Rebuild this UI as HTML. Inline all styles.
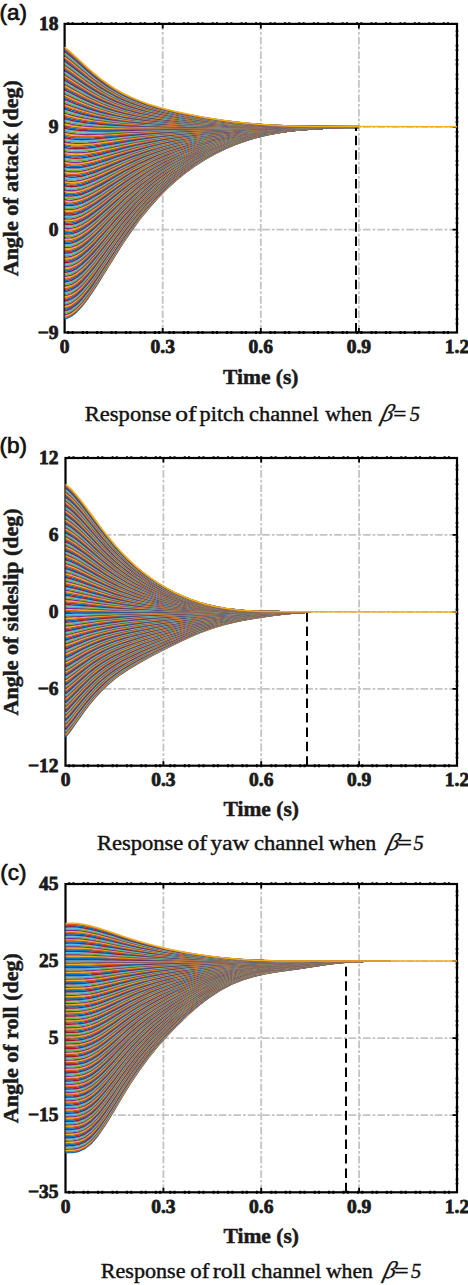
<!DOCTYPE html>
<html><head><meta charset="utf-8"><style>
html,body{margin:0;padding:0;background:#fff;}
body{width:468px;height:1285px;overflow:hidden;position:relative;}
svg{position:absolute;left:0;top:0;}
.grid line{stroke:#c4c4c4;stroke-width:1.8;stroke-dasharray:7.7 2 2.7 2;fill:none;}
.crv path{fill:none;stroke-width:1.5;stroke-linejoin:round;}
.dsh{stroke:#000;stroke-width:2;stroke-dasharray:9.5 4.9;}
.ax{fill:none;stroke:#000;stroke-width:2.2;}
.tk{stroke:#000;stroke-width:1.8;fill:none;}
.bump{stroke:#000;stroke-width:2.9;fill:none;stroke-dasharray:2 2.3 2 8.14;stroke-dashoffset:11.74;}
.bt{stroke-width:2.4;}
.bumpv{stroke:#000;stroke-width:2.6;fill:none;stroke-dasharray:2 2.2 2 8.2;stroke-dashoffset:8;}
.tl text{font-family:"Liberation Serif",serif;font-weight:bold;font-size:19.5px;fill:#1a1a1a;stroke:#1a1a1a;stroke-width:0.8;}
.xl{font-family:"Liberation Serif",serif;font-weight:bold;font-size:21.5px;fill:#1a1a1a;stroke:#1a1a1a;stroke-width:0.5;}
.yl{font-size:22px;}
.pl{font-family:"Liberation Sans",sans-serif;font-size:22.5px;fill:#111;stroke:#111;stroke-width:0.7;}
.cap{font-family:"Liberation Serif",serif;font-size:20.5px;fill:#111;stroke:#111;stroke-width:0.4;}
.beta{font-style:italic;font-size:24px;stroke-width:0.3;}
</style></head><body>
<svg width="468" height="1285" viewBox="0 0 468 1285" xmlns="http://www.w3.org/2000/svg">

<g class="grid"><line x1="162.7" y1="332.5" x2="162.7" y2="23.9"/><line x1="260.8" y1="332.5" x2="260.8" y2="23.9"/><line x1="358.9" y1="332.5" x2="358.9" y2="23.9"/><line x1="457" y1="126.8" x2="64.6" y2="126.8"/><line x1="457" y1="229.6" x2="64.6" y2="229.6"/></g>
<path class="bump" d="M64.6 332.5H457"/>
<path class="bump bt" d="M64.6 23.4H457"/>
<path class="bumpv" d="M457 23.9V332.5"/>
<rect class="ax" x="64.6" y="23.9" width="392.4" height="308.6"/>
<path class="tk" d="M162.7 332.5v-4.5M162.7 23.9v4.5M260.8 332.5v-4.5M260.8 23.9v4.5M358.9 332.5v-4.5M358.9 23.9v4.5M64.6 126.8h4.5M457 126.8h-4.5M64.6 229.6h4.5M457 229.6h-4.5"/>
<g class="crv"><path d="M64.6 318.8l2.6 -0.6 4.1 -2 4.9 -3.9 5.5 -5.8 5.9 -7.7 6.5 -9.5 6.8 -10.7 7.2 -11.7 7.5 -12.1 7.7 -12.1 8.1 -11.9 8.3 -11.4 8.6 -10.7 8.8 -10 9 -9.3 9.3 -8.4 9.4 -7.8 9.7 -7 9.8 -6.4 10 -5.7 10.2 -5.1 10.4 -4.4 10.5 -3.8 10.7 -3.3 10.9 -2.6 11 -2.2 11.1 -1.6 11.3 -1.3 11.5 -0.9 11.6 -0.6 11.7 -0.5 11.8 -0.2 12 -0.2" stroke="#0072BD" stroke-width="1.8"/>
<path d="M64.6 317.4l2.6 -0.6 4.1 -2 4.9 -3.7 5.5 -5.8 5.9 -7.7 6.5 -9.4 6.8 -10.7 7.2 -11.5 7.5 -12 7.7 -12.1 8.1 -11.8 8.3 -11.3 8.6 -10.7 8.8 -9.9 9 -9.2 9.3 -8.4 9.4 -7.7 9.7 -7 9.8 -6.3 10 -5.6 10.2 -5.1 10.4 -4.4 10.5 -3.8 10.7 -3.2 10.9 -2.7 11 -2.1 11.1 -1.6 11.3 -1.3 11.5 -0.9 11.6 -0.6 11.7 -0.5 11.8 -0.2 12 -0.2" stroke="#D95319"/>
<path d="M64.6 316.1l2.6 -0.7 4.1 -1.9 4.9 -3.7 5.5 -5.7 5.9 -7.7 6.5 -9.3 6.8 -10.6 7.2 -11.5 7.5 -11.9 7.7 -12 8.1 -11.7 8.3 -11.2 8.6 -10.6 8.8 -9.9 9 -9.1 9.3 -8.3 9.4 -7.7 9.7 -6.9 9.8 -6.3 10 -5.6 10.2 -5 10.4 -4.4 10.5 -3.8 10.7 -3.2 10.9 -2.6 11 -2.1 11.1 -1.6 11.3 -1.3 11.5 -0.9 11.6 -0.6 11.7 -0.4 11.8 -0.3 12 -0.2" stroke="#EDB120"/>
<path d="M64.6 314.7l2.6 -0.6 4.1 -1.9 4.9 -3.7 5.5 -5.7 5.9 -7.5 6.5 -9.3 6.8 -10.5 7.2 -11.4 7.5 -11.8 7.7 -11.9 8.1 -11.7 8.3 -11.1 8.6 -10.5 8.8 -9.8 9 -9.1 9.3 -8.3 9.4 -7.6 9.7 -6.9 9.8 -6.2 10 -5.6 10.2 -4.9 10.4 -4.4 10.5 -3.8 10.7 -3.1 10.9 -2.6 11 -2.1 11.1 -1.7 11.3 -1.2 11.5 -0.9 11.6 -0.6 11.7 -0.4 11.8 -0.3 12 -0.2" stroke="#7E2F8E"/>
<path d="M64.6 313.3l2.6 -0.6 4.1 -1.8 4.9 -3.7 5.5 -5.6 5.9 -7.5 6.5 -9.2 6.8 -10.4 7.2 -11.3 7.5 -11.8 7.7 -11.8 8.1 -11.6 8.3 -11 8.6 -10.5 8.8 -9.7 9 -9 9.3 -8.2 9.4 -7.6 9.7 -6.8 9.8 -6.2 10 -5.5 10.2 -5 10.4 -4.3 10.5 -3.7 10.7 -3.2 10.9 -2.6 11 -2.1 11.1 -1.6 11.3 -1.2 11.5 -0.9 11.6 -0.6 11.7 -0.4 11.8 -0.3 12 -0.2" stroke="#77AC30"/>
<path d="M64.6 311.9l2.6 -0.5 4.1 -1.9 4.9 -3.6 5.5 -5.5 5.9 -7.5 6.5 -9.1 6.8 -10.4 7.2 -11.2 7.5 -11.6 7.7 -11.8 8.1 -11.4 8.3 -11 8.6 -10.4 8.8 -9.7 9 -8.9 9.3 -8.2 9.4 -7.5 9.7 -6.7 9.8 -6.2 10 -5.5 10.2 -4.9 10.4 -4.3 10.5 -3.7 10.7 -3.1 10.9 -2.6 11 -2.1 11.1 -1.6 11.3 -1.2 11.5 -0.9 11.6 -0.6 11.7 -0.4 11.8 -0.3 12 -0.2" stroke="#4DBEEE"/>
<path d="M64.6 310.6l2.6 -0.6 4.1 -1.8 4.9 -3.6 5.5 -5.5 5.9 -7.4 6.5 -9 6.8 -10.3 7.2 -11.1 7.5 -11.6 7.7 -11.6 8.1 -11.4 8.3 -10.9 8.6 -10.3 8.8 -9.6 9 -8.9 9.3 -8.1 9.4 -7.4 9.7 -6.8 9.8 -6.1 10 -5.5 10.2 -4.8 10.4 -4.3 10.5 -3.7 10.7 -3.1 10.9 -2.6 11 -2 11.1 -1.6 11.3 -1.2 11.5 -0.9 11.6 -0.6 11.7 -0.4 11.8 -0.3 12 -0.2" stroke="#A2142F"/>
<path d="M64.6 309.2l2.6 -0.5 4.1 -1.8 4.9 -3.6 5.5 -5.4 5.9 -7.3 6.5 -9 6.8 -10.2 7.2 -11.1 7.5 -11.5 7.7 -11.5 8.1 -11.3 8.3 -10.9 8.6 -10.2 8.8 -9.5 9 -8.8 9.3 -8.1 9.4 -7.3 9.7 -6.7 9.8 -6.1 10 -5.4 10.2 -4.9 10.4 -4.2 10.5 -3.7 10.7 -3.1 10.9 -2.5 11 -2 11.1 -1.6 11.3 -1.2 11.5 -0.9 11.6 -0.6 11.7 -0.4 11.8 -0.3 12 -0.2" stroke="#0072BD"/>
<path d="M64.6 307.8l2.6 -0.5 4.1 -1.7 4.9 -3.5 5.5 -5.4 5.9 -7.3 6.5 -8.9 6.8 -10.1 7.2 -11 7.5 -11.4 7.7 -11.5 8.1 -11.2 8.3 -10.8 8.6 -10.1 8.8 -9.5 9 -8.7 9.3 -8 9.4 -7.3 9.7 -6.7 9.8 -6 10 -5.4 10.2 -4.8 10.4 -4.2 10.5 -3.7 10.7 -3 10.9 -2.5 11 -2.1 11.1 -1.5 11.3 -1.2 11.5 -0.9 11.6 -0.6 11.7 -0.4 11.8 -0.3 12 -0.2" stroke="#D95319"/>
<path d="M64.6 306.5l2.6 -0.5 4.1 -1.8 4.9 -3.4 5.5 -5.4 5.9 -7.2 6.5 -8.8 6.8 -10 7.2 -10.9 7.5 -11.4 7.7 -11.3 8.1 -11.2 8.3 -10.7 8.6 -10 8.8 -9.4 9 -8.7 9.3 -8 9.4 -7.2 9.7 -6.6 9.8 -6 10 -5.4 10.2 -4.7 10.4 -4.2 10.5 -3.6 10.7 -3.1 10.9 -2.5 11 -2 11.1 -1.5 11.3 -1.2 11.5 -0.9 11.6 -0.6 11.7 -0.4 11.8 -0.3 12 -0.2" stroke="#EDB120"/>
<path d="M64.6 305.1l2.6 -0.5 4.1 -1.7 4.9 -3.4 5.5 -5.3 5.9 -7.1 6.5 -8.8 6.8 -10 7.2 -10.8 7.5 -11.2 7.7 -11.3 8.1 -11.1 8.3 -10.6 8.6 -10 8.8 -9.3 9 -8.6 9.3 -7.9 9.4 -7.2 9.7 -6.6 9.8 -5.9 10 -5.3 10.2 -4.8 10.4 -4.1 10.5 -3.6 10.7 -3 10.9 -2.5 11 -2 11.1 -1.6 11.3 -1.1 11.5 -0.9 11.6 -0.6 11.7 -0.4 11.8 -0.3 12 -0.2" stroke="#7E2F8E"/>
<path d="M64.6 303.7l2.6 -0.4 4.1 -1.7 4.9 -3.4 5.5 -5.2 5.9 -7.1 6.5 -8.7 6.8 -9.9 7.2 -10.7 7.5 -11.2 7.7 -11.2 8.1 -11 8.3 -10.5 8.6 -9.9 8.8 -9.3 9 -8.5 9.3 -7.9 9.4 -7.1 9.7 -6.5 9.8 -5.9 10 -5.3 10.2 -4.7 10.4 -4.1 10.5 -3.6 10.7 -3 10.9 -2.5 11 -1.9 11.1 -1.6 11.3 -1.1 11.5 -0.9 11.6 -0.6 11.7 -0.4 11.8 -0.3 12 -0.2" stroke="#77AC30"/>
<path d="M64.6 302.3l2.6 -0.4 4.1 -1.6 4.9 -3.4 5.5 -5.2 5.9 -7 6.5 -8.6 6.8 -9.8 7.2 -10.6 7.5 -11.1 7.7 -11.1 8.1 -10.9 8.3 -10.5 8.6 -9.8 8.8 -9.2 9 -8.5 9.3 -7.8 9.4 -7.1 9.7 -6.5 9.8 -5.8 10 -5.3 10.2 -4.6 10.4 -4.1 10.5 -3.6 10.7 -2.9 10.9 -2.5 11 -2 11.1 -1.5 11.3 -1.1 11.5 -0.9 11.6 -0.6 11.7 -0.4 11.8 -0.3 12 -0.2" stroke="#4DBEEE"/>
<path d="M64.6 301l2.6 -0.5 4.1 -1.6 4.9 -3.3 5.5 -5.1 5.9 -7 6.5 -8.5 6.8 -9.7 7.2 -10.6 7.5 -11 7.7 -11 8.1 -10.8 8.3 -10.4 8.6 -9.8 8.8 -9.1 9 -8.4 9.3 -7.7 9.4 -7.1 9.7 -6.4 9.8 -5.8 10 -5.2 10.2 -4.7 10.4 -4 10.5 -3.5 10.7 -3 10.9 -2.4 11 -2 11.1 -1.5 11.3 -1.2 11.5 -0.8 11.6 -0.6 11.7 -0.4 11.8 -0.3 12 -0.2" stroke="#A2142F"/>
<path d="M64.6 299.6l2.6 -0.4 4.1 -1.6 4.9 -3.2 5.5 -5.1 5.9 -6.9 6.5 -8.5 6.8 -9.6 7.2 -10.5 7.5 -10.9 7.7 -11 8.1 -10.7 8.3 -10.3 8.6 -9.7 8.8 -9.1 9 -8.3 9.3 -7.7 9.4 -7 9.7 -6.4 9.8 -5.7 10 -5.2 10.2 -4.6 10.4 -4 10.5 -3.5 10.7 -3 10.9 -2.4 11 -1.9 11.1 -1.5 11.3 -1.2 11.5 -0.8 11.6 -0.6 11.7 -0.4 11.8 -0.3 12 -0.2" stroke="#0072BD"/>
<path d="M64.6 298.2l2.6 -0.4 4.1 -1.5 4.9 -3.2 5.5 -5.1 5.9 -6.8 6.5 -8.4 6.8 -9.6 7.2 -10.4 7.5 -10.8 7.7 -10.9 8.1 -10.6 8.3 -10.2 8.6 -9.7 8.8 -8.9 9 -8.3 9.3 -7.6 9.4 -7 9.7 -6.3 9.8 -5.7 10 -5.2 10.2 -4.5 10.4 -4 10.5 -3.5 10.7 -2.9 10.9 -2.4 11 -1.9 11.1 -1.5 11.3 -1.2 11.5 -0.8 11.6 -0.6 11.7 -0.4 11.8 -0.3 12 -0.2" stroke="#D95319"/>
<path d="M64.6 296.9l2.6 -0.4 4.1 -1.6 4.9 -3.1 5.5 -5 5.9 -6.8 6.5 -8.3 6.8 -9.5 7.2 -10.3 7.5 -10.7 7.7 -10.8 8.1 -10.6 8.3 -10.1 8.6 -9.6 8.8 -8.9 9 -8.2 9.3 -7.6 9.4 -6.9 9.7 -6.3 9.8 -5.6 10 -5.1 10.2 -4.6 10.4 -3.9 10.5 -3.5 10.7 -2.9 10.9 -2.4 11 -1.9 11.1 -1.5 11.3 -1.1 11.5 -0.8 11.6 -0.6 11.7 -0.4 11.8 -0.3 12 -0.2" stroke="#EDB120"/>
<path d="M64.6 295.5l2.6 -0.4 4.1 -1.5 4.9 -3.1 5.5 -4.9 5.9 -6.7 6.5 -8.3 6.8 -9.4 7.2 -10.2 7.5 -10.7 7.7 -10.7 8.1 -10.5 8.3 -10 8.6 -9.5 8.8 -8.9 9 -8.1 9.3 -7.5 9.4 -6.9 9.7 -6.2 9.8 -5.6 10 -5.1 10.2 -4.5 10.4 -3.9 10.5 -3.5 10.7 -2.8 10.9 -2.4 11 -1.9 11.1 -1.5 11.3 -1.1 11.5 -0.8 11.6 -0.6 11.7 -0.4 11.8 -0.3 12 -0.2" stroke="#7E2F8E"/>
<path d="M64.6 294.1l2.6 -0.3 4.1 -1.5 4.9 -3.1 5.5 -4.9 5.9 -6.6 6.5 -8.2 6.8 -9.3 7.2 -10.2 7.5 -10.5 7.7 -10.7 8.1 -10.4 8.3 -10 8.6 -9.4 8.8 -8.7 9 -8.1 9.3 -7.5 9.4 -6.8 9.7 -6.2 9.8 -5.6 10 -5 10.2 -4.4 10.4 -4 10.5 -3.3 10.7 -2.9 10.9 -2.3 11 -1.9 11.1 -1.5 11.3 -1.1 11.5 -0.8 11.6 -0.6 11.7 -0.4 11.8 -0.3 12 -0.2" stroke="#77AC30"/>
<path d="M64.6 292.7l2.6 -0.3 4.1 -1.4 4.9 -3.1 5.5 -4.8 5.9 -6.6 6.5 -8.1 6.8 -9.3 7.2 -10 7.5 -10.5 7.7 -10.5 8.1 -10.4 8.3 -9.9 8.6 -9.3 8.8 -8.7 9 -8.1 9.3 -7.3 9.4 -6.8 9.7 -6.1 9.8 -5.6 10 -4.9 10.2 -4.5 10.4 -3.9 10.5 -3.3 10.7 -2.8 10.9 -2.4 11 -1.8 11.1 -1.5 11.3 -1.1 11.5 -0.8 11.6 -0.6 11.7 -0.4 11.8 -0.3 12 -0.2" stroke="#4DBEEE"/>
<path d="M64.6 291.4l2.6 -0.3 4.1 -1.5 4.9 -3 5.5 -4.7 5.9 -6.6 6.5 -8 6.8 -9.2 7.2 -10 7.5 -10.4 7.7 -10.4 8.1 -10.3 8.3 -9.8 8.6 -9.2 8.8 -8.7 9 -8 9.3 -7.3 9.4 -6.7 9.7 -6.1 9.8 -5.5 10 -4.9 10.2 -4.4 10.4 -3.9 10.5 -3.3 10.7 -2.8 10.9 -2.3 11 -1.9 11.1 -1.4 11.3 -1.1 11.5 -0.8 11.6 -0.6 11.7 -0.4 11.8 -0.3 12 -0.1" stroke="#A2142F"/>
<path d="M64.6 290l2.6 -0.3 4.1 -1.4 4.9 -3 5.5 -4.7 5.9 -6.4 6.5 -8 6.8 -9.1 7.2 -9.9 7.5 -10.3 7.7 -10.4 8.1 -10.1 8.3 -9.8 8.6 -9.2 8.8 -8.5 9 -8 9.3 -7.2 9.4 -6.7 9.7 -6 9.8 -5.5 10 -4.9 10.2 -4.3 10.4 -3.9 10.5 -3.3 10.7 -2.8 10.9 -2.3 11 -1.8 11.1 -1.4 11.3 -1.1 11.5 -0.8 11.6 -0.6 11.7 -0.4 11.8 -0.3 12 -0.1" stroke="#0072BD"/>
<path d="M64.6 288.6l2.6 -0.3 4.1 -1.3 4.9 -2.9 5.5 -4.7 5.9 -6.4 6.5 -7.9 6.8 -9 7.2 -9.8 7.5 -10.3 7.7 -10.3 8.1 -10 8.3 -9.7 8.6 -9.1 8.8 -8.5 9 -7.9 9.3 -7.2 9.4 -6.6 9.7 -6 9.8 -5.4 10 -4.8 10.2 -4.4 10.4 -3.8 10.5 -3.2 10.7 -2.8 10.9 -2.3 11 -1.8 11.1 -1.4 11.3 -1.1 11.5 -0.8 11.6 -0.6 11.7 -0.4 11.8 -0.3 12 -0.1" stroke="#D95319"/>
<path d="M64.6 287.3l2.6 -0.3 4.1 -1.3 4.9 -2.9 5.5 -4.7 5.9 -6.3 6.5 -7.8 6.8 -9 7.2 -9.7 7.5 -10.1 7.7 -10.2 8.1 -10 8.3 -9.6 8.6 -9.1 8.8 -8.4 9 -7.8 9.3 -7.1 9.4 -6.6 9.7 -5.9 9.8 -5.4 10 -4.8 10.2 -4.3 10.4 -3.8 10.5 -3.2 10.7 -2.8 10.9 -2.2 11 -1.8 11.1 -1.5 11.3 -1 11.5 -0.8 11.6 -0.6 11.7 -0.4 11.8 -0.3 12 -0.1" stroke="#EDB120"/>
<path d="M64.6 285.9l2.6 -0.3 4.1 -1.3 4.9 -2.8 5.5 -4.6 5.9 -6.3 6.5 -7.7 6.8 -8.9 7.2 -9.6 7.5 -10.1 7.7 -10.1 8.1 -9.9 8.3 -9.5 8.6 -9 8.8 -8.4 9 -7.7 9.3 -7.1 9.4 -6.5 9.7 -5.9 9.8 -5.3 10 -4.8 10.2 -4.2 10.4 -3.8 10.5 -3.2 10.7 -2.7 10.9 -2.3 11 -1.8 11.1 -1.4 11.3 -1 11.5 -0.8 11.6 -0.6 11.7 -0.4 11.8 -0.3 12 -0.1" stroke="#7E2F8E"/>
<path d="M64.6 284.5l2.6 -0.2 4.1 -1.3 4.9 -2.8 5.5 -4.5 5.9 -6.2 6.5 -7.7 6.8 -8.8 7.2 -9.6 7.5 -9.9 7.7 -10.1 8.1 -9.8 8.3 -9.4 8.6 -8.9 8.8 -8.3 9 -7.7 9.3 -7 9.4 -6.5 9.7 -5.8 9.8 -5.3 10 -4.7 10.2 -4.3 10.4 -3.7 10.5 -3.2 10.7 -2.7 10.9 -2.2 11 -1.8 11.1 -1.4 11.3 -1.1 11.5 -0.7 11.6 -0.6 11.7 -0.4 11.8 -0.3 12 -0.1" stroke="#77AC30"/>
<path d="M64.6 283.1l2.6 -0.2 4.1 -1.2 4.9 -2.8 5.5 -4.5 5.9 -6.1 6.5 -7.6 6.8 -8.7 7.2 -9.5 7.5 -9.9 7.7 -9.9 8.1 -9.8 8.3 -9.3 8.6 -8.9 8.8 -8.2 9 -7.6 9.3 -7 9.4 -6.4 9.7 -5.8 9.8 -5.2 10 -4.7 10.2 -4.2 10.4 -3.7 10.5 -3.2 10.7 -2.6 10.9 -2.3 11 -1.7 11.1 -1.4 11.3 -1.1 11.5 -0.7 11.6 -0.6 11.7 -0.4 11.8 -0.2 12 -0.2" stroke="#4DBEEE"/>
<path d="M64.6 281.8l2.6 -0.2 4.1 -1.2 4.9 -2.8 5.5 -4.4 5.9 -6.1 6.5 -7.5 6.8 -8.7 7.2 -9.4 7.5 -9.8 7.7 -9.8 8.1 -9.7 8.3 -9.3 8.6 -8.7 8.8 -8.2 9 -7.5 9.3 -6.9 9.4 -6.4 9.7 -5.7 9.8 -5.2 10 -4.7 10.2 -4.1 10.4 -3.7 10.5 -3.1 10.7 -2.7 10.9 -2.2 11 -1.8 11.1 -1.3 11.3 -1.1 11.5 -0.7 11.6 -0.6 11.7 -0.4 11.8 -0.2 12 -0.2" stroke="#A2142F"/>
<path d="M64.6 280.4l2.6 -0.2 4.1 -1.2 4.9 -2.7 5.5 -4.3 5.9 -6.1 6.5 -7.4 6.8 -8.6 7.2 -9.3 7.5 -9.7 7.7 -9.8 8.1 -9.6 8.3 -9.2 8.6 -8.6 8.8 -8.1 9 -7.5 9.3 -6.9 9.4 -6.2 9.7 -5.8 9.8 -5.1 10 -4.7 10.2 -4.1 10.4 -3.6 10.5 -3.1 10.7 -2.7 10.9 -2.1 11 -1.8 11.1 -1.3 11.3 -1.1 11.5 -0.7 11.6 -0.6 11.7 -0.4 11.8 -0.2 12 -0.2" stroke="#0072BD"/>
<path d="M64.6 279l2.6 -0.1 4.1 -1.2 4.9 -2.7 5.5 -4.3 5.9 -5.9 6.5 -7.4 6.8 -8.5 7.2 -9.2 7.5 -9.7 7.7 -9.7 8.1 -9.5 8.3 -9.1 8.6 -8.6 8.8 -8 9 -7.4 9.3 -6.8 9.4 -6.2 9.7 -5.7 9.8 -5.1 10 -4.6 10.2 -4.1 10.4 -3.6 10.5 -3.1 10.7 -2.6 10.9 -2.2 11 -1.7 11.1 -1.4 11.3 -1 11.5 -0.7 11.6 -0.6 11.7 -0.4 11.8 -0.2 12 -0.2" stroke="#D95319"/>
<path d="M64.6 277.6l2.6 -0.1 4.1 -1.1 4.9 -2.6 5.5 -4.3 5.9 -5.9 6.5 -7.3 6.8 -8.4 7.2 -9.2 7.5 -9.5 7.7 -9.6 8.1 -9.5 8.3 -9 8.6 -8.5 8.8 -8 9 -7.3 9.3 -6.8 9.4 -6.1 9.7 -5.7 9.8 -5 10 -4.6 10.2 -4 10.4 -3.6 10.5 -3.1 10.7 -2.6 10.9 -2.1 11 -1.7 11.1 -1.4 11.3 -1 11.5 -0.8 11.6 -0.5 11.7 -0.4 11.8 -0.2 12 -0.2" stroke="#EDB120"/>
<path d="M64.6 276.3l2.6 -0.2 4.1 -1.1 4.9 -2.5 5.5 -4.3 5.9 -5.8 6.5 -7.2 6.8 -8.4 7.2 -9 7.5 -9.5 7.7 -9.5 8.1 -9.3 8.3 -9 8.6 -8.5 8.8 -7.8 9 -7.3 9.3 -6.7 9.4 -6.1 9.7 -5.6 9.8 -5 10 -4.6 10.2 -4 10.4 -3.5 10.5 -3.1 10.7 -2.5 10.9 -2.2 11 -1.7 11.1 -1.3 11.3 -1 11.5 -0.8 11.6 -0.5 11.7 -0.4 11.8 -0.2 12 -0.2" stroke="#7E2F8E"/>
<path d="M64.6 274.9l2.6 -0.1 4.1 -1.1 4.9 -2.5 5.5 -4.2 5.9 -5.8 6.5 -7.1 6.8 -8.3 7.2 -9 7.5 -9.3 7.7 -9.5 8.1 -9.2 8.3 -8.9 8.6 -8.4 8.8 -7.8 9 -7.2 9.3 -6.7 9.4 -6 9.7 -5.6 9.8 -4.9 10 -4.5 10.2 -4 10.4 -3.5 10.5 -3 10.7 -2.6 10.9 -2.1 11 -1.7 11.1 -1.3 11.3 -1 11.5 -0.8 11.6 -0.5 11.7 -0.4 11.8 -0.2 12 -0.2" stroke="#77AC30"/>
<path d="M64.6 273.5l2.6 -0.1 4.1 -1 4.9 -2.5 5.5 -4.1 5.9 -5.7 6.5 -7.1 6.8 -8.2 7.2 -8.9 7.5 -9.3 7.7 -9.4 8.1 -9.1 8.3 -8.8 8.6 -8.3 8.8 -7.8 9 -7.2 9.3 -6.5 9.4 -6 9.7 -5.5 9.8 -5 10 -4.4 10.2 -3.9 10.4 -3.5 10.5 -3 10.7 -2.5 10.9 -2.1 11 -1.7 11.1 -1.3 11.3 -1 11.5 -0.8 11.6 -0.5 11.7 -0.4 11.8 -0.2 12 -0.2" stroke="#4DBEEE"/>
<path d="M64.6 272.2l2.6 -0.1 4.1 -1 4.9 -2.5 5.5 -4.1 5.9 -5.6 6.5 -7 6.8 -8.1 7.2 -8.9 7.5 -9.2 7.7 -9.2 8.1 -9.1 8.3 -8.8 8.6 -8.2 8.8 -7.7 9 -7.1 9.3 -6.5 9.4 -5.9 9.7 -5.5 9.8 -4.9 10 -4.4 10.2 -3.9 10.4 -3.4 10.5 -3 10.7 -2.5 10.9 -2.1 11 -1.6 11.1 -1.3 11.3 -1 11.5 -0.8 11.6 -0.5 11.7 -0.4 11.8 -0.2 12 -0.2" stroke="#A2142F"/>
<path d="M64.6 270.8l2.6 -0.1 4.1 -1 4.9 -2.4 5.5 -4 5.9 -5.6 6.5 -7 6.8 -8 7.2 -8.7 7.5 -9.1 7.7 -9.2 8.1 -9 8.3 -8.7 8.6 -8.1 8.8 -7.6 9 -7.1 9.3 -6.4 9.4 -5.9 9.7 -5.4 9.8 -4.9 10 -4.3 10.2 -3.9 10.4 -3.4 10.5 -3 10.7 -2.5 10.9 -2 11 -1.7 11.1 -1.3 11.3 -0.9 11.5 -0.8 11.6 -0.5 11.7 -0.4 11.8 -0.2 12 -0.2" stroke="#0072BD"/>
<path d="M64.6 269.4l2.6 0 4.1 -1 4.9 -2.4 5.5 -4 5.9 -5.5 6.5 -6.9 6.8 -7.9 7.2 -8.7 7.5 -9 7.7 -9.1 8.1 -8.9 8.3 -8.6 8.6 -8.1 8.8 -7.5 9 -7 9.3 -6.4 9.4 -5.8 9.7 -5.4 9.8 -4.8 10 -4.3 10.2 -3.9 10.4 -3.3 10.5 -3 10.7 -2.4 10.9 -2.1 11 -1.6 11.1 -1.3 11.3 -1 11.5 -0.7 11.6 -0.5 11.7 -0.4 11.8 -0.2 12 -0.2" stroke="#D95319"/>
<path d="M64.6 268l2.6 0 4.1 -0.9 4.9 -2.4 5.5 -3.9 5.9 -5.5 6.5 -6.8 6.8 -7.8 7.2 -8.6 7.5 -9 7.7 -9 8.1 -8.8 8.3 -8.5 8.6 -8 8.8 -7.5 9 -6.9 9.3 -6.3 9.4 -5.8 9.7 -5.3 9.8 -4.8 10 -4.3 10.2 -3.8 10.4 -3.3 10.5 -2.9 10.7 -2.5 10.9 -2 11 -1.6 11.1 -1.3 11.3 -1 11.5 -0.7 11.6 -0.5 11.7 -0.4 11.8 -0.2 12 -0.2" stroke="#EDB120"/>
<path d="M64.6 266.7l2.6 -0.1 4.1 -0.9 4.9 -2.3 5.5 -3.8 5.9 -5.4 6.5 -6.8 6.8 -7.8 7.2 -8.5 7.5 -8.8 7.7 -9 8.1 -8.7 8.3 -8.4 8.6 -8 8.8 -7.4 9 -6.8 9.3 -6.3 9.4 -5.7 9.7 -5.3 9.8 -4.7 10 -4.2 10.2 -3.8 10.4 -3.4 10.5 -2.8 10.7 -2.4 10.9 -2 11 -1.7 11.1 -1.2 11.3 -1 11.5 -0.7 11.6 -0.5 11.7 -0.4 11.8 -0.2 12 -0.2" stroke="#7E2F8E"/>
<path d="M64.6 265.3l2.6 0 4.1 -0.9 4.9 -2.3 5.5 -3.8 5.9 -5.3 6.5 -6.7 6.8 -7.7 7.2 -8.4 7.5 -8.8 7.7 -8.8 8.1 -8.7 8.3 -8.3 8.6 -7.9 8.8 -7.3 9 -6.8 9.3 -6.2 9.4 -5.7 9.7 -5.2 9.8 -4.7 10 -4.2 10.2 -3.8 10.4 -3.3 10.5 -2.8 10.7 -2.4 10.9 -2 11 -1.6 11.1 -1.2 11.3 -1 11.5 -0.7 11.6 -0.5 11.7 -0.4 11.8 -0.2 12 -0.2" stroke="#77AC30"/>
<path d="M64.6 263.9l2.6 0 4.1 -0.8 4.9 -2.2 5.5 -3.8 5.9 -5.3 6.5 -6.6 6.8 -7.6 7.2 -8.4 7.5 -8.6 7.7 -8.8 8.1 -8.6 8.3 -8.3 8.6 -7.7 8.8 -7.3 9 -6.7 9.3 -6.2 9.4 -5.6 9.7 -5.2 9.8 -4.6 10 -4.2 10.2 -3.7 10.4 -3.3 10.5 -2.8 10.7 -2.4 10.9 -1.9 11 -1.6 11.1 -1.3 11.3 -0.9 11.5 -0.7 11.6 -0.5 11.7 -0.4 11.8 -0.2 12 -0.2" stroke="#4DBEEE"/>
<path d="M64.6 262.6l2.6 0 4.1 -0.9 4.9 -2.1 5.5 -3.8 5.9 -5.2 6.5 -6.5 6.8 -7.6 7.2 -8.2 7.5 -8.6 7.7 -8.7 8.1 -8.5 8.3 -8.2 8.6 -7.7 8.8 -7.2 9 -6.6 9.3 -6.2 9.4 -5.5 9.7 -5.1 9.8 -4.6 10 -4.2 10.2 -3.6 10.4 -3.3 10.5 -2.8 10.7 -2.3 10.9 -2 11 -1.5 11.1 -1.3 11.3 -0.9 11.5 -0.7 11.6 -0.5 11.7 -0.4 11.8 -0.2 12 -0.2" stroke="#A2142F"/>
<path d="M64.6 261.2l2.6 0 4.1 -0.8 4.9 -2.1 5.5 -3.7 5.9 -5.2 6.5 -6.4 6.8 -7.5 7.2 -8.2 7.5 -8.5 7.7 -8.6 8.1 -8.4 8.3 -8.1 8.6 -7.6 8.8 -7.2 9 -6.6 9.3 -6 9.4 -5.5 9.7 -5.1 9.8 -4.5 10 -4.1 10.2 -3.7 10.4 -3.2 10.5 -2.7 10.7 -2.4 10.9 -1.9 11 -1.6 11.1 -1.2 11.3 -0.9 11.5 -0.7 11.6 -0.5 11.7 -0.4 11.8 -0.2 12 -0.2" stroke="#0072BD"/>
<path d="M64.6 259.8l2.6 0.1 4.1 -0.8 4.9 -2.1 5.5 -3.7 5.9 -5.1 6.5 -6.3 6.8 -7.4 7.2 -8.1 7.5 -8.4 7.7 -8.6 8.1 -8.3 8.3 -8 8.6 -7.6 8.8 -7 9 -6.6 9.3 -6 9.4 -5.4 9.7 -5 9.8 -4.6 10 -4 10.2 -3.6 10.4 -3.2 10.5 -2.7 10.7 -2.3 10.9 -2 11 -1.5 11.1 -1.2 11.3 -0.9 11.5 -0.7 11.6 -0.5 11.7 -0.4 11.8 -0.2 12 -0.2" stroke="#D95319"/>
<path d="M64.6 258.4l2.6 0.1 4.1 -0.7 4.9 -2.1 5.5 -3.6 5.9 -5 6.5 -6.4 6.8 -7.3 7.2 -8 7.5 -8.3 7.7 -8.4 8.1 -8.3 8.3 -7.9 8.6 -7.5 8.8 -7 9 -6.5 9.3 -5.9 9.4 -5.5 9.7 -4.9 9.8 -4.5 10 -4 10.2 -3.6 10.4 -3.1 10.5 -2.7 10.7 -2.3 10.9 -1.9 11 -1.5 11.1 -1.2 11.3 -0.9 11.5 -0.7 11.6 -0.5 11.7 -0.4 11.8 -0.2 12 -0.2" stroke="#EDB120"/>
<path d="M64.6 257.1l2.6 0 4.1 -0.7 4.9 -2 5.5 -3.5 5.9 -5 6.5 -6.3 6.8 -7.2 7.2 -7.9 7.5 -8.3 7.7 -8.3 8.1 -8.2 8.3 -7.9 8.6 -7.4 8.8 -6.9 9 -6.4 9.3 -5.9 9.4 -5.4 9.7 -4.8 9.8 -4.5 10 -4 10.2 -3.5 10.4 -3.1 10.5 -2.7 10.7 -2.3 10.9 -1.8 11 -1.6 11.1 -1.1 11.3 -1 11.5 -0.6 11.6 -0.5 11.7 -0.4 11.8 -0.2 12 -0.2" stroke="#7E2F8E"/>
<path d="M64.6 255.7l2.6 0.1 4.1 -0.7 4.9 -2 5.5 -3.5 5.9 -4.9 6.5 -6.2 6.8 -7.1 7.2 -7.9 7.5 -8.1 7.7 -8.3 8.1 -8.1 8.3 -7.8 8.6 -7.3 8.8 -6.9 9 -6.3 9.3 -5.8 9.4 -5.4 9.7 -4.8 9.8 -4.4 10 -3.9 10.2 -3.5 10.4 -3.1 10.5 -2.7 10.7 -2.2 10.9 -1.9 11 -1.5 11.1 -1.2 11.3 -0.9 11.5 -0.6 11.6 -0.5 11.7 -0.4 11.8 -0.2 12 -0.2" stroke="#77AC30"/>
<path d="M64.6 254.3l2.6 0.1 4.1 -0.6 4.9 -2 5.5 -3.4 5.9 -4.9 6.5 -6.1 6.8 -7.1 7.2 -7.7 7.5 -8.1 7.7 -8.2 8.1 -8 8.3 -7.7 8.6 -7.3 8.8 -6.8 9 -6.2 9.3 -5.8 9.4 -5.3 9.7 -4.8 9.8 -4.3 10 -3.9 10.2 -3.5 10.4 -3 10.5 -2.7 10.7 -2.2 10.9 -1.8 11 -1.5 11.1 -1.2 11.3 -0.9 11.5 -0.6 11.6 -0.5 11.7 -0.4 11.8 -0.2 12 -0.2" stroke="#4DBEEE"/>
<path d="M64.6 253l2.6 0.1 4.1 -0.7 4.9 -1.9 5.5 -3.4 5.9 -4.8 6.5 -6 6.8 -7 7.2 -7.7 7.5 -8 7.7 -8.1 8.1 -7.9 8.3 -7.6 8.6 -7.2 8.8 -6.7 9 -6.2 9.3 -5.7 9.4 -5.3 9.7 -4.7 9.8 -4.3 10 -3.9 10.2 -3.4 10.4 -3 10.5 -2.6 10.7 -2.3 10.9 -1.8 11 -1.4 11.1 -1.2 11.3 -0.9 11.5 -0.6 11.6 -0.5 11.7 -0.4 11.8 -0.2 12 -0.2" stroke="#A2142F"/>
<path d="M64.6 251.6l2.6 0.1 4.1 -0.6 4.9 -1.9 5.5 -3.3 5.9 -4.8 6.5 -5.9 6.8 -7 7.2 -7.5 7.5 -8 7.7 -8 8.1 -7.8 8.3 -7.5 8.6 -7.2 8.8 -6.6 9 -6.2 9.3 -5.6 9.4 -5.2 9.7 -4.7 9.8 -4.2 10 -3.8 10.2 -3.4 10.4 -3 10.5 -2.6 10.7 -2.2 10.9 -1.8 11 -1.5 11.1 -1.1 11.3 -0.9 11.5 -0.6 11.6 -0.5 11.7 -0.4 11.8 -0.2 12 -0.2" stroke="#0072BD"/>
<path d="M64.6 250.2l2.6 0.2 4.1 -0.6 4.9 -1.9 5.5 -3.3 5.9 -4.6 6.5 -5.9 6.8 -6.9 7.2 -7.5 7.5 -7.8 7.7 -7.9 8.1 -7.8 8.3 -7.5 8.6 -7 8.8 -6.6 9 -6.1 9.3 -5.6 9.4 -5.1 9.7 -4.6 9.8 -4.2 10 -3.8 10.2 -3.4 10.4 -3 10.5 -2.5 10.7 -2.2 10.9 -1.8 11 -1.4 11.1 -1.1 11.3 -0.9 11.5 -0.7 11.6 -0.4 11.7 -0.4 11.8 -0.2 12 -0.2" stroke="#D95319"/>
<path d="M64.6 248.8l2.6 0.2 4.1 -0.6 4.9 -1.8 5.5 -3.2 5.9 -4.6 6.5 -5.9 6.8 -6.7 7.2 -7.4 7.5 -7.8 7.7 -7.8 8.1 -7.7 8.3 -7.4 8.6 -7 8.8 -6.5 9 -6 9.3 -5.5 9.4 -5.1 9.7 -4.6 9.8 -4.2 10 -3.7 10.2 -3.3 10.4 -3 10.5 -2.5 10.7 -2.1 10.9 -1.8 11 -1.4 11.1 -1.2 11.3 -0.8 11.5 -0.7 11.6 -0.4 11.7 -0.4 11.8 -0.2 12 -0.2" stroke="#EDB120"/>
<path d="M64.6 247.5l2.6 0.1 4.1 -0.5 4.9 -1.8 5.5 -3.2 5.9 -4.5 6.5 -5.8 6.8 -6.7 7.2 -7.3 7.5 -7.7 7.7 -7.7 8.1 -7.6 8.3 -7.3 8.6 -6.9 8.8 -6.5 9 -5.9 9.3 -5.5 9.4 -5 9.7 -4.5 9.8 -4.2 10 -3.7 10.2 -3.3 10.4 -2.9 10.5 -2.5 10.7 -2.1 10.9 -1.8 11 -1.4 11.1 -1.1 11.3 -0.8 11.5 -0.7 11.6 -0.4 11.7 -0.4 11.8 -0.2 12 -0.1" stroke="#7E2F8E"/>
<path d="M64.6 246.1l2.6 0.2 4.1 -0.5 4.9 -1.8 5.5 -3.1 5.9 -4.5 6.5 -5.7 6.8 -6.6 7.2 -7.3 7.5 -7.5 7.7 -7.7 8.1 -7.5 8.3 -7.2 8.6 -6.9 8.8 -6.3 9 -5.9 9.3 -5.4 9.4 -5 9.7 -4.5 9.8 -4.1 10 -3.6 10.2 -3.3 10.4 -2.9 10.5 -2.5 10.7 -2.1 10.9 -1.7 11 -1.4 11.1 -1.1 11.3 -0.8 11.5 -0.7 11.6 -0.4 11.7 -0.4 11.8 -0.2 12 -0.1" stroke="#77AC30"/>
<path d="M64.6 244.7l2.6 0.2 4.1 -0.5 4.9 -1.7 5.5 -3.1 5.9 -4.4 6.5 -5.6 6.8 -6.6 7.2 -7.1 7.5 -7.5 7.7 -7.6 8.1 -7.4 8.3 -7.2 8.6 -6.7 8.8 -6.3 9 -5.8 9.3 -5.4 9.4 -4.9 9.7 -4.5 9.8 -4 10 -3.6 10.2 -3.3 10.4 -2.8 10.5 -2.4 10.7 -2.1 10.9 -1.7 11 -1.4 11.1 -1.1 11.3 -0.9 11.5 -0.6 11.6 -0.4 11.7 -0.4 11.8 -0.2 12 -0.1" stroke="#4DBEEE"/>
<path d="M64.6 243.4l2.6 0.2 4.1 -0.5 4.9 -1.7 5.5 -3 5.9 -4.4 6.5 -5.5 6.8 -6.5 7.2 -7.1 7.5 -7.4 7.7 -7.5 8.1 -7.3 8.3 -7.1 8.6 -6.7 8.8 -6.2 9 -5.8 9.3 -5.3 9.4 -4.8 9.7 -4.4 9.8 -4 10 -3.6 10.2 -3.2 10.4 -2.8 10.5 -2.4 10.7 -2.1 10.9 -1.7 11 -1.4 11.1 -1 11.3 -0.9 11.5 -0.6 11.6 -0.4 11.7 -0.4 11.8 -0.2 12 -0.1" stroke="#A2142F"/>
<path d="M64.6 242l2.6 0.2 4.1 -0.4 4.9 -1.7 5.5 -3 5.9 -4.3 6.5 -5.5 6.8 -6.3 7.2 -7 7.5 -7.4 7.7 -7.4 8.1 -7.2 8.3 -7 8.6 -6.6 8.8 -6.2 9 -5.7 9.3 -5.2 9.4 -4.8 9.7 -4.4 9.8 -3.9 10 -3.6 10.2 -3.1 10.4 -2.8 10.5 -2.4 10.7 -2.1 10.9 -1.6 11 -1.4 11.1 -1.1 11.3 -0.8 11.5 -0.6 11.6 -0.4 11.7 -0.4 11.8 -0.2 12 -0.1" stroke="#0072BD"/>
<path d="M64.6 240.6l2.6 0.2 4.1 -0.4 4.9 -1.6 5.5 -2.9 5.9 -4.3 6.5 -5.4 6.8 -6.3 7.2 -6.9 7.5 -7.2 7.7 -7.4 8.1 -7.1 8.3 -6.9 8.6 -6.6 8.8 -6.1 9 -5.6 9.3 -5.2 9.4 -4.7 9.7 -4.3 9.8 -3.9 10 -3.6 10.2 -3.1 10.4 -2.7 10.5 -2.4 10.7 -2 10.9 -1.7 11 -1.3 11.1 -1.1 11.3 -0.8 11.5 -0.6 11.6 -0.4 11.7 -0.4 11.8 -0.2 12 -0.1" stroke="#D95319"/>
<path d="M64.6 239.2l2.6 0.3 4.1 -0.4 4.9 -1.6 5.5 -2.9 5.9 -4.2 6.5 -5.3 6.8 -6.2 7.2 -6.9 7.5 -7.1 7.7 -7.2 8.1 -7.1 8.3 -6.9 8.6 -6.4 8.8 -6.1 9 -5.5 9.3 -5.1 9.4 -4.7 9.7 -4.3 9.8 -3.9 10 -3.4 10.2 -3.1 10.4 -2.7 10.5 -2.4 10.7 -2 10.9 -1.6 11 -1.4 11.1 -1 11.3 -0.8 11.5 -0.6 11.6 -0.4 11.7 -0.4 11.8 -0.2 12 -0.1" stroke="#EDB120"/>
<path d="M64.6 237.9l2.6 0.2 4.1 -0.4 4.9 -1.5 5.5 -2.8 5.9 -4.2 6.5 -5.2 6.8 -6.2 7.2 -6.7 7.5 -7.1 7.7 -7.1 8.1 -7.1 8.3 -6.7 8.6 -6.4 8.8 -5.9 9 -5.5 9.3 -5.1 9.4 -4.6 9.7 -4.3 9.8 -3.8 10 -3.4 10.2 -3.1 10.4 -2.7 10.5 -2.3 10.7 -1.9 10.9 -1.7 11 -1.3 11.1 -1 11.3 -0.8 11.5 -0.6 11.6 -0.4 11.7 -0.4 11.8 -0.2 12 -0.1" stroke="#7E2F8E"/>
<path d="M64.6 236.5l2.6 0.3 4.1 -0.4 4.9 -1.5 5.5 -2.8 5.9 -4.1 6.5 -5.2 6.8 -6 7.2 -6.7 7.5 -7 7.7 -7 8.1 -7 8.3 -6.6 8.6 -6.3 8.8 -5.9 9 -5.5 9.3 -5 9.4 -4.6 9.7 -4.1 9.8 -3.8 10 -3.4 10.2 -3 10.4 -2.7 10.5 -2.3 10.7 -1.9 10.9 -1.6 11 -1.3 11.1 -1 11.3 -0.8 11.5 -0.6 11.6 -0.5 11.7 -0.3 11.8 -0.2 12 -0.1" stroke="#77AC30"/>
<path d="M64.6 235.1l2.6 0.3 4.1 -0.3 4.9 -1.5 5.5 -2.7 5.9 -4.1 6.5 -5.1 6.8 -6 7.2 -6.6 7.5 -6.9 7.7 -6.9 8.1 -6.9 8.3 -6.6 8.6 -6.2 8.8 -5.8 9 -5.4 9.3 -4.9 9.4 -4.6 9.7 -4.1 9.8 -3.7 10 -3.4 10.2 -3 10.4 -2.6 10.5 -2.2 10.7 -2 10.9 -1.6 11 -1.3 11.1 -1 11.3 -0.7 11.5 -0.6 11.6 -0.5 11.7 -0.3 11.8 -0.2 12 -0.1" stroke="#4DBEEE"/>
<path d="M64.6 233.8l2.6 0.2 4.1 -0.3 4.9 -1.4 5.5 -2.7 5.9 -4 6.5 -5 6.8 -5.9 7.2 -6.5 7.5 -6.8 7.7 -6.9 8.1 -6.8 8.3 -6.5 8.6 -6.2 8.8 -5.7 9 -5.3 9.3 -4.9 9.4 -4.5 9.7 -4 9.8 -3.7 10 -3.3 10.2 -3 10.4 -2.6 10.5 -2.2 10.7 -1.9 10.9 -1.6 11 -1.3 11.1 -1 11.3 -0.8 11.5 -0.5 11.6 -0.5 11.7 -0.3 11.8 -0.2 12 -0.1" stroke="#A2142F"/>
<path d="M64.6 232.4l2.6 0.3 4.1 -0.3 4.9 -1.4 5.5 -2.6 5.9 -3.9 6.5 -5 6.8 -5.9 7.2 -6.4 7.5 -6.7 7.7 -6.8 8.1 -6.7 8.3 -6.4 8.6 -6.1 8.8 -5.7 9 -5.2 9.3 -4.9 9.4 -4.4 9.7 -4 9.8 -3.6 10 -3.3 10.2 -2.9 10.4 -2.6 10.5 -2.2 10.7 -1.9 10.9 -1.6 11 -1.2 11.1 -1 11.3 -0.8 11.5 -0.5 11.6 -0.5 11.7 -0.3 11.8 -0.2 12 -0.1" stroke="#0072BD"/>
<path d="M64.6 231l2.6 0.3 4.1 -0.2 4.9 -1.4 5.5 -2.6 5.9 -3.8 6.5 -5 6.8 -5.7 7.2 -6.4 7.5 -6.6 7.7 -6.7 8.1 -6.6 8.3 -6.4 8.6 -6 8.8 -5.6 9 -5.2 9.3 -4.7 9.4 -4.4 9.7 -4 9.8 -3.6 10 -3.2 10.2 -2.9 10.4 -2.5 10.5 -2.2 10.7 -1.9 10.9 -1.5 11 -1.3 11.1 -0.9 11.3 -0.8 11.5 -0.6 11.6 -0.4 11.7 -0.3 11.8 -0.2 12 -0.1" stroke="#D95319"/>
<path d="M64.6 229.6l2.6 0.4 4.1 -0.3 4.9 -1.3 5.5 -2.6 5.9 -3.7 6.5 -4.9 6.8 -5.7 7.2 -6.2 7.5 -6.6 7.7 -6.6 8.1 -6.5 8.3 -6.3 8.6 -5.9 8.8 -5.6 9 -5.1 9.3 -4.7 9.4 -4.3 9.7 -3.9 9.8 -3.6 10 -3.2 10.2 -2.8 10.4 -2.5 10.5 -2.2 10.7 -1.8 10.9 -1.6 11 -1.2 11.1 -1 11.3 -0.7 11.5 -0.6 11.6 -0.4 11.7 -0.3 11.8 -0.2 12 -0.1" stroke="#EDB120"/>
<path d="M64.6 228.3l2.6 0.3 4.1 -0.2 4.9 -1.3 5.5 -2.5 5.9 -3.7 6.5 -4.8 6.8 -5.6 7.2 -6.2 7.5 -6.5 7.7 -6.5 8.1 -6.4 8.3 -6.2 8.6 -5.9 8.8 -5.5 9 -5 9.3 -4.7 9.4 -4.2 9.7 -3.9 9.8 -3.5 10 -3.2 10.2 -2.8 10.4 -2.4 10.5 -2.2 10.7 -1.8 10.9 -1.5 11 -1.2 11.1 -1 11.3 -0.7 11.5 -0.6 11.6 -0.4 11.7 -0.3 11.8 -0.2 12 -0.1" stroke="#7E2F8E"/>
<path d="M64.6 226.9l2.6 0.3 4.1 -0.2 4.9 -1.2 5.5 -2.5 5.9 -3.6 6.5 -4.8 6.8 -5.5 7.2 -6.1 7.5 -6.3 7.7 -6.5 8.1 -6.4 8.3 -6.1 8.6 -5.7 8.8 -5.4 9 -5 9.3 -4.6 9.4 -4.2 9.7 -3.9 9.8 -3.4 10 -3.1 10.2 -2.8 10.4 -2.5 10.5 -2.1 10.7 -1.8 10.9 -1.5 11 -1.2 11.1 -0.9 11.3 -0.7 11.5 -0.6 11.6 -0.4 11.7 -0.3 11.8 -0.2 12 -0.1" stroke="#77AC30"/>
<path d="M64.6 225.5l2.6 0.4 4.1 -0.2 4.9 -1.2 5.5 -2.4 5.9 -3.6 6.5 -4.7 6.8 -5.4 7.2 -6 7.5 -6.3 7.7 -6.4 8.1 -6.3 8.3 -6 8.6 -5.7 8.8 -5.3 9 -5 9.3 -4.5 9.4 -4.1 9.7 -3.8 9.8 -3.4 10 -3.1 10.2 -2.8 10.4 -2.4 10.5 -2.1 10.7 -1.7 10.9 -1.5 11 -1.2 11.1 -0.9 11.3 -0.7 11.5 -0.6 11.6 -0.4 11.7 -0.3 11.8 -0.2 12 -0.1" stroke="#4DBEEE"/>
<path d="M64.6 224.2l2.6 0.3 4.1 -0.1 4.9 -1.2 5.5 -2.4 5.9 -3.5 6.5 -4.6 6.8 -5.4 7.2 -5.9 7.5 -6.2 7.7 -6.3 8.1 -6.2 8.3 -5.9 8.6 -5.7 8.8 -5.2 9 -4.9 9.3 -4.5 9.4 -4.1 9.7 -3.7 9.8 -3.4 10 -3 10.2 -2.7 10.4 -2.4 10.5 -2.1 10.7 -1.7 10.9 -1.5 11 -1.1 11.1 -1 11.3 -0.7 11.5 -0.5 11.6 -0.4 11.7 -0.3 11.8 -0.2 12 -0.1" stroke="#A2142F"/>
<path d="M64.6 222.8l2.6 0.4 4.1 -0.2 4.9 -1.1 5.5 -2.4 5.9 -3.4 6.5 -4.5 6.8 -5.3 7.2 -5.9 7.5 -6.1 7.7 -6.2 8.1 -6.1 8.3 -5.9 8.6 -5.5 8.8 -5.2 9 -4.8 9.3 -4.4 9.4 -4.1 9.7 -3.7 9.8 -3.3 10 -3 10.2 -2.7 10.4 -2.3 10.5 -2 10.7 -1.8 10.9 -1.4 11 -1.2 11.1 -0.9 11.3 -0.7 11.5 -0.5 11.6 -0.4 11.7 -0.3 11.8 -0.2 12 -0.1" stroke="#0072BD"/>
<path d="M64.6 221.4l2.6 0.4 4.1 -0.1 4.9 -1.1 5.5 -2.3 5.9 -3.5 6.5 -4.4 6.8 -5.2 7.2 -5.7 7.5 -6.1 7.7 -6.1 8.1 -6 8.3 -5.8 8.6 -5.5 8.8 -5.1 9 -4.7 9.3 -4.4 9.4 -4 9.7 -3.6 9.8 -3.3 10 -3 10.2 -2.6 10.4 -2.3 10.5 -2 10.7 -1.7 10.9 -1.5 11 -1.1 11.1 -0.9 11.3 -0.7 11.5 -0.5 11.6 -0.4 11.7 -0.3 11.8 -0.2 12 -0.1" stroke="#D95319"/>
<path d="M64.6 220l2.6 0.4 4.1 -0.1 4.9 -1 5.5 -2.3 5.9 -3.4 6.5 -4.3 6.8 -5.2 7.2 -5.6 7.5 -6 7.7 -6 8.1 -5.9 8.3 -5.8 8.6 -5.4 8.8 -5 9 -4.7 9.3 -4.3 9.4 -3.9 9.7 -3.6 9.8 -3.2 10 -3 10.2 -2.6 10.4 -2.2 10.5 -2 10.7 -1.7 10.9 -1.4 11 -1.1 11.1 -0.9 11.3 -0.7 11.5 -0.5 11.6 -0.4 11.7 -0.3 11.8 -0.2 12 -0.1" stroke="#EDB120"/>
<path d="M64.6 218.7l2.6 0.4 4.1 -0.1 4.9 -1.1 5.5 -2.1 5.9 -3.4 6.5 -4.3 6.8 -5 7.2 -5.6 7.5 -5.9 7.7 -5.9 8.1 -5.9 8.3 -5.6 8.6 -5.3 8.8 -5 9 -4.6 9.3 -4.2 9.4 -3.9 9.7 -3.6 9.8 -3.2 10 -2.8 10.2 -2.6 10.4 -2.3 10.5 -1.9 10.7 -1.7 10.9 -1.4 11 -1.1 11.1 -0.8 11.3 -0.7 11.5 -0.5 11.6 -0.4 11.7 -0.3 11.8 -0.2 12 -0.1" stroke="#7E2F8E"/>
<path d="M64.6 217.3l2.6 0.4 4.1 0 4.9 -1.1 5.5 -2.1 5.9 -3.3 6.5 -4.2 6.8 -5 7.2 -5.5 7.5 -5.8 7.7 -5.8 8.1 -5.8 8.3 -5.5 8.6 -5.3 8.8 -4.9 9 -4.5 9.3 -4.2 9.4 -3.8 9.7 -3.5 9.8 -3.2 10 -2.8 10.2 -2.5 10.4 -2.3 10.5 -1.9 10.7 -1.6 10.9 -1.4 11 -1.1 11.1 -0.9 11.3 -0.6 11.5 -0.5 11.6 -0.4 11.7 -0.3 11.8 -0.2 12 -0.1" stroke="#77AC30"/>
<path d="M64.6 215.9l2.6 0.4 4.1 0 4.9 -1 5.5 -2.1 5.9 -3.2 6.5 -4.1 6.8 -4.9 7.2 -5.4 7.5 -5.7 7.7 -5.8 8.1 -5.7 8.3 -5.5 8.6 -5.2 8.8 -4.8 9 -4.5 9.3 -4.1 9.4 -3.8 9.7 -3.4 9.8 -3.1 10 -2.8 10.2 -2.5 10.4 -2.2 10.5 -1.9 10.7 -1.6 10.9 -1.4 11 -1 11.1 -0.9 11.3 -0.7 11.5 -0.5 11.6 -0.3 11.7 -0.3 11.8 -0.2 12 -0.1" stroke="#4DBEEE"/>
<path d="M64.6 214.5l2.6 0.5 4.1 0 4.9 -1 5.5 -2 5.9 -3.2 6.5 -4.1 6.8 -4.8 7.2 -5.3 7.5 -5.6 7.7 -5.7 8.1 -5.6 8.3 -5.4 8.6 -5.1 8.8 -4.8 9 -4.4 9.3 -4.1 9.4 -3.7 9.7 -3.4 9.8 -3 10 -2.8 10.2 -2.4 10.4 -2.2 10.5 -1.9 10.7 -1.6 10.9 -1.3 11 -1.1 11.1 -0.8 11.3 -0.7 11.5 -0.5 11.6 -0.3 11.7 -0.3 11.8 -0.2 12 -0.1" stroke="#A2142F"/>
<path d="M64.6 213.2l2.6 0.4 4.1 0 4.9 -0.9 5.5 -2 5.9 -3.1 6.5 -4 6.8 -4.8 7.2 -5.2 7.5 -5.5 7.7 -5.6 8.1 -5.5 8.3 -5.4 8.6 -5 8.8 -4.7 9 -4.3 9.3 -4 9.4 -3.7 9.7 -3.3 9.8 -3.1 10 -2.7 10.2 -2.4 10.4 -2.1 10.5 -1.9 10.7 -1.6 10.9 -1.3 11 -1 11.1 -0.8 11.3 -0.7 11.5 -0.5 11.6 -0.3 11.7 -0.3 11.8 -0.2 12 -0.1" stroke="#0072BD"/>
<path d="M64.6 211.8l2.6 0.5 4.1 0 4.9 -0.9 5.5 -2 5.9 -3 6.5 -3.9 6.8 -4.7 7.2 -5.2 7.5 -5.4 7.7 -5.5 8.1 -5.5 8.3 -5.2 8.6 -5 8.8 -4.6 9 -4.3 9.3 -3.9 9.4 -3.6 9.7 -3.3 9.8 -3 10 -2.7 10.2 -2.3 10.4 -2.2 10.5 -1.8 10.7 -1.5 10.9 -1.3 11 -1 11.1 -0.9 11.3 -0.6 11.5 -0.5 11.6 -0.3 11.7 -0.3 11.8 -0.2 12 -0.1" stroke="#D95319"/>
<path d="M64.6 210.4l2.6 0.5 4.1 0 4.9 -0.8 5.5 -1.9 5.9 -3 6.5 -3.9 6.8 -4.6 7.2 -5.1 7.5 -5.3 7.7 -5.5 8.1 -5.3 8.3 -5.1 8.6 -4.9 8.8 -4.6 9 -4.2 9.3 -3.9 9.4 -3.5 9.7 -3.3 9.8 -2.9 10 -2.6 10.2 -2.4 10.4 -2.1 10.5 -1.8 10.7 -1.5 10.9 -1.3 11 -1 11.1 -0.8 11.3 -0.6 11.5 -0.5 11.6 -0.4 11.7 -0.2 11.8 -0.2 12 -0.1" stroke="#EDB120"/>
<path d="M64.6 209.1l2.6 0.4 4.1 0.1 4.9 -0.8 5.5 -1.9 5.9 -2.9 6.5 -3.8 6.8 -4.5 7.2 -5 7.5 -5.3 7.7 -5.4 8.1 -5.2 8.3 -5.1 8.6 -4.8 8.8 -4.5 9 -4.1 9.3 -3.9 9.4 -3.5 9.7 -3.1 9.8 -2.9 10 -2.6 10.2 -2.3 10.4 -2.1 10.5 -1.8 10.7 -1.5 10.9 -1.2 11 -1 11.1 -0.8 11.3 -0.6 11.5 -0.5 11.6 -0.4 11.7 -0.2 11.8 -0.2 12 -0.1" stroke="#7E2F8E"/>
<path d="M64.6 207.7l2.6 0.5 4.1 0.1 4.9 -0.8 5.5 -1.9 5.9 -2.8 6.5 -3.8 6.8 -4.4 7.2 -4.9 7.5 -5.2 7.7 -5.3 8.1 -5.1 8.3 -5 8.6 -4.8 8.8 -4.4 9 -4.1 9.3 -3.7 9.4 -3.5 9.7 -3.1 9.8 -2.9 10 -2.5 10.2 -2.3 10.4 -2 10.5 -1.8 10.7 -1.4 10.9 -1.3 11 -1 11.1 -0.8 11.3 -0.6 11.5 -0.4 11.6 -0.4 11.7 -0.2 11.8 -0.2 12 -0.1" stroke="#77AC30"/>
<path d="M64.6 206.3l2.6 0.5 4.1 0.1 4.9 -0.8 5.5 -1.7 5.9 -2.8 6.5 -3.7 6.8 -4.4 7.2 -4.8 7.5 -5.1 7.7 -5.2 8.1 -5.1 8.3 -4.9 8.6 -4.6 8.8 -4.4 9 -4 9.3 -3.7 9.4 -3.4 9.7 -3.1 9.8 -2.8 10 -2.5 10.2 -2.3 10.4 -1.9 10.5 -1.7 10.7 -1.5 10.9 -1.2 11 -1 11.1 -0.8 11.3 -0.6 11.5 -0.4 11.6 -0.4 11.7 -0.2 11.8 -0.2 12 -0.1" stroke="#4DBEEE"/>
<path d="M64.6 204.9l2.6 0.5 4.1 0.2 4.9 -0.8 5.5 -1.7 5.9 -2.8 6.5 -3.6 6.8 -4.2 7.2 -4.8 7.5 -5 7.7 -5.1 8.1 -5 8.3 -4.8 8.6 -4.6 8.8 -4.3 9 -3.9 9.3 -3.7 9.4 -3.3 9.7 -3.1 9.8 -2.7 10 -2.5 10.2 -2.2 10.4 -2 10.5 -1.6 10.7 -1.5 10.9 -1.2 11 -0.9 11.1 -0.8 11.3 -0.6 11.5 -0.4 11.6 -0.4 11.7 -0.2 11.8 -0.2 12 -0.1" stroke="#A2142F"/>
<path d="M64.6 203.6l2.6 0.5 4.1 0.1 4.9 -0.7 5.5 -1.7 5.9 -2.7 6.5 -3.5 6.8 -4.2 7.2 -4.7 7.5 -4.9 7.7 -5 8.1 -4.9 8.3 -4.8 8.6 -4.5 8.8 -4.2 9 -3.9 9.3 -3.6 9.4 -3.2 9.7 -3 9.8 -2.7 10 -2.5 10.2 -2.2 10.4 -1.9 10.5 -1.6 10.7 -1.4 10.9 -1.2 11 -1 11.1 -0.7 11.3 -0.6 11.5 -0.5 11.6 -0.3 11.7 -0.2 11.8 -0.2 12 -0.2" stroke="#0072BD"/>
<path d="M64.6 202.2l2.6 0.5 4.1 0.2 4.9 -0.7 5.5 -1.7 5.9 -2.6 6.5 -3.5 6.8 -4.1 7.2 -4.6 7.5 -4.8 7.7 -4.9 8.1 -4.9 8.3 -4.6 8.6 -4.5 8.8 -4.1 9 -3.8 9.3 -3.5 9.4 -3.3 9.7 -2.9 9.8 -2.7 10 -2.4 10.2 -2.1 10.4 -1.9 10.5 -1.6 10.7 -1.4 10.9 -1.2 11 -0.9 11.1 -0.8 11.3 -0.5 11.5 -0.5 11.6 -0.3 11.7 -0.2 11.8 -0.2 12 -0.2" stroke="#D95319"/>
<path d="M64.6 200.8l2.6 0.5 4.1 0.2 4.9 -0.6 5.5 -1.6 5.9 -2.6 6.5 -3.4 6.8 -4.1 7.2 -4.5 7.5 -4.7 7.7 -4.8 8.1 -4.8 8.3 -4.6 8.6 -4.3 8.8 -4.1 9 -3.8 9.3 -3.4 9.4 -3.2 9.7 -2.9 9.8 -2.6 10 -2.4 10.2 -2.1 10.4 -1.8 10.5 -1.6 10.7 -1.4 10.9 -1.1 11 -1 11.1 -0.7 11.3 -0.6 11.5 -0.4 11.6 -0.3 11.7 -0.2 11.8 -0.2 12 -0.2" stroke="#EDB120"/>
<path d="M64.6 199.5l2.6 0.5 4.1 0.2 4.9 -0.6 5.5 -1.6 5.9 -2.5 6.5 -3.4 6.8 -3.9 7.2 -4.4 7.5 -4.7 7.7 -4.8 8.1 -4.6 8.3 -4.5 8.6 -4.3 8.8 -4 9 -3.7 9.3 -3.4 9.4 -3.1 9.7 -2.9 9.8 -2.5 10 -2.3 10.2 -2.1 10.4 -1.8 10.5 -1.6 10.7 -1.4 10.9 -1.1 11 -0.9 11.1 -0.7 11.3 -0.6 11.5 -0.4 11.6 -0.3 11.7 -0.3 11.8 -0.1 12 -0.2" stroke="#7E2F8E"/>
<path d="M64.6 198.1l2.6 0.5 4.1 0.2 4.9 -0.6 5.5 -1.5 5.9 -2.4 6.5 -3.3 6.8 -3.9 7.2 -4.3 7.5 -4.6 7.7 -4.7 8.1 -4.6 8.3 -4.4 8.6 -4.2 8.8 -3.9 9 -3.6 9.3 -3.4 9.4 -3 9.7 -2.8 9.8 -2.6 10 -2.2 10.2 -2.1 10.4 -1.8 10.5 -1.5 10.7 -1.3 10.9 -1.1 11 -0.9 11.1 -0.7 11.3 -0.6 11.5 -0.4 11.6 -0.3 11.7 -0.3 11.8 -0.1 12 -0.2" stroke="#77AC30"/>
<path d="M64.6 196.7l2.6 0.6 4.1 0.2 4.9 -0.6 5.5 -1.5 5.9 -2.4 6.5 -3.2 6.8 -3.8 7.2 -4.2 7.5 -4.5 7.7 -4.6 8.1 -4.5 8.3 -4.3 8.6 -4.2 8.8 -3.8 9 -3.6 9.3 -3.3 9.4 -3 9.7 -2.7 9.8 -2.5 10 -2.2 10.2 -2 10.4 -1.8 10.5 -1.5 10.7 -1.3 10.9 -1.1 11 -0.9 11.1 -0.7 11.3 -0.5 11.5 -0.4 11.6 -0.3 11.7 -0.3 11.8 -0.1 12 -0.2" stroke="#4DBEEE"/>
<path d="M64.6 195.3l2.6 0.6 4.1 0.2 4.9 -0.5 5.5 -1.4 5.9 -2.4 6.5 -3.1 6.8 -3.7 7.2 -4.2 7.5 -4.4 7.7 -4.5 8.1 -4.4 8.3 -4.3 8.6 -4 8.8 -3.8 9 -3.5 9.3 -3.2 9.4 -3 9.7 -2.7 9.8 -2.4 10 -2.2 10.2 -2 10.4 -1.7 10.5 -1.5 10.7 -1.3 10.9 -1 11 -0.9 11.1 -0.7 11.3 -0.5 11.5 -0.4 11.6 -0.3 11.7 -0.3 11.8 -0.1 12 -0.2" stroke="#A2142F"/>
<path d="M64.6 194l2.6 0.5 4.1 0.3 4.9 -0.5 5.5 -1.4 5.9 -2.3 6.5 -3.1 6.8 -3.6 7.2 -4.1 7.5 -4.3 7.7 -4.4 8.1 -4.4 8.3 -4.1 8.6 -4 8.8 -3.7 9 -3.5 9.3 -3.1 9.4 -2.9 9.7 -2.7 9.8 -2.4 10 -2.1 10.2 -1.9 10.4 -1.7 10.5 -1.5 10.7 -1.3 10.9 -1 11 -0.9 11.1 -0.6 11.3 -0.6 11.5 -0.4 11.6 -0.3 11.7 -0.2 11.8 -0.1 12 -0.2" stroke="#0072BD"/>
<path d="M64.6 192.6l2.6 0.6 4.1 0.2 4.9 -0.4 5.5 -1.4 5.9 -2.2 6.5 -3 6.8 -3.6 7.2 -4 7.5 -4.2 7.7 -4.3 8.1 -4.3 8.3 -4.1 8.6 -3.9 8.8 -3.6 9 -3.4 9.3 -3.1 9.4 -2.8 9.7 -2.6 9.8 -2.4 10 -2.1 10.2 -1.9 10.4 -1.7 10.5 -1.4 10.7 -1.2 10.9 -1.1 11 -0.8 11.1 -0.7 11.3 -0.5 11.5 -0.4 11.6 -0.3 11.7 -0.2 11.8 -0.2 12 -0.1" stroke="#D95319"/>
<path d="M64.6 191.2l2.6 0.6 4.1 0.3 4.9 -0.5 5.5 -1.3 5.9 -2.1 6.5 -3 6.8 -3.5 7.2 -3.9 7.5 -4.1 7.7 -4.3 8.1 -4.1 8.3 -4.1 8.6 -3.8 8.8 -3.5 9 -3.3 9.3 -3.1 9.4 -2.8 9.7 -2.5 9.8 -2.3 10 -2.1 10.2 -1.8 10.4 -1.7 10.5 -1.4 10.7 -1.2 10.9 -1 11 -0.8 11.1 -0.7 11.3 -0.5 11.5 -0.4 11.6 -0.3 11.7 -0.2 11.8 -0.2 12 -0.1" stroke="#EDB120"/>
<path d="M64.6 189.9l2.6 0.5 4.1 0.3 4.9 -0.4 5.5 -1.3 5.9 -2.1 6.5 -2.8 6.8 -3.5 7.2 -3.8 7.5 -4.1 7.7 -4.1 8.1 -4.1 8.3 -3.9 8.6 -3.7 8.8 -3.5 9 -3.3 9.3 -3 9.4 -2.7 9.7 -2.5 9.8 -2.3 10 -2 10.2 -1.8 10.4 -1.6 10.5 -1.4 10.7 -1.2 10.9 -1 11 -0.8 11.1 -0.6 11.3 -0.5 11.5 -0.4 11.6 -0.3 11.7 -0.2 11.8 -0.2 12 -0.1" stroke="#7E2F8E"/>
<path d="M64.6 188.5l2.6 0.6 4.1 0.3 4.9 -0.4 5.5 -1.2 5.9 -2.1 6.5 -2.8 6.8 -3.3 7.2 -3.8 7.5 -4 7.7 -4 8.1 -4 8.3 -3.9 8.6 -3.6 8.8 -3.5 9 -3.1 9.3 -3 9.4 -2.6 9.7 -2.5 9.8 -2.2 10 -2 10.2 -1.8 10.4 -1.5 10.5 -1.4 10.7 -1.2 10.9 -0.9 11 -0.8 11.1 -0.6 11.3 -0.5 11.5 -0.4 11.6 -0.3 11.7 -0.2 11.8 -0.2 12 -0.1" stroke="#77AC30"/>
<path d="M64.6 187.1l2.6 0.6 4.1 0.3 4.9 -0.3 5.5 -1.2 5.9 -2 6.5 -2.7 6.8 -3.3 7.2 -3.7 7.5 -3.9 7.7 -3.9 8.1 -4 8.3 -3.7 8.6 -3.6 8.8 -3.4 9 -3.1 9.3 -2.8 9.4 -2.7 9.7 -2.3 9.8 -2.2 10 -2 10.2 -1.7 10.4 -1.6 10.5 -1.3 10.7 -1.1 10.9 -1 11 -0.8 11.1 -0.6 11.3 -0.5 11.5 -0.3 11.6 -0.3 11.7 -0.2 11.8 -0.2 12 -0.1" stroke="#4DBEEE"/>
<path d="M64.6 185.7l2.6 0.6 4.1 0.4 4.9 -0.4 5.5 -1.1 5.9 -1.9 6.5 -2.7 6.8 -3.2 7.2 -3.6 7.5 -3.8 7.7 -3.9 8.1 -3.8 8.3 -3.7 8.6 -3.5 8.8 -3.3 9 -3 9.3 -2.8 9.4 -2.6 9.7 -2.3 9.8 -2.2 10 -1.9 10.2 -1.7 10.4 -1.5 10.5 -1.3 10.7 -1.1 10.9 -0.9 11 -0.8 11.1 -0.6 11.3 -0.5 11.5 -0.3 11.6 -0.3 11.7 -0.2 11.8 -0.2 12 -0.1" stroke="#A2142F"/>
<path d="M64.6 184.4l2.6 0.6 4.1 0.3 4.9 -0.3 5.5 -1.1 5.9 -1.9 6.5 -2.6 6.8 -3.1 7.2 -3.5 7.5 -3.7 7.7 -3.8 8.1 -3.7 8.3 -3.7 8.6 -3.4 8.8 -3.2 9 -3 9.3 -2.7 9.4 -2.5 9.7 -2.3 9.8 -2.1 10 -1.9 10.2 -1.6 10.4 -1.5 10.5 -1.3 10.7 -1.1 10.9 -0.9 11 -0.7 11.1 -0.6 11.3 -0.5 11.5 -0.4 11.6 -0.2 11.7 -0.2 11.8 -0.2 12 -0.1" stroke="#0072BD"/>
<path d="M64.6 183l2.6 0.6 4.1 0.4 4.9 -0.3 5.5 -1.1 5.9 -1.8 6.5 -2.5 6.8 -3.1 7.2 -3.4 7.5 -3.6 7.7 -3.7 8.1 -3.7 8.3 -3.5 8.6 -3.4 8.8 -3.1 9 -2.9 9.3 -2.7 9.4 -2.5 9.7 -2.2 9.8 -2 10 -1.9 10.2 -1.6 10.4 -1.4 10.5 -1.3 10.7 -1.1 10.9 -0.9 11 -0.7 11.1 -0.6 11.3 -0.4 11.5 -0.4 11.6 -0.2 11.7 -0.2 11.8 -0.2 12 -0.1" stroke="#D95319"/>
<path d="M64.6 181.6l2.6 0.6 4.1 0.4 4.9 -0.2 5.5 -1 5.9 -1.8 6.5 -2.5 6.8 -2.9 7.2 -3.4 7.5 -3.5 7.7 -3.6 8.1 -3.6 8.3 -3.5 8.6 -3.2 8.8 -3.1 9 -2.9 9.3 -2.6 9.4 -2.4 9.7 -2.2 9.8 -2 10 -1.8 10.2 -1.6 10.4 -1.4 10.5 -1.2 10.7 -1 10.9 -0.9 11 -0.7 11.1 -0.6 11.3 -0.4 11.5 -0.4 11.6 -0.2 11.7 -0.2 11.8 -0.2 12 -0.1" stroke="#EDB120"/>
<path d="M64.6 180.3l2.6 0.6 4.1 0.4 4.9 -0.3 5.5 -0.9 5.9 -1.8 6.5 -2.3 6.8 -2.9 7.2 -3.3 7.5 -3.4 7.7 -3.6 8.1 -3.5 8.3 -3.3 8.6 -3.2 8.8 -3 9 -2.8 9.3 -2.6 9.4 -2.3 9.7 -2.2 9.8 -1.9 10 -1.8 10.2 -1.5 10.4 -1.4 10.5 -1.2 10.7 -1 10.9 -0.9 11 -0.7 11.1 -0.5 11.3 -0.5 11.5 -0.3 11.6 -0.3 11.7 -0.2 11.8 -0.1 12 -0.1" stroke="#7E2F8E"/>
<path d="M64.6 178.9l2.6 0.6 4.1 0.4 4.9 -0.2 5.5 -0.9 5.9 -1.7 6.5 -2.3 6.8 -2.8 7.2 -3.2 7.5 -3.4 7.7 -3.4 8.1 -3.4 8.3 -3.3 8.6 -3.1 8.8 -2.9 9 -2.8 9.3 -2.5 9.4 -2.2 9.7 -2.1 9.8 -1.9 10 -1.7 10.2 -1.6 10.4 -1.3 10.5 -1.2 10.7 -1 10.9 -0.8 11 -0.7 11.1 -0.6 11.3 -0.4 11.5 -0.3 11.6 -0.3 11.7 -0.2 11.8 -0.1 12 -0.1" stroke="#77AC30"/>
<path d="M64.6 177.5l2.6 0.6 4.1 0.5 4.9 -0.2 5.5 -0.9 5.9 -1.6 6.5 -2.3 6.8 -2.7 7.2 -3.1 7.5 -3.3 7.7 -3.3 8.1 -3.4 8.3 -3.2 8.6 -3 8.8 -2.9 9 -2.6 9.3 -2.4 9.4 -2.3 9.7 -2 9.8 -1.9 10 -1.6 10.2 -1.5 10.4 -1.4 10.5 -1.1 10.7 -1 10.9 -0.8 11 -0.7 11.1 -0.5 11.3 -0.4 11.5 -0.3 11.6 -0.3 11.7 -0.2 11.8 -0.1 12 -0.1" stroke="#4DBEEE"/>
<path d="M64.6 176.1l2.6 0.7 4.1 0.4 4.9 -0.1 5.5 -0.9 5.9 -1.6 6.5 -2.1 6.8 -2.7 7.2 -3 7.5 -3.2 7.7 -3.3 8.1 -3.2 8.3 -3.1 8.6 -3 8.8 -2.8 9 -2.6 9.3 -2.3 9.4 -2.2 9.7 -2 9.8 -1.8 10 -1.6 10.2 -1.5 10.4 -1.3 10.5 -1.1 10.7 -1 10.9 -0.7 11 -0.7 11.1 -0.5 11.3 -0.4 11.5 -0.4 11.6 -0.2 11.7 -0.2 11.8 -0.1 12 -0.1" stroke="#A2142F"/>
<path d="M64.6 174.8l2.6 0.6 4.1 0.4 4.9 -0.1 5.5 -0.8 5.9 -1.5 6.5 -2.1 6.8 -2.6 7.2 -2.9 7.5 -3.1 7.7 -3.2 8.1 -3.2 8.3 -3 8.6 -2.9 8.8 -2.7 9 -2.5 9.3 -2.3 9.4 -2.2 9.7 -1.9 9.8 -1.8 10 -1.5 10.2 -1.5 10.4 -1.2 10.5 -1.1 10.7 -0.9 10.9 -0.8 11 -0.6 11.1 -0.6 11.3 -0.4 11.5 -0.3 11.6 -0.2 11.7 -0.2 11.8 -0.1 12 -0.1" stroke="#0072BD"/>
<path d="M64.6 173.4l2.6 0.6 4.1 0.5 4.9 -0.1 5.5 -0.8 5.9 -1.4 6.5 -2.1 6.8 -2.5 7.2 -2.8 7.5 -3 7.7 -3.1 8.1 -3.1 8.3 -3 8.6 -2.8 8.8 -2.6 9 -2.5 9.3 -2.2 9.4 -2.1 9.7 -1.9 9.8 -1.7 10 -1.5 10.2 -1.4 10.4 -1.2 10.5 -1.1 10.7 -0.9 10.9 -0.8 11 -0.6 11.1 -0.5 11.3 -0.4 11.5 -0.3 11.6 -0.2 11.7 -0.2 11.8 -0.1 12 -0.1" stroke="#D95319"/>
<path d="M64.6 172l2.6 0.7 4.1 0.4 4.9 0 5.5 -0.8 5.9 -1.4 6.5 -1.9 6.8 -2.5 7.2 -2.7 7.5 -3 7.7 -3 8.1 -3 8.3 -2.8 8.6 -2.8 8.8 -2.5 9 -2.4 9.3 -2.2 9.4 -2 9.7 -1.9 9.8 -1.6 10 -1.5 10.2 -1.4 10.4 -1.2 10.5 -1 10.7 -0.9 10.9 -0.7 11 -0.6 11.1 -0.5 11.3 -0.4 11.5 -0.3 11.6 -0.2 11.7 -0.2 11.8 -0.1 12 -0.1" stroke="#EDB120"/>
<path d="M64.6 170.7l2.6 0.6 4.1 0.5 4.9 -0.1 5.5 -0.6 5.9 -1.4 6.5 -1.9 6.8 -2.4 7.2 -2.6 7.5 -2.9 7.7 -2.9 8.1 -2.9 8.3 -2.8 8.6 -2.7 8.8 -2.5 9 -2.3 9.3 -2.1 9.4 -2 9.7 -1.7 9.8 -1.7 10 -1.4 10.2 -1.3 10.4 -1.2 10.5 -1 10.7 -0.9 10.9 -0.7 11 -0.6 11.1 -0.5 11.3 -0.3 11.5 -0.3 11.6 -0.2 11.7 -0.2 11.8 -0.1 12 -0.1" stroke="#7E2F8E"/>
<path d="M64.6 169.3l2.6 0.6 4.1 0.5 4.9 0 5.5 -0.6 5.9 -1.3 6.5 -1.9 6.8 -2.3 7.2 -2.5 7.5 -2.8 7.7 -2.8 8.1 -2.9 8.3 -2.7 8.6 -2.6 8.8 -2.4 9 -2.2 9.3 -2.1 9.4 -1.9 9.7 -1.7 9.8 -1.6 10 -1.4 10.2 -1.3 10.4 -1.1 10.5 -1 10.7 -0.8 10.9 -0.8 11 -0.5 11.1 -0.5 11.3 -0.4 11.5 -0.2 11.6 -0.3 11.7 -0.1 11.8 -0.1 12 -0.1" stroke="#77AC30"/>
<path d="M64.6 167.9l2.6 0.6 4.1 0.6 4.9 0 5.5 -0.6 5.9 -1.3 6.5 -1.7 6.8 -2.3 7.2 -2.5 7.5 -2.6 7.7 -2.8 8.1 -2.7 8.3 -2.6 8.6 -2.5 8.8 -2.4 9 -2.2 9.3 -2 9.4 -1.8 9.7 -1.7 9.8 -1.6 10 -1.3 10.2 -1.3 10.4 -1.1 10.5 -0.9 10.7 -0.8 10.9 -0.7 11 -0.6 11.1 -0.4 11.3 -0.4 11.5 -0.3 11.6 -0.2 11.7 -0.1 11.8 -0.2 12 -0.1" stroke="#4DBEEE"/>
<path d="M64.6 166.5l2.6 0.7 4.1 0.5 4.9 0 5.5 -0.5 5.9 -1.2 6.5 -1.7 6.8 -2.2 7.2 -2.4 7.5 -2.6 7.7 -2.6 8.1 -2.7 8.3 -2.5 8.6 -2.4 8.8 -2.3 9 -2.1 9.3 -2 9.4 -1.8 9.7 -1.6 9.8 -1.5 10 -1.3 10.2 -1.2 10.4 -1.1 10.5 -0.9 10.7 -0.8 10.9 -0.7 11 -0.5 11.1 -0.5 11.3 -0.3 11.5 -0.3 11.6 -0.2 11.7 -0.1 11.8 -0.2 12 -0.1" stroke="#A2142F"/>
<path d="M64.6 165.2l2.6 0.6 4.1 0.5 4.9 0.1 5.5 -0.5 5.9 -1.2 6.5 -1.6 6.8 -2.1 7.2 -2.3 7.5 -2.5 7.7 -2.6 8.1 -2.5 8.3 -2.5 8.6 -2.3 8.8 -2.3 9 -2 9.3 -1.9 9.4 -1.7 9.7 -1.6 9.8 -1.4 10 -1.3 10.2 -1.2 10.4 -1 10.5 -0.9 10.7 -0.8 10.9 -0.6 11 -0.6 11.1 -0.4 11.3 -0.3 11.5 -0.3 11.6 -0.2 11.7 -0.2 11.8 -0.1 12 -0.1" stroke="#0072BD"/>
<path d="M64.6 163.8l2.6 0.6 4.1 0.6 4.9 0.1 5.5 -0.5 5.9 -1.1 6.5 -1.6 6.8 -2 7.2 -2.2 7.5 -2.5 7.7 -2.4 8.1 -2.5 8.3 -2.4 8.6 -2.3 8.8 -2.1 9 -2 9.3 -1.8 9.4 -1.7 9.7 -1.5 9.8 -1.4 10 -1.2 10.2 -1.2 10.4 -1 10.5 -0.8 10.7 -0.8 10.9 -0.6 11 -0.5 11.1 -0.4 11.3 -0.4 11.5 -0.2 11.6 -0.2 11.7 -0.2 11.8 -0.1 12 -0.1" stroke="#D95319"/>
<path d="M64.6 162.4l2.6 0.7 4.1 0.5 4.9 0.1 5.5 -0.5 5.9 -1 6.5 -1.5 6.8 -1.9 7.2 -2.2 7.5 -2.3 7.7 -2.4 8.1 -2.4 8.3 -2.3 8.6 -2.2 8.8 -2 9 -1.9 9.3 -1.8 9.4 -1.6 9.7 -1.5 9.8 -1.3 10 -1.3 10.2 -1 10.4 -1 10.5 -0.8 10.7 -0.8 10.9 -0.6 11 -0.5 11.1 -0.4 11.3 -0.3 11.5 -0.2 11.6 -0.2 11.7 -0.2 11.8 -0.1 12 -0.1" stroke="#EDB120"/>
<path d="M64.6 161.1l2.6 0.6 4.1 0.5 4.9 0.2 5.5 -0.5 5.9 -1 6.5 -1.4 6.8 -1.9 7.2 -2.1 7.5 -2.2 7.7 -2.3 8.1 -2.3 8.3 -2.2 8.6 -2.1 8.8 -2 9 -1.8 9.3 -1.7 9.4 -1.6 9.7 -1.4 9.8 -1.3 10 -1.2 10.2 -1 10.4 -0.9 10.5 -0.9 10.7 -0.6 10.9 -0.6 11 -0.5 11.1 -0.4 11.3 -0.3 11.5 -0.2 11.6 -0.2 11.7 -0.2 11.8 -0.1 12 -0.1" stroke="#7E2F8E"/>
<path d="M64.6 159.7l2.6 0.6 4.1 0.6 4.9 0.1 5.5 -0.4 5.9 -0.9 6.5 -1.4 6.8 -1.8 7.2 -2 7.5 -2.2 7.7 -2.2 8.1 -2.2 8.3 -2.1 8.6 -2 8.8 -1.9 9 -1.8 9.3 -1.6 9.4 -1.5 9.7 -1.4 9.8 -1.3 10 -1.1 10.2 -1 10.4 -0.9 10.5 -0.8 10.7 -0.6 10.9 -0.6 11 -0.5 11.1 -0.3 11.3 -0.3 11.5 -0.3 11.6 -0.2 11.7 -0.1 11.8 -0.1 12 -0.1" stroke="#77AC30"/>
<path d="M64.6 158.3l2.6 0.6 4.1 0.6 4.9 0.1 5.5 -0.3 5.9 -0.9 6.5 -1.4 6.8 -1.7 7.2 -1.9 7.5 -2.1 7.7 -2.1 8.1 -2.1 8.3 -2 8.6 -2 8.8 -1.8 9 -1.7 9.3 -1.6 9.4 -1.4 9.7 -1.3 9.8 -1.2 10 -1.1 10.2 -1 10.4 -0.8 10.5 -0.8 10.7 -0.6 10.9 -0.6 11 -0.4 11.1 -0.4 11.3 -0.3 11.5 -0.2 11.6 -0.2 11.7 -0.1 11.8 -0.1 12 -0.1" stroke="#4DBEEE"/>
<path d="M64.6 156.9l2.6 0.7 4.1 0.5 4.9 0.2 5.5 -0.4 5.9 -0.8 6.5 -1.3 6.8 -1.6 7.2 -1.9 7.5 -1.9 7.7 -2.1 8.1 -2 8.3 -2 8.6 -1.8 8.8 -1.8 9 -1.6 9.3 -1.5 9.4 -1.4 9.7 -1.2 9.8 -1.2 10 -1 10.2 -0.9 10.4 -0.9 10.5 -0.7 10.7 -0.6 10.9 -0.5 11 -0.5 11.1 -0.3 11.3 -0.3 11.5 -0.2 11.6 -0.2 11.7 -0.1 11.8 -0.1 12 -0.1" stroke="#A2142F"/>
<path d="M64.6 155.6l2.6 0.6 4.1 0.5 4.9 0.2 5.5 -0.3 5.9 -0.8 6.5 -1.2 6.8 -1.6 7.2 -1.7 7.5 -1.9 7.7 -2 8.1 -1.9 8.3 -1.9 8.6 -1.8 8.8 -1.6 9 -1.6 9.3 -1.4 9.4 -1.3 9.7 -1.2 9.8 -1.1 10 -1 10.2 -0.9 10.4 -0.8 10.5 -0.7 10.7 -0.6 10.9 -0.5 11 -0.4 11.1 -0.4 11.3 -0.2 11.5 -0.2 11.6 -0.2 11.7 -0.1 11.8 -0.1 12 -0.1" stroke="#0072BD"/>
<path d="M64.6 154.2l2.6 0.6 4.1 0.6 4.9 0.1 5.5 -0.2 5.9 -0.8 6.5 -1.2 6.8 -1.4 7.2 -1.7 7.5 -1.8 7.7 -1.9 8.1 -1.8 8.3 -1.8 8.6 -1.7 8.8 -1.6 9 -1.5 9.3 -1.3 9.4 -1.3 9.7 -1.2 9.8 -1 10 -1 10.2 -0.8 10.4 -0.8 10.5 -0.6 10.7 -0.6 10.9 -0.5 11 -0.4 11.1 -0.3 11.3 -0.2 11.5 -0.3 11.6 -0.1 11.7 -0.1 11.8 -0.1 12 -0.1" stroke="#D95319"/>
<path d="M64.6 152.8l2.6 0.6 4.1 0.6 4.9 0.2 5.5 -0.3 5.9 -0.7 6.5 -1.1 6.8 -1.4 7.2 -1.6 7.5 -1.7 7.7 -1.8 8.1 -1.7 8.3 -1.7 8.6 -1.6 8.8 -1.6 9 -1.4 9.3 -1.3 9.4 -1.2 9.7 -1.1 9.8 -1 10 -0.9 10.2 -0.8 10.4 -0.7 10.5 -0.6 10.7 -0.6 10.9 -0.4 11 -0.4 11.1 -0.3 11.3 -0.3 11.5 -0.2 11.6 -0.1 11.7 -0.2 11.8 -0.1 12 0" stroke="#EDB120"/>
<path d="M64.6 151.5l2.6 0.5 4.1 0.6 4.9 0.2 5.5 -0.2 5.9 -0.7 6.5 -1 6.8 -1.3 7.2 -1.6 7.5 -1.6 7.7 -1.7 8.1 -1.6 8.3 -1.6 8.6 -1.6 8.8 -1.4 9 -1.4 9.3 -1.2 9.4 -1.1 9.7 -1.1 9.8 -0.9 10 -0.9 10.2 -0.8 10.4 -0.7 10.5 -0.6 10.7 -0.5 10.9 -0.4 11 -0.4 11.1 -0.3 11.3 -0.2 11.5 -0.2 11.6 -0.1 11.7 -0.2 11.8 -0.1 12 0" stroke="#7E2F8E"/>
<path d="M64.6 150.1l2.6 0.6 4.1 0.5 4.9 0.2 5.5 -0.2 5.9 -0.6 6.5 -0.9 6.8 -1.3 7.2 -1.4 7.5 -1.6 7.7 -1.6 8.1 -1.5 8.3 -1.6 8.6 -1.4 8.8 -1.4 9 -1.2 9.3 -1.2 9.4 -1.1 9.7 -1 9.8 -0.9 10 -0.8 10.2 -0.7 10.4 -0.7 10.5 -0.6 10.7 -0.5 10.9 -0.4 11 -0.3 11.1 -0.3 11.3 -0.2 11.5 -0.2 11.6 -0.2 11.7 -0.1 11.8 -0.1 12 0" stroke="#77AC30"/>
<path d="M64.6 148.7l2.6 0.6 4.1 0.5 4.9 0.3 5.5 -0.2 5.9 -0.6 6.5 -0.9 6.8 -1.1 7.2 -1.4 7.5 -1.5 7.7 -1.5 8.1 -1.4 8.3 -1.5 8.6 -1.4 8.8 -1.2 9 -1.2 9.3 -1.1 9.4 -1.1 9.7 -0.9 9.8 -0.8 10 -0.8 10.2 -0.7 10.4 -0.6 10.5 -0.6 10.7 -0.5 10.9 -0.4 11 -0.3 11.1 -0.2 11.3 -0.3 11.5 -0.1 11.6 -0.2 11.7 -0.1 11.8 -0.1 12 -0.1" stroke="#4DBEEE"/>
<path d="M64.6 147.3l2.6 0.6 4.1 0.6 4.9 0.2 5.5 -0.1 5.9 -0.5 6.5 -0.9 6.8 -1.1 7.2 -1.3 7.5 -1.3 7.7 -1.4 8.1 -1.4 8.3 -1.4 8.6 -1.3 8.8 -1.2 9 -1.1 9.3 -1.1 9.4 -0.9 9.7 -0.9 9.8 -0.8 10 -0.7 10.2 -0.7 10.4 -0.6 10.5 -0.5 10.7 -0.4 10.9 -0.4 11 -0.3 11.1 -0.3 11.3 -0.2 11.5 -0.2 11.6 -0.1 11.7 -0.1 11.8 -0.1 12 -0.1" stroke="#A2142F"/>
<path d="M64.6 146l2.6 0.5 4.1 0.6 4.9 0.3 5.5 -0.1 5.9 -0.5 6.5 -0.8 6.8 -1 7.2 -1.2 7.5 -1.3 7.7 -1.3 8.1 -1.3 8.3 -1.3 8.6 -1.2 8.8 -1.1 9 -1.1 9.3 -1 9.4 -0.9 9.7 -0.8 9.8 -0.8 10 -0.7 10.2 -0.6 10.4 -0.5 10.5 -0.5 10.7 -0.4 10.9 -0.4 11 -0.3 11.1 -0.2 11.3 -0.2 11.5 -0.2 11.6 -0.1 11.7 -0.1 11.8 -0.1 12 -0.1" stroke="#0072BD"/>
<path d="M64.6 144.6l2.6 0.6 4.1 0.5 4.9 0.3 5.5 -0.1 5.9 -0.4 6.5 -0.7 6.8 -1 7.2 -1.1 7.5 -1.2 7.7 -1.2 8.1 -1.2 8.3 -1.2 8.6 -1.1 8.8 -1.1 9 -1 9.3 -0.9 9.4 -0.8 9.7 -0.8 9.8 -0.7 10 -0.7 10.2 -0.5 10.4 -0.6 10.5 -0.4 10.7 -0.4 10.9 -0.4 11 -0.2 11.1 -0.3 11.3 -0.2 11.5 -0.1 11.6 -0.1 11.7 -0.1 11.8 -0.1 12 -0.1" stroke="#D95319"/>
<path d="M64.6 143.2l2.6 0.6 4.1 0.6 4.9 0.3 5.5 -0.1 5.9 -0.4 6.5 -0.6 6.8 -0.9 7.2 -1 7.5 -1.1 7.7 -1.2 8.1 -1.1 8.3 -1.1 8.6 -1.1 8.8 -0.9 9 -1 9.3 -0.8 9.4 -0.8 9.7 -0.7 9.8 -0.7 10 -0.6 10.2 -0.5 10.4 -0.5 10.5 -0.4 10.7 -0.4 10.9 -0.3 11 -0.3 11.1 -0.2 11.3 -0.2 11.5 -0.1 11.6 -0.1 11.7 -0.1 11.8 -0.1 12 -0.1" stroke="#EDB120"/>
<path d="M64.6 141.8l2.6 0.6 4.1 0.6 4.9 0.3 5.5 0 5.9 -0.3 6.5 -0.6 6.8 -0.8 7.2 -1 7.5 -1 7.7 -1 8.1 -1.1 8.3 -1 8.6 -1 8.8 -0.9 9 -0.8 9.3 -0.8 9.4 -0.7 9.7 -0.7 9.8 -0.6 10 -0.6 10.2 -0.5 10.4 -0.4 10.5 -0.4 10.7 -0.4 10.9 -0.3 11 -0.2 11.1 -0.2 11.3 -0.2 11.5 -0.1 11.6 -0.2 11.7 -0.1 11.8 0 12 -0.1" stroke="#7E2F8E"/>
<path d="M64.6 140.5l2.6 0.5 4.1 0.6 4.9 0.4 5.5 0 5.9 -0.3 6.5 -0.5 6.8 -0.7 7.2 -0.9 7.5 -0.9 7.7 -1 8.1 -0.9 8.3 -1 8.6 -0.9 8.8 -0.8 9 -0.8 9.3 -0.7 9.4 -0.7 9.7 -0.6 9.8 -0.6 10 -0.5 10.2 -0.5 10.4 -0.4 10.5 -0.4 10.7 -0.3 10.9 -0.3 11 -0.2 11.1 -0.2 11.3 -0.1 11.5 -0.2 11.6 -0.1 11.7 -0.1 11.8 0 12 -0.1" stroke="#77AC30"/>
<path d="M64.6 139.1l2.6 0.6 4.1 0.6 4.9 0.3 5.5 0.1 5.9 -0.2 6.5 -0.5 6.8 -0.6 7.2 -0.8 7.5 -0.8 7.7 -0.9 8.1 -0.9 8.3 -0.9 8.6 -0.8 8.8 -0.7 9 -0.8 9.3 -0.6 9.4 -0.6 9.7 -0.6 9.8 -0.5 10 -0.5 10.2 -0.4 10.4 -0.4 10.5 -0.4 10.7 -0.3 10.9 -0.2 11 -0.2 11.1 -0.2 11.3 -0.2 11.5 -0.1 11.6 -0.1 11.7 -0.1 11.8 0 12 -0.1" stroke="#4DBEEE"/>
<path d="M64.6 137.7l2.6 0.6 4.1 0.6 4.9 0.4 5.5 0.1 5.9 -0.1 6.5 -0.4 6.8 -0.6 7.2 -0.7 7.5 -0.8 7.7 -0.8 8.1 -0.8 8.3 -0.7 8.6 -0.8 8.8 -0.7 9 -0.6 9.3 -0.6 9.4 -0.6 9.7 -0.5 9.8 -0.5 10 -0.4 10.2 -0.4 10.4 -0.4 10.5 -0.3 10.7 -0.3 10.9 -0.2 11 -0.2 11.1 -0.2 11.3 -0.1 11.5 -0.1 11.6 -0.1 11.7 -0.1 11.8 -0.1 12 0" stroke="#A2142F"/>
<path d="M64.6 136.4l2.6 0.5 4.1 0.7 4.9 0.4 5.5 0.1 5.9 -0.1 6.5 -0.3 6.8 -0.5 7.2 -0.6 7.5 -0.7 7.7 -0.7 8.1 -0.7 8.3 -0.7 8.6 -0.6 8.8 -0.7 9 -0.6 9.3 -0.5 9.4 -0.5 9.7 -0.5 9.8 -0.4 10 -0.4 10.2 -0.4 10.4 -0.3 10.5 -0.3 10.7 -0.2 10.9 -0.3 11 -0.1 11.1 -0.2 11.3 -0.1 11.5 -0.1 11.6 -0.1 11.7 -0.1 11.8 -0.1 12 0" stroke="#0072BD"/>
<path d="M64.6 135l2.6 0.6 4.1 0.6 4.9 0.4 5.5 0.2 5.9 0 6.5 -0.2 6.8 -0.5 7.2 -0.5 7.5 -0.6 7.7 -0.6 8.1 -0.6 8.3 -0.6 8.6 -0.6 8.8 -0.6 9 -0.5 9.3 -0.5 9.4 -0.4 9.7 -0.5 9.8 -0.4 10 -0.3 10.2 -0.3 10.4 -0.3 10.5 -0.3 10.7 -0.2 10.9 -0.2 11 -0.2 11.1 -0.1 11.3 -0.2 11.5 -0.1 11.6 0 11.7 -0.1 11.8 -0.1 12 0" stroke="#D95319"/>
<path d="M64.6 133.6l2.6 0.6 4.1 0.6 4.9 0.5 5.5 0.3 5.9 0 6.5 -0.2 6.8 -0.3 7.2 -0.5 7.5 -0.5 7.7 -0.5 8.1 -0.5 8.3 -0.6 8.6 -0.5 8.8 -0.5 9 -0.4 9.3 -0.5 9.4 -0.4 9.7 -0.3 9.8 -0.4 10 -0.3 10.2 -0.3 10.4 -0.3 10.5 -0.2 10.7 -0.2 10.9 -0.2 11 -0.1 11.1 -0.2 11.3 -0.1 11.5 -0.1 11.6 -0.1 11.7 0 11.8 -0.1 12 0" stroke="#EDB120"/>
<path d="M64.6 132.2l2.6 0.6 4.1 0.7 4.9 0.5 5.5 0.3 5.9 0.1 6.5 -0.1 6.8 -0.3 7.2 -0.3 7.5 -0.4 7.7 -0.5 8.1 -0.5 8.3 -0.4 8.6 -0.5 8.8 -0.4 9 -0.4 9.3 -0.3 9.4 -0.4 9.7 -0.3 9.8 -0.3 10 -0.3 10.2 -0.3 10.4 -0.2 10.5 -0.2 10.7 -0.2 10.9 -0.1 11 -0.2 11.1 -0.1 11.3 -0.1 11.5 -0.1 11.6 -0.1 11.7 0 11.8 -0.1 12 -0.1" stroke="#7E2F8E"/>
<path d="M64.6 130.9l2.6 0.6 4.1 0.7 4.9 0.5 5.5 0.4 5.9 0.1 6.5 0 6.8 -0.2 7.2 -0.3 7.5 -0.3 7.7 -0.4 8.1 -0.4 8.3 -0.3 8.6 -0.4 8.8 -0.4 9 -0.3 9.3 -0.3 9.4 -0.3 9.7 -0.3 9.8 -0.3 10 -0.2 10.2 -0.2 10.4 -0.2 10.5 -0.2 10.7 -0.2 10.9 -0.1 11 -0.1 11.1 -0.1 11.3 -0.1 11.5 -0.1 11.6 -0.1 11.7 -0.1 11.8 0 12 -0.1" stroke="#77AC30"/>
<path d="M64.6 129.5l2.6 0.6 4.1 0.7 4.9 0.6 5.5 0.4 5.9 0.2 6.5 0.1 6.8 -0.1 7.2 -0.2 7.5 -0.3 7.7 -0.2 8.1 -0.3 8.3 -0.3 8.6 -0.3 8.8 -0.3 9 -0.3 9.3 -0.3 9.4 -0.2 9.7 -0.3 9.8 -0.2 10 -0.2 10.2 -0.2 10.4 -0.1 10.5 -0.2 10.7 -0.1 10.9 -0.2 11 -0.1 11.1 -0.1 11.3 -0.1 11.5 0 11.6 -0.1 11.7 -0.1 11.8 0 12 -0.1" stroke="#4DBEEE"/>
<path d="M64.6 128.1l2.6 0.6 4.1 0.8 4.9 0.6 5.5 0.5 5.9 0.2 6.5 0.2 6.8 0 7.2 -0.1 7.5 -0.2 7.7 -0.2 8.1 -0.2 8.3 -0.2 8.6 -0.3 8.8 -0.2 9 -0.2 9.3 -0.2 9.4 -0.2 9.7 -0.2 9.8 -0.2 10 -0.2 10.2 -0.1 10.4 -0.2 10.5 -0.1 10.7 -0.1 10.9 -0.1 11 -0.1 11.1 -0.1 11.3 -0.1 11.5 -0.1 11.6 0 11.7 -0.1 11.8 0 12 -0.1" stroke="#A2142F"/>
<path d="M64.6 126.8l2.6 0.6 4.1 0.8 4.9 0.6 5.5 0.5 5.9 0.4 6.5 0.2 6.8 0.1 7.2 0 7.5 -0.1 7.7 -0.1 8.1 -0.2 8.3 -0.1 8.6 -0.2 8.8 -0.2 9 -0.1 9.3 -0.2 9.4 -0.1 9.7 -0.2 9.8 -0.1 10 -0.1 10.2 -0.2 10.4 -0.1 10.5 -0.1 10.7 -0.1 10.9 -0.1 11 -0.1 11.1 0 11.3 -0.1 11.5 -0.1 11.6 0 11.7 -0.1 11.8 0 12 -0.1" stroke="#0072BD"/>
<path d="M64.6 125.4l2.6 0.6 4.1 0.8 4.9 0.7 5.5 0.6 5.9 0.4 6.5 0.3 6.8 0.2 7.2 0.1 7.5 0 7.7 -0.1 8.1 0 8.3 -0.1 8.6 -0.1 8.8 -0.1 9 -0.1 9.3 -0.1 9.4 -0.1 9.7 -0.1 9.8 -0.1 10 -0.1 10.2 -0.1 10.4 -0.1 10.5 -0.1 10.7 -0.1 10.9 0 11 -0.1 11.1 -0.1 11.3 0 11.5 -0.1 11.6 -0.1 11.7 0 11.8 -0.1 12 0" stroke="#D95319"/>
<path d="M64.6 124l2.6 0.7 4.1 0.8 4.9 0.8 5.5 0.6 5.9 0.5 6.5 0.3 6.8 0.3 7.2 0.2 7.5 0.1 7.7 0 8.1 0 8.3 0 8.6 0 8.8 -0.1 9 0 9.3 -0.1 9.4 0 9.7 -0.1 9.8 -0.1 10 0 10.2 -0.1 10.4 0 10.5 -0.1 10.7 0 10.9 -0.1 11 0 11.1 -0.1 11.3 -0.1 11.5 0 11.6 -0.1 11.7 0 11.8 -0.1 12 0" stroke="#EDB120"/>
<path d="M64.6 122.6l2.6 0.7 4.1 0.9 4.9 0.8 5.5 0.7 5.9 0.6 6.5 0.4 6.8 0.3 7.2 0.3 7.5 0.2 7.7 0.1 8.1 0.1 8.3 0.1 8.6 0 8.8 0 9 0 9.3 0 9.4 0 9.7 0 9.8 -0.1 10 0 10.2 0 10.4 0 10.5 -0.1 10.7 0 10.9 0 11 -0.1 11.1 0 11.3 -0.1 11.5 0 11.6 -0.1 11.7 0 11.8 -0.1 12 0" stroke="#7E2F8E"/>
<path d="M64.6 121.3l2.6 0.7 4.1 0.9 4.9 0.8 5.5 0.8 5.9 0.6 6.5 0.6 6.8 0.4 7.2 0.3 7.5 0.3 7.7 0.2 8.1 0.2 8.3 0.1 8.6 0.1 8.8 0.1 9 0 9.3 0.1 9.4 0 9.7 0 9.8 0 10 0 10.2 0 10.4 0 10.5 0 10.7 0 10.9 0 11 0 11.1 -0.1 11.3 0 11.5 0 11.6 -0.1 11.7 0 11.8 -0.1 12 0" stroke="#77AC30"/>
<path d="M64.6 119.9l2.6 0.7 4.1 0.9 4.9 1 5.5 0.8 5.9 0.7 6.5 0.6 6.8 0.6 7.2 0.4 7.5 0.3 7.7 0.3 8.1 0.3 8.3 0.2 8.6 0.1 8.8 0.1 9 0.2 9.3 0 9.4 0.1 9.7 0.1 9.8 0 10 0.1 10.2 0 10.4 0 10.5 0.1 10.7 0 10.9 0 11 -0.1 11.1 0 11.3 0 11.5 -0.1 11.6 0 11.7 -0.1 11.8 0 12 0" stroke="#4DBEEE"/>
<path d="M64.6 118.5l2.6 0.8 4.1 0.9 4.9 1 5.5 0.9 5.9 0.8 6.5 0.7 6.8 0.6 7.2 0.5 7.5 0.5 7.7 0.4 8.1 0.3 8.3 0.2 8.6 0.2 8.8 0.2 9 0.2 9.3 0.1 9.4 0.1 9.7 0.1 9.8 0.1 10 0.1 10.2 0.1 10.4 0 10.5 0.1 10.7 0 10.9 0 11 0 11.1 0 11.3 -0.1 11.5 0 11.6 0 11.7 -0.1 11.8 0 12 0" stroke="#A2142F"/>
<path d="M64.6 117.2l2.6 0.7 4.1 1 4.9 1.1 5.5 0.9 5.9 0.9 6.5 0.8 6.8 0.7 7.2 0.6 7.5 0.5 7.7 0.5 8.1 0.4 8.3 0.3 8.6 0.3 8.8 0.2 9 0.2 9.3 0.2 9.4 0.2 9.7 0.1 9.8 0.1 10 0.1 10.2 0.1 10.4 0.1 10.5 0.1 10.7 0 10.9 0 11 0.1 11.1 -0.1 11.3 0 11.5 0 11.6 0 11.7 -0.1 11.8 0 12 -0.1" stroke="#0072BD"/>
<path d="M64.6 115.8l2.6 0.8 4.1 1 4.9 1.1 5.5 1.1 5.9 0.9 6.5 0.9 6.8 0.8 7.2 0.7 7.5 0.6 7.7 0.5 8.1 0.5 8.3 0.4 8.6 0.3 8.8 0.3 9 0.3 9.3 0.2 9.4 0.2 9.7 0.2 9.8 0.1 10 0.2 10.2 0.1 10.4 0.1 10.5 0.1 10.7 0.1 10.9 0 11 0 11.1 0 11.3 0 11.5 0 11.6 -0.1 11.7 0 11.8 0 12 -0.1" stroke="#D95319"/>
<path d="M64.6 114.4l2.6 0.8 4.1 1.1 4.9 1.2 5.5 1.1 5.9 1.1 6.5 0.9 6.8 0.9 7.2 0.8 7.5 0.7 7.7 0.6 8.1 0.5 8.3 0.5 8.6 0.4 8.8 0.3 9 0.3 9.3 0.3 9.4 0.2 9.7 0.2 9.8 0.2 10 0.2 10.2 0.2 10.4 0.1 10.5 0.1 10.7 0.1 10.9 0 11 0.1 11.1 0 11.3 0 11.5 0 11.6 -0.1 11.7 0 11.8 0 12 -0.1" stroke="#EDB120"/>
<path d="M64.6 113l2.6 0.9 4.1 1.1 4.9 1.2 5.5 1.2 5.9 1.2 6.5 1.1 6.8 0.9 7.2 0.9 7.5 0.8 7.7 0.7 8.1 0.6 8.3 0.5 8.6 0.5 8.8 0.3 9 0.4 9.3 0.3 9.4 0.3 9.7 0.2 9.8 0.3 10 0.2 10.2 0.1 10.4 0.2 10.5 0.1 10.7 0.1 10.9 0.1 11 0 11.1 0.1 11.3 0 11.5 -0.1 11.6 0 11.7 0 11.8 0 12 -0.1" stroke="#7E2F8E"/>
<path d="M64.6 111.7l2.6 0.8 4.1 1.2 4.9 1.3 5.5 1.3 5.9 1.2 6.5 1.2 6.8 1.1 7.2 0.9 7.5 0.9 7.7 0.8 8.1 0.6 8.3 0.6 8.6 0.5 8.8 0.5 9 0.4 9.3 0.3 9.4 0.3 9.7 0.3 9.8 0.3 10 0.2 10.2 0.2 10.4 0.2 10.5 0.1 10.7 0.2 10.9 0.1 11 0 11.1 0 11.3 0 11.5 0 11.6 0 11.7 0 11.8 -0.1 12 0" stroke="#77AC30"/>
<path d="M64.6 110.3l2.6 0.9 4.1 1.2 4.9 1.4 5.5 1.3 5.9 1.4 6.5 1.2 6.8 1.2 7.2 1 7.5 1 7.7 0.8 8.1 0.8 8.3 0.6 8.6 0.6 8.8 0.5 9 0.4 9.3 0.4 9.4 0.4 9.7 0.3 9.8 0.3 10 0.2 10.2 0.3 10.4 0.2 10.5 0.2 10.7 0.1 10.9 0.1 11 0.1 11.1 0 11.3 0 11.5 0 11.6 0 11.7 0 11.8 -0.1 12 0" stroke="#4DBEEE"/>
<path d="M64.6 108.9l2.6 0.9 4.1 1.3 4.9 1.5 5.5 1.4 5.9 1.4 6.5 1.4 6.8 1.2 7.2 1.2 7.5 1 7.7 0.9 8.1 0.8 8.3 0.8 8.6 0.6 8.8 0.5 9 0.5 9.3 0.4 9.4 0.4 9.7 0.4 9.8 0.3 10 0.3 10.2 0.3 10.4 0.2 10.5 0.2 10.7 0.1 10.9 0.2 11 0 11.1 0.1 11.3 0 11.5 0 11.6 0 11.7 0 11.8 -0.1 12 0" stroke="#A2142F"/>
<path d="M64.6 107.6l2.6 0.9 4.1 1.3 4.9 1.5 5.5 1.6 5.9 1.5 6.5 1.4 6.8 1.4 7.2 1.2 7.5 1.1 7.7 1 8.1 0.9 8.3 0.8 8.6 0.7 8.8 0.6 9 0.5 9.3 0.4 9.4 0.5 9.7 0.4 9.8 0.3 10 0.3 10.2 0.3 10.4 0.3 10.5 0.2 10.7 0.2 10.9 0.1 11 0.1 11.1 0.1 11.3 0 11.5 0 11.6 0 11.7 -0.1 11.8 0 12 0" stroke="#0072BD"/>
<path d="M64.6 106.2l2.6 0.9 4.1 1.5 4.9 1.5 5.5 1.6 5.9 1.6 6.5 1.6 6.8 1.4 7.2 1.4 7.5 1.2 7.7 1.1 8.1 0.9 8.3 0.8 8.6 0.8 8.8 0.6 9 0.6 9.3 0.5 9.4 0.4 9.7 0.5 9.8 0.3 10 0.4 10.2 0.3 10.4 0.3 10.5 0.2 10.7 0.2 10.9 0.2 11 0.1 11.1 0 11.3 0.1 11.5 0 11.6 0 11.7 -0.1 11.8 0 12 0" stroke="#D95319"/>
<path d="M64.6 104.8l2.6 1 4.1 1.5 4.9 1.6 5.5 1.7 5.9 1.7 6.5 1.6 6.8 1.6 7.2 1.4 7.5 1.3 7.7 1.2 8.1 1 8.3 0.9 8.6 0.8 8.8 0.6 9 0.6 9.3 0.6 9.4 0.5 9.7 0.4 9.8 0.5 10 0.3 10.2 0.4 10.4 0.3 10.5 0.3 10.7 0.2 10.9 0.1 11 0.1 11.1 0.1 11.3 0 11.5 0 11.6 0 11.7 0 11.8 0 12 0" stroke="#EDB120"/>
<path d="M64.6 103.4l2.6 1.1 4.1 1.5 4.9 1.7 5.5 1.8 5.9 1.8 6.5 1.7 6.8 1.7 7.2 1.5 7.5 1.4 7.7 1.2 8.1 1.1 8.3 0.9 8.6 0.9 8.8 0.7 9 0.6 9.3 0.6 9.4 0.5 9.7 0.5 9.8 0.5 10 0.4 10.2 0.4 10.4 0.3 10.5 0.3 10.7 0.2 10.9 0.2 11 0.1 11.1 0.1 11.3 0 11.5 0 11.6 0 11.7 0 11.8 0 12 0" stroke="#7E2F8E"/>
<path d="M64.6 102.1l2.6 1 4.1 1.6 4.9 1.8 5.5 1.9 5.9 1.9 6.5 1.8 6.8 1.7 7.2 1.6 7.5 1.5 7.7 1.3 8.1 1.2 8.3 1 8.6 0.9 8.8 0.7 9 0.7 9.3 0.6 9.4 0.6 9.7 0.5 9.8 0.5 10 0.5 10.2 0.4 10.4 0.3 10.5 0.3 10.7 0.3 10.9 0.1 11 0.2 11.1 0.1 11.3 0 11.5 0 11.6 0 11.7 0 11.8 0 12 -0.1" stroke="#77AC30"/>
<path d="M64.6 100.7l2.6 1.1 4.1 1.6 4.9 1.9 5.5 1.9 5.9 2 6.5 2 6.8 1.8 7.2 1.7 7.5 1.6 7.7 1.3 8.1 1.3 8.3 1 8.6 1 8.8 0.8 9 0.7 9.3 0.7 9.4 0.6 9.7 0.5 9.8 0.5 10 0.5 10.2 0.4 10.4 0.4 10.5 0.3 10.7 0.3 10.9 0.2 11 0.1 11.1 0.1 11.3 0.1 11.5 0 11.6 0 11.7 0 11.8 0 12 -0.1" stroke="#4DBEEE"/>
<path d="M64.6 99.3l2.6 1.1 4.1 1.7 4.9 2 5.5 2 5.9 2.1 6.5 2 6.8 2 7.2 1.8 7.5 1.6 7.7 1.5 8.1 1.3 8.3 1.1 8.6 1 8.8 0.8 9 0.8 9.3 0.7 9.4 0.6 9.7 0.6 9.8 0.6 10 0.5 10.2 0.4 10.4 0.4 10.5 0.4 10.7 0.2 10.9 0.2 11 0.2 11.1 0.1 11.3 0.1 11.5 0 11.6 0 11.7 0 11.8 0 12 -0.1" stroke="#A2142F"/>
<path d="M64.6 98l2.6 1.1 4.1 1.8 4.9 2 5.5 2.1 5.9 2.2 6.5 2.1 6.8 2.1 7.2 1.8 7.5 1.8 7.7 1.5 8.1 1.3 8.3 1.2 8.6 1.1 8.8 0.9 9 0.8 9.3 0.7 9.4 0.7 9.7 0.6 9.8 0.6 10 0.5 10.2 0.5 10.4 0.4 10.5 0.4 10.7 0.3 10.9 0.2 11 0.2 11.1 0.1 11.3 0 11.5 0.1 11.6 0 11.7 0 11.8 -0.1 12 0" stroke="#0072BD"/>
<path d="M64.6 96.6l2.6 1.2 4.1 1.8 4.9 2.1 5.5 2.2 5.9 2.3 6.5 2.2 6.8 2.1 7.2 2 7.5 1.8 7.7 1.6 8.1 1.4 8.3 1.3 8.6 1.1 8.8 0.9 9 0.9 9.3 0.8 9.4 0.7 9.7 0.6 9.8 0.6 10 0.6 10.2 0.5 10.4 0.4 10.5 0.4 10.7 0.3 10.9 0.3 11 0.1 11.1 0.1 11.3 0.1 11.5 0.1 11.6 0 11.7 0 11.8 -0.1 12 0" stroke="#D95319"/>
<path d="M64.6 95.2l2.6 1.2 4.1 1.9 4.9 2.2 5.5 2.3 5.9 2.3 6.5 2.4 6.8 2.2 7.2 2.1 7.5 1.9 7.7 1.7 8.1 1.4 8.3 1.3 8.6 1.2 8.8 1 9 0.9 9.3 0.8 9.4 0.7 9.7 0.7 9.8 0.6 10 0.6 10.2 0.6 10.4 0.4 10.5 0.4 10.7 0.4 10.9 0.2 11 0.2 11.1 0.1 11.3 0.1 11.5 0 11.6 0 11.7 0 11.8 0 12 0" stroke="#EDB120"/>
<path d="M64.6 93.8l2.6 1.3 4.1 1.9 4.9 2.2 5.5 2.4 5.9 2.5 6.5 2.5 6.8 2.3 7.2 2.1 7.5 2 7.7 1.8 8.1 1.5 8.3 1.4 8.6 1.2 8.8 1 9 1 9.3 0.8 9.4 0.8 9.7 0.7 9.8 0.7 10 0.6 10.2 0.5 10.4 0.5 10.5 0.5 10.7 0.3 10.9 0.3 11 0.2 11.1 0.1 11.3 0.1 11.5 0 11.6 0 11.7 0 11.8 0 12 0" stroke="#7E2F8E"/>
<path d="M64.6 92.5l2.6 1.3 4.1 1.9 4.9 2.3 5.5 2.5 5.9 2.6 6.5 2.5 6.8 2.4 7.2 2.3 7.5 2.1 7.7 1.8 8.1 1.6 8.3 1.4 8.6 1.3 8.8 1.1 9 1 9.3 0.8 9.4 0.9 9.7 0.7 9.8 0.7 10 0.6 10.2 0.6 10.4 0.5 10.5 0.5 10.7 0.3 10.9 0.3 11 0.2 11.1 0.2 11.3 0.1 11.5 0 11.6 0 11.7 0 11.8 0 12 0" stroke="#77AC30"/>
<path d="M64.6 91.1l2.6 1.3 4.1 2 4.9 2.4 5.5 2.6 5.9 2.7 6.5 2.6 6.8 2.5 7.2 2.4 7.5 2.1 7.7 1.9 8.1 1.7 8.3 1.5 8.6 1.3 8.8 1.1 9 1 9.3 1 9.4 0.8 9.7 0.8 9.8 0.7 10 0.7 10.2 0.6 10.4 0.5 10.5 0.5 10.7 0.4 10.9 0.3 11 0.2 11.1 0.1 11.3 0.1 11.5 0.1 11.6 0 11.7 0 11.8 0 12 0" stroke="#4DBEEE"/>
<path d="M64.6 89.7l2.6 1.4 4.1 2 4.9 2.5 5.5 2.7 5.9 2.7 6.5 2.7 6.8 2.7 7.2 2.4 7.5 2.2 7.7 2 8.1 1.8 8.3 1.5 8.6 1.4 8.8 1.2 9 1 9.3 1 9.4 0.9 9.7 0.8 9.8 0.7 10 0.7 10.2 0.7 10.4 0.5 10.5 0.5 10.7 0.4 10.9 0.3 11 0.3 11.1 0.1 11.3 0.1 11.5 0.1 11.6 0 11.7 0 11.8 0 12 0" stroke="#A2142F"/>
<path d="M64.6 88.4l2.6 1.3 4.1 2.2 4.9 2.5 5.5 2.7 5.9 2.9 6.5 2.8 6.8 2.7 7.2 2.5 7.5 2.3 7.7 2.1 8.1 1.8 8.3 1.6 8.6 1.5 8.8 1.2 9 1.1 9.3 1 9.4 0.9 9.7 0.9 9.8 0.7 10 0.8 10.2 0.6 10.4 0.6 10.5 0.5 10.7 0.5 10.9 0.3 11 0.2 11.1 0.2 11.3 0.1 11.5 0 11.6 0.1 11.7 0 11.8 0 12 -0.1" stroke="#0072BD"/>
<path d="M64.6 87l2.6 1.4 4.1 2.2 4.9 2.5 5.5 2.9 5.9 2.9 6.5 2.9 6.8 2.8 7.2 2.7 7.5 2.4 7.7 2.1 8.1 1.9 8.3 1.7 8.6 1.4 8.8 1.3 9 1.2 9.3 1 9.4 1 9.7 0.8 9.8 0.9 10 0.7 10.2 0.7 10.4 0.6 10.5 0.6 10.7 0.4 10.9 0.3 11 0.3 11.1 0.2 11.3 0.1 11.5 0 11.6 0.1 11.7 0 11.8 0 12 -0.1" stroke="#D95319"/>
<path d="M64.6 85.6l2.6 1.4 4.1 2.3 4.9 2.6 5.5 2.9 5.9 3 6.5 3.1 6.8 2.9 7.2 2.7 7.5 2.5 7.7 2.2 8.1 1.9 8.3 1.8 8.6 1.5 8.8 1.3 9 1.2 9.3 1.1 9.4 1 9.7 0.9 9.8 0.9 10 0.8 10.2 0.7 10.4 0.6 10.5 0.6 10.7 0.4 10.9 0.4 11 0.2 11.1 0.2 11.3 0.1 11.5 0.1 11.6 0 11.7 0.1 11.8 -0.1 12 0" stroke="#EDB120"/>
<path d="M64.6 84.2l2.6 1.5 4.1 2.3 4.9 2.7 5.5 3 5.9 3.1 6.5 3.1 6.8 3 7.2 2.8 7.5 2.5 7.7 2.3 8.1 2.1 8.3 1.8 8.6 1.6 8.8 1.3 9 1.3 9.3 1.1 9.4 1 9.7 1 9.8 0.9 10 0.8 10.2 0.7 10.4 0.7 10.5 0.6 10.7 0.5 10.9 0.3 11 0.3 11.1 0.2 11.3 0.1 11.5 0.1 11.6 0 11.7 0 11.8 0 12 0" stroke="#7E2F8E"/>
<path d="M64.6 82.9l2.6 1.4 4.1 2.4 4.9 2.7 5.5 3.1 5.9 3.2 6.5 3.2 6.8 3.1 7.2 2.9 7.5 2.6 7.7 2.4 8.1 2.1 8.3 1.9 8.6 1.6 8.8 1.5 9 1.2 9.3 1.2 9.4 1.1 9.7 1 9.8 0.9 10 0.8 10.2 0.8 10.4 0.7 10.5 0.6 10.7 0.5 10.9 0.4 11 0.3 11.1 0.2 11.3 0.1 11.5 0.1 11.6 0 11.7 0 11.8 0 12 0" stroke="#77AC30"/>
<path d="M64.6 81.5l2.6 1.5 4.1 2.4 4.9 2.8 5.5 3.1 5.9 3.3 6.5 3.3 6.8 3.2 7.2 3 7.5 2.7 7.7 2.5 8.1 2.2 8.3 1.9 8.6 1.7 8.8 1.5 9 1.3 9.3 1.2 9.4 1.1 9.7 1 9.8 1 10 0.9 10.2 0.8 10.4 0.7 10.5 0.6 10.7 0.5 10.9 0.4 11 0.3 11.1 0.2 11.3 0.2 11.5 0.1 11.6 0 11.7 0 11.8 0 12 0" stroke="#4DBEEE"/>
<path d="M64.6 80.1l2.6 1.5 4.1 2.5 4.9 2.9 5.5 3.2 5.9 3.4 6.5 3.4 6.8 3.2 7.2 3.1 7.5 2.8 7.7 2.6 8.1 2.2 8.3 2 8.6 1.7 8.8 1.6 9 1.4 9.3 1.2 9.4 1.2 9.7 1 9.8 1 10 0.9 10.2 0.9 10.4 0.7 10.5 0.6 10.7 0.6 10.9 0.4 11 0.3 11.1 0.2 11.3 0.1 11.5 0.1 11.6 0.1 11.7 0 11.8 0 12 0" stroke="#A2142F"/>
<path d="M64.6 78.7l2.6 1.6 4.1 2.5 4.9 2.9 5.5 3.3 5.9 3.5 6.5 3.5 6.8 3.3 7.2 3.2 7.5 2.9 7.7 2.6 8.1 2.4 8.3 2 8.6 1.8 8.8 1.6 9 1.4 9.3 1.3 9.4 1.2 9.7 1.1 9.8 1 10 1 10.2 0.8 10.4 0.8 10.5 0.7 10.7 0.5 10.9 0.4 11 0.4 11.1 0.2 11.3 0.1 11.5 0.1 11.6 0.1 11.7 0 11.8 0 12 0" stroke="#0072BD"/>
<path d="M64.6 77.4l2.6 1.6 4.1 2.5 4.9 3 5.5 3.4 5.9 3.5 6.5 3.6 6.8 3.5 7.2 3.2 7.5 3 7.7 2.7 8.1 2.4 8.3 2.1 8.6 1.9 8.8 1.6 9 1.5 9.3 1.3 9.4 1.2 9.7 1.2 9.8 1 10 1 10.2 0.9 10.4 0.8 10.5 0.7 10.7 0.5 10.9 0.5 11 0.3 11.1 0.2 11.3 0.2 11.5 0.1 11.6 0 11.7 0.1 11.8 0 12 0" stroke="#D95319"/>
<path d="M64.6 76l2.6 1.6 4.1 2.6 4.9 3.1 5.5 3.4 5.9 3.7 6.5 3.6 6.8 3.6 7.2 3.3 7.5 3.1 7.7 2.8 8.1 2.4 8.3 2.2 8.6 1.9 8.8 1.7 9 1.5 9.3 1.4 9.4 1.3 9.7 1.1 9.8 1.1 10 1 10.2 1 10.4 0.8 10.5 0.7 10.7 0.6 10.9 0.4 11 0.4 11.1 0.2 11.3 0.2 11.5 0.1 11.6 0 11.7 0.1 11.8 0 12 -0.1" stroke="#EDB120"/>
<path d="M64.6 74.6l2.6 1.7 4.1 2.6 4.9 3.1 5.5 3.5 5.9 3.8 6.5 3.7 6.8 3.7 7.2 3.4 7.5 3.2 7.7 2.8 8.1 2.6 8.3 2.2 8.6 2 8.8 1.7 9 1.6 9.3 1.4 9.4 1.3 9.7 1.2 9.8 1.1 10 1.1 10.2 0.9 10.4 0.9 10.5 0.7 10.7 0.6 10.9 0.5 11 0.3 11.1 0.3 11.3 0.2 11.5 0.1 11.6 0 11.7 0 11.8 0 12 0" stroke="#7E2F8E"/>
<path d="M64.6 73.3l2.6 1.6 4.1 2.6 4.9 3.3 5.5 3.6 5.9 3.8 6.5 3.9 6.8 3.7 7.2 3.5 7.5 3.3 7.7 2.9 8.1 2.6 8.3 2.3 8.6 2 8.8 1.8 9 1.7 9.3 1.4 9.4 1.3 9.7 1.3 9.8 1.1 10 1.1 10.2 1 10.4 0.9 10.5 0.7 10.7 0.6 10.9 0.5 11 0.4 11.1 0.3 11.3 0.1 11.5 0.1 11.6 0.1 11.7 0 11.8 0 12 0" stroke="#77AC30"/>
<path d="M64.6 71.9l2.6 1.7 4.1 2.6 4.9 3.3 5.5 3.7 5.9 3.9 6.5 4 6.8 3.8 7.2 3.6 7.5 3.4 7.7 3 8.1 2.7 8.3 2.3 8.6 2.1 8.8 1.9 9 1.6 9.3 1.5 9.4 1.4 9.7 1.3 9.8 1.1 10 1.1 10.2 1.1 10.4 0.9 10.5 0.7 10.7 0.7 10.9 0.5 11 0.4 11.1 0.2 11.3 0.2 11.5 0.1 11.6 0.1 11.7 0 11.8 0 12 0" stroke="#4DBEEE"/>
<path d="M64.6 70.5l2.6 1.7 4.1 2.7 4.9 3.4 5.5 3.8 5.9 4 6.5 4 6.8 3.9 7.2 3.7 7.5 3.5 7.7 3 8.1 2.8 8.3 2.4 8.6 2.2 8.8 1.9 9 1.7 9.3 1.5 9.4 1.4 9.7 1.3 9.8 1.3 10 1.1 10.2 1 10.4 0.9 10.5 0.8 10.7 0.7 10.9 0.5 11 0.4 11.1 0.3 11.3 0.2 11.5 0.1 11.6 0.1 11.7 0 11.8 0 12 0" stroke="#A2142F"/>
<path d="M64.6 69.1l2.6 1.8 4.1 2.7 4.9 3.5 5.5 3.8 5.9 4.1 6.5 4.1 6.8 4.1 7.2 3.8 7.5 3.5 7.7 3.1 8.1 2.8 8.3 2.5 8.6 2.2 8.8 2 9 1.7 9.3 1.6 9.4 1.5 9.7 1.3 9.8 1.3 10 1.1 10.2 1.1 10.4 0.9 10.5 0.9 10.7 0.6 10.9 0.6 11 0.4 11.1 0.3 11.3 0.2 11.5 0.1 11.6 0 11.7 0.1 11.8 0 12 0" stroke="#0072BD"/>
<path d="M64.6 67.8l2.6 1.7 4.1 2.8 4.9 3.5 5.5 3.9 5.9 4.2 6.5 4.2 6.8 4.2 7.2 3.9 7.5 3.5 7.7 3.3 8.1 2.9 8.3 2.5 8.6 2.3 8.8 2 9 1.8 9.3 1.6 9.4 1.5 9.7 1.4 9.8 1.3 10 1.2 10.2 1.1 10.4 0.9 10.5 0.9 10.7 0.7 10.9 0.5 11 0.4 11.1 0.3 11.3 0.2 11.5 0.2 11.6 0 11.7 0.1 11.8 0 12 0" stroke="#D95319"/>
<path d="M64.6 66.4l2.6 1.8 4.1 2.8 4.9 3.6 5.5 4 5.9 4.2 6.5 4.4 6.8 4.2 7.2 4 7.5 3.6 7.7 3.4 8.1 2.9 8.3 2.6 8.6 2.3 8.8 2.1 9 1.8 9.3 1.7 9.4 1.5 9.7 1.5 9.8 1.3 10 1.2 10.2 1.1 10.4 1 10.5 0.9 10.7 0.7 10.9 0.6 11 0.4 11.1 0.3 11.3 0.2 11.5 0.1 11.6 0.1 11.7 0.1 11.8 0 12 0" stroke="#EDB120"/>
<path d="M64.6 65l2.6 1.8 4.1 2.9 4.9 3.6 5.5 4.1 5.9 4.4 6.5 4.4 6.8 4.3 7.2 4.1 7.5 3.7 7.7 3.4 8.1 3 8.3 2.7 8.6 2.4 8.8 2.1 9 1.9 9.3 1.7 9.4 1.6 9.7 1.4 9.8 1.4 10 1.2 10.2 1.2 10.4 1 10.5 0.9 10.7 0.7 10.9 0.6 11 0.5 11.1 0.3 11.3 0.2 11.5 0.1 11.6 0.1 11.7 0 11.8 0.1 12 0" stroke="#7E2F8E"/>
<path d="M64.6 63.7l2.6 1.8 4.1 2.9 4.9 3.7 5.5 4.2 5.9 4.4 6.5 4.5 6.8 4.4 7.2 4.2 7.5 3.8 7.7 3.5 8.1 3.1 8.3 2.7 8.6 2.5 8.8 2.1 9 1.9 9.3 1.8 9.4 1.6 9.7 1.5 9.8 1.4 10 1.3 10.2 1.2 10.4 1 10.5 0.9 10.7 0.8 10.9 0.6 11 0.4 11.1 0.3 11.3 0.3 11.5 0.1 11.6 0.1 11.7 0 11.8 0 12 0" stroke="#77AC30"/>
<path d="M64.6 62.3l2.6 1.8 4.1 3 4.9 3.8 5.5 4.2 5.9 4.5 6.5 4.6 6.8 4.5 7.2 4.3 7.5 3.9 7.7 3.6 8.1 3.1 8.3 2.8 8.6 2.5 8.8 2.2 9 2 9.3 1.8 9.4 1.6 9.7 1.6 9.8 1.4 10 1.3 10.2 1.2 10.4 1.1 10.5 0.9 10.7 0.8 10.9 0.6 11 0.5 11.1 0.3 11.3 0.2 11.5 0.2 11.6 0.1 11.7 0 11.8 0 12 0" stroke="#4DBEEE"/>
<path d="M64.6 60.9l2.6 1.9 4.1 3 4.9 3.8 5.5 4.3 5.9 4.6 6.5 4.7 6.8 4.6 7.2 4.4 7.5 4 7.7 3.6 8.1 3.3 8.3 2.8 8.6 2.6 8.8 2.2 9 2.1 9.3 1.8 9.4 1.7 9.7 1.5 9.8 1.5 10 1.3 10.2 1.3 10.4 1.1 10.5 0.9 10.7 0.8 10.9 0.7 11 0.4 11.1 0.4 11.3 0.2 11.5 0.2 11.6 0 11.7 0.1 11.8 0 12 0" stroke="#A2142F"/>
<path d="M64.6 59.5l2.6 1.9 4.1 3.1 4.9 3.9 5.5 4.4 5.9 4.7 6.5 4.8 6.8 4.6 7.2 4.5 7.5 4.1 7.7 3.7 8.1 3.3 8.3 2.9 8.6 2.6 8.8 2.3 9 2.1 9.3 1.9 9.4 1.7 9.7 1.6 9.8 1.5 10 1.4 10.2 1.2 10.4 1.2 10.5 1 10.7 0.8 10.9 0.6 11 0.5 11.1 0.3 11.3 0.3 11.5 0.1 11.6 0.1 11.7 0.1 11.8 0 12 0" stroke="#0072BD"/>
<path d="M64.6 58.2l2.6 1.9 4.1 3.1 4.9 3.9 5.5 4.5 5.9 4.8 6.5 4.9 6.8 4.8 7.2 4.5 7.5 4.2 7.7 3.8 8.1 3.3 8.3 3 8.6 2.7 8.8 2.4 9 2.1 9.3 1.9 9.4 1.8 9.7 1.6 9.8 1.5 10 1.4 10.2 1.3 10.4 1.2 10.5 1 10.7 0.8 10.9 0.7 11 0.5 11.1 0.3 11.3 0.3 11.5 0.1 11.6 0.1 11.7 0.1 11.8 0 12 0" stroke="#D95319"/>
<path d="M64.6 56.8l2.6 1.9 4.1 3.2 4.9 4 5.5 4.6 5.9 4.8 6.5 5 6.8 4.9 7.2 4.6 7.5 4.3 7.7 3.8 8.1 3.5 8.3 3 8.6 2.8 8.8 2.4 9 2.1 9.3 2 9.4 1.8 9.7 1.7 9.8 1.5 10 1.5 10.2 1.3 10.4 1.2 10.5 1 10.7 0.8 10.9 0.7 11 0.5 11.1 0.4 11.3 0.2 11.5 0.2 11.6 0.1 11.7 0.1 11.8 0 12 0" stroke="#EDB120"/>
<path d="M64.6 55.4l2.6 2 4.1 3.2 4.9 4.1 5.5 4.6 5.9 5 6.5 5 6.8 5 7.2 4.7 7.5 4.3 7.7 4 8.1 3.5 8.3 3.1 8.6 2.8 8.8 2.5 9 2.2 9.3 2 9.4 1.8 9.7 1.7 9.8 1.6 10 1.5 10.2 1.3 10.4 1.3 10.5 1 10.7 0.9 10.9 0.7 11 0.5 11.1 0.4 11.3 0.2 11.5 0.2 11.6 0.1 11.7 0 11.8 0.1 12 0" stroke="#7E2F8E"/>
<path d="M64.6 54.1l2.6 1.9 4.1 3.3 4.9 4.1 5.5 4.7 5.9 5.1 6.5 5.1 6.8 5.1 7.2 4.8 7.5 4.4 7.7 4.1 8.1 3.6 8.3 3.1 8.6 2.9 8.8 2.5 9 2.2 9.3 2.1 9.4 1.9 9.7 1.7 9.8 1.6 10 1.5 10.2 1.4 10.4 1.2 10.5 1.1 10.7 0.9 10.9 0.7 11 0.5 11.1 0.4 11.3 0.3 11.5 0.2 11.6 0.1 11.7 0 11.8 0.1 12 0" stroke="#77AC30"/>
<path d="M64.6 52.7l2.6 2 4.1 3.3 4.9 4.2 5.5 4.8 5.9 5.1 6.5 5.3 6.8 5.1 7.2 4.9 7.5 4.5 7.7 4.1 8.1 3.7 8.3 3.2 8.6 2.9 8.8 2.6 9 2.3 9.3 2.1 9.4 1.9 9.7 1.8 9.8 1.6 10 1.6 10.2 1.4 10.4 1.2 10.5 1.1 10.7 0.9 10.9 0.7 11 0.6 11.1 0.4 11.3 0.3 11.5 0.1 11.6 0.1 11.7 0.1 11.8 0 12 0.1" stroke="#4DBEEE"/>
<path d="M64.6 51.3l2.6 2 4.1 3.4 4.9 4.2 5.5 4.9 5.9 5.2 6.5 5.4 6.8 5.2 7.2 5 7.5 4.6 7.7 4.2 8.1 3.7 8.3 3.3 8.6 3 8.8 2.6 9 2.3 9.3 2.2 9.4 1.9 9.7 1.8 9.8 1.7 10 1.6 10.2 1.4 10.4 1.3 10.5 1.1 10.7 1 10.9 0.7 11 0.6 11.1 0.4 11.3 0.2 11.5 0.2 11.6 0.1 11.7 0.1 11.8 0 12 0" stroke="#A2142F"/>
<path d="M64.6 49.9l2.6 2.1 4.1 3.4 4.9 4.3 5.5 4.9 5.9 5.4 6.5 5.4 6.8 5.3 7.2 5.1 7.5 4.7 7.7 4.3 8.1 3.8 8.3 3.3 8.6 3 8.8 2.7 9 2.4 9.3 2.2 9.4 2 9.7 1.8 9.8 1.7 10 1.6 10.2 1.5 10.4 1.3 10.5 1.1 10.7 1 10.9 0.7 11 0.6 11.1 0.4 11.3 0.3 11.5 0.2 11.6 0.1 11.7 0.1 11.8 0 12 0" stroke="#0072BD"/>
<path d="M64.6 48.6l2.6 2.1 4.1 3.4 4.9 4.4 5.5 5 5.9 5.4 6.5 5.5 6.8 5.4 7.2 5.2 7.5 4.8 7.7 4.3 8.1 3.9 8.3 3.4 8.6 3.1 8.8 2.7 9 2.5 9.3 2.2 9.4 2 9.7 1.9 9.8 1.7 10 1.7 10.2 1.5 10.4 1.3 10.5 1.2 10.7 0.9 10.9 0.8 11 0.6 11.1 0.4 11.3 0.3 11.5 0.2 11.6 0.1 11.7 0.1 11.8 0 12 0" stroke="#D95319"/>
<path d="M64.6 47.2l2.6 2.1 4.1 3.5 4.9 4.4 5.5 5.1 5.9 5.5 6.5 5.6 6.8 5.6 7.2 5.2 7.5 4.9 7.7 4.4 8.1 3.9 8.3 3.5 8.6 3.2 8.8 2.7 9 2.5 9.3 2.3 9.4 2 9.7 2 9.8 1.8 10 1.6 10.2 1.5 10.4 1.4 10.5 1.2 10.7 1 10.9 0.7 11 0.6 11.1 0.5 11.3 0.3 11.5 0.2 11.6 0.1 11.7 0.1 11.8 0 12 0 98 0.2" stroke="#EDB120" stroke-width="2.5"/></g>
<line class="dsh" x1="356" y1="332.5" x2="356" y2="127.8"/>
<g class="tl"><text x="58.5" y="29.9" text-anchor="end">18</text><text x="58.5" y="132.8" text-anchor="end">9</text><text x="58.5" y="235.6" text-anchor="end">0</text><text x="58.5" y="338.5" text-anchor="end">−9</text><text x="64.6" y="353" text-anchor="middle">0</text><text x="162.7" y="353" text-anchor="middle">0.3</text><text x="260.8" y="353" text-anchor="middle">0.6</text><text x="358.9" y="353" text-anchor="middle">0.9</text><text x="457" y="353" text-anchor="middle">1.2</text></g>
<text class="xl" x="260.8" y="383.5" text-anchor="middle">Time (s)</text>
<text class="xl yl" transform="translate(18.0 178.2) rotate(-90)" text-anchor="middle">Angle of attack (deg)</text>
<text class="pl" x="-0.6" y="20.2">(a)</text>
<text class="cap" x="84.8" y="420.6" textLength="86.4" lengthAdjust="spacingAndGlyphs">Response</text>
<text class="cap" x="175.3" y="420.6" textLength="21.3" lengthAdjust="spacingAndGlyphs">of</text>
<text class="cap" x="199.6" y="420.6" textLength="44.5" lengthAdjust="spacingAndGlyphs">pitch</text>
<text class="cap" x="249" y="420.6" textLength="69.7" lengthAdjust="spacingAndGlyphs">channel</text>
<text class="cap" x="325.3" y="420.6" textLength="46.7" lengthAdjust="spacingAndGlyphs">when</text>
<text class="cap beta" transform="translate(379.9 420.6) skewX(-14)" x="0" y="0">β</text>
<text class="cap" x="393.2" y="420.6" textLength="13.1" lengthAdjust="spacingAndGlyphs">=</text>
<text class="cap" x="409.7" y="420.6" font-style="italic">5</text>
<g class="grid"><line x1="163.4" y1="765.7" x2="163.4" y2="458"/><line x1="261.2" y1="765.7" x2="261.2" y2="458"/><line x1="359.1" y1="765.7" x2="359.1" y2="458"/><line x1="457" y1="534.9" x2="65.5" y2="534.9"/><line x1="457" y1="611.9" x2="65.5" y2="611.9"/><line x1="457" y1="688.8" x2="65.5" y2="688.8"/></g>
<path class="bump" d="M65.5 765.7H457"/>
<path class="bump bt" d="M65.5 457.5H457"/>
<path class="bumpv" d="M457 458V765.7"/>
<rect class="ax" x="65.5" y="458" width="391.5" height="307.7"/>
<path class="tk" d="M163.4 765.7v-4.5M163.4 458v4.5M261.2 765.7v-4.5M261.2 458v4.5M359.1 765.7v-4.5M359.1 458v4.5M65.5 534.9h4.5M457 534.9h-4.5M65.5 611.9h4.5M457 611.9h-4.5M65.5 688.8h4.5M457 688.8h-4.5"/>
<g class="crv"><path d="M65.5 737.1l2.2 -2.7 3.4 -4.6 4 -5.7 4.6 -6.6 5 -6.9 5.4 -7 5.7 -6.8 5.9 -6.4 6.3 -6 6.5 -5.4 6.7 -5 7 -4.6 7.1 -4.4 7.3 -4.2 7.6 -4.1 7.7 -4.1 7.9 -4.1 8 -4 8.2 -4 8.4 -3.8 8.5 -3.6 8.6 -3.3 8.8 -2.9 8.9 -2.6 9.1 -2.2 9.1 -2 9.3 -1.7 9.5 -1.5 9.5 -1.4 9.7 -1.2 9.7 -1 9.9 -0.7 10 -0.5" stroke="#0072BD" stroke-width="1.8"/>
<path d="M65.5 735.8l2.2 -2.7 3.4 -4.5 4 -5.7 4.6 -6.5 5 -6.8 5.4 -7 5.7 -6.7 5.9 -6.3 6.3 -5.9 6.5 -5.4 6.7 -4.9 7 -4.6 7.1 -4.3 7.3 -4.2 7.6 -4.1 7.7 -4 7.9 -4 8 -4.1 8.2 -3.9 8.4 -3.8 8.5 -3.5 8.6 -3.2 8.8 -3 8.9 -2.5 9.1 -2.2 9.1 -2 9.3 -1.6 9.5 -1.5 9.5 -1.4 9.7 -1.2 9.7 -1 9.9 -0.7 10 -0.5" stroke="#D95319"/>
<path d="M65.5 734.5l2.2 -2.6 3.4 -4.5 4 -5.6 4.6 -6.4 5 -6.8 5.4 -6.9 5.7 -6.6 5.9 -6.3 6.3 -5.8 6.5 -5.4 6.7 -4.9 7 -4.5 7.1 -4.3 7.3 -4.1 7.6 -4 7.7 -4 7.9 -4 8 -4 8.2 -3.9 8.4 -3.7 8.5 -3.5 8.6 -3.2 8.8 -2.9 8.9 -2.5 9.1 -2.2 9.1 -1.9 9.3 -1.7 9.5 -1.5 9.5 -1.3 9.7 -1.2 9.7 -1 9.9 -0.7 10 -0.5" stroke="#EDB120"/>
<path d="M65.5 733.3l2.2 -2.7 3.4 -4.4 4 -5.6 4.6 -6.3 5 -6.7 5.4 -6.8 5.7 -6.6 5.9 -6.2 6.3 -5.8 6.5 -5.3 6.7 -4.8 7 -4.5 7.1 -4.2 7.3 -4.1 7.6 -4 7.7 -3.9 7.9 -4 8 -3.9 8.2 -3.9 8.4 -3.7 8.5 -3.4 8.6 -3.2 8.8 -2.9 8.9 -2.5 9.1 -2.1 9.1 -1.9 9.3 -1.7 9.5 -1.4 9.5 -1.4 9.7 -1.1 9.7 -1 9.9 -0.8 10 -0.4" stroke="#7E2F8E"/>
<path d="M65.5 732l2.2 -2.6 3.4 -4.4 4 -5.5 4.6 -6.3 5 -6.6 5.4 -6.8 5.7 -6.5 5.9 -6.1 6.3 -5.7 6.5 -5.2 6.7 -4.8 7 -4.5 7.1 -4.2 7.3 -4 7.6 -3.9 7.7 -4 7.9 -3.9 8 -3.9 8.2 -3.8 8.4 -3.6 8.5 -3.5 8.6 -3.1 8.8 -2.8 8.9 -2.5 9.1 -2.1 9.1 -1.9 9.3 -1.6 9.5 -1.5 9.5 -1.3 9.7 -1.2 9.7 -0.9 9.9 -0.8 10 -0.4" stroke="#77AC30"/>
<path d="M65.5 730.7l2.2 -2.6 3.4 -4.3 4 -5.5 4.6 -6.2 5 -6.5 5.4 -6.7 5.7 -6.4 5.9 -6.1 6.3 -5.7 6.5 -5.1 6.7 -4.8 7 -4.4 7.1 -4.1 7.3 -4 7.6 -3.9 7.7 -3.9 7.9 -3.8 8 -3.9 8.2 -3.8 8.4 -3.6 8.5 -3.4 8.6 -3.1 8.8 -2.8 8.9 -2.4 9.1 -2.2 9.1 -1.8 9.3 -1.6 9.5 -1.4 9.5 -1.3 9.7 -1.2 9.7 -1 9.9 -0.7 10 -0.4" stroke="#4DBEEE"/>
<path d="M65.5 729.4l2.2 -2.5 3.4 -4.3 4 -5.4 4.6 -6.1 5 -6.6 5.4 -6.5 5.7 -6.4 5.9 -6 6.3 -5.6 6.5 -5.1 6.7 -4.7 7 -4.4 7.1 -4.1 7.3 -3.9 7.6 -3.9 7.7 -3.8 7.9 -3.8 8 -3.8 8.2 -3.7 8.4 -3.6 8.5 -3.4 8.6 -3.1 8.8 -2.7 8.9 -2.4 9.1 -2.2 9.1 -1.8 9.3 -1.6 9.5 -1.4 9.5 -1.3 9.7 -1.1 9.7 -1 9.9 -0.7 10 -0.4" stroke="#A2142F"/>
<path d="M65.5 728.2l2.2 -2.6 3.4 -4.2 4 -5.4 4.6 -6 5 -6.5 5.4 -6.5 5.7 -6.3 5.9 -5.9 6.3 -5.5 6.5 -5.1 6.7 -4.6 7 -4.3 7.1 -4.1 7.3 -3.9 7.6 -3.8 7.7 -3.8 7.9 -3.8 8 -3.8 8.2 -3.6 8.4 -3.6 8.5 -3.3 8.6 -3 8.8 -2.8 8.9 -2.4 9.1 -2.1 9.1 -1.8 9.3 -1.5 9.5 -1.5 9.5 -1.2 9.7 -1.1 9.7 -1 9.9 -0.7 10 -0.4" stroke="#0072BD"/>
<path d="M65.5 726.9l2.2 -2.5 3.4 -4.2 4 -5.3 4.6 -6 5 -6.4 5.4 -6.4 5.7 -6.2 5.9 -5.9 6.3 -5.5 6.5 -5 6.7 -4.6 7 -4.2 7.1 -4 7.3 -3.9 7.6 -3.8 7.7 -3.7 7.9 -3.8 8 -3.7 8.2 -3.6 8.4 -3.5 8.5 -3.3 8.6 -3 8.8 -2.7 8.9 -2.4 9.1 -2.1 9.1 -1.8 9.3 -1.5 9.5 -1.4 9.5 -1.3 9.7 -1.1 9.7 -0.9 9.9 -0.7 10 -0.4" stroke="#D95319"/>
<path d="M65.5 725.6l2.2 -2.5 3.4 -4.1 4 -5.2 4.6 -6 5 -6.3 5.4 -6.3 5.7 -6.2 5.9 -5.8 6.3 -5.4 6.5 -5 6.7 -4.5 7 -4.2 7.1 -4 7.3 -3.8 7.6 -3.7 7.7 -3.7 7.9 -3.7 8 -3.7 8.2 -3.6 8.4 -3.5 8.5 -3.2 8.6 -3 8.8 -2.7 8.9 -2.3 9.1 -2.1 9.1 -1.7 9.3 -1.6 9.5 -1.4 9.5 -1.2 9.7 -1.1 9.7 -0.9 9.9 -0.7 10 -0.4" stroke="#EDB120"/>
<path d="M65.5 724.3l2.2 -2.4 3.4 -4.1 4 -5.2 4.6 -5.8 5 -6.3 5.4 -6.3 5.7 -6.1 5.9 -5.7 6.3 -5.4 6.5 -4.9 6.7 -4.4 7 -4.2 7.1 -3.9 7.3 -3.8 7.6 -3.7 7.7 -3.7 7.9 -3.6 8 -3.6 8.2 -3.6 8.4 -3.4 8.5 -3.3 8.6 -2.9 8.8 -2.6 8.9 -2.4 9.1 -2 9.1 -1.7 9.3 -1.5 9.5 -1.4 9.5 -1.2 9.7 -1.1 9.7 -0.9 9.9 -0.7 10 -0.4" stroke="#7E2F8E"/>
<path d="M65.5 723.1l2.2 -2.5 3.4 -4 4 -5.1 4.6 -5.8 5 -6.2 5.4 -6.2 5.7 -6 5.9 -5.7 6.3 -5.3 6.5 -4.8 6.7 -4.5 7 -4.1 7.1 -3.9 7.3 -3.7 7.6 -3.6 7.7 -3.7 7.9 -3.6 8 -3.6 8.2 -3.5 8.4 -3.4 8.5 -3.2 8.6 -2.9 8.8 -2.6 8.9 -2.3 9.1 -2 9.1 -1.7 9.3 -1.5 9.5 -1.4 9.5 -1.2 9.7 -1 9.7 -0.9 9.9 -0.7 10 -0.4" stroke="#77AC30"/>
<path d="M65.5 721.8l2.2 -2.4 3.4 -4 4 -5.1 4.6 -5.7 5 -6.1 5.4 -6.1 5.7 -6 5.9 -5.6 6.3 -5.2 6.5 -4.8 6.7 -4.4 7 -4.1 7.1 -3.8 7.3 -3.7 7.6 -3.6 7.7 -3.6 7.9 -3.6 8 -3.5 8.2 -3.5 8.4 -3.3 8.5 -3.2 8.6 -2.9 8.8 -2.5 8.9 -2.3 9.1 -2 9.1 -1.7 9.3 -1.5 9.5 -1.3 9.5 -1.2 9.7 -1.1 9.7 -0.9 9.9 -0.6 10 -0.4" stroke="#4DBEEE"/>
<path d="M65.5 720.5l2.2 -2.4 3.4 -3.9 4 -5 4.6 -5.7 5 -6 5.4 -6.1 5.7 -5.9 5.9 -5.5 6.3 -5.2 6.5 -4.7 6.7 -4.3 7 -4.1 7.1 -3.7 7.3 -3.7 7.6 -3.6 7.7 -3.5 7.9 -3.5 8 -3.5 8.2 -3.5 8.4 -3.3 8.5 -3.1 8.6 -2.8 8.8 -2.6 8.9 -2.2 9.1 -2 9.1 -1.7 9.3 -1.5 9.5 -1.3 9.5 -1.1 9.7 -1.1 9.7 -0.9 9.9 -0.6 10 -0.4" stroke="#A2142F"/>
<path d="M65.5 719.2l2.2 -2.3 3.4 -3.9 4 -5 4.6 -5.6 5 -5.9 5.4 -6 5.7 -5.8 5.9 -5.5 6.3 -5.1 6.5 -4.7 6.7 -4.3 7 -3.9 7.1 -3.8 7.3 -3.6 7.6 -3.5 7.7 -3.5 7.9 -3.5 8 -3.5 8.2 -3.4 8.4 -3.2 8.5 -3.1 8.6 -2.8 8.8 -2.6 8.9 -2.2 9.1 -1.9 9.1 -1.7 9.3 -1.4 9.5 -1.3 9.5 -1.2 9.7 -1 9.7 -0.9 9.9 -0.6 10 -0.4" stroke="#0072BD"/>
<path d="M65.5 717.9l2.2 -2.3 3.4 -3.8 4 -4.9 4.6 -5.5 5 -5.9 5.4 -5.9 5.7 -5.8 5.9 -5.4 6.3 -5.1 6.5 -4.6 6.7 -4.2 7 -3.9 7.1 -3.7 7.3 -3.6 7.6 -3.5 7.7 -3.4 7.9 -3.5 8 -3.4 8.2 -3.4 8.4 -3.2 8.5 -3 8.6 -2.8 8.8 -2.5 8.9 -2.2 9.1 -1.9 9.1 -1.6 9.3 -1.5 9.5 -1.3 9.5 -1.1 9.7 -1 9.7 -0.9 9.9 -0.6 10 -0.4" stroke="#D95319"/>
<path d="M65.5 716.7l2.2 -2.3 3.4 -3.8 4 -4.8 4.6 -5.5 5 -5.8 5.4 -5.9 5.7 -5.7 5.9 -5.3 6.3 -5 6.5 -4.6 6.7 -4.1 7 -3.9 7.1 -3.7 7.3 -3.5 7.6 -3.4 7.7 -3.4 7.9 -3.5 8 -3.3 8.2 -3.4 8.4 -3.2 8.5 -3 8.6 -2.7 8.8 -2.5 8.9 -2.1 9.1 -1.9 9.1 -1.6 9.3 -1.5 9.5 -1.2 9.5 -1.2 9.7 -1 9.7 -0.8 9.9 -0.7 10 -0.3" stroke="#EDB120"/>
<path d="M65.5 715.4l2.2 -2.3 3.4 -3.7 4 -4.8 4.6 -5.4 5 -5.7 5.4 -5.8 5.7 -5.6 5.9 -5.3 6.3 -4.9 6.5 -4.5 6.7 -4.2 7 -3.8 7.1 -3.6 7.3 -3.5 7.6 -3.4 7.7 -3.4 7.9 -3.3 8 -3.4 8.2 -3.3 8.4 -3.1 8.5 -3 8.6 -2.7 8.8 -2.4 8.9 -2.1 9.1 -1.9 9.1 -1.6 9.3 -1.4 9.5 -1.3 9.5 -1.1 9.7 -1 9.7 -0.8 9.9 -0.7 10 -0.3" stroke="#7E2F8E"/>
<path d="M65.5 714.1l2.2 -2.2 3.4 -3.7 4 -4.7 4.6 -5.4 5 -5.6 5.4 -5.8 5.7 -5.5 5.9 -5.2 6.3 -4.9 6.5 -4.4 6.7 -4.1 7 -3.8 7.1 -3.6 7.3 -3.4 7.6 -3.3 7.7 -3.4 7.9 -3.3 8 -3.3 8.2 -3.2 8.4 -3.2 8.5 -2.9 8.6 -2.7 8.8 -2.4 8.9 -2.1 9.1 -1.8 9.1 -1.6 9.3 -1.4 9.5 -1.2 9.5 -1.1 9.7 -1 9.7 -0.8 9.9 -0.7 10 -0.3" stroke="#77AC30"/>
<path d="M65.5 712.8l2.2 -2.2 3.4 -3.6 4 -4.7 4.6 -5.2 5 -5.6 5.4 -5.7 5.7 -5.5 5.9 -5.1 6.3 -4.8 6.5 -4.4 6.7 -4 7 -3.8 7.1 -3.5 7.3 -3.4 7.6 -3.3 7.7 -3.3 7.9 -3.3 8 -3.2 8.2 -3.2 8.4 -3.1 8.5 -2.9 8.6 -2.6 8.8 -2.4 8.9 -2.1 9.1 -1.8 9.1 -1.6 9.3 -1.4 9.5 -1.2 9.5 -1.1 9.7 -0.9 9.7 -0.9 9.9 -0.6 10 -0.3" stroke="#4DBEEE"/>
<path d="M65.5 711.6l2.2 -2.2 3.4 -3.6 4 -4.6 4.6 -5.2 5 -5.5 5.4 -5.6 5.7 -5.4 5.9 -5.1 6.3 -4.8 6.5 -4.3 6.7 -4 7 -3.7 7.1 -3.4 7.3 -3.4 7.6 -3.3 7.7 -3.2 7.9 -3.3 8 -3.2 8.2 -3.1 8.4 -3.1 8.5 -2.8 8.6 -2.6 8.8 -2.4 8.9 -2 9.1 -1.8 9.1 -1.6 9.3 -1.3 9.5 -1.2 9.5 -1.1 9.7 -1 9.7 -0.8 9.9 -0.6 10 -0.3" stroke="#A2142F"/>
<path d="M65.5 710.3l2.2 -2.2 3.4 -3.6 4 -4.5 4.6 -5.1 5 -5.5 5.4 -5.5 5.7 -5.3 5.9 -5 6.3 -4.7 6.5 -4.3 6.7 -3.9 7 -3.6 7.1 -3.5 7.3 -3.3 7.6 -3.2 7.7 -3.2 7.9 -3.2 8 -3.2 8.2 -3.1 8.4 -3 8.5 -2.8 8.6 -2.6 8.8 -2.3 8.9 -2.1 9.1 -1.7 9.1 -1.5 9.3 -1.4 9.5 -1.2 9.5 -1 9.7 -1 9.7 -0.8 9.9 -0.6 10 -0.3" stroke="#0072BD"/>
<path d="M65.5 709l2.2 -2.1 3.4 -3.6 4 -4.4 4.6 -5.1 5 -5.4 5.4 -5.4 5.7 -5.3 5.9 -4.9 6.3 -4.6 6.5 -4.3 6.7 -3.8 7 -3.6 7.1 -3.4 7.3 -3.3 7.6 -3.2 7.7 -3.1 7.9 -3.2 8 -3.1 8.2 -3.1 8.4 -3 8.5 -2.8 8.6 -2.5 8.8 -2.3 8.9 -2 9.1 -1.7 9.1 -1.5 9.3 -1.4 9.5 -1.1 9.5 -1.1 9.7 -0.9 9.7 -0.8 9.9 -0.6 10 -0.3" stroke="#D95319"/>
<path d="M65.5 707.7l2.2 -2.1 3.4 -3.5 4 -4.4 4.6 -5 5 -5.3 5.4 -5.3 5.7 -5.2 5.9 -4.9 6.3 -4.6 6.5 -4.1 6.7 -3.9 7 -3.5 7.1 -3.4 7.3 -3.2 7.6 -3.1 7.7 -3.2 7.9 -3.1 8 -3.1 8.2 -3 8.4 -2.9 8.5 -2.8 8.6 -2.5 8.8 -2.2 8.9 -2 9.1 -1.7 9.1 -1.5 9.3 -1.3 9.5 -1.2 9.5 -1 9.7 -0.9 9.7 -0.8 9.9 -0.6 10 -0.4" stroke="#EDB120"/>
<path d="M65.5 706.5l2.2 -2.1 3.4 -3.5 4 -4.3 4.6 -4.9 5 -5.3 5.4 -5.3 5.7 -5.1 5.9 -4.8 6.3 -4.5 6.5 -4.1 6.7 -3.8 7 -3.5 7.1 -3.3 7.3 -3.2 7.6 -3.1 7.7 -3.1 7.9 -3 8 -3.1 8.2 -3 8.4 -2.9 8.5 -2.7 8.6 -2.5 8.8 -2.2 8.9 -1.9 9.1 -1.7 9.1 -1.5 9.3 -1.3 9.5 -1.1 9.5 -1.1 9.7 -0.9 9.7 -0.7 9.9 -0.6 10 -0.4" stroke="#7E2F8E"/>
<path d="M65.5 705.2l2.2 -2.1 3.4 -3.4 4 -4.2 4.6 -4.9 5 -5.2 5.4 -5.2 5.7 -5.1 5.9 -4.7 6.3 -4.5 6.5 -4 6.7 -3.7 7 -3.5 7.1 -3.2 7.3 -3.2 7.6 -3 7.7 -3.1 7.9 -3 8 -3 8.2 -3 8.4 -2.8 8.5 -2.7 8.6 -2.4 8.8 -2.2 8.9 -2 9.1 -1.6 9.1 -1.5 9.3 -1.3 9.5 -1.1 9.5 -1 9.7 -0.9 9.7 -0.8 9.9 -0.5 10 -0.4" stroke="#77AC30"/>
<path d="M65.5 703.9l2.2 -2 3.4 -3.4 4 -4.2 4.6 -4.8 5 -5.1 5.4 -5.1 5.7 -5 5.9 -4.7 6.3 -4.4 6.5 -4 6.7 -3.7 7 -3.4 7.1 -3.2 7.3 -3.1 7.6 -3 7.7 -3 7.9 -3 8 -3 8.2 -2.9 8.4 -2.8 8.5 -2.6 8.6 -2.4 8.8 -2.2 8.9 -1.9 9.1 -1.6 9.1 -1.5 9.3 -1.2 9.5 -1.1 9.5 -1 9.7 -0.9 9.7 -0.8 9.9 -0.5 10 -0.4" stroke="#4DBEEE"/>
<path d="M65.5 702.6l2.2 -2 3.4 -3.3 4 -4.1 4.6 -4.8 5 -5 5.4 -5.1 5.7 -4.9 5.9 -4.6 6.3 -4.3 6.5 -4 6.7 -3.6 7 -3.4 7.1 -3.1 7.3 -3.1 7.6 -3 7.7 -2.9 7.9 -3 8 -2.9 8.2 -2.9 8.4 -2.7 8.5 -2.6 8.6 -2.4 8.8 -2.1 8.9 -1.9 9.1 -1.6 9.1 -1.5 9.3 -1.2 9.5 -1.1 9.5 -1 9.7 -0.8 9.7 -0.8 9.9 -0.5 10 -0.4" stroke="#A2142F"/>
<path d="M65.5 701.4l2.2 -2 3.4 -3.3 4 -4.1 4.6 -4.6 5 -5 5.4 -5 5.7 -4.9 5.9 -4.5 6.3 -4.3 6.5 -3.9 6.7 -3.5 7 -3.4 7.1 -3.1 7.3 -3 7.6 -2.9 7.7 -2.9 7.9 -2.9 8 -2.9 8.2 -2.9 8.4 -2.7 8.5 -2.6 8.6 -2.3 8.8 -2.1 8.9 -1.8 9.1 -1.6 9.1 -1.4 9.3 -1.3 9.5 -1 9.5 -1 9.7 -0.9 9.7 -0.7 9.9 -0.5 10 -0.4" stroke="#0072BD"/>
<path d="M65.5 700.1l2.2 -2 3.4 -3.2 4 -4 4.6 -4.6 5 -4.9 5.4 -4.9 5.7 -4.8 5.9 -4.5 6.3 -4.2 6.5 -3.9 6.7 -3.5 7 -3.2 7.1 -3.1 7.3 -3 7.6 -2.9 7.7 -2.8 7.9 -2.9 8 -2.9 8.2 -2.8 8.4 -2.6 8.5 -2.6 8.6 -2.3 8.8 -2.1 8.9 -1.8 9.1 -1.6 9.1 -1.3 9.3 -1.2 9.5 -1.1 9.5 -0.9 9.7 -0.9 9.7 -0.7 9.9 -0.5 10 -0.4" stroke="#D95319"/>
<path d="M65.5 698.8l2.2 -1.9 3.4 -3.2 4 -4 4.6 -4.5 5 -4.8 5.4 -4.9 5.7 -4.7 5.9 -4.4 6.3 -4.2 6.5 -3.7 6.7 -3.5 7 -3.2 7.1 -3.1 7.3 -2.9 7.6 -2.8 7.7 -2.9 7.9 -2.8 8 -2.8 8.2 -2.8 8.4 -2.6 8.5 -2.5 8.6 -2.3 8.8 -2 8.9 -1.8 9.1 -1.6 9.1 -1.3 9.3 -1.2 9.5 -1 9.5 -1 9.7 -0.8 9.7 -0.7 9.9 -0.6 10 -0.3" stroke="#EDB120"/>
<path d="M65.5 697.5l2.2 -1.9 3.4 -3.1 4 -3.9 4.6 -4.5 5 -4.7 5.4 -4.8 5.7 -4.7 5.9 -4.3 6.3 -4.1 6.5 -3.7 6.7 -3.4 7 -3.2 7.1 -3 7.3 -2.9 7.6 -2.8 7.7 -2.8 7.9 -2.8 8 -2.7 8.2 -2.7 8.4 -2.7 8.5 -2.4 8.6 -2.2 8.8 -2.1 8.9 -1.7 9.1 -1.6 9.1 -1.3 9.3 -1.2 9.5 -1 9.5 -0.9 9.7 -0.8 9.7 -0.7 9.9 -0.6 10 -0.3" stroke="#7E2F8E"/>
<path d="M65.5 696.2l2.2 -1.8 3.4 -3.1 4 -3.8 4.6 -4.4 5 -4.7 5.4 -4.7 5.7 -4.6 5.9 -4.3 6.3 -4 6.5 -3.7 6.7 -3.4 7 -3.1 7.1 -2.9 7.3 -2.9 7.6 -2.7 7.7 -2.8 7.9 -2.7 8 -2.8 8.2 -2.6 8.4 -2.6 8.5 -2.4 8.6 -2.2 8.8 -2 8.9 -1.8 9.1 -1.5 9.1 -1.3 9.3 -1.1 9.5 -1 9.5 -1 9.7 -0.8 9.7 -0.7 9.9 -0.5 10 -0.3" stroke="#77AC30"/>
<path d="M65.5 695l2.2 -1.9 3.4 -3 4 -3.8 4.6 -4.3 5 -4.6 5.4 -4.7 5.7 -4.5 5.9 -4.2 6.3 -4 6.5 -3.6 6.7 -3.3 7 -3.1 7.1 -2.9 7.3 -2.8 7.6 -2.7 7.7 -2.7 7.9 -2.7 8 -2.7 8.2 -2.6 8.4 -2.6 8.5 -2.3 8.6 -2.2 8.8 -2 8.9 -1.7 9.1 -1.5 9.1 -1.3 9.3 -1.1 9.5 -1 9.5 -0.9 9.7 -0.8 9.7 -0.7 9.9 -0.5 10 -0.3" stroke="#4DBEEE"/>
<path d="M65.5 693.7l2.2 -1.8 3.4 -3 4 -3.7 4.6 -4.3 5 -4.5 5.4 -4.6 5.7 -4.5 5.9 -4.1 6.3 -3.9 6.5 -3.6 6.7 -3.2 7 -3.1 7.1 -2.8 7.3 -2.8 7.6 -2.7 7.7 -2.6 7.9 -2.7 8 -2.6 8.2 -2.6 8.4 -2.5 8.5 -2.4 8.6 -2.1 8.8 -1.9 8.9 -1.7 9.1 -1.5 9.1 -1.2 9.3 -1.2 9.5 -0.9 9.5 -0.9 9.7 -0.8 9.7 -0.7 9.9 -0.5 10 -0.3" stroke="#A2142F"/>
<path d="M65.5 692.4l2.2 -1.8 3.4 -2.9 4 -3.7 4.6 -4.2 5 -4.4 5.4 -4.5 5.7 -4.4 5.9 -4.1 6.3 -3.9 6.5 -3.5 6.7 -3.2 7 -3 7.1 -2.8 7.3 -2.7 7.6 -2.6 7.7 -2.6 7.9 -2.7 8 -2.6 8.2 -2.5 8.4 -2.5 8.5 -2.3 8.6 -2.1 8.8 -1.9 8.9 -1.6 9.1 -1.5 9.1 -1.2 9.3 -1.1 9.5 -1 9.5 -0.9 9.7 -0.7 9.7 -0.7 9.9 -0.5 10 -0.3" stroke="#0072BD"/>
<path d="M65.5 691.1l2.2 -1.7 3.4 -2.9 4 -3.6 4.6 -4.2 5 -4.3 5.4 -4.5 5.7 -4.3 5.9 -4 6.3 -3.8 6.5 -3.4 6.7 -3.2 7 -2.9 7.1 -2.8 7.3 -2.7 7.6 -2.6 7.7 -2.6 7.9 -2.5 8 -2.6 8.2 -2.5 8.4 -2.4 8.5 -2.3 8.6 -2.1 8.8 -1.8 8.9 -1.7 9.1 -1.4 9.1 -1.2 9.3 -1.1 9.5 -0.9 9.5 -0.9 9.7 -0.8 9.7 -0.6 9.9 -0.5 10 -0.3" stroke="#D95319"/>
<path d="M65.5 689.9l2.2 -1.7 3.4 -2.9 4 -3.6 4.6 -4 5 -4.4 5.4 -4.3 5.7 -4.3 5.9 -3.9 6.3 -3.7 6.5 -3.4 6.7 -3.1 7 -2.9 7.1 -2.7 7.3 -2.7 7.6 -2.5 7.7 -2.6 7.9 -2.5 8 -2.5 8.2 -2.5 8.4 -2.4 8.5 -2.2 8.6 -2 8.8 -1.9 8.9 -1.6 9.1 -1.4 9.1 -1.2 9.3 -1.1 9.5 -0.9 9.5 -0.8 9.7 -0.8 9.7 -0.6 9.9 -0.5 10 -0.3" stroke="#EDB120"/>
<path d="M65.5 688.6l2.2 -1.7 3.4 -2.8 4 -3.5 4.6 -4 5 -4.3 5.4 -4.3 5.7 -4.1 5.9 -3.9 6.3 -3.7 6.5 -3.3 6.7 -3.1 7 -2.8 7.1 -2.7 7.3 -2.6 7.6 -2.5 7.7 -2.5 7.9 -2.5 8 -2.5 8.2 -2.4 8.4 -2.3 8.5 -2.2 8.6 -2 8.8 -1.8 8.9 -1.6 9.1 -1.4 9.1 -1.2 9.3 -1 9.5 -1 9.5 -0.8 9.7 -0.7 9.7 -0.6 9.9 -0.5 10 -0.3" stroke="#7E2F8E"/>
<path d="M65.5 687.3l2.2 -1.6 3.4 -2.8 4 -3.5 4.6 -3.9 5 -4.2 5.4 -4.2 5.7 -4.1 5.9 -3.8 6.3 -3.6 6.5 -3.3 6.7 -3 7 -2.8 7.1 -2.6 7.3 -2.6 7.6 -2.4 7.7 -2.5 7.9 -2.5 8 -2.4 8.2 -2.4 8.4 -2.3 8.5 -2.1 8.6 -2 8.8 -1.8 8.9 -1.5 9.1 -1.4 9.1 -1.2 9.3 -1 9.5 -0.9 9.5 -0.8 9.7 -0.7 9.7 -0.7 9.9 -0.4 10 -0.3" stroke="#77AC30"/>
<path d="M65.5 686l2.2 -1.6 3.4 -2.7 4 -3.4 4.6 -3.9 5 -4.1 5.4 -4.1 5.7 -4 5.9 -3.8 6.3 -3.6 6.5 -3.2 6.7 -2.9 7 -2.8 7.1 -2.6 7.3 -2.5 7.6 -2.4 7.7 -2.4 7.9 -2.4 8 -2.4 8.2 -2.4 8.4 -2.2 8.5 -2.2 8.6 -1.9 8.8 -1.7 8.9 -1.6 9.1 -1.3 9.1 -1.2 9.3 -1 9.5 -0.9 9.5 -0.8 9.7 -0.7 9.7 -0.6 9.9 -0.4 10 -0.3" stroke="#4DBEEE"/>
<path d="M65.5 684.8l2.2 -1.6 3.4 -2.7 4 -3.3 4.6 -3.8 5 -4.1 5.4 -4.1 5.7 -3.9 5.9 -3.7 6.3 -3.5 6.5 -3.2 6.7 -2.9 7 -2.7 7.1 -2.5 7.3 -2.5 7.6 -2.4 7.7 -2.3 7.9 -2.4 8 -2.4 8.2 -2.3 8.4 -2.2 8.5 -2.1 8.6 -1.9 8.8 -1.7 8.9 -1.5 9.1 -1.3 9.1 -1.1 9.3 -1 9.5 -0.9 9.5 -0.8 9.7 -0.7 9.7 -0.6 9.9 -0.4 10 -0.3" stroke="#A2142F"/>
<path d="M65.5 683.5l2.2 -1.6 3.4 -2.6 4 -3.3 4.6 -3.7 5 -4 5.4 -4 5.7 -3.9 5.9 -3.6 6.3 -3.4 6.5 -3.2 6.7 -2.8 7 -2.7 7.1 -2.5 7.3 -2.4 7.6 -2.3 7.7 -2.3 7.9 -2.4 8 -2.3 8.2 -2.3 8.4 -2.1 8.5 -2.1 8.6 -1.9 8.8 -1.6 8.9 -1.5 9.1 -1.3 9.1 -1.1 9.3 -1 9.5 -0.9 9.5 -0.7 9.7 -0.7 9.7 -0.6 9.9 -0.4 10 -0.3" stroke="#0072BD"/>
<path d="M65.5 682.2l2.2 -1.5 3.4 -2.6 4 -3.2 4.6 -3.7 5 -3.9 5.4 -3.9 5.7 -3.8 5.9 -3.6 6.3 -3.4 6.5 -3 6.7 -2.8 7 -2.6 7.1 -2.5 7.3 -2.4 7.6 -2.3 7.7 -2.3 7.9 -2.2 8 -2.3 8.2 -2.3 8.4 -2.1 8.5 -2 8.6 -1.8 8.8 -1.7 8.9 -1.5 9.1 -1.2 9.1 -1.1 9.3 -1 9.5 -0.8 9.5 -0.8 9.7 -0.7 9.7 -0.5 9.9 -0.4 10 -0.3" stroke="#D95319"/>
<path d="M65.5 680.9l2.2 -1.5 3.4 -2.5 4 -3.2 4.6 -3.6 5 -3.8 5.4 -3.9 5.7 -3.7 5.9 -3.5 6.3 -3.3 6.5 -3 6.7 -2.8 7 -2.5 7.1 -2.4 7.3 -2.4 7.6 -2.2 7.7 -2.3 7.9 -2.2 8 -2.3 8.2 -2.1 8.4 -2.1 8.5 -2 8.6 -1.8 8.8 -1.7 8.9 -1.4 9.1 -1.2 9.1 -1.1 9.3 -0.9 9.5 -0.9 9.5 -0.7 9.7 -0.7 9.7 -0.5 9.9 -0.5 10 -0.2" stroke="#EDB120"/>
<path d="M65.5 679.6l2.2 -1.4 3.4 -2.5 4 -3.1 4.6 -3.6 5 -3.7 5.4 -3.8 5.7 -3.7 5.9 -3.4 6.3 -3.3 6.5 -2.9 6.7 -2.7 7 -2.5 7.1 -2.4 7.3 -2.3 7.6 -2.2 7.7 -2.2 7.9 -2.2 8 -2.2 8.2 -2.1 8.4 -2.1 8.5 -1.9 8.6 -1.8 8.8 -1.6 8.9 -1.4 9.1 -1.2 9.1 -1.1 9.3 -0.9 9.5 -0.8 9.5 -0.7 9.7 -0.7 9.7 -0.6 9.9 -0.4 10 -0.2" stroke="#7E2F8E"/>
<path d="M65.5 678.4l2.2 -1.5 3.4 -2.4 4 -3.1 4.6 -3.4 5 -3.7 5.4 -3.7 5.7 -3.6 5.9 -3.4 6.3 -3.2 6.5 -2.9 6.7 -2.6 7 -2.5 7.1 -2.3 7.3 -2.3 7.6 -2.1 7.7 -2.2 7.9 -2.2 8 -2.1 8.2 -2.1 8.4 -2.1 8.5 -1.9 8.6 -1.7 8.8 -1.6 8.9 -1.3 9.1 -1.2 9.1 -1.1 9.3 -0.9 9.5 -0.8 9.5 -0.7 9.7 -0.6 9.7 -0.6 9.9 -0.4 10 -0.2" stroke="#77AC30"/>
<path d="M65.5 677.1l2.2 -1.4 3.4 -2.4 4 -3 4.6 -3.4 5 -3.6 5.4 -3.7 5.7 -3.5 5.9 -3.3 6.3 -3.1 6.5 -2.9 6.7 -2.6 7 -2.4 7.1 -2.3 7.3 -2.2 7.6 -2.1 7.7 -2.1 7.9 -2.1 8 -2.2 8.2 -2 8.4 -2 8.5 -1.9 8.6 -1.7 8.8 -1.5 8.9 -1.4 9.1 -1.1 9.1 -1 9.3 -0.9 9.5 -0.8 9.5 -0.7 9.7 -0.7 9.7 -0.5 9.9 -0.4 10 -0.2" stroke="#4DBEEE"/>
<path d="M65.5 675.8l2.2 -1.4 3.4 -2.3 4 -2.9 4.6 -3.4 5 -3.5 5.4 -3.6 5.7 -3.5 5.9 -3.2 6.3 -3.1 6.5 -2.8 6.7 -2.5 7 -2.4 7.1 -2.2 7.3 -2.1 7.6 -2.2 7.7 -2 7.9 -2.1 8 -2.1 8.2 -2 8.4 -2 8.5 -1.8 8.6 -1.7 8.8 -1.5 8.9 -1.3 9.1 -1.1 9.1 -1 9.3 -0.9 9.5 -0.8 9.5 -0.7 9.7 -0.6 9.7 -0.5 9.9 -0.4 10 -0.2" stroke="#A2142F"/>
<path d="M65.5 674.5l2.2 -1.3 3.4 -2.3 4 -2.9 4.6 -3.3 5 -3.4 5.4 -3.5 5.7 -3.4 5.9 -3.2 6.3 -3 6.5 -2.7 6.7 -2.5 7 -2.4 7.1 -2.1 7.3 -2.1 7.6 -2.1 7.7 -2.1 7.9 -2 8 -2 8.2 -2 8.4 -1.9 8.5 -1.8 8.6 -1.6 8.8 -1.5 8.9 -1.3 9.1 -1.1 9.1 -1 9.3 -0.9 9.5 -0.7 9.5 -0.7 9.7 -0.6 9.7 -0.5 9.9 -0.4 10 -0.2" stroke="#0072BD"/>
<path d="M65.5 673.3l2.2 -1.4 3.4 -2.2 4 -2.8 4.6 -3.2 5 -3.4 5.4 -3.5 5.7 -3.3 5.9 -3.2 6.3 -2.9 6.5 -2.6 6.7 -2.5 7 -2.2 7.1 -2.2 7.3 -2 7.6 -2.1 7.7 -2 7.9 -2 8 -2 8.2 -1.9 8.4 -1.9 8.5 -1.7 8.6 -1.6 8.8 -1.5 8.9 -1.2 9.1 -1.1 9.1 -1 9.3 -0.8 9.5 -0.8 9.5 -0.6 9.7 -0.6 9.7 -0.5 9.9 -0.4 10 -0.2" stroke="#D95319"/>
<path d="M65.5 672l2.2 -1.3 3.4 -2.2 4 -2.8 4.6 -3.1 5 -3.3 5.4 -3.4 5.7 -3.3 5.9 -3.1 6.3 -2.8 6.5 -2.6 6.7 -2.4 7 -2.2 7.1 -2.1 7.3 -2 7.6 -2 7.7 -2 7.9 -1.9 8 -2 8.2 -1.9 8.4 -1.8 8.5 -1.7 8.6 -1.6 8.8 -1.4 8.9 -1.3 9.1 -1 9.1 -1 9.3 -0.8 9.5 -0.7 9.5 -0.7 9.7 -0.6 9.7 -0.4 9.9 -0.4 10 -0.2" stroke="#EDB120"/>
<path d="M65.5 670.7l2.2 -1.3 3.4 -2.1 4 -2.7 4.6 -3.1 5 -3.3 5.4 -3.2 5.7 -3.2 5.9 -3.1 6.3 -2.7 6.5 -2.6 6.7 -2.3 7 -2.2 7.1 -2.1 7.3 -1.9 7.6 -2 7.7 -1.9 7.9 -1.9 8 -1.9 8.2 -1.9 8.4 -1.8 8.5 -1.7 8.6 -1.5 8.8 -1.4 8.9 -1.2 9.1 -1 9.1 -1 9.3 -0.8 9.5 -0.7 9.5 -0.6 9.7 -0.6 9.7 -0.5 9.9 -0.3 10 -0.2" stroke="#7E2F8E"/>
<path d="M65.5 669.4l2.2 -1.2 3.4 -2.1 4 -2.7 4.6 -3 5 -3.2 5.4 -3.2 5.7 -3.1 5.9 -3 6.3 -2.7 6.5 -2.5 6.7 -2.3 7 -2.1 7.1 -2 7.3 -1.9 7.6 -1.9 7.7 -1.9 7.9 -1.9 8 -1.8 8.2 -1.9 8.4 -1.7 8.5 -1.7 8.6 -1.5 8.8 -1.3 8.9 -1.2 9.1 -1.1 9.1 -0.8 9.3 -0.8 9.5 -0.7 9.5 -0.6 9.7 -0.6 9.7 -0.5 9.9 -0.3 10 -0.2" stroke="#77AC30"/>
<path d="M65.5 668.2l2.2 -1.3 3.4 -2 4 -2.6 4.6 -2.9 5 -3.2 5.4 -3.1 5.7 -3.1 5.9 -2.9 6.3 -2.6 6.5 -2.5 6.7 -2.2 7 -2.1 7.1 -2 7.3 -1.8 7.6 -1.9 7.7 -1.8 7.9 -1.9 8 -1.8 8.2 -1.8 8.4 -1.7 8.5 -1.6 8.6 -1.5 8.8 -1.3 8.9 -1.1 9.1 -1.1 9.1 -0.8 9.3 -0.8 9.5 -0.7 9.5 -0.6 9.7 -0.5 9.7 -0.5 9.9 -0.3 10 -0.2" stroke="#4DBEEE"/>
<path d="M65.5 666.9l2.2 -1.2 3.4 -2 4 -2.6 4.6 -2.8 5 -3.1 5.4 -3 5.7 -3 5.9 -2.9 6.3 -2.6 6.5 -2.4 6.7 -2.1 7 -2.1 7.1 -1.9 7.3 -1.8 7.6 -1.9 7.7 -1.7 7.9 -1.8 8 -1.8 8.2 -1.8 8.4 -1.6 8.5 -1.6 8.6 -1.4 8.8 -1.3 8.9 -1.2 9.1 -1 9.1 -0.8 9.3 -0.8 9.5 -0.6 9.5 -0.6 9.7 -0.6 9.7 -0.4 9.9 -0.3 10 -0.2" stroke="#A2142F"/>
<path d="M65.5 665.6l2.2 -1.2 3.4 -1.9 4 -2.5 4.6 -2.8 5 -3 5.4 -3 5.7 -2.9 5.9 -2.8 6.3 -2.5 6.5 -2.3 6.7 -2.2 7 -2 7.1 -1.8 7.3 -1.8 7.6 -1.8 7.7 -1.8 7.9 -1.7 8 -1.7 8.2 -1.8 8.4 -1.6 8.5 -1.5 8.6 -1.4 8.8 -1.3 8.9 -1.1 9.1 -1 9.1 -0.8 9.3 -0.7 9.5 -0.7 9.5 -0.6 9.7 -0.5 9.7 -0.4 9.9 -0.3 10 -0.2" stroke="#0072BD"/>
<path d="M65.5 664.3l2.2 -1.1 3.4 -1.9 4 -2.4 4.6 -2.8 5 -2.9 5.4 -2.9 5.7 -2.9 5.9 -2.7 6.3 -2.4 6.5 -2.3 6.7 -2.1 7 -2 7.1 -1.8 7.3 -1.7 7.6 -1.8 7.7 -1.7 7.9 -1.7 8 -1.7 8.2 -1.6 8.4 -1.6 8.5 -1.5 8.6 -1.4 8.8 -1.2 8.9 -1.1 9.1 -1 9.1 -0.8 9.3 -0.7 9.5 -0.6 9.5 -0.6 9.7 -0.5 9.7 -0.4 9.9 -0.4 10 -0.1" stroke="#D95319"/>
<path d="M65.5 663l2.2 -1.1 3.4 -1.8 4 -2.4 4.6 -2.7 5 -2.8 5.4 -2.9 5.7 -2.7 5.9 -2.7 6.3 -2.4 6.5 -2.2 6.7 -2 7 -1.9 7.1 -1.8 7.3 -1.7 7.6 -1.7 7.7 -1.7 7.9 -1.7 8 -1.6 8.2 -1.6 8.4 -1.6 8.5 -1.5 8.6 -1.3 8.8 -1.2 8.9 -1.1 9.1 -0.9 9.1 -0.8 9.3 -0.7 9.5 -0.6 9.5 -0.5 9.7 -0.5 9.7 -0.4 9.9 -0.4 10 -0.1" stroke="#EDB120"/>
<path d="M65.5 661.8l2.2 -1.1 3.4 -1.8 4 -2.3 4.6 -2.6 5 -2.8 5.4 -2.8 5.7 -2.7 5.9 -2.6 6.3 -2.3 6.5 -2.2 6.7 -2 7 -1.8 7.1 -1.8 7.3 -1.6 7.6 -1.7 7.7 -1.6 7.9 -1.6 8 -1.6 8.2 -1.6 8.4 -1.5 8.5 -1.5 8.6 -1.3 8.8 -1.2 8.9 -1 9.1 -0.9 9.1 -0.8 9.3 -0.6 9.5 -0.6 9.5 -0.6 9.7 -0.5 9.7 -0.4 9.9 -0.3 10 -0.1" stroke="#7E2F8E"/>
<path d="M65.5 660.5l2.2 -1.1 3.4 -1.7 4 -2.3 4.6 -2.5 5 -2.7 5.4 -2.7 5.7 -2.7 5.9 -2.5 6.3 -2.3 6.5 -2.1 6.7 -1.9 7 -1.8 7.1 -1.7 7.3 -1.6 7.6 -1.6 7.7 -1.6 7.9 -1.6 8 -1.6 8.2 -1.5 8.4 -1.5 8.5 -1.4 8.6 -1.3 8.8 -1.1 8.9 -1 9.1 -0.9 9.1 -0.7 9.3 -0.7 9.5 -0.6 9.5 -0.5 9.7 -0.5 9.7 -0.4 9.9 -0.3 10 -0.1" stroke="#77AC30"/>
<path d="M65.5 659.2l2.2 -1 3.4 -1.7 4 -2.2 4.6 -2.5 5 -2.6 5.4 -2.7 5.7 -2.5 5.9 -2.5 6.3 -2.2 6.5 -2.1 6.7 -1.8 7 -1.8 7.1 -1.6 7.3 -1.6 7.6 -1.6 7.7 -1.5 7.9 -1.6 8 -1.5 8.2 -1.5 8.4 -1.5 8.5 -1.3 8.6 -1.2 8.8 -1.2 8.9 -0.9 9.1 -0.9 9.1 -0.7 9.3 -0.7 9.5 -0.5 9.5 -0.6 9.7 -0.4 9.7 -0.4 9.9 -0.3 10 -0.2" stroke="#4DBEEE"/>
<path d="M65.5 657.9l2.2 -1 3.4 -1.6 4 -2.2 4.6 -2.4 5 -2.5 5.4 -2.6 5.7 -2.5 5.9 -2.4 6.3 -2.1 6.5 -2 6.7 -1.9 7 -1.7 7.1 -1.6 7.3 -1.5 7.6 -1.5 7.7 -1.6 7.9 -1.5 8 -1.4 8.2 -1.5 8.4 -1.4 8.5 -1.3 8.6 -1.2 8.8 -1.1 8.9 -1 9.1 -0.8 9.1 -0.7 9.3 -0.6 9.5 -0.6 9.5 -0.5 9.7 -0.4 9.7 -0.4 9.9 -0.3 10 -0.2" stroke="#A2142F"/>
<path d="M65.5 656.7l2.2 -1 3.4 -1.6 4 -2.1 4.6 -2.3 5 -2.5 5.4 -2.5 5.7 -2.5 5.9 -2.3 6.3 -2.1 6.5 -1.9 6.7 -1.8 7 -1.7 7.1 -1.5 7.3 -1.5 7.6 -1.5 7.7 -1.5 7.9 -1.4 8 -1.5 8.2 -1.4 8.4 -1.4 8.5 -1.2 8.6 -1.2 8.8 -1.1 8.9 -0.9 9.1 -0.8 9.1 -0.7 9.3 -0.6 9.5 -0.5 9.5 -0.5 9.7 -0.5 9.7 -0.3 9.9 -0.3 10 -0.2" stroke="#0072BD"/>
<path d="M65.5 655.4l2.2 -1 3.4 -1.6 4 -1.9 4.6 -2.3 5 -2.4 5.4 -2.5 5.7 -2.3 5.9 -2.3 6.3 -2 6.5 -1.9 6.7 -1.7 7 -1.7 7.1 -1.5 7.3 -1.4 7.6 -1.5 7.7 -1.4 7.9 -1.4 8 -1.4 8.2 -1.4 8.4 -1.3 8.5 -1.3 8.6 -1.1 8.8 -1 8.9 -0.9 9.1 -0.8 9.1 -0.7 9.3 -0.6 9.5 -0.5 9.5 -0.5 9.7 -0.4 9.7 -0.3 9.9 -0.3 10 -0.2" stroke="#D95319"/>
<path d="M65.5 654.1l2.2 -0.9 3.4 -1.6 4 -1.9 4.6 -2.2 5 -2.3 5.4 -2.4 5.7 -2.3 5.9 -2.2 6.3 -2 6.5 -1.8 6.7 -1.7 7 -1.5 7.1 -1.5 7.3 -1.4 7.6 -1.4 7.7 -1.4 7.9 -1.4 8 -1.3 8.2 -1.4 8.4 -1.3 8.5 -1.2 8.6 -1.1 8.8 -1 8.9 -0.8 9.1 -0.8 9.1 -0.7 9.3 -0.5 9.5 -0.5 9.5 -0.5 9.7 -0.4 9.7 -0.4 9.9 -0.2 10 -0.2" stroke="#EDB120"/>
<path d="M65.5 652.8l2.2 -0.9 3.4 -1.5 4 -1.8 4.6 -2.2 5 -2.2 5.4 -2.3 5.7 -2.3 5.9 -2.1 6.3 -1.9 6.5 -1.8 6.7 -1.6 7 -1.5 7.1 -1.5 7.3 -1.3 7.6 -1.4 7.7 -1.3 7.9 -1.3 8 -1.4 8.2 -1.3 8.4 -1.2 8.5 -1.2 8.6 -1.1 8.8 -0.9 8.9 -0.9 9.1 -0.7 9.1 -0.6 9.3 -0.6 9.5 -0.5 9.5 -0.4 9.7 -0.4 9.7 -0.4 9.9 -0.2 10 -0.2" stroke="#7E2F8E"/>
<path d="M65.5 651.6l2.2 -0.9 3.4 -1.5 4 -1.8 4.6 -2 5 -2.2 5.4 -2.3 5.7 -2.1 5.9 -2.1 6.3 -1.8 6.5 -1.8 6.7 -1.5 7 -1.5 7.1 -1.4 7.3 -1.3 7.6 -1.3 7.7 -1.3 7.9 -1.3 8 -1.3 8.2 -1.3 8.4 -1.2 8.5 -1.1 8.6 -1 8.8 -1 8.9 -0.8 9.1 -0.7 9.1 -0.6 9.3 -0.6 9.5 -0.4 9.5 -0.5 9.7 -0.4 9.7 -0.3 9.9 -0.2 10 -0.2" stroke="#77AC30"/>
<path d="M65.5 650.3l2.2 -0.9 3.4 -1.4 4 -1.7 4.6 -2 5 -2.2 5.4 -2.1 5.7 -2.1 5.9 -2 6.3 -1.8 6.5 -1.6 6.7 -1.6 7 -1.4 7.1 -1.3 7.3 -1.3 7.6 -1.3 7.7 -1.2 7.9 -1.3 8 -1.2 8.2 -1.3 8.4 -1.1 8.5 -1.1 8.6 -1 8.8 -0.9 8.9 -0.8 9.1 -0.7 9.1 -0.6 9.3 -0.5 9.5 -0.5 9.5 -0.4 9.7 -0.4 9.7 -0.3 9.9 -0.2 10 -0.2" stroke="#4DBEEE"/>
<path d="M65.5 649l2.2 -0.8 3.4 -1.4 4 -1.7 4.6 -1.9 5 -2.1 5.4 -2 5.7 -2.1 5.9 -1.9 6.3 -1.7 6.5 -1.6 6.7 -1.5 7 -1.4 7.1 -1.3 7.3 -1.2 7.6 -1.3 7.7 -1.2 7.9 -1.2 8 -1.2 8.2 -1.1 8.4 -1.2 8.5 -1 8.6 -1 8.8 -0.9 8.9 -0.8 9.1 -0.6 9.1 -0.6 9.3 -0.5 9.5 -0.4 9.5 -0.5 9.7 -0.3 9.7 -0.3 9.9 -0.2 10 -0.2" stroke="#A2142F"/>
<path d="M65.5 647.7l2.2 -0.8 3.4 -1.3 4 -1.6 4.6 -1.9 5 -2 5.4 -2 5.7 -1.9 5.9 -1.9 6.3 -1.7 6.5 -1.5 6.7 -1.5 7 -1.3 7.1 -1.2 7.3 -1.2 7.6 -1.2 7.7 -1.2 7.9 -1.2 8 -1.1 8.2 -1.1 8.4 -1.1 8.5 -1.1 8.6 -0.9 8.8 -0.8 8.9 -0.8 9.1 -0.6 9.1 -0.6 9.3 -0.5 9.5 -0.4 9.5 -0.4 9.7 -0.3 9.7 -0.3 9.9 -0.2 10 -0.2" stroke="#0072BD"/>
<path d="M65.5 646.4l2.2 -0.7 3.4 -1.3 4 -1.5 4.6 -1.9 5 -1.9 5.4 -1.9 5.7 -1.9 5.9 -1.8 6.3 -1.6 6.5 -1.5 6.7 -1.4 7 -1.3 7.1 -1.2 7.3 -1.1 7.6 -1.2 7.7 -1.1 7.9 -1.1 8 -1.2 8.2 -1.1 8.4 -1 8.5 -1 8.6 -0.9 8.8 -0.8 8.9 -0.7 9.1 -0.6 9.1 -0.6 9.3 -0.4 9.5 -0.5 9.5 -0.3 9.7 -0.4 9.7 -0.2 9.9 -0.3 10 -0.1" stroke="#D95319"/>
<path d="M65.5 645.2l2.2 -0.8 3.4 -1.2 4 -1.5 4.6 -1.7 5 -1.9 5.4 -1.8 5.7 -1.8 5.9 -1.8 6.3 -1.5 6.5 -1.5 6.7 -1.3 7 -1.3 7.1 -1.1 7.3 -1.2 7.6 -1.1 7.7 -1 7.9 -1.1 8 -1.1 8.2 -1.1 8.4 -1 8.5 -0.9 8.6 -0.9 8.8 -0.8 8.9 -0.7 9.1 -0.6 9.1 -0.5 9.3 -0.4 9.5 -0.4 9.5 -0.4 9.7 -0.3 9.7 -0.3 9.9 -0.2 10 -0.1" stroke="#EDB120"/>
<path d="M65.5 643.9l2.2 -0.7 3.4 -1.2 4 -1.4 4.6 -1.7 5 -1.8 5.4 -1.8 5.7 -1.7 5.9 -1.6 6.3 -1.6 6.5 -1.4 6.7 -1.3 7 -1.2 7.1 -1.1 7.3 -1.1 7.6 -1 7.7 -1.1 7.9 -1 8 -1.1 8.2 -1 8.4 -0.9 8.5 -1 8.6 -0.8 8.8 -0.7 8.9 -0.7 9.1 -0.6 9.1 -0.5 9.3 -0.4 9.5 -0.4 9.5 -0.3 9.7 -0.3 9.7 -0.3 9.9 -0.2 10 -0.1" stroke="#7E2F8E"/>
<path d="M65.5 642.6l2.2 -0.6 3.4 -1.2 4 -1.4 4.6 -1.6 5 -1.7 5.4 -1.7 5.7 -1.7 5.9 -1.5 6.3 -1.5 6.5 -1.4 6.7 -1.2 7 -1.2 7.1 -1 7.3 -1.1 7.6 -1 7.7 -1 7.9 -1 8 -1 8.2 -1 8.4 -0.9 8.5 -0.9 8.6 -0.8 8.8 -0.7 8.9 -0.6 9.1 -0.6 9.1 -0.5 9.3 -0.4 9.5 -0.3 9.5 -0.4 9.7 -0.3 9.7 -0.2 9.9 -0.2 10 -0.1" stroke="#77AC30"/>
<path d="M65.5 641.3l2.2 -0.6 3.4 -1.1 4 -1.3 4.6 -1.5 5 -1.7 5.4 -1.6 5.7 -1.6 5.9 -1.5 6.3 -1.4 6.5 -1.3 6.7 -1.2 7 -1.2 7.1 -1 7.3 -1 7.6 -1 7.7 -1 7.9 -0.9 8 -1 8.2 -0.9 8.4 -0.9 8.5 -0.8 8.6 -0.8 8.8 -0.7 8.9 -0.6 9.1 -0.5 9.1 -0.5 9.3 -0.3 9.5 -0.4 9.5 -0.3 9.7 -0.3 9.7 -0.2 9.9 -0.2 10 -0.1" stroke="#4DBEEE"/>
<path d="M65.5 640.1l2.2 -0.6 3.4 -1.1 4 -1.2 4.6 -1.5 5 -1.6 5.4 -1.5 5.7 -1.6 5.9 -1.4 6.3 -1.4 6.5 -1.2 6.7 -1.2 7 -1.1 7.1 -1 7.3 -0.9 7.6 -1 7.7 -0.9 7.9 -0.9 8 -0.9 8.2 -0.9 8.4 -0.9 8.5 -0.8 8.6 -0.7 8.8 -0.7 8.9 -0.5 9.1 -0.5 9.1 -0.5 9.3 -0.3 9.5 -0.4 9.5 -0.3 9.7 -0.2 9.7 -0.2 9.9 -0.2 10 -0.1" stroke="#A2142F"/>
<path d="M65.5 638.8l2.2 -0.6 3.4 -1 4 -1.2 4.6 -1.4 5 -1.4 5.4 -1.6 5.7 -1.4 5.9 -1.4 6.3 -1.3 6.5 -1.2 6.7 -1.1 7 -1 7.1 -1 7.3 -0.9 7.6 -0.9 7.7 -0.9 7.9 -0.9 8 -0.9 8.2 -0.8 8.4 -0.9 8.5 -0.7 8.6 -0.7 8.8 -0.6 8.9 -0.6 9.1 -0.4 9.1 -0.5 9.3 -0.3 9.5 -0.3 9.5 -0.3 9.7 -0.2 9.7 -0.3 9.9 -0.1 10 -0.1" stroke="#0072BD"/>
<path d="M65.5 637.5l2.2 -0.5 3.4 -0.9 4 -1.2 4.6 -1.3 5 -1.4 5.4 -1.5 5.7 -1.4 5.9 -1.3 6.3 -1.3 6.5 -1.1 6.7 -1.1 7 -0.9 7.1 -1 7.3 -0.9 7.6 -0.8 7.7 -0.9 7.9 -0.8 8 -0.9 8.2 -0.8 8.4 -0.7 8.5 -0.8 8.6 -0.6 8.8 -0.6 8.9 -0.5 9.1 -0.5 9.1 -0.4 9.3 -0.3 9.5 -0.3 9.5 -0.2 9.7 -0.3 9.7 -0.2 9.9 -0.1 10 -0.1" stroke="#D95319"/>
<path d="M65.5 636.2l2.2 -0.5 3.4 -0.8 4 -1.1 4.6 -1.3 5 -1.3 5.4 -1.4 5.7 -1.3 5.9 -1.3 6.3 -1.2 6.5 -1.1 6.7 -1 7 -0.9 7.1 -0.9 7.3 -0.9 7.6 -0.8 7.7 -0.8 7.9 -0.8 8 -0.8 8.2 -0.8 8.4 -0.7 8.5 -0.7 8.6 -0.6 8.8 -0.6 8.9 -0.5 9.1 -0.4 9.1 -0.4 9.3 -0.3 9.5 -0.2 9.5 -0.3 9.7 -0.2 9.7 -0.2 9.9 -0.1 10 -0.1" stroke="#EDB120"/>
<path d="M65.5 635l2.2 -0.5 3.4 -0.8 4 -1.1 4.6 -1.2 5 -1.2 5.4 -1.3 5.7 -1.3 5.9 -1.2 6.3 -1.1 6.5 -1.1 6.7 -0.9 7 -0.9 7.1 -0.9 7.3 -0.8 7.6 -0.8 7.7 -0.8 7.9 -0.7 8 -0.8 8.2 -0.7 8.4 -0.7 8.5 -0.6 8.6 -0.6 8.8 -0.6 8.9 -0.4 9.1 -0.4 9.1 -0.3 9.3 -0.3 9.5 -0.3 9.5 -0.2 9.7 -0.2 9.7 -0.2 9.9 -0.1 10 -0.1" stroke="#7E2F8E"/>
<path d="M65.5 633.7l2.2 -0.5 3.4 -0.7 4 -1 4.6 -1.1 5 -1.2 5.4 -1.2 5.7 -1.3 5.9 -1.1 6.3 -1.1 6.5 -1 6.7 -0.9 7 -0.8 7.1 -0.8 7.3 -0.8 7.6 -0.8 7.7 -0.7 7.9 -0.7 8 -0.7 8.2 -0.7 8.4 -0.7 8.5 -0.6 8.6 -0.5 8.8 -0.5 8.9 -0.5 9.1 -0.3 9.1 -0.3 9.3 -0.3 9.5 -0.3 9.5 -0.2 9.7 -0.2 9.7 -0.1 9.9 -0.1 10 -0.1" stroke="#77AC30"/>
<path d="M65.5 632.4l2.2 -0.4 3.4 -0.7 4 -0.9 4.6 -1.1 5 -1.1 5.4 -1.2 5.7 -1.1 5.9 -1.1 6.3 -1 6.5 -1 6.7 -0.8 7 -0.8 7.1 -0.8 7.3 -0.7 7.6 -0.7 7.7 -0.7 7.9 -0.7 8 -0.7 8.2 -0.6 8.4 -0.6 8.5 -0.6 8.6 -0.5 8.8 -0.5 8.9 -0.4 9.1 -0.3 9.1 -0.3 9.3 -0.3 9.5 -0.2 9.5 -0.2 9.7 -0.2 9.7 -0.1 9.9 -0.1 10 -0.1" stroke="#4DBEEE"/>
<path d="M65.5 631.1l2.2 -0.4 3.4 -0.6 4 -0.9 4.6 -1 5 -1 5.4 -1.1 5.7 -1.1 5.9 -1 6.3 -0.9 6.5 -0.9 6.7 -0.9 7 -0.7 7.1 -0.8 7.3 -0.6 7.6 -0.7 7.7 -0.7 7.9 -0.6 8 -0.6 8.2 -0.6 8.4 -0.6 8.5 -0.6 8.6 -0.4 8.8 -0.5 8.9 -0.3 9.1 -0.4 9.1 -0.2 9.3 -0.3 9.5 -0.2 9.5 -0.2 9.7 -0.1 9.7 -0.2 9.9 -0.1 10 0" stroke="#A2142F"/>
<path d="M65.5 629.9l2.2 -0.4 3.4 -0.6 4 -0.8 4.6 -0.9 5 -1 5.4 -1 5.7 -1 5.9 -1 6.3 -0.9 6.5 -0.8 6.7 -0.8 7 -0.7 7.1 -0.7 7.3 -0.7 7.6 -0.6 7.7 -0.6 7.9 -0.6 8 -0.6 8.2 -0.5 8.4 -0.6 8.5 -0.5 8.6 -0.4 8.8 -0.4 8.9 -0.4 9.1 -0.3 9.1 -0.2 9.3 -0.2 9.5 -0.2 9.5 -0.2 9.7 -0.1 9.7 -0.2 9.9 -0.1 10 0" stroke="#0072BD"/>
<path d="M65.5 628.6l2.2 -0.4 3.4 -0.5 4 -0.8 4.6 -0.8 5 -0.9 5.4 -1 5.7 -0.9 5.9 -0.9 6.3 -0.8 6.5 -0.8 6.7 -0.7 7 -0.7 7.1 -0.7 7.3 -0.6 7.6 -0.5 7.7 -0.6 7.9 -0.6 8 -0.5 8.2 -0.6 8.4 -0.4 8.5 -0.5 8.6 -0.4 8.8 -0.4 8.9 -0.3 9.1 -0.3 9.1 -0.2 9.3 -0.2 9.5 -0.2 9.5 -0.1 9.7 -0.2 9.7 -0.1 9.9 -0.1 10 0" stroke="#D95319"/>
<path d="M65.5 627.3l2.2 -0.3 3.4 -0.5 4 -0.7 4.6 -0.8 5 -0.8 5.4 -0.9 5.7 -0.9 5.9 -0.8 6.3 -0.8 6.5 -0.7 6.7 -0.7 7 -0.6 7.1 -0.6 7.3 -0.6 7.6 -0.5 7.7 -0.5 7.9 -0.6 8 -0.5 8.2 -0.5 8.4 -0.4 8.5 -0.4 8.6 -0.4 8.8 -0.4 8.9 -0.2 9.1 -0.3 9.1 -0.2 9.3 -0.2 9.5 -0.1 9.5 -0.2 9.7 -0.1 9.7 -0.1 9.9 -0.1 10 0" stroke="#EDB120"/>
<path d="M65.5 626l2.2 -0.3 3.4 -0.4 4 -0.6 4.6 -0.8 5 -0.7 5.4 -0.8 5.7 -0.8 5.9 -0.8 6.3 -0.7 6.5 -0.7 6.7 -0.6 7 -0.6 7.1 -0.5 7.3 -0.6 7.6 -0.5 7.7 -0.5 7.9 -0.4 8 -0.5 8.2 -0.4 8.4 -0.5 8.5 -0.4 8.6 -0.3 8.8 -0.3 8.9 -0.3 9.1 -0.2 9.1 -0.2 9.3 -0.2 9.5 -0.1 9.5 -0.1 9.7 -0.1 9.7 -0.1 9.9 -0.1 10 0" stroke="#7E2F8E"/>
<path d="M65.5 624.7l2.2 -0.2 3.4 -0.4 4 -0.6 4.6 -0.6 5 -0.7 5.4 -0.8 5.7 -0.7 5.9 -0.7 6.3 -0.6 6.5 -0.7 6.7 -0.5 7 -0.6 7.1 -0.5 7.3 -0.5 7.6 -0.4 7.7 -0.5 7.9 -0.4 8 -0.4 8.2 -0.4 8.4 -0.4 8.5 -0.4 8.6 -0.3 8.8 -0.3 8.9 -0.2 9.1 -0.2 9.1 -0.2 9.3 -0.1 9.5 -0.1 9.5 -0.2 9.7 -0.1 9.7 0 9.9 -0.1 10 0" stroke="#77AC30"/>
<path d="M65.5 623.5l2.2 -0.3 3.4 -0.3 4 -0.5 4.6 -0.6 5 -0.6 5.4 -0.7 5.7 -0.7 5.9 -0.6 6.3 -0.6 6.5 -0.5 6.7 -0.6 7 -0.5 7.1 -0.4 7.3 -0.5 7.6 -0.4 7.7 -0.4 7.9 -0.4 8 -0.4 8.2 -0.3 8.4 -0.4 8.5 -0.3 8.6 -0.3 8.8 -0.2 8.9 -0.2 9.1 -0.2 9.1 -0.2 9.3 -0.1 9.5 -0.1 9.5 -0.1 9.7 -0.1 9.7 0 9.9 -0.1 10 0" stroke="#4DBEEE"/>
<path d="M65.5 622.2l2.2 -0.2 3.4 -0.3 4 -0.5 4.6 -0.5 5 -0.6 5.4 -0.5 5.7 -0.6 5.9 -0.6 6.3 -0.5 6.5 -0.5 6.7 -0.5 7 -0.4 7.1 -0.5 7.3 -0.4 7.6 -0.3 7.7 -0.4 7.9 -0.3 8 -0.4 8.2 -0.3 8.4 -0.3 8.5 -0.3 8.6 -0.2 8.8 -0.3 8.9 -0.1 9.1 -0.2 9.1 -0.1 9.3 -0.1 9.5 -0.1 9.5 -0.1 9.7 -0.1 9.7 -0.1 9.9 0 10 0" stroke="#A2142F"/>
<path d="M65.5 620.9l2.2 -0.2 3.4 -0.3 4 -0.3 4.6 -0.5 5 -0.5 5.4 -0.5 5.7 -0.5 5.9 -0.5 6.3 -0.5 6.5 -0.4 6.7 -0.4 7 -0.4 7.1 -0.4 7.3 -0.3 7.6 -0.4 7.7 -0.3 7.9 -0.3 8 -0.3 8.2 -0.3 8.4 -0.2 8.5 -0.3 8.6 -0.2 8.8 -0.2 8.9 -0.2 9.1 -0.1 9.1 -0.1 9.3 -0.1 9.5 -0.1 9.5 -0.1 9.7 0 9.7 -0.1 9.9 0 10 0" stroke="#0072BD"/>
<path d="M65.5 619.6l2.2 -0.1 3.4 -0.3 4 -0.3 4.6 -0.4 5 -0.4 5.4 -0.4 5.7 -0.5 5.9 -0.4 6.3 -0.4 6.5 -0.4 6.7 -0.4 7 -0.3 7.1 -0.3 7.3 -0.3 7.6 -0.3 7.7 -0.3 7.9 -0.2 8 -0.3 8.2 -0.2 8.4 -0.3 8.5 -0.2 8.6 -0.2 8.8 -0.1 8.9 -0.2 9.1 -0.1 9.1 -0.1 9.3 -0.1 9.5 0 9.5 -0.1 9.7 0 9.7 -0.1 9.9 0 10 0" stroke="#D95319"/>
<path d="M65.5 618.4l2.2 -0.2 3.4 -0.2 4 -0.2 4.6 -0.4 5 -0.3 5.4 -0.4 5.7 -0.3 5.9 -0.4 6.3 -0.4 6.5 -0.3 6.7 -0.3 7 -0.3 7.1 -0.2 7.3 -0.3 7.6 -0.2 7.7 -0.3 7.9 -0.2 8 -0.2 8.2 -0.2 8.4 -0.2 8.5 -0.2 8.6 -0.1 8.8 -0.2 8.9 -0.1 9.1 -0.1 9.1 -0.1 9.3 0 9.5 -0.1 9.5 0 9.7 -0.1 9.7 0 9.9 0 10 0" stroke="#EDB120"/>
<path d="M65.5 617.1l2.2 -0.1 3.4 -0.2 4 -0.2 4.6 -0.2 5 -0.3 5.4 -0.3 5.7 -0.3 5.9 -0.3 6.3 -0.3 6.5 -0.3 6.7 -0.2 7 -0.2 7.1 -0.3 7.3 -0.2 7.6 -0.2 7.7 -0.2 7.9 -0.1 8 -0.2 8.2 -0.2 8.4 -0.1 8.5 -0.2 8.6 -0.1 8.8 -0.1 8.9 -0.1 9.1 -0.1 9.1 0 9.3 -0.1 9.5 0 9.5 -0.1 9.7 0 9.7 0 9.9 0 10 0" stroke="#7E2F8E"/>
<path d="M65.5 615.8l2.2 -0.1 3.4 -0.1 4 -0.2 4.6 -0.1 5 -0.3 5.4 -0.2 5.7 -0.2 5.9 -0.2 6.3 -0.2 6.5 -0.2 6.7 -0.2 7 -0.2 7.1 -0.2 7.3 -0.1 7.6 -0.2 7.7 -0.1 7.9 -0.2 8 -0.1 8.2 -0.1 8.4 -0.1 8.5 -0.1 8.6 -0.1 8.8 -0.1 8.9 -0.1 9.1 0 9.1 -0.1 9.3 0 9.5 -0.1 9.5 0 9.7 0 9.7 0 9.9 0 10 0" stroke="#77AC30"/>
<path d="M65.5 614.5l2.2 0 3.4 -0.1 4 -0.1 4.6 -0.1 5 -0.2 5.4 -0.1 5.7 -0.2 5.9 -0.1 6.3 -0.2 6.5 -0.1 6.7 -0.2 7 -0.1 7.1 -0.1 7.3 -0.1 7.6 -0.1 7.7 -0.1 7.9 -0.1 8 -0.1 8.2 -0.1 8.4 0 8.5 -0.1 8.6 -0.1 8.8 0 8.9 -0.1 9.1 0 9.1 0 9.3 -0.1 9.5 0 9.5 0 9.7 0 9.7 0 9.9 0 10 0" stroke="#4DBEEE"/>
<path d="M65.5 613.3l2.2 -0.1 3.4 0 4 -0.1 4.6 0 5 -0.1 5.4 -0.1 5.7 -0.1 5.9 -0.1 6.3 0 6.5 -0.1 6.7 -0.1 7 0 7.1 -0.1 7.3 -0.1 7.6 0 7.7 -0.1 7.9 0 8 -0.1 8.2 0 8.4 0 8.5 -0.1 8.6 0 8.8 0 8.9 -0.1 9.1 0 9.1 0 9.3 0 9.5 0 9.5 0 9.7 0 9.7 0 9.9 0 10 0" stroke="#A2142F"/>
<path d="M65.5 612l2.2 0 3.4 0 4 0 4.6 0 5 0 5.4 -0.1 5.7 0 5.9 0 6.3 0 6.5 0 6.7 0 7 0 7.1 0 7.3 0 7.6 0 7.7 0 7.9 0 8 0 8.2 0 8.4 0 8.5 0 8.6 0 8.8 0 8.9 0 9.1 0 9.1 0 9.3 0 9.5 0 9.5 0 9.7 0 9.7 0 9.9 0 10 0" stroke="#0072BD"/>
<path d="M65.5 610.7l2.2 0 3.4 0.1 4 0 4.6 0.1 5 0 5.4 0.1 5.7 0 5.9 0.1 6.3 0.1 6.5 0 6.7 0.1 7 0 7.1 0.1 7.3 0 7.6 0.1 7.7 0 7.9 0.1 8 0 8.2 0 8.4 0.1 8.5 0 8.6 0 8.8 0.1 8.9 0 9.1 0 9.1 0 9.3 0 9.5 0 9.5 0 9.7 0 9.7 0 9.9 0 10 0" stroke="#D95319"/>
<path d="M65.5 609.4l2.2 0.1 3.4 0 4 0.1 4.6 0.1 5 0.2 5.4 0.1 5.7 0.2 5.9 0.1 6.3 0.1 6.5 0.2 6.7 0.1 7 0.1 7.1 0.1 7.3 0.1 7.6 0.1 7.7 0.1 7.9 0.1 8 0.1 8.2 0 8.4 0.1 8.5 0.1 8.6 0 8.8 0.1 8.9 0 9.1 0 9.1 0.1 9.3 0 9.5 0 9.5 0 9.7 0 9.7 0 9.9 0 10 0" stroke="#EDB120"/>
<path d="M65.5 608.1l2.2 0.1 3.4 0.1 4 0.2 4.6 0.1 5 0.2 5.4 0.2 5.7 0.3 5.9 0.2 6.3 0.2 6.5 0.2 6.7 0.2 7 0.1 7.1 0.2 7.3 0.2 7.6 0.1 7.7 0.2 7.9 0.1 8 0.1 8.2 0.1 8.4 0.1 8.5 0.1 8.6 0.1 8.8 0.1 8.9 0 9.1 0.1 9.1 0 9.3 0.1 9.5 0 9.5 0 9.7 0 9.7 0 9.9 0 10 0" stroke="#7E2F8E"/>
<path d="M65.5 606.9l2.2 0.1 3.4 0.1 4 0.2 4.6 0.2 5 0.3 5.4 0.3 5.7 0.3 5.9 0.2 6.3 0.3 6.5 0.3 6.7 0.3 7 0.2 7.1 0.2 7.3 0.2 7.6 0.2 7.7 0.2 7.9 0.2 8 0.2 8.2 0.1 8.4 0.2 8.5 0.1 8.6 0.1 8.8 0.1 8.9 0.1 9.1 0 9.1 0.1 9.3 0 9.5 0.1 9.5 0 9.7 0 9.7 0 9.9 0 10 0" stroke="#77AC30"/>
<path d="M65.5 605.6l2.2 0.1 3.4 0.2 4 0.2 4.6 0.3 5 0.3 5.4 0.4 5.7 0.4 5.9 0.3 6.3 0.4 6.5 0.3 6.7 0.3 7 0.4 7.1 0.2 7.3 0.3 7.6 0.3 7.7 0.2 7.9 0.2 8 0.2 8.2 0.2 8.4 0.2 8.5 0.2 8.6 0.1 8.8 0.1 8.9 0.1 9.1 0.1 9.1 0 9.3 0.1 9.5 0 9.5 0.1 9.7 0 9.7 0 9.9 0 10 0" stroke="#4DBEEE"/>
<path d="M65.5 604.3l2.2 0.1 3.4 0.3 4 0.2 4.6 0.4 5 0.4 5.4 0.4 5.7 0.5 5.9 0.4 6.3 0.4 6.5 0.4 6.7 0.4 7 0.4 7.1 0.4 7.3 0.3 7.6 0.3 7.7 0.3 7.9 0.2 8 0.3 8.2 0.2 8.4 0.2 8.5 0.2 8.6 0.2 8.8 0.1 8.9 0.2 9.1 0 9.1 0.1 9.3 0.1 9.5 0 9.5 0.1 9.7 0 9.7 0 9.9 0 10 0" stroke="#A2142F"/>
<path d="M65.5 603l2.2 0.2 3.4 0.2 4 0.4 4.6 0.4 5 0.4 5.4 0.5 5.7 0.6 5.9 0.5 6.3 0.5 6.5 0.5 6.7 0.4 7 0.5 7.1 0.4 7.3 0.4 7.6 0.3 7.7 0.4 7.9 0.3 8 0.3 8.2 0.2 8.4 0.3 8.5 0.2 8.6 0.2 8.8 0.2 8.9 0.1 9.1 0.1 9.1 0.1 9.3 0.1 9.5 0 9.5 0.1 9.7 0 9.7 0 9.9 0 10 0" stroke="#0072BD"/>
<path d="M65.5 601.8l2.2 0.1 3.4 0.3 4 0.4 4.6 0.4 5 0.6 5.4 0.5 5.7 0.6 5.9 0.6 6.3 0.6 6.5 0.6 6.7 0.5 7 0.5 7.1 0.5 7.3 0.5 7.6 0.4 7.7 0.4 7.9 0.3 8 0.4 8.2 0.3 8.4 0.2 8.5 0.3 8.6 0.2 8.8 0.2 8.9 0.2 9.1 0.1 9.1 0.1 9.3 0 9.5 0.1 9.5 0 9.7 0.1 9.7 0 9.9 0 10 0" stroke="#D95319"/>
<path d="M65.5 600.5l2.2 0.2 3.4 0.3 4 0.4 4.6 0.5 5 0.6 5.4 0.7 5.7 0.6 5.9 0.7 6.3 0.7 6.5 0.6 6.7 0.6 7 0.6 7.1 0.5 7.3 0.5 7.6 0.5 7.7 0.5 7.9 0.4 8 0.3 8.2 0.4 8.4 0.3 8.5 0.3 8.6 0.2 8.8 0.2 8.9 0.2 9.1 0.1 9.1 0.1 9.3 0.1 9.5 0.1 9.5 0 9.7 0.1 9.7 0 9.9 0 10 0" stroke="#EDB120"/>
<path d="M65.5 599.2l2.2 0.2 3.4 0.4 4 0.4 4.6 0.6 5 0.7 5.4 0.7 5.7 0.7 5.9 0.8 6.3 0.7 6.5 0.7 6.7 0.7 7 0.7 7.1 0.6 7.3 0.5 7.6 0.6 7.7 0.5 7.9 0.4 8 0.4 8.2 0.4 8.4 0.4 8.5 0.3 8.6 0.3 8.8 0.2 8.9 0.2 9.1 0.1 9.1 0.1 9.3 0.1 9.5 0.1 9.5 0 9.7 0.1 9.7 0 9.9 0 10 0" stroke="#7E2F8E"/>
<path d="M65.5 597.9l2.2 0.2 3.4 0.4 4 0.5 4.6 0.7 5 0.7 5.4 0.8 5.7 0.8 5.9 0.8 6.3 0.9 6.5 0.8 6.7 0.7 7 0.7 7.1 0.7 7.3 0.6 7.6 0.6 7.7 0.6 7.9 0.5 8 0.4 8.2 0.5 8.4 0.3 8.5 0.4 8.6 0.3 8.8 0.2 8.9 0.2 9.1 0.2 9.1 0.1 9.3 0.1 9.5 0.1 9.5 0 9.7 0.1 9.7 0 9.9 0 10 0" stroke="#77AC30"/>
<path d="M65.5 596.7l2.2 0.2 3.4 0.4 4 0.6 4.6 0.6 5 0.8 5.4 0.9 5.7 0.9 5.9 0.9 6.3 0.9 6.5 0.9 6.7 0.8 7 0.8 7.1 0.8 7.3 0.6 7.6 0.7 7.7 0.6 7.9 0.5 8 0.5 8.2 0.5 8.4 0.4 8.5 0.4 8.6 0.3 8.8 0.3 8.9 0.2 9.1 0.2 9.1 0.1 9.3 0.1 9.5 0.1 9.5 0 9.7 0.1 9.7 0 9.9 0 10 0" stroke="#4DBEEE"/>
<path d="M65.5 595.4l2.2 0.2 3.4 0.5 4 0.6 4.6 0.7 5 0.9 5.4 0.9 5.7 1 5.9 1 6.3 1 6.5 0.9 6.7 0.9 7 0.9 7.1 0.8 7.3 0.7 7.6 0.7 7.7 0.7 7.9 0.6 8 0.5 8.2 0.6 8.4 0.4 8.5 0.4 8.6 0.3 8.8 0.3 8.9 0.3 9.1 0.1 9.1 0.2 9.3 0.1 9.5 0.1 9.5 0 9.7 0.1 9.7 0 9.9 0 10 0" stroke="#A2142F"/>
<path d="M65.5 594.1l2.2 0.3 3.4 0.4 4 0.7 4.6 0.8 5 0.9 5.4 1 5.7 1.1 5.9 1 6.3 1.1 6.5 1 6.7 1 7 1 7.1 0.8 7.3 0.9 7.6 0.7 7.7 0.7 7.9 0.7 8 0.6 8.2 0.5 8.4 0.5 8.5 0.4 8.6 0.4 8.8 0.3 8.9 0.2 9.1 0.2 9.1 0.2 9.3 0.1 9.5 0.1 9.5 0 9.7 0.1 9.7 0 9.9 0 10 0" stroke="#0072BD"/>
<path d="M65.5 592.8l2.2 0.3 3.4 0.5 4 0.7 4.6 0.8 5 1 5.4 1.1 5.7 1.1 5.9 1.2 6.3 1.2 6.5 1.1 6.7 1 7 1 7.1 1 7.3 0.9 7.6 0.8 7.7 0.7 7.9 0.7 8 0.7 8.2 0.6 8.4 0.5 8.5 0.4 8.6 0.4 8.8 0.4 8.9 0.2 9.1 0.2 9.1 0.2 9.3 0.1 9.5 0.1 9.5 0 9.7 0.1 9.7 0 9.9 0 10 0" stroke="#D95319"/>
<path d="M65.5 591.5l2.2 0.3 3.4 0.6 4 0.7 4.6 0.9 5 1 5.4 1.2 5.7 1.2 5.9 1.3 6.3 1.2 6.5 1.2 6.7 1.1 7 1.1 7.1 1 7.3 1 7.6 0.9 7.7 0.8 7.9 0.7 8 0.7 8.2 0.6 8.4 0.6 8.5 0.5 8.6 0.4 8.8 0.3 8.9 0.3 9.1 0.2 9.1 0.2 9.3 0.1 9.5 0.1 9.5 0 9.7 0.1 9.7 0 9.9 0 10 0" stroke="#EDB120"/>
<path d="M65.5 590.3l2.2 0.3 3.4 0.5 4 0.8 4.6 1 5 1.1 5.4 1.2 5.7 1.3 5.9 1.3 6.3 1.3 6.5 1.3 6.7 1.3 7 1.1 7.1 1.1 7.3 1 7.6 0.9 7.7 0.9 7.9 0.8 8 0.7 8.2 0.7 8.4 0.6 8.5 0.5 8.6 0.4 8.8 0.4 8.9 0.3 9.1 0.2 9.1 0.2 9.3 0.1 9.5 0.1 9.5 0 9.7 0.1 9.7 0 9.9 0 10 0" stroke="#7E2F8E"/>
<path d="M65.5 589l2.2 0.3 3.4 0.6 4 0.8 4.6 1 5 1.2 5.4 1.3 5.7 1.4 5.9 1.4 6.3 1.4 6.5 1.4 6.7 1.3 7 1.2 7.1 1.1 7.3 1.1 7.6 1 7.7 0.9 7.9 0.9 8 0.7 8.2 0.7 8.4 0.7 8.5 0.5 8.6 0.5 8.8 0.3 8.9 0.4 9.1 0.2 9.1 0.2 9.3 0.1 9.5 0.1 9.5 0 9.7 0.1 9.7 0 9.9 0 10 0" stroke="#77AC30"/>
<path d="M65.5 587.7l2.2 0.4 3.4 0.6 4 0.8 4.6 1.1 5 1.2 5.4 1.4 5.7 1.5 5.9 1.4 6.3 1.5 6.5 1.5 6.7 1.4 7 1.3 7.1 1.2 7.3 1.1 7.6 1.1 7.7 1 7.9 0.9 8 0.8 8.2 0.7 8.4 0.7 8.5 0.5 8.6 0.5 8.8 0.4 8.9 0.3 9.1 0.3 9.1 0.2 9.3 0.1 9.5 0.1 9.5 0 9.7 0.1 9.7 0 9.9 0 10 0" stroke="#4DBEEE"/>
<path d="M65.5 586.4l2.2 0.4 3.4 0.6 4 0.9 4.6 1.1 5 1.3 5.4 1.5 5.7 1.5 5.9 1.6 6.3 1.6 6.5 1.5 6.7 1.5 7 1.4 7.1 1.3 7.3 1.2 7.6 1.1 7.7 1 7.9 0.9 8 0.9 8.2 0.8 8.4 0.7 8.5 0.6 8.6 0.5 8.8 0.4 8.9 0.3 9.1 0.3 9.1 0.2 9.3 0.1 9.5 0.1 9.5 0 9.7 0.1 9.7 0 9.9 0 10 0" stroke="#A2142F"/>
<path d="M65.5 585.2l2.2 0.3 3.4 0.7 4 0.9 4.6 1.2 5 1.4 5.4 1.5 5.7 1.6 5.9 1.7 6.3 1.6 6.5 1.6 6.7 1.6 7 1.4 7.1 1.4 7.3 1.3 7.6 1.2 7.7 1 7.9 1 8 0.9 8.2 0.8 8.4 0.8 8.5 0.6 8.6 0.5 8.8 0.5 8.9 0.3 9.1 0.3 9.1 0.2 9.3 0.1 9.5 0.1 9.5 0 9.7 0.1 9.7 0 9.9 0 10 0" stroke="#0072BD"/>
<path d="M65.5 583.9l2.2 0.4 3.4 0.7 4 0.9 4.6 1.3 5 1.4 5.4 1.6 5.7 1.7 5.9 1.7 6.3 1.8 6.5 1.7 6.7 1.6 7 1.5 7.1 1.5 7.3 1.3 7.6 1.2 7.7 1.2 7.9 1 8 1 8.2 0.8 8.4 0.8 8.5 0.6 8.6 0.6 8.8 0.4 8.9 0.4 9.1 0.3 9.1 0.2 9.3 0.1 9.5 0.1 9.5 0.1 9.7 0 9.7 0 9.9 0 10 0" stroke="#D95319"/>
<path d="M65.5 582.6l2.2 0.4 3.4 0.7 4 1 4.6 1.3 5 1.5 5.4 1.7 5.7 1.8 5.9 1.8 6.3 1.8 6.5 1.8 6.7 1.7 7 1.6 7.1 1.5 7.3 1.4 7.6 1.3 7.7 1.2 7.9 1.1 8 1 8.2 0.9 8.4 0.8 8.5 0.6 8.6 0.6 8.8 0.5 8.9 0.4 9.1 0.3 9.1 0.2 9.3 0.1 9.5 0.1 9.5 0.1 9.7 0 9.7 0 9.9 0 10 0" stroke="#EDB120"/>
<path d="M65.5 581.3l2.2 0.4 3.4 0.8 4 1.1 4.6 1.3 5 1.5 5.4 1.8 5.7 1.8 5.9 1.9 6.3 2 6.5 1.8 6.7 1.8 7 1.7 7.1 1.6 7.3 1.4 7.6 1.4 7.7 1.2 7.9 1.2 8 1 8.2 0.9 8.4 0.9 8.5 0.7 8.6 0.6 8.8 0.5 8.9 0.3 9.1 0.3 9.1 0.3 9.3 0.1 9.5 0.1 9.5 0.1 9.7 0 9.7 0 9.9 0 10 0" stroke="#7E2F8E"/>
<path d="M65.5 580.1l2.2 0.4 3.4 0.8 4 1.1 4.6 1.3 5 1.7 5.4 1.8 5.7 1.9 5.9 2 6.3 2 6.5 1.9 6.7 1.9 7 1.8 7.1 1.6 7.3 1.6 7.6 1.4 7.7 1.3 7.9 1.2 8 1 8.2 1 8.4 0.9 8.5 0.7 8.6 0.6 8.8 0.5 8.9 0.4 9.1 0.3 9.1 0.3 9.3 0.1 9.5 0.1 9.5 0.1 9.7 0 9.7 0 9.9 0 10 0" stroke="#77AC30"/>
<path d="M65.5 578.8l2.2 0.4 3.4 0.8 4 1.2 4.6 1.4 5 1.7 5.4 1.9 5.7 2 5.9 2.1 6.3 2 6.5 2.1 6.7 1.9 7 1.9 7.1 1.7 7.3 1.6 7.6 1.4 7.7 1.4 7.9 1.2 8 1.2 8.2 1 8.4 0.8 8.5 0.8 8.6 0.7 8.8 0.5 8.9 0.4 9.1 0.3 9.1 0.3 9.3 0.1 9.5 0.1 9.5 0.1 9.7 0 9.7 0 9.9 0 10 0" stroke="#4DBEEE"/>
<path d="M65.5 577.5l2.2 0.5 3.4 0.8 4 1.2 4.6 1.5 5 1.7 5.4 2 5.7 2.1 5.9 2.1 6.3 2.2 6.5 2.1 6.7 2 7 1.9 7.1 1.8 7.3 1.7 7.6 1.5 7.7 1.4 7.9 1.3 8 1.2 8.2 1 8.4 0.9 8.5 0.8 8.6 0.7 8.8 0.6 8.9 0.4 9.1 0.3 9.1 0.2 9.3 0.2 9.5 0.1 9.5 0.1 9.7 0 9.7 0 9.9 0 10 0" stroke="#A2142F"/>
<path d="M65.5 576.2l2.2 0.5 3.4 0.9 4 1.2 4.6 1.5 5 1.8 5.4 2.1 5.7 2.1 5.9 2.3 6.3 2.2 6.5 2.2 6.7 2.1 7 2 7.1 1.9 7.3 1.7 7.6 1.6 7.7 1.4 7.9 1.4 8 1.2 8.2 1.1 8.4 0.9 8.5 0.8 8.6 0.7 8.8 0.6 8.9 0.5 9.1 0.3 9.1 0.2 9.3 0.2 9.5 0.1 9.5 0.1 9.7 0 9.7 0 9.9 0 10 0" stroke="#0072BD"/>
<path d="M65.5 575l2.2 0.4 3.4 0.9 4 1.3 4.6 1.6 5 1.9 5.4 2.1 5.7 2.2 5.9 2.4 6.3 2.3 6.5 2.2 6.7 2.2 7 2.1 7.1 1.9 7.3 1.8 7.6 1.7 7.7 1.5 7.9 1.3 8 1.3 8.2 1.1 8.4 1 8.5 0.9 8.6 0.7 8.8 0.6 8.9 0.4 9.1 0.4 9.1 0.2 9.3 0.2 9.5 0.1 9.5 0.1 9.7 0 9.7 0 9.9 0 10 0" stroke="#D95319"/>
<path d="M65.5 573.7l2.2 0.5 3.4 0.9 4 1.3 4.6 1.7 5 1.9 5.4 2.2 5.7 2.3 5.9 2.4 6.3 2.4 6.5 2.4 6.7 2.2 7 2.2 7.1 2 7.3 1.8 7.6 1.7 7.7 1.6 7.9 1.4 8 1.3 8.2 1.2 8.4 1 8.5 0.9 8.6 0.7 8.8 0.6 8.9 0.5 9.1 0.4 9.1 0.2 9.3 0.2 9.5 0.1 9.5 0.1 9.7 0 9.7 0 9.9 0 10 0" stroke="#EDB120"/>
<path d="M65.5 572.4l2.2 0.5 3.4 1 4 1.3 4.6 1.7 5 2 5.4 2.3 5.7 2.4 5.9 2.5 6.3 2.5 6.5 2.4 6.7 2.3 7 2.2 7.1 2.1 7.3 1.9 7.6 1.8 7.7 1.6 7.9 1.5 8 1.3 8.2 1.2 8.4 1.1 8.5 0.9 8.6 0.7 8.8 0.7 8.9 0.5 9.1 0.3 9.1 0.3 9.3 0.2 9.5 0.1 9.5 0.1 9.7 0 9.7 0 9.9 0 10 0" stroke="#7E2F8E"/>
<path d="M65.5 571.1l2.2 0.6 3.4 1 4 1.3 4.6 1.8 5 2.1 5.4 2.3 5.7 2.5 5.9 2.6 6.3 2.5 6.5 2.5 6.7 2.4 7 2.3 7.1 2.1 7.3 2 7.6 1.8 7.7 1.7 7.9 1.5 8 1.4 8.2 1.2 8.4 1.1 8.5 1 8.6 0.8 8.8 0.6 8.9 0.5 9.1 0.4 9.1 0.3 9.3 0.2 9.5 0.1 9.5 0.1 9.7 0 9.7 0 9.9 0 10 0" stroke="#77AC30"/>
<path d="M65.5 569.8l2.2 0.6 3.4 1 4 1.5 4.6 1.8 5 2.1 5.4 2.4 5.7 2.6 5.9 2.6 6.3 2.7 6.5 2.5 6.7 2.5 7 2.4 7.1 2.2 7.3 2 7.6 1.9 7.7 1.7 7.9 1.6 8 1.4 8.2 1.3 8.4 1.1 8.5 1 8.6 0.8 8.8 0.7 8.9 0.5 9.1 0.4 9.1 0.3 9.3 0.2 9.5 0.1 9.5 0.1 9.7 0 9.7 0 9.9 0 10 0" stroke="#4DBEEE"/>
<path d="M65.5 568.6l2.2 0.5 3.4 1.1 4 1.5 4.6 1.8 5 2.3 5.4 2.4 5.7 2.7 5.9 2.7 6.3 2.7 6.5 2.7 6.7 2.5 7 2.4 7.1 2.3 7.3 2.1 7.6 1.9 7.7 1.8 7.9 1.6 8 1.5 8.2 1.3 8.4 1.2 8.5 1 8.6 0.8 8.8 0.7 8.9 0.6 9.1 0.4 9.1 0.3 9.3 0.2 9.5 0.1 9.5 0.1 9.7 0 9.7 0 9.9 0 10 0" stroke="#A2142F"/>
<path d="M65.5 567.3l2.2 0.6 3.4 1.1 4 1.5 4.6 1.9 5 2.3 5.4 2.5 5.7 2.7 5.9 2.8 6.3 2.9 6.5 2.7 6.7 2.6 7 2.5 7.1 2.3 7.3 2.2 7.6 2 7.7 1.8 7.9 1.7 8 1.5 8.2 1.4 8.4 1.1 8.5 1.1 8.6 0.9 8.8 0.7 8.9 0.5 9.1 0.4 9.1 0.3 9.3 0.2 9.5 0.2 9.5 0.1 9.7 0 9.7 0 9.9 0 10 0" stroke="#0072BD"/>
<path d="M65.5 566l2.2 0.6 3.4 1.1 4 1.6 4.6 2 5 2.3 5.4 2.6 5.7 2.8 5.9 2.9 6.3 2.9 6.5 2.8 6.7 2.7 7 2.6 7.1 2.4 7.3 2.2 7.6 2.1 7.7 1.8 7.9 1.7 8 1.6 8.2 1.4 8.4 1.2 8.5 1.1 8.6 0.9 8.8 0.7 8.9 0.6 9.1 0.4 9.1 0.3 9.3 0.2 9.5 0.2 9.5 0.1 9.7 0 9.7 0 9.9 0 10 0" stroke="#D95319"/>
<path d="M65.5 564.7l2.2 0.7 3.4 1.1 4 1.6 4.6 2.1 5 2.4 5.4 2.6 5.7 2.9 5.9 3 6.3 2.9 6.5 2.9 6.7 2.8 7 2.7 7.1 2.4 7.3 2.3 7.6 2.1 7.7 1.9 7.9 1.8 8 1.6 8.2 1.4 8.4 1.3 8.5 1.1 8.6 0.9 8.8 0.8 8.9 0.6 9.1 0.4 9.1 0.3 9.3 0.2 9.5 0.2 9.5 0 9.7 0.1 9.7 0 9.9 0 10 0" stroke="#EDB120"/>
<path d="M65.5 563.5l2.2 0.6 3.4 1.2 4 1.6 4.6 2.1 5 2.5 5.4 2.8 5.7 2.9 5.9 3 6.3 3.1 6.5 3 6.7 2.8 7 2.7 7.1 2.6 7.3 2.3 7.6 2.2 7.7 2 7.9 1.8 8 1.6 8.2 1.5 8.4 1.3 8.5 1.1 8.6 0.9 8.8 0.8 8.9 0.6 9.1 0.5 9.1 0.3 9.3 0.2 9.5 0.2 9.5 0 9.7 0.1 9.7 0 9.9 0 10 0" stroke="#7E2F8E"/>
<path d="M65.5 562.2l2.2 0.6 3.4 1.3 4 1.6 4.6 2.2 5 2.5 5.4 2.9 5.7 3 5.9 3.1 6.3 3.1 6.5 3.1 6.7 2.9 7 2.8 7.1 2.6 7.3 2.4 7.6 2.2 7.7 2.1 7.9 1.8 8 1.7 8.2 1.5 8.4 1.3 8.5 1.2 8.6 1 8.8 0.8 8.9 0.6 9.1 0.4 9.1 0.4 9.3 0.2 9.5 0.2 9.5 0 9.7 0.1 9.7 0 9.9 0 10 0" stroke="#77AC30"/>
<path d="M65.5 560.9l2.2 0.7 3.4 1.2 4 1.8 4.6 2.2 5 2.6 5.4 2.9 5.7 3.1 5.9 3.2 6.3 3.2 6.5 3.1 6.7 3 7 2.9 7.1 2.6 7.3 2.5 7.6 2.3 7.7 2.1 7.9 1.9 8 1.7 8.2 1.6 8.4 1.3 8.5 1.2 8.6 1 8.8 0.8 8.9 0.6 9.1 0.5 9.1 0.4 9.3 0.2 9.5 0.2 9.5 0 9.7 0.1 9.7 0 9.9 0 10 0" stroke="#4DBEEE"/>
<path d="M65.5 559.6l2.2 0.7 3.4 1.3 4 1.8 4.6 2.2 5 2.7 5.4 3 5.7 3.2 5.9 3.2 6.3 3.3 6.5 3.3 6.7 3 7 3 7.1 2.7 7.3 2.5 7.6 2.3 7.7 2.2 7.9 1.9 8 1.8 8.2 1.6 8.4 1.4 8.5 1.2 8.6 1 8.8 0.9 8.9 0.6 9.1 0.5 9.1 0.4 9.3 0.2 9.5 0.1 9.5 0.1 9.7 0.1 9.7 0 9.9 0 10 0" stroke="#A2142F"/>
<path d="M65.5 558.4l2.2 0.7 3.4 1.3 4 1.8 4.6 2.3 5 2.7 5.4 3.1 5.7 3.2 5.9 3.4 6.3 3.4 6.5 3.3 6.7 3.1 7 3 7.1 2.8 7.3 2.6 7.6 2.4 7.7 2.2 7.9 2 8 1.8 8.2 1.6 8.4 1.5 8.5 1.2 8.6 1.1 8.8 0.8 8.9 0.7 9.1 0.5 9.1 0.3 9.3 0.3 9.5 0.1 9.5 0.1 9.7 0.1 9.7 0 9.9 0 10 0" stroke="#0072BD"/>
<path d="M65.5 557.1l2.2 0.7 3.4 1.3 4 1.9 4.6 2.4 5 2.8 5.4 3.1 5.7 3.3 5.9 3.5 6.3 3.4 6.5 3.4 6.7 3.2 7 3.1 7.1 2.9 7.3 2.6 7.6 2.5 7.7 2.2 7.9 2.1 8 1.8 8.2 1.7 8.4 1.4 8.5 1.3 8.6 1.1 8.8 0.9 8.9 0.6 9.1 0.6 9.1 0.3 9.3 0.3 9.5 0.1 9.5 0.1 9.7 0.1 9.7 0 9.9 0 10 0" stroke="#D95319"/>
<path d="M65.5 555.8l2.2 0.7 3.4 1.4 4 1.9 4.6 2.4 5 2.9 5.4 3.2 5.7 3.4 5.9 3.5 6.3 3.6 6.5 3.4 6.7 3.3 7 3.2 7.1 2.9 7.3 2.7 7.6 2.5 7.7 2.3 7.9 2.1 8 1.9 8.2 1.7 8.4 1.5 8.5 1.3 8.6 1.1 8.8 0.9 8.9 0.7 9.1 0.5 9.1 0.4 9.3 0.3 9.5 0.1 9.5 0.1 9.7 0.1 9.7 0 9.9 0 10 0" stroke="#EDB120"/>
<path d="M65.5 554.5l2.2 0.8 3.4 1.4 4 1.9 4.6 2.5 5 2.9 5.4 3.3 5.7 3.5 5.9 3.6 6.3 3.6 6.5 3.6 6.7 3.3 7 3.2 7.1 3 7.3 2.8 7.6 2.6 7.7 2.3 7.9 2.2 8 1.9 8.2 1.8 8.4 1.5 8.5 1.3 8.6 1.1 8.8 1 8.9 0.7 9.1 0.5 9.1 0.4 9.3 0.3 9.5 0.1 9.5 0.1 9.7 0.1 9.7 0 9.9 0 10 0" stroke="#7E2F8E"/>
<path d="M65.5 553.2l2.2 0.8 3.4 1.4 4 2.1 4.6 2.5 5 3 5.4 3.3 5.7 3.6 5.9 3.7 6.3 3.7 6.5 3.6 6.7 3.4 7 3.3 7.1 3.1 7.3 2.8 7.6 2.6 7.7 2.4 7.9 2.2 8 2 8.2 1.8 8.4 1.6 8.5 1.3 8.6 1.2 8.8 0.9 8.9 0.7 9.1 0.6 9.1 0.4 9.3 0.2 9.5 0.2 9.5 0.1 9.7 0.1 9.7 0 9.9 0 10 0" stroke="#77AC30"/>
<path d="M65.5 552l2.2 0.8 3.4 1.4 4 2.1 4.6 2.6 5 3 5.4 3.4 5.7 3.7 5.9 3.7 6.3 3.8 6.5 3.7 6.7 3.5 7 3.4 7.1 3.1 7.3 2.9 7.6 2.7 7.7 2.4 7.9 2.3 8 2 8.2 1.8 8.4 1.6 8.5 1.4 8.6 1.2 8.8 0.9 8.9 0.8 9.1 0.6 9.1 0.4 9.3 0.2 9.5 0.2 9.5 0.1 9.7 0.1 9.7 0 9.9 0 10 0" stroke="#4DBEEE"/>
<path d="M65.5 550.7l2.2 0.8 3.4 1.5 4 2.1 4.6 2.6 5 3.1 5.4 3.5 5.7 3.8 5.9 3.8 6.3 3.9 6.5 3.7 6.7 3.6 7 3.5 7.1 3.2 7.3 2.9 7.6 2.7 7.7 2.6 7.9 2.2 8 2.1 8.2 1.9 8.4 1.6 8.5 1.4 8.6 1.2 8.8 1 8.9 0.8 9.1 0.5 9.1 0.5 9.3 0.2 9.5 0.2 9.5 0.1 9.7 0.1 9.7 0 9.9 0 10 0" stroke="#A2142F"/>
<path d="M65.5 549.4l2.2 0.8 3.4 1.6 4 2.1 4.6 2.7 5 3.2 5.4 3.5 5.7 3.8 5.9 4 6.3 3.9 6.5 3.9 6.7 3.6 7 3.5 7.1 3.3 7.3 3 7.6 2.8 7.7 2.6 7.9 2.3 8 2.1 8.2 1.9 8.4 1.7 8.5 1.4 8.6 1.2 8.8 1 8.9 0.8 9.1 0.6 9.1 0.4 9.3 0.3 9.5 0.2 9.5 0.1 9.7 0.1 9.7 0 9.9 0 10 0" stroke="#0072BD"/>
<path d="M65.5 548.1l2.2 0.9 3.4 1.5 4 2.2 4.6 2.8 5 3.2 5.4 3.6 5.7 3.9 5.9 4 6.3 4.1 6.5 3.9 6.7 3.7 7 3.6 7.1 3.3 7.3 3.1 7.6 2.9 7.7 2.6 7.9 2.4 8 2.1 8.2 1.9 8.4 1.8 8.5 1.4 8.6 1.3 8.8 1 8.9 0.8 9.1 0.6 9.1 0.4 9.3 0.3 9.5 0.2 9.5 0.1 9.7 0.1 9.7 0 9.9 0 10 0" stroke="#D95319"/>
<path d="M65.5 546.9l2.2 0.8 3.4 1.6 4 2.2 4.6 2.8 5 3.4 5.4 3.7 5.7 3.9 5.9 4.1 6.3 4.1 6.5 4 6.7 3.8 7 3.7 7.1 3.4 7.3 3.1 7.6 2.9 7.7 2.7 7.9 2.4 8 2.2 8.2 2 8.4 1.7 8.5 1.5 8.6 1.3 8.8 1 8.9 0.9 9.1 0.6 9.1 0.4 9.3 0.3 9.5 0.2 9.5 0.1 9.7 0.1 9.7 0 9.9 0 10 0" stroke="#EDB120"/>
<path d="M65.5 545.6l2.2 0.9 3.4 1.6 4 2.2 4.6 2.9 5 3.4 5.4 3.8 5.7 4 5.9 4.2 6.3 4.1 6.5 4.1 6.7 3.9 7 3.7 7.1 3.5 7.3 3.2 7.6 3 7.7 2.7 7.9 2.5 8 2.2 8.2 2 8.4 1.8 8.5 1.5 8.6 1.3 8.8 1.1 8.9 0.8 9.1 0.6 9.1 0.5 9.3 0.3 9.5 0.2 9.5 0.1 9.7 0.1 9.7 0 9.9 0 10 0" stroke="#7E2F8E"/>
<path d="M65.5 544.3l2.2 0.9 3.4 1.6 4 2.4 4.6 2.9 5 3.4 5.4 3.9 5.7 4.1 5.9 4.2 6.3 4.3 6.5 4.2 6.7 3.9 7 3.8 7.1 3.5 7.3 3.3 7.6 3 7.7 2.8 7.9 2.5 8 2.3 8.2 2.1 8.4 1.8 8.5 1.5 8.6 1.4 8.8 1 8.9 0.9 9.1 0.6 9.1 0.5 9.3 0.3 9.5 0.2 9.5 0.1 9.7 0.1 9.7 0 9.9 0 10 0" stroke="#77AC30"/>
<path d="M65.5 543l2.2 0.9 3.4 1.7 4 2.4 4.6 2.9 5 3.6 5.4 3.9 5.7 4.2 5.9 4.3 6.3 4.3 6.5 4.3 6.7 4 7 3.9 7.1 3.6 7.3 3.3 7.6 3.1 7.7 2.8 7.9 2.6 8 2.3 8.2 2.1 8.4 1.9 8.5 1.5 8.6 1.4 8.8 1.1 8.9 0.9 9.1 0.6 9.1 0.5 9.3 0.3 9.5 0.2 9.5 0.1 9.7 0.1 9.7 0 9.9 0 10 0" stroke="#4DBEEE"/>
<path d="M65.5 541.8l2.2 0.9 3.4 1.7 4 2.4 4.6 3 5 3.6 5.4 4 5.7 4.3 5.9 4.4 6.3 4.4 6.5 4.3 6.7 4.1 7 4 7.1 3.6 7.3 3.4 7.6 3.2 7.7 2.8 7.9 2.6 8 2.4 8.2 2.1 8.4 1.9 8.5 1.7 8.6 1.3 8.8 1.1 8.9 0.9 9.1 0.7 9.1 0.4 9.3 0.4 9.5 0.2 9.5 0.1 9.7 0.1 9.7 0 9.9 0 10 0" stroke="#A2142F"/>
<path d="M65.5 540.5l2.2 0.9 3.4 1.8 4 2.4 4.6 3.1 5 3.6 5.4 4.1 5.7 4.4 5.9 4.4 6.3 4.5 6.5 4.4 6.7 4.2 7 4 7.1 3.8 7.3 3.4 7.6 3.2 7.7 2.9 7.9 2.7 8 2.4 8.2 2.2 8.4 1.9 8.5 1.7 8.6 1.3 8.8 1.2 8.9 0.9 9.1 0.7 9.1 0.4 9.3 0.4 9.5 0.2 9.5 0.1 9.7 0.1 9.7 0 9.9 0 10 0" stroke="#0072BD"/>
<path d="M65.5 539.2l2.2 1 3.4 1.7 4 2.5 4.6 3.2 5 3.7 5.4 4.1 5.7 4.4 5.9 4.6 6.3 4.6 6.5 4.5 6.7 4.2 7 4.1 7.1 3.8 7.3 3.5 7.6 3.3 7.7 2.9 7.9 2.8 8 2.4 8.2 2.2 8.4 2 8.5 1.7 8.6 1.4 8.8 1.1 8.9 0.9 9.1 0.7 9.1 0.5 9.3 0.4 9.5 0.2 9.5 0.1 9.7 0.1 9.7 0 9.9 0 10 0" stroke="#D95319"/>
<path d="M65.5 537.9l2.2 1 3.4 1.8 4 2.5 4.6 3.2 5 3.8 5.4 4.2 5.7 4.5 5.9 4.7 6.3 4.6 6.5 4.6 6.7 4.3 7 4.2 7.1 3.8 7.3 3.6 7.6 3.3 7.7 3.1 7.9 2.7 8 2.5 8.2 2.3 8.4 1.9 8.5 1.8 8.6 1.4 8.8 1.2 8.9 0.9 9.1 0.7 9.1 0.5 9.3 0.3 9.5 0.3 9.5 0.1 9.7 0.1 9.7 0 9.9 0 10 0" stroke="#EDB120"/>
<path d="M65.5 536.6l2.2 1 3.4 1.9 4 2.5 4.6 3.3 5 3.8 5.4 4.3 5.7 4.6 5.9 4.7 6.3 4.8 6.5 4.6 6.7 4.4 7 4.2 7.1 4 7.3 3.6 7.6 3.4 7.7 3.1 7.9 2.8 8 2.5 8.2 2.3 8.4 2 8.5 1.8 8.6 1.4 8.8 1.2 8.9 1 9.1 0.7 9.1 0.5 9.3 0.3 9.5 0.3 9.5 0.1 9.7 0.1 9.7 0 9.9 0 10 0" stroke="#7E2F8E"/>
<path d="M65.5 535.4l2.2 1 3.4 1.8 4 2.7 4.6 3.3 5 3.9 5.4 4.3 5.7 4.7 5.9 4.8 6.3 4.8 6.5 4.7 6.7 4.5 7 4.3 7.1 4 7.3 3.7 7.6 3.4 7.7 3.2 7.9 2.8 8 2.6 8.2 2.3 8.4 2.1 8.5 1.8 8.6 1.5 8.8 1.2 8.9 0.9 9.1 0.8 9.1 0.5 9.3 0.3 9.5 0.3 9.5 0.1 9.7 0.1 9.7 0 9.9 0 10 0" stroke="#77AC30"/>
<path d="M65.5 534.1l2.2 1 3.4 1.9 4 2.7 4.6 3.3 5 4 5.4 4.4 5.7 4.8 5.9 4.9 6.3 4.9 6.5 4.8 6.7 4.5 7 4.4 7.1 4.1 7.3 3.7 7.6 3.5 7.7 3.2 7.9 2.9 8 2.6 8.2 2.4 8.4 2.1 8.5 1.8 8.6 1.5 8.8 1.2 8.9 1 9.1 0.7 9.1 0.6 9.3 0.3 9.5 0.2 9.5 0.2 9.7 0.1 9.7 0 9.9 0 10 0" stroke="#4DBEEE"/>
<path d="M65.5 532.8l2.2 1.1 3.4 1.9 4 2.7 4.6 3.4 5 4 5.4 4.5 5.7 4.9 5.9 4.9 6.3 5 6.5 4.9 6.7 4.6 7 4.5 7.1 4.1 7.3 3.8 7.6 3.6 7.7 3.2 7.9 2.9 8 2.7 8.2 2.4 8.4 2.1 8.5 1.9 8.6 1.5 8.8 1.3 8.9 1 9.1 0.7 9.1 0.5 9.3 0.4 9.5 0.2 9.5 0.2 9.7 0.1 9.7 0 9.9 0 10 0" stroke="#A2142F"/>
<path d="M65.5 531.5l2.2 1.1 3.4 2 4 2.7 4.6 3.5 5 4.1 5.4 4.6 5.7 4.9 5.9 5 6.3 5.1 6.5 4.9 6.7 4.7 7 4.5 7.1 4.2 7.3 3.9 7.6 3.6 7.7 3.3 7.9 3 8 2.7 8.2 2.5 8.4 2.1 8.5 1.9 8.6 1.5 8.8 1.3 8.9 1 9.1 0.8 9.1 0.5 9.3 0.4 9.5 0.2 9.5 0.2 9.7 0.1 9.7 0 9.9 0 10 0" stroke="#0072BD"/>
<path d="M65.5 530.3l2.2 1 3.4 2 4 2.8 4.6 3.5 5 4.2 5.4 4.7 5.7 4.9 5.9 5.2 6.3 5.1 6.5 5 6.7 4.9 7 4.5 7.1 4.3 7.3 3.9 7.6 3.7 7.7 3.3 7.9 3.1 8 2.7 8.2 2.5 8.4 2.2 8.5 1.9 8.6 1.6 8.8 1.3 8.9 1 9.1 0.8 9.1 0.5 9.3 0.4 9.5 0.2 9.5 0.2 9.7 0.1 9.7 0 9.9 0 10 0" stroke="#D95319"/>
<path d="M65.5 529l2.2 1.1 3.4 2 4 2.8 4.6 3.6 5 4.2 5.4 4.8 5.7 5 5.9 5.2 6.3 5.3 6.5 5.1 6.7 4.9 7 4.6 7.1 4.3 7.3 4 7.6 3.7 7.7 3.4 7.9 3.1 8 2.8 8.2 2.5 8.4 2.3 8.5 1.9 8.6 1.6 8.8 1.3 8.9 1.1 9.1 0.7 9.1 0.6 9.3 0.4 9.5 0.2 9.5 0.2 9.7 0.1 9.7 0 9.9 0 10 0" stroke="#EDB120"/>
<path d="M65.5 527.7l2.2 1.1 3.4 2.1 4 2.8 4.6 3.7 5 4.3 5.4 4.8 5.7 5.1 5.9 5.3 6.3 5.3 6.5 5.2 6.7 5 7 4.7 7.1 4.3 7.3 4.1 7.6 3.8 7.7 3.4 7.9 3.2 8 2.8 8.2 2.6 8.4 2.2 8.5 2 8.6 1.6 8.8 1.4 8.9 1 9.1 0.8 9.1 0.6 9.3 0.4 9.5 0.2 9.5 0.2 9.7 0.1 9.7 0 9.9 0 10 0" stroke="#7E2F8E"/>
<path d="M65.5 526.4l2.2 1.2 3.4 2 4 3 4.6 3.7 5 4.3 5.4 4.9 5.7 5.2 5.9 5.4 6.3 5.3 6.5 5.3 6.7 5.1 7 4.7 7.1 4.5 7.3 4.1 7.6 3.8 7.7 3.5 7.9 3.2 8 2.9 8.2 2.6 8.4 2.3 8.5 2 8.6 1.7 8.8 1.3 8.9 1.1 9.1 0.8 9.1 0.6 9.3 0.4 9.5 0.2 9.5 0.2 9.7 0.1 9.7 0 9.9 0 10 0" stroke="#77AC30"/>
<path d="M65.5 525.2l2.2 1.1 3.4 2.1 4 3 4.6 3.7 5 4.4 5.4 5 5.7 5.3 5.9 5.4 6.3 5.5 6.5 5.3 6.7 5.2 7 4.8 7.1 4.5 7.3 4.2 7.6 3.9 7.7 3.6 7.9 3.2 8 2.9 8.2 2.7 8.4 2.3 8.5 2 8.6 1.7 8.8 1.4 8.9 1.1 9.1 0.8 9.1 0.6 9.3 0.4 9.5 0.2 9.5 0.2 9.7 0.1 9.7 0 9.9 0 10 0" stroke="#4DBEEE"/>
<path d="M65.5 523.9l2.2 1.1 3.4 2.2 4 3 4.6 3.8 5 4.5 5.4 5 5.7 5.4 5.9 5.5 6.3 5.5 6.5 5.5 6.7 5.2 7 4.9 7.1 4.6 7.3 4.2 7.6 4 7.7 3.6 7.9 3.3 8 2.9 8.2 2.7 8.4 2.4 8.5 2 8.6 1.7 8.8 1.4 8.9 1.1 9.1 0.9 9.1 0.5 9.3 0.4 9.5 0.3 9.5 0.2 9.7 0.1 9.7 0 9.9 0 10 0" stroke="#A2142F"/>
<path d="M65.5 522.6l2.2 1.2 3.4 2.2 4 3 4.6 3.9 5 4.5 5.4 5.1 5.7 5.5 5.9 5.6 6.3 5.6 6.5 5.5 6.7 5.3 7 4.9 7.1 4.7 7.3 4.3 7.6 4 7.7 3.7 7.9 3.3 8 3 8.2 2.7 8.4 2.4 8.5 2.1 8.6 1.7 8.8 1.5 8.9 1.1 9.1 0.8 9.1 0.6 9.3 0.4 9.5 0.3 9.5 0.2 9.7 0.1 9.7 0 9.9 0 10 0" stroke="#0072BD"/>
<path d="M65.5 521.3l2.2 1.2 3.4 2.2 4 3.1 4.6 3.9 5 4.7 5.4 5.1 5.7 5.5 5.9 5.7 6.3 5.7 6.5 5.6 6.7 5.4 7 5 7.1 4.7 7.3 4.4 7.6 4.1 7.7 3.7 7.9 3.4 8 3 8.2 2.8 8.4 2.4 8.5 2.1 8.6 1.8 8.8 1.4 8.9 1.2 9.1 0.8 9.1 0.6 9.3 0.4 9.5 0.3 9.5 0.2 9.7 0 9.7 0.1 9.9 0 10 0" stroke="#D95319"/>
<path d="M65.5 520l2.2 1.3 3.4 2.2 4 3.1 4.6 4 5 4.7 5.4 5.2 5.7 5.6 5.9 5.8 6.3 5.8 6.5 5.6 6.7 5.5 7 5.1 7.1 4.8 7.3 4.4 7.6 4.1 7.7 3.8 7.9 3.4 8 3.1 8.2 2.8 8.4 2.5 8.5 2.1 8.6 1.8 8.8 1.5 8.9 1.1 9.1 0.9 9.1 0.6 9.3 0.4 9.5 0.3 9.5 0.2 9.7 0 9.7 0.1 9.9 0 10 0" stroke="#EDB120"/>
<path d="M65.5 518.8l2.2 1.2 3.4 2.3 4 3.2 4.6 4 5 4.7 5.4 5.3 5.7 5.7 5.9 5.9 6.3 5.8 6.5 5.8 6.7 5.5 7 5.2 7.1 4.8 7.3 4.5 7.6 4.2 7.7 3.8 7.9 3.5 8 3.1 8.2 2.9 8.4 2.5 8.5 2.1 8.6 1.8 8.8 1.5 8.9 1.2 9.1 0.9 9.1 0.6 9.3 0.4 9.5 0.3 9.5 0.2 9.7 0 9.7 0.1 9.9 0 10 0" stroke="#7E2F8E"/>
<path d="M65.5 517.5l2.2 1.2 3.4 2.3 4 3.3 4.6 4 5 4.9 5.4 5.3 5.7 5.8 5.9 5.9 6.3 6 6.5 5.8 6.7 5.6 7 5.2 7.1 5 7.3 4.5 7.6 4.2 7.7 3.9 7.9 3.5 8 3.2 8.2 2.9 8.4 2.5 8.5 2.2 8.6 1.9 8.8 1.5 8.9 1.1 9.1 0.9 9.1 0.7 9.3 0.4 9.5 0.3 9.5 0.1 9.7 0.1 9.7 0.1 9.9 0 10 0" stroke="#77AC30"/>
<path d="M65.5 516.2l2.2 1.3 3.4 2.3 4 3.3 4.6 4.1 5 4.9 5.4 5.5 5.7 5.8 5.9 6 6.3 6 6.5 5.9 6.7 5.7 7 5.3 7.1 5 7.3 4.6 7.6 4.3 7.7 3.9 7.9 3.6 8 3.2 8.2 2.9 8.4 2.6 8.5 2.2 8.6 1.9 8.8 1.5 8.9 1.2 9.1 0.9 9.1 0.7 9.3 0.4 9.5 0.3 9.5 0.1 9.7 0.1 9.7 0.1 9.9 0 10 0" stroke="#4DBEEE"/>
<path d="M65.5 514.9l2.2 1.3 3.4 2.4 4 3.3 4.6 4.2 5 4.9 5.4 5.6 5.7 5.9 5.9 6.1 6.3 6.1 6.5 5.9 6.7 5.8 7 5.4 7.1 5 7.3 4.7 7.6 4.4 7.7 3.9 7.9 3.7 8 3.2 8.2 3 8.4 2.6 8.5 2.2 8.6 1.9 8.8 1.6 8.9 1.2 9.1 0.9 9.1 0.6 9.3 0.5 9.5 0.3 9.5 0.1 9.7 0.1 9.7 0.1 9.9 0 10 0" stroke="#A2142F"/>
<path d="M65.5 513.7l2.2 1.3 3.4 2.4 4 3.3 4.6 4.3 5 5 5.4 5.6 5.7 6 5.9 6.1 6.3 6.2 6.5 6.1 6.7 5.8 7 5.4 7.1 5.2 7.3 4.7 7.6 4.4 7.7 4 7.9 3.7 8 3.3 8.2 3 8.4 2.7 8.5 2.2 8.6 1.9 8.8 1.6 8.9 1.2 9.1 1 9.1 0.6 9.3 0.5 9.5 0.3 9.5 0.1 9.7 0.1 9.7 0.1 9.9 0 10 0" stroke="#0072BD"/>
<path d="M65.5 512.4l2.2 1.3 3.4 2.4 4 3.4 4.6 4.3 5 5.1 5.4 5.7 5.7 6 5.9 6.3 6.3 6.3 6.5 6.1 6.7 5.9 7 5.5 7.1 5.2 7.3 4.8 7.6 4.5 7.7 4.1 7.9 3.7 8 3.3 8.2 3.1 8.4 2.6 8.5 2.3 8.6 2 8.8 1.6 8.9 1.2 9.1 0.9 9.1 0.7 9.3 0.5 9.5 0.3 9.5 0.1 9.7 0.1 9.7 0.1 9.9 0 10 0" stroke="#D95319"/>
<path d="M65.5 511.1l2.2 1.3 3.4 2.5 4 3.4 4.6 4.4 5 5.1 5.4 5.8 5.7 6.1 5.9 6.4 6.3 6.3 6.5 6.2 6.7 6 7 5.6 7.1 5.2 7.3 4.9 7.6 4.5 7.7 4.2 7.9 3.7 8 3.4 8.2 3.1 8.4 2.7 8.5 2.3 8.6 2 8.8 1.6 8.9 1.3 9.1 0.9 9.1 0.7 9.3 0.5 9.5 0.3 9.5 0.1 9.7 0.1 9.7 0.1 9.9 0 10 0" stroke="#EDB120"/>
<path d="M65.5 509.8l2.2 1.4 3.4 2.5 4 3.5 4.6 4.4 5 5.2 5.4 5.8 5.7 6.2 5.9 6.4 6.3 6.5 6.5 6.2 6.7 6.1 7 5.7 7.1 5.3 7.3 4.9 7.6 4.6 7.7 4.2 7.9 3.8 8 3.4 8.2 3.1 8.4 2.8 8.5 2.3 8.6 2 8.8 1.7 8.9 1.2 9.1 1 9.1 0.7 9.3 0.5 9.5 0.3 9.5 0.1 9.7 0.1 9.7 0.1 9.9 0 10 0" stroke="#7E2F8E"/>
<path d="M65.5 508.6l2.2 1.3 3.4 2.5 4 3.6 4.6 4.4 5 5.3 5.4 5.9 5.7 6.3 5.9 6.5 6.3 6.5 6.5 6.4 6.7 6.1 7 5.7 7.1 5.4 7.3 5 7.6 4.6 7.7 4.3 7.9 3.8 8 3.5 8.2 3.2 8.4 2.7 8.5 2.4 8.6 2.1 8.8 1.6 8.9 1.3 9.1 1 9.1 0.7 9.3 0.4 9.5 0.3 9.5 0.2 9.7 0.1 9.7 0.1 9.9 0 10 0" stroke="#77AC30"/>
<path d="M65.5 507.3l2.2 1.4 3.4 2.5 4 3.6 4.6 4.5 5 5.3 5.4 6 5.7 6.4 5.9 6.6 6.3 6.5 6.5 6.5 6.7 6.2 7 5.8 7.1 5.5 7.3 5 7.6 4.7 7.7 4.3 7.9 3.9 8 3.5 8.2 3.2 8.4 2.8 8.5 2.4 8.6 2.1 8.8 1.7 8.9 1.3 9.1 0.9 9.1 0.8 9.3 0.4 9.5 0.3 9.5 0.2 9.7 0.1 9.7 0.1 9.9 0 10 0" stroke="#4DBEEE"/>
<path d="M65.5 506l2.2 1.4 3.4 2.6 4 3.6 4.6 4.6 5 5.4 5.4 6 5.7 6.5 5.9 6.6 6.3 6.7 6.5 6.5 6.7 6.3 7 5.9 7.1 5.5 7.3 5.1 7.6 4.8 7.7 4.3 7.9 4 8 3.5 8.2 3.3 8.4 2.8 8.5 2.4 8.6 2.1 8.8 1.7 8.9 1.3 9.1 1 9.1 0.7 9.3 0.5 9.5 0.3 9.5 0.2 9.7 0.1 9.7 0.1 9.9 0 10 0" stroke="#A2142F"/>
<path d="M65.5 504.7l2.2 1.5 3.4 2.6 4 3.6 4.6 4.6 5 5.5 5.4 6.1 5.7 6.6 5.9 6.7 6.3 6.7 6.5 6.6 6.7 6.4 7 5.9 7.1 5.6 7.3 5.2 7.6 4.8 7.7 4.4 7.9 4 8 3.6 8.2 3.3 8.4 2.9 8.5 2.5 8.6 2 8.8 1.8 8.9 1.3 9.1 1 9.1 0.7 9.3 0.5 9.5 0.3 9.5 0.2 9.7 0.1 9.7 0.1 9.9 0 10 0" stroke="#0072BD"/>
<path d="M65.5 503.5l2.2 1.4 3.4 2.6 4 3.7 4.6 4.7 5 5.5 5.4 6.2 5.7 6.6 5.9 6.9 6.3 6.8 6.5 6.7 6.7 6.4 7 6 7.1 5.7 7.3 5.2 7.6 4.9 7.7 4.4 7.9 4.1 8 3.6 8.2 3.3 8.4 2.9 8.5 2.6 8.6 2.1 8.8 1.7 8.9 1.4 9.1 1 9.1 0.7 9.3 0.5 9.5 0.3 9.5 0.2 9.7 0.1 9.7 0.1 9.9 0 10 0" stroke="#D95319"/>
<path d="M65.5 502.2l2.2 1.4 3.4 2.7 4 3.7 4.6 4.8 5 5.6 5.4 6.2 5.7 6.7 5.9 6.9 6.3 6.9 6.5 6.8 6.7 6.5 7 6.1 7.1 5.7 7.3 5.3 7.6 4.9 7.7 4.5 7.9 4.1 8 3.7 8.2 3.4 8.4 2.9 8.5 2.6 8.6 2.1 8.8 1.8 8.9 1.3 9.1 1.1 9.1 0.7 9.3 0.5 9.5 0.3 9.5 0.2 9.7 0.1 9.7 0.1 9.9 0 10 0" stroke="#EDB120"/>
<path d="M65.5 500.9l2.2 1.5 3.4 2.7 4 3.8 4.6 4.8 5 5.6 5.4 6.3 5.7 6.8 5.9 7 6.3 7 6.5 6.8 6.7 6.6 7 6.2 7.1 5.8 7.3 5.3 7.6 5 7.7 4.5 7.9 4.2 8 3.7 8.2 3.4 8.4 3 8.5 2.6 8.6 2.1 8.8 1.8 8.9 1.4 9.1 1 9.1 0.8 9.3 0.5 9.5 0.3 9.5 0.2 9.7 0.1 9.7 0.1 9.9 0 10 0" stroke="#7E2F8E"/>
<path d="M65.5 499.6l2.2 1.5 3.4 2.7 4 3.9 4.6 4.8 5 5.8 5.4 6.4 5.7 6.8 5.9 7.1 6.3 7 6.5 6.9 6.7 6.7 7 6.2 7.1 5.9 7.3 5.4 7.6 5 7.7 4.7 7.9 4.1 8 3.8 8.2 3.5 8.4 3 8.5 2.6 8.6 2.2 8.8 1.7 8.9 1.5 9.1 1 9.1 0.8 9.3 0.5 9.5 0.3 9.5 0.2 9.7 0.1 9.7 0.1 9.9 0 10 0" stroke="#77AC30"/>
<path d="M65.5 498.3l2.2 1.6 3.4 2.7 4 3.9 4.6 4.9 5 5.8 5.4 6.5 5.7 6.9 5.9 7.1 6.3 7.2 6.5 7 6.7 6.7 7 6.3 7.1 5.9 7.3 5.5 7.6 5.1 7.7 4.7 7.9 4.2 8 3.9 8.2 3.4 8.4 3 8.5 2.7 8.6 2.2 8.8 1.8 8.9 1.4 9.1 1.1 9.1 0.8 9.3 0.5 9.5 0.3 9.5 0.2 9.7 0.1 9.7 0.1 9.9 0 10 0" stroke="#4DBEEE"/>
<path d="M65.5 497.1l2.2 1.5 3.4 2.8 4 3.9 4.6 5 5 5.8 5.4 6.6 5.7 7 5.9 7.2 6.3 7.2 6.5 7.1 6.7 6.8 7 6.4 7.1 6 7.3 5.5 7.6 5.2 7.7 4.7 7.9 4.3 8 3.9 8.2 3.4 8.4 3.1 8.5 2.7 8.6 2.2 8.8 1.8 8.9 1.5 9.1 1.1 9.1 0.7 9.3 0.6 9.5 0.3 9.5 0.2 9.7 0.1 9.7 0.1 9.9 0 10 0" stroke="#A2142F"/>
<path d="M65.5 495.8l2.2 1.5 3.4 2.9 4 3.9 4.6 5 5 6 5.4 6.6 5.7 7.1 5.9 7.3 6.3 7.3 6.5 7.1 6.7 6.9 7 6.4 7.1 6.1 7.3 5.6 7.6 5.2 7.7 4.8 7.9 4.3 8 4 8.2 3.5 8.4 3.1 8.5 2.7 8.6 2.2 8.8 1.9 8.9 1.4 9.1 1.1 9.1 0.8 9.3 0.6 9.5 0.3 9.5 0.2 9.7 0.1 9.7 0.1 9.9 0 10 0" stroke="#0072BD"/>
<path d="M65.5 494.5l2.2 1.6 3.4 2.8 4 4 4.6 5.1 5 6 5.4 6.7 5.7 7.1 5.9 7.4 6.3 7.4 6.5 7.2 6.7 7 7 6.5 7.1 6.2 7.3 5.6 7.6 5.3 7.7 4.8 7.9 4.4 8 4 8.2 3.5 8.4 3.2 8.5 2.7 8.6 2.3 8.8 1.8 8.9 1.5 9.1 1.1 9.1 0.8 9.3 0.5 9.5 0.4 9.5 0.2 9.7 0.1 9.7 0.1 9.9 0 10 0" stroke="#D95319"/>
<path d="M65.5 493.2l2.2 1.6 3.4 2.9 4 4 4.6 5.2 5 6 5.4 6.8 5.7 7.2 5.9 7.5 6.3 7.5 6.5 7.3 6.7 7 7 6.6 7.1 6.2 7.3 5.7 7.6 5.3 7.7 4.9 7.9 4.4 8 4.1 8.2 3.6 8.4 3.1 8.5 2.8 8.6 2.3 8.8 1.9 8.9 1.5 9.1 1.1 9.1 0.8 9.3 0.5 9.5 0.4 9.5 0.2 9.7 0.1 9.7 0.1 9.9 0 10 0" stroke="#EDB120"/>
<path d="M65.5 492l2.2 1.6 3.4 2.9 4 4.1 4.6 5.1 5 6.2 5.4 6.8 5.7 7.3 5.9 7.6 6.3 7.5 6.5 7.4 6.7 7.1 7 6.7 7.1 6.2 7.3 5.8 7.6 5.4 7.7 4.9 7.9 4.5 8 4.1 8.2 3.6 8.4 3.2 8.5 2.8 8.6 2.3 8.8 1.9 8.9 1.5 9.1 1.2 9.1 0.8 9.3 0.5 9.5 0.4 9.5 0.2 9.7 0.1 9.7 0.1 9.9 0 10 0" stroke="#7E2F8E"/>
<path d="M65.5 490.7l2.2 1.6 3.4 2.9 4 4.2 4.6 5.2 5 6.2 5.4 6.9 5.7 7.4 5.9 7.6 6.3 7.7 6.5 7.4 6.7 7.2 7 6.7 7.1 6.4 7.3 5.8 7.6 5.5 7.7 4.9 7.9 4.6 8 4.1 8.2 3.6 8.4 3.3 8.5 2.8 8.6 2.4 8.8 1.9 8.9 1.5 9.1 1.1 9.1 0.9 9.3 0.5 9.5 0.4 9.5 0.2 9.7 0.1 9.7 0.1 9.9 0 10 0" stroke="#77AC30"/>
<path d="M65.5 489.4l2.2 1.6 3.4 3 4 4.2 4.6 5.3 5 6.2 5.4 7 5.7 7.5 5.9 7.7 6.3 7.7 6.5 7.5 6.7 7.3 7 6.8 7.1 6.4 7.3 5.9 7.6 5.5 7.7 5 7.9 4.6 8 4.2 8.2 3.7 8.4 3.3 8.5 2.8 8.6 2.4 8.8 1.9 8.9 1.6 9.1 1.1 9.1 0.9 9.3 0.5 9.5 0.4 9.5 0.2 9.7 0.1 9.7 0.1 9.9 0 10 0" stroke="#4DBEEE"/>
<path d="M65.5 488.1l2.2 1.7 3.4 3 4 4.2 4.6 5.4 5 6.3 5.4 7 5.7 7.6 5.9 7.8 6.3 7.7 6.5 7.7 6.7 7.3 7 6.9 7.1 6.4 7.3 6 7.6 5.6 7.7 5 7.9 4.7 8 4.2 8.2 3.7 8.4 3.3 8.5 2.9 8.6 2.4 8.8 2 8.9 1.5 9.1 1.2 9.1 0.8 9.3 0.6 9.5 0.4 9.5 0.2 9.7 0.1 9.7 0.1 9.9 0 10 0" stroke="#A2142F"/>
<path d="M65.5 486.9l2.2 1.6 3.4 3.1 4 4.2 4.6 5.4 5 6.4 5.4 7.1 5.7 7.7 5.9 7.8 6.3 7.9 6.5 7.7 6.7 7.4 7 7 7.1 6.5 7.3 6 7.6 5.6 7.7 5.1 7.9 4.7 8 4.3 8.2 3.8 8.4 3.3 8.5 2.9 8.6 2.4 8.8 2 8.9 1.6 9.1 1.2 9.1 0.8 9.3 0.6 9.5 0.4 9.5 0.2 9.7 0.1 9.7 0.1 9.9 0 10 0" stroke="#0072BD"/>
<path d="M65.5 485.6l2.2 1.7 3.4 3 4 4.3 4.6 5.5 5 6.4 5.4 7.2 5.7 7.7 5.9 8 6.3 7.9 6.5 7.8 6.7 7.5 7 7 7.1 6.6 7.3 6.1 7.6 5.7 7.7 5.2 7.9 4.7 8 4.3 8.2 3.8 8.4 3.4 8.5 2.9 8.6 2.5 8.8 2 8.9 1.6 9.1 1.2 9.1 0.8 9.3 0.6 9.5 0.4 9.5 0.2 9.7 0.1 9.7 0.1 9.9 0 10 0" stroke="#D95319"/>
<path d="M65.5 484.3l2.2 1.7 3.4 3.1 4 4.4 4.6 5.5 5 6.5 5.4 7.3 5.7 7.7 5.9 8.1 6.3 8 6.5 7.8 6.7 7.6 7 7.1 7.1 6.7 7.3 6.1 7.6 5.7 7.7 5.3 7.9 4.7 8 4.4 8.2 3.8 8.4 3.4 8.5 3 8.6 2.5 8.8 2 8.9 1.6 9.1 1.2 9.1 0.9 9.3 0.6 9.5 0.4 9.5 0.2 9.7 0.1 9.7 0.1 9.9 0 10 0 146 0.1" stroke="#EDB120" stroke-width="2.5"/></g>
<line class="dsh" x1="307" y1="765.7" x2="307" y2="612.9"/>
<g class="tl"><text x="58.5" y="464" text-anchor="end">12</text><text x="58.5" y="540.9" text-anchor="end">6</text><text x="58.5" y="617.9" text-anchor="end">0</text><text x="58.5" y="694.8" text-anchor="end">−6</text><text x="58.5" y="771.7" text-anchor="end">−12</text><text x="65.5" y="786.2" text-anchor="middle">0</text><text x="163.4" y="786.2" text-anchor="middle">0.3</text><text x="261.2" y="786.2" text-anchor="middle">0.6</text><text x="359.1" y="786.2" text-anchor="middle">0.9</text><text x="457" y="786.2" text-anchor="middle">1.2</text></g>
<text class="xl" x="261.2" y="815.7" text-anchor="middle">Time (s)</text>
<text class="xl yl" transform="translate(18.0 611.9) rotate(-90)" text-anchor="middle">Angle of sideslip (deg)</text>
<text class="pl" x="-0.6" y="453.3">(b)</text>
<text class="cap" x="96.9" y="849.7" textLength="86.5" lengthAdjust="spacingAndGlyphs">Response</text>
<text class="cap" x="187.5" y="849.7" textLength="19.7" lengthAdjust="spacingAndGlyphs">of</text>
<text class="cap" x="210.6" y="849.7" textLength="38.6" lengthAdjust="spacingAndGlyphs">yaw</text>
<text class="cap" x="253.9" y="849.7" textLength="70.4" lengthAdjust="spacingAndGlyphs">channel</text>
<text class="cap" x="328.8" y="849.7" textLength="47.5" lengthAdjust="spacingAndGlyphs">when</text>
<text class="cap beta" transform="translate(386 849.7) skewX(-14)" x="0" y="0">β</text>
<text class="cap" x="397.6" y="849.7" textLength="14.5" lengthAdjust="spacingAndGlyphs">=</text>
<text class="cap" x="413.5" y="849.7" font-style="italic">5</text>
<g class="grid"><line x1="163.4" y1="1192.3" x2="163.4" y2="884"/><line x1="261.2" y1="1192.3" x2="261.2" y2="884"/><line x1="359.1" y1="1192.3" x2="359.1" y2="884"/><line x1="457" y1="961.1" x2="65.5" y2="961.1"/><line x1="457" y1="1038.2" x2="65.5" y2="1038.2"/><line x1="457" y1="1115.2" x2="65.5" y2="1115.2"/></g>
<path class="bump" d="M65.5 1192.3H457"/>
<path class="bump bt" d="M65.5 883.5H457"/>
<path class="bumpv" d="M457 884V1192.3"/>
<rect class="ax" x="65.5" y="884" width="391.5" height="308.3"/>
<path class="tk" d="M163.4 1192.3v-4.5M163.4 884v4.5M261.2 1192.3v-4.5M261.2 884v4.5M359.1 1192.3v-4.5M359.1 884v4.5M65.5 961.1h4.5M457 961.1h-4.5M65.5 1038.2h4.5M457 1038.2h-4.5M65.5 1115.2h4.5M457 1115.2h-4.5"/>
<g class="crv"><path d="M65.5 1152.8l2.9 -0.2 4.5 -0.2 5.4 -0.9 6.1 -2.6 6.6 -5.2 7.1 -8.3 7.5 -11.1 8 -13 8.2 -13.9 8.6 -14 9 -13.3 9.2 -12.6 9.5 -11.7 9.7 -10.9 10 -10.3 10.2 -9.8 10.4 -9.1 10.7 -8.2 10.9 -7.2 11.1 -5.9 11.2 -4.6 11.5 -3.5 11.6 -2.7 11.9 -2 12 -1.7 12.1 -1.7 12.4 -1.9 12.4 -1.9 12.7 -1.7 12.8 -1 13 -0.4 13.1 -0.2 13.2 0" stroke="#0072BD" stroke-width="1.8"/>
<path d="M65.5 1151.6l2.9 -0.2 4.5 -0.2 5.4 -0.8 6.1 -2.6 6.6 -5.2 7.1 -8.3 7.5 -10.9 8 -13 8.2 -13.8 8.6 -13.9 9 -13.3 9.2 -12.5 9.5 -11.6 9.7 -10.8 10 -10.3 10.2 -9.7 10.4 -9.1 10.7 -8.1 10.9 -7.1 11.1 -5.9 11.2 -4.6 11.5 -3.5 11.6 -2.6 11.9 -2 12 -1.7 12.1 -1.7 12.4 -1.9 12.4 -2 12.7 -1.6 12.8 -1 13 -0.4 13.1 -0.2 13.2 0" stroke="#D95319"/>
<path d="M65.5 1150.5l2.9 -0.2 4.5 -0.2 5.4 -0.9 6.1 -2.5 6.6 -5.2 7.1 -8.2 7.5 -10.9 8 -12.9 8.2 -13.7 8.6 -13.8 9 -13.3 9.2 -12.3 9.5 -11.6 9.7 -10.8 10 -10.2 10.2 -9.6 10.4 -9 10.7 -8.2 10.9 -7 11.1 -5.8 11.2 -4.6 11.5 -3.5 11.6 -2.6 11.9 -2 12 -1.7 12.1 -1.7 12.4 -1.8 12.4 -2 12.7 -1.6 12.8 -1 13 -0.4 13.1 -0.2 13.2 0" stroke="#EDB120"/>
<path d="M65.5 1149.3l2.9 -0.2 4.5 -0.2 5.4 -0.8 6.1 -2.6 6.6 -5.1 7.1 -8.2 7.5 -10.8 8 -12.8 8.2 -13.7 8.6 -13.7 9 -13.1 9.2 -12.3 9.5 -11.5 9.7 -10.7 10 -10.2 10.2 -9.6 10.4 -8.9 10.7 -8.1 10.9 -7 11.1 -5.8 11.2 -4.5 11.5 -3.5 11.6 -2.6 11.9 -2 12 -1.6 12.1 -1.7 12.4 -1.9 12.4 -1.9 12.7 -1.6 12.8 -1 13 -0.4 13.1 -0.2 13.2 0" stroke="#7E2F8E"/>
<path d="M65.5 1148.2l2.9 -0.2 4.5 -0.2 5.4 -0.9 6.1 -2.5 6.6 -5.1 7.1 -8.1 7.5 -10.8 8 -12.7 8.2 -13.6 8.6 -13.6 9 -13.1 9.2 -12.2 9.5 -11.4 9.7 -10.7 10 -10.1 10.2 -9.5 10.4 -8.9 10.7 -8 10.9 -7 11.1 -5.7 11.2 -4.6 11.5 -3.4 11.6 -2.6 11.9 -1.9 12 -1.7 12.1 -1.7 12.4 -1.8 12.4 -1.9 12.7 -1.6 12.8 -1 13 -0.4 13.1 -0.2 13.2 0" stroke="#77AC30"/>
<path d="M65.5 1147l2.9 -0.2 4.5 -0.2 5.4 -0.8 6.1 -2.5 6.6 -5.1 7.1 -8.1 7.5 -10.7 8 -12.6 8.2 -13.5 8.6 -13.6 9 -12.9 9.2 -12.2 9.5 -11.3 9.7 -10.6 10 -10 10.2 -9.5 10.4 -8.8 10.7 -8 10.9 -6.9 11.1 -5.8 11.2 -4.5 11.5 -3.4 11.6 -2.6 11.9 -1.9 12 -1.7 12.1 -1.6 12.4 -1.8 12.4 -1.9 12.7 -1.6 12.8 -1 13 -0.4 13.1 -0.2 13.2 0" stroke="#4DBEEE"/>
<path d="M65.5 1145.9l2.9 -0.3 4.5 -0.2 5.4 -0.8 6.1 -2.5 6.6 -5 7.1 -8 7.5 -10.7 8 -12.5 8.2 -13.4 8.6 -13.5 9 -12.9 9.2 -12.1 9.5 -11.2 9.7 -10.6 10 -9.9 10.2 -9.4 10.4 -8.8 10.7 -7.9 10.9 -6.9 11.1 -5.7 11.2 -4.5 11.5 -3.4 11.6 -2.5 11.9 -2 12 -1.6 12.1 -1.6 12.4 -1.9 12.4 -1.9 12.7 -1.5 12.8 -1 13 -0.4 13.1 -0.2 13.2 0" stroke="#A2142F"/>
<path d="M65.5 1144.7l2.9 -0.2 4.5 -0.2 5.4 -0.8 6.1 -2.5 6.6 -5 7.1 -8 7.5 -10.6 8 -12.4 8.2 -13.4 8.6 -13.3 9 -12.9 9.2 -12 9.5 -11.1 9.7 -10.5 10 -9.9 10.2 -9.4 10.4 -8.7 10.7 -7.9 10.9 -6.8 11.1 -5.6 11.2 -4.5 11.5 -3.4 11.6 -2.5 11.9 -1.9 12 -1.7 12.1 -1.6 12.4 -1.8 12.4 -1.9 12.7 -1.6 12.8 -0.9 13 -0.4 13.1 -0.2 13.2 0" stroke="#0072BD"/>
<path d="M65.5 1143.5l2.9 -0.2 4.5 -0.2 5.4 -0.8 6.1 -2.5 6.6 -4.9 7.1 -7.9 7.5 -10.5 8 -12.4 8.2 -13.3 8.6 -13.3 9 -12.7 9.2 -11.9 9.5 -11.2 9.7 -10.4 10 -9.8 10.2 -9.3 10.4 -8.7 10.7 -7.8 10.9 -6.8 11.1 -5.6 11.2 -4.4 11.5 -3.4 11.6 -2.5 11.9 -1.9 12 -1.6 12.1 -1.6 12.4 -1.8 12.4 -1.9 12.7 -1.6 12.8 -0.9 13 -0.4 13.1 -0.2 13.2 0" stroke="#D95319"/>
<path d="M65.5 1142.4l2.9 -0.2 4.5 -0.2 5.4 -0.8 6.1 -2.5 6.6 -4.9 7.1 -7.9 7.5 -10.4 8 -12.3 8.2 -13.2 8.6 -13.2 9 -12.7 9.2 -11.8 9.5 -11.1 9.7 -10.3 10 -9.8 10.2 -9.2 10.4 -8.6 10.7 -7.8 10.9 -6.7 11.1 -5.6 11.2 -4.4 11.5 -3.4 11.6 -2.5 11.9 -1.9 12 -1.6 12.1 -1.6 12.4 -1.8 12.4 -1.8 12.7 -1.6 12.8 -0.9 13 -0.4 13.1 -0.2 13.2 0" stroke="#EDB120"/>
<path d="M65.5 1141.2l2.9 -0.2 4.5 -0.2 5.4 -0.8 6.1 -2.4 6.6 -5 7.1 -7.7 7.5 -10.4 8 -12.2 8.2 -13.1 8.6 -13.2 9 -12.5 9.2 -11.8 9.5 -11 9.7 -10.3 10 -9.7 10.2 -9.1 10.4 -8.6 10.7 -7.7 10.9 -6.7 11.1 -5.6 11.2 -4.3 11.5 -3.4 11.6 -2.4 11.9 -1.9 12 -1.6 12.1 -1.6 12.4 -1.8 12.4 -1.8 12.7 -1.6 12.8 -0.9 13 -0.4 13.1 -0.2 13.2 0" stroke="#7E2F8E"/>
<path d="M65.5 1140.1l2.9 -0.2 4.5 -0.2 5.4 -0.8 6.1 -2.5 6.6 -4.9 7.1 -7.7 7.5 -10.3 8 -12.1 8.2 -13 8.6 -13.1 9 -12.5 9.2 -11.7 9.5 -10.9 9.7 -10.2 10 -9.6 10.2 -9.2 10.4 -8.5 10.7 -7.6 10.9 -6.7 11.1 -5.5 11.2 -4.3 11.5 -3.3 11.6 -2.5 11.9 -1.9 12 -1.6 12.1 -1.6 12.4 -1.7 12.4 -1.9 12.7 -1.5 12.8 -0.9 13 -0.4 13.1 -0.2 13.2 0" stroke="#77AC30"/>
<path d="M65.5 1138.9l2.9 -0.2 4.5 -0.2 5.4 -0.8 6.1 -2.4 6.6 -4.9 7.1 -7.6 7.5 -10.3 8 -12 8.2 -13 8.6 -12.9 9 -12.4 9.2 -11.7 9.5 -10.8 9.7 -10.1 10 -9.6 10.2 -9.1 10.4 -8.4 10.7 -7.7 10.9 -6.6 11.1 -5.4 11.2 -4.4 11.5 -3.2 11.6 -2.5 11.9 -1.8 12 -1.6 12.1 -1.6 12.4 -1.8 12.4 -1.8 12.7 -1.5 12.8 -0.9 13 -0.4 13.1 -0.2 13.2 0" stroke="#4DBEEE"/>
<path d="M65.5 1137.7l2.9 -0.2 4.5 -0.1 5.4 -0.8 6.1 -2.4 6.6 -4.9 7.1 -7.6 7.5 -10.2 8 -12 8.2 -12.8 8.6 -12.9 9 -12.3 9.2 -11.6 9.5 -10.7 9.7 -10.1 10 -9.5 10.2 -9 10.4 -8.4 10.7 -7.6 10.9 -6.6 11.1 -5.4 11.2 -4.3 11.5 -3.2 11.6 -2.5 11.9 -1.8 12 -1.6 12.1 -1.5 12.4 -1.8 12.4 -1.8 12.7 -1.5 12.8 -0.9 13 -0.4 13.1 -0.2 13.2 0" stroke="#A2142F"/>
<path d="M65.5 1136.6l2.9 -0.2 4.5 -0.2 5.4 -0.8 6.1 -2.4 6.6 -4.8 7.1 -7.6 7.5 -10.1 8 -11.9 8.2 -12.7 8.6 -12.8 9 -12.3 9.2 -11.4 9.5 -10.7 9.7 -10 10 -9.5 10.2 -8.9 10.4 -8.4 10.7 -7.5 10.9 -6.5 11.1 -5.4 11.2 -4.3 11.5 -3.2 11.6 -2.4 11.9 -1.9 12 -1.5 12.1 -1.6 12.4 -1.7 12.4 -1.8 12.7 -1.5 12.8 -0.9 13 -0.4 13.1 -0.2 13.2 0" stroke="#0072BD"/>
<path d="M65.5 1135.4l2.9 -0.2 4.5 -0.2 5.4 -0.7 6.1 -2.4 6.6 -4.8 7.1 -7.5 7.5 -10 8 -11.9 8.2 -12.6 8.6 -12.7 9 -12.2 9.2 -11.4 9.5 -10.6 9.7 -10 10 -9.4 10.2 -8.9 10.4 -8.2 10.7 -7.5 10.9 -6.5 11.1 -5.4 11.2 -4.2 11.5 -3.2 11.6 -2.4 11.9 -1.8 12 -1.6 12.1 -1.5 12.4 -1.7 12.4 -1.8 12.7 -1.5 12.8 -1 13 -0.3 13.1 -0.2 13.2 0" stroke="#D95319"/>
<path d="M65.5 1134.3l2.9 -0.2 4.5 -0.2 5.4 -0.8 6.1 -2.3 6.6 -4.8 7.1 -7.5 7.5 -9.9 8 -11.8 8.2 -12.6 8.6 -12.6 9 -12.1 9.2 -11.3 9.5 -10.5 9.7 -9.9 10 -9.4 10.2 -8.8 10.4 -8.2 10.7 -7.4 10.9 -6.5 11.1 -5.3 11.2 -4.2 11.5 -3.2 11.6 -2.4 11.9 -1.8 12 -1.5 12.1 -1.6 12.4 -1.7 12.4 -1.8 12.7 -1.4 12.8 -1 13 -0.3 13.1 -0.2 13.2 0" stroke="#EDB120"/>
<path d="M65.5 1133.1l2.9 -0.2 4.5 -0.2 5.4 -0.7 6.1 -2.4 6.6 -4.7 7.1 -7.4 7.5 -9.9 8 -11.7 8.2 -12.5 8.6 -12.5 9 -12 9.2 -11.3 9.5 -10.5 9.7 -9.8 10 -9.2 10.2 -8.8 10.4 -8.2 10.7 -7.4 10.9 -6.4 11.1 -5.3 11.2 -4.1 11.5 -3.2 11.6 -2.4 11.9 -1.8 12 -1.5 12.1 -1.5 12.4 -1.7 12.4 -1.8 12.7 -1.5 12.8 -0.9 13 -0.3 13.1 -0.2 13.2 0" stroke="#7E2F8E"/>
<path d="M65.5 1132l2.9 -0.2 4.5 -0.2 5.4 -0.8 6.1 -2.3 6.6 -4.7 7.1 -7.4 7.5 -9.8 8 -11.6 8.2 -12.4 8.6 -12.5 9 -11.9 9.2 -11.2 9.5 -10.4 9.7 -9.7 10 -9.2 10.2 -8.7 10.4 -8.1 10.7 -7.4 10.9 -6.3 11.1 -5.3 11.2 -4.1 11.5 -3.2 11.6 -2.3 11.9 -1.8 12 -1.5 12.1 -1.6 12.4 -1.6 12.4 -1.8 12.7 -1.5 12.8 -0.9 13 -0.3 13.1 -0.2 13.2 0" stroke="#77AC30"/>
<path d="M65.5 1130.8l2.9 -0.2 4.5 -0.2 5.4 -0.7 6.1 -2.3 6.6 -4.7 7.1 -7.3 7.5 -9.8 8 -11.5 8.2 -12.3 8.6 -12.4 9 -11.9 9.2 -11.1 9.5 -10.3 9.7 -9.7 10 -9.1 10.2 -8.7 10.4 -8 10.7 -7.3 10.9 -6.3 11.1 -5.2 11.2 -4.2 11.5 -3.1 11.6 -2.3 11.9 -1.8 12 -1.5 12.1 -1.5 12.4 -1.7 12.4 -1.7 12.7 -1.5 12.8 -0.9 13 -0.4 13.1 -0.1 13.2 0" stroke="#4DBEEE"/>
<path d="M65.5 1129.6l2.9 -0.2 4.5 -0.1 5.4 -0.8 6.1 -2.3 6.6 -4.6 7.1 -7.3 7.5 -9.7 8 -11.4 8.2 -12.3 8.6 -12.2 9 -11.8 9.2 -11 9.5 -10.3 9.7 -9.6 10 -9.1 10.2 -8.6 10.4 -8 10.7 -7.2 10.9 -6.3 11.1 -5.2 11.2 -4.1 11.5 -3.1 11.6 -2.3 11.9 -1.8 12 -1.5 12.1 -1.5 12.4 -1.6 12.4 -1.7 12.7 -1.5 12.8 -0.9 13 -0.4 13.1 -0.1 13.2 0" stroke="#A2142F"/>
<path d="M65.5 1128.5l2.9 -0.2 4.5 -0.2 5.4 -0.7 6.1 -2.3 6.6 -4.6 7.1 -7.2 7.5 -9.7 8 -11.3 8.2 -12.2 8.6 -12.2 9 -11.7 9.2 -10.9 9.5 -10.2 9.7 -9.6 10 -9 10.2 -8.5 10.4 -8 10.7 -7.1 10.9 -6.3 11.1 -5.1 11.2 -4.1 11.5 -3.1 11.6 -2.3 11.9 -1.7 12 -1.5 12.1 -1.5 12.4 -1.6 12.4 -1.8 12.7 -1.4 12.8 -0.9 13 -0.4 13.1 -0.1 13.2 0" stroke="#0072BD"/>
<path d="M65.5 1127.3l2.9 -0.2 4.5 -0.1 5.4 -0.8 6.1 -2.2 6.6 -4.6 7.1 -7.2 7.5 -9.6 8 -11.2 8.2 -12.1 8.6 -12.1 9 -11.6 9.2 -10.9 9.5 -10.1 9.7 -9.5 10 -9 10.2 -8.4 10.4 -7.9 10.7 -7.2 10.9 -6.1 11.1 -5.2 11.2 -4 11.5 -3.1 11.6 -2.2 11.9 -1.8 12 -1.5 12.1 -1.4 12.4 -1.7 12.4 -1.7 12.7 -1.4 12.8 -0.9 13 -0.4 13.1 -0.1 13.2 0" stroke="#D95319"/>
<path d="M65.5 1126.2l2.9 -0.2 4.5 -0.2 5.4 -0.7 6.1 -2.3 6.6 -4.5 7.1 -7.1 7.5 -9.5 8 -11.2 8.2 -12 8.6 -12.1 9 -11.5 9.2 -10.8 9.5 -10 9.7 -9.4 10 -8.9 10.2 -8.5 10.4 -7.8 10.7 -7.1 10.9 -6.1 11.1 -5.1 11.2 -4 11.5 -3 11.6 -2.3 11.9 -1.7 12 -1.5 12.1 -1.5 12.4 -1.6 12.4 -1.7 12.7 -1.4 12.8 -0.9 13 -0.4 13.1 -0.1 13.2 0" stroke="#EDB120"/>
<path d="M65.5 1125l2.9 -0.2 4.5 -0.2 5.4 -0.7 6.1 -2.2 6.6 -4.5 7.1 -7.1 7.5 -9.4 8 -11.1 8.2 -12 8.6 -11.9 9 -11.4 9.2 -10.8 9.5 -9.9 9.7 -9.4 10 -8.8 10.2 -8.4 10.4 -7.8 10.7 -7 10.9 -6.1 11.1 -5 11.2 -4 11.5 -3 11.6 -2.3 11.9 -1.7 12 -1.5 12.1 -1.4 12.4 -1.6 12.4 -1.7 12.7 -1.4 12.8 -0.9 13 -0.4 13.1 -0.1 13.2 0" stroke="#7E2F8E"/>
<path d="M65.5 1123.8l2.9 -0.1 4.5 -0.2 5.4 -0.7 6.1 -2.2 6.6 -4.5 7.1 -7 7.5 -9.4 8 -11 8.2 -11.9 8.6 -11.8 9 -11.4 9.2 -10.6 9.5 -10 9.7 -9.2 10 -8.8 10.2 -8.3 10.4 -7.7 10.7 -7 10.9 -6.1 11.1 -5 11.2 -3.9 11.5 -3 11.6 -2.3 11.9 -1.7 12 -1.4 12.1 -1.5 12.4 -1.6 12.4 -1.6 12.7 -1.4 12.8 -0.9 13 -0.4 13.1 -0.1 13.2 0" stroke="#77AC30"/>
<path d="M65.5 1122.7l2.9 -0.2 4.5 -0.2 5.4 -0.7 6.1 -2.2 6.6 -4.4 7.1 -7 7.5 -9.3 8 -11 8.2 -11.7 8.6 -11.8 9 -11.3 9.2 -10.5 9.5 -9.9 9.7 -9.2 10 -8.7 10.2 -8.2 10.4 -7.7 10.7 -6.9 10.9 -6.1 11.1 -4.9 11.2 -3.9 11.5 -3 11.6 -2.2 11.9 -1.7 12 -1.5 12.1 -1.4 12.4 -1.6 12.4 -1.7 12.7 -1.3 12.8 -0.9 13 -0.4 13.1 -0.1 13.2 0" stroke="#4DBEEE"/>
<path d="M65.5 1121.5l2.9 -0.2 4.5 -0.1 5.4 -0.7 6.1 -2.2 6.6 -4.4 7.1 -6.9 7.5 -9.3 8 -10.9 8.2 -11.6 8.6 -11.7 9 -11.2 9.2 -10.5 9.5 -9.8 9.7 -9.1 10 -8.7 10.2 -8.2 10.4 -7.6 10.7 -6.9 10.9 -5.9 11.1 -5 11.2 -3.9 11.5 -2.9 11.6 -2.2 11.9 -1.7 12 -1.4 12.1 -1.5 12.4 -1.5 12.4 -1.7 12.7 -1.4 12.8 -0.8 13 -0.4 13.1 -0.1 13.2 0" stroke="#A2142F"/>
<path d="M65.5 1120.4l2.9 -0.2 4.5 -0.2 5.4 -0.7 6.1 -2.1 6.6 -4.4 7.1 -6.9 7.5 -9.2 8 -10.8 8.2 -11.5 8.6 -11.7 9 -11.1 9.2 -10.4 9.5 -9.7 9.7 -9.1 10 -8.6 10.2 -8.1 10.4 -7.5 10.7 -6.9 10.9 -5.9 11.1 -4.9 11.2 -3.9 11.5 -2.9 11.6 -2.2 11.9 -1.7 12 -1.4 12.1 -1.4 12.4 -1.6 12.4 -1.6 12.7 -1.4 12.8 -0.8 13 -0.4 13.1 -0.1 13.2 0" stroke="#0072BD"/>
<path d="M65.5 1119.2l2.9 -0.2 4.5 -0.1 5.4 -0.7 6.1 -2.2 6.6 -4.3 7.1 -6.8 7.5 -9.2 8 -10.7 8.2 -11.5 8.6 -11.5 9 -11 9.2 -10.4 9.5 -9.6 9.7 -9 10 -8.5 10.2 -8.1 10.4 -7.5 10.7 -6.8 10.9 -5.9 11.1 -4.8 11.2 -3.9 11.5 -2.9 11.6 -2.2 11.9 -1.6 12 -1.4 12.1 -1.4 12.4 -1.6 12.4 -1.6 12.7 -1.4 12.8 -0.8 13 -0.4 13.1 -0.1 13.2 0" stroke="#D95319"/>
<path d="M65.5 1118.1l2.9 -0.2 4.5 -0.2 5.4 -0.7 6.1 -2.1 6.6 -4.3 7.1 -6.8 7.5 -9 8 -10.7 8.2 -11.4 8.6 -11.4 9 -11 9.2 -10.3 9.5 -9.5 9.7 -9 10 -8.4 10.2 -8 10.4 -7.5 10.7 -6.7 10.9 -5.9 11.1 -4.8 11.2 -3.8 11.5 -2.9 11.6 -2.1 11.9 -1.7 12 -1.4 12.1 -1.4 12.4 -1.5 12.4 -1.6 12.7 -1.4 12.8 -0.8 13 -0.4 13.1 -0.1 13.2 0" stroke="#EDB120"/>
<path d="M65.5 1116.9l2.9 -0.2 4.5 -0.1 5.4 -0.7 6.1 -2.1 6.6 -4.3 7.1 -6.8 7.5 -8.9 8 -10.6 8.2 -11.3 8.6 -11.4 9 -10.9 9.2 -10.1 9.5 -9.5 9.7 -8.9 10 -8.4 10.2 -8 10.4 -7.4 10.7 -6.6 10.9 -5.8 11.1 -4.8 11.2 -3.8 11.5 -2.9 11.6 -2.1 11.9 -1.7 12 -1.3 12.1 -1.4 12.4 -1.6 12.4 -1.6 12.7 -1.3 12.8 -0.8 13 -0.4 13.1 -0.1 13.2 0" stroke="#7E2F8E"/>
<path d="M65.5 1115.7l2.9 -0.1 4.5 -0.2 5.4 -0.7 6.1 -2.1 6.6 -4.2 7.1 -6.7 7.5 -8.9 8 -10.5 8.2 -11.2 8.6 -11.3 9 -10.8 9.2 -10.1 9.5 -9.4 9.7 -8.9 10 -8.3 10.2 -7.9 10.4 -7.3 10.7 -6.7 10.9 -5.7 11.1 -4.8 11.2 -3.7 11.5 -2.9 11.6 -2.1 11.9 -1.6 12 -1.4 12.1 -1.4 12.4 -1.5 12.4 -1.6 12.7 -1.3 12.8 -0.8 13 -0.4 13.1 -0.1 13.2 0" stroke="#77AC30"/>
<path d="M65.5 1114.6l2.9 -0.2 4.5 -0.2 5.4 -0.6 6.1 -2.1 6.6 -4.2 7.1 -6.7 7.5 -8.8 8 -10.4 8.2 -11.2 8.6 -11.2 9 -10.7 9.2 -10 9.5 -9.4 9.7 -8.7 10 -8.3 10.2 -7.8 10.4 -7.3 10.7 -6.6 10.9 -5.7 11.1 -4.7 11.2 -3.7 11.5 -2.9 11.6 -2.1 11.9 -1.6 12 -1.3 12.1 -1.4 12.4 -1.5 12.4 -1.6 12.7 -1.3 12.8 -0.8 13 -0.4 13.1 -0.1 13.2 0" stroke="#4DBEEE"/>
<path d="M65.5 1113.4l2.9 -0.1 4.5 -0.2 5.4 -0.7 6.1 -2.1 6.6 -4.1 7.1 -6.6 7.5 -8.8 8 -10.3 8.2 -11.1 8.6 -11.1 9 -10.6 9.2 -10 9.5 -9.3 9.7 -8.7 10 -8.2 10.2 -7.7 10.4 -7.3 10.7 -6.5 10.9 -5.7 11.1 -4.7 11.2 -3.6 11.5 -2.9 11.6 -2 11.9 -1.6 12 -1.4 12.1 -1.4 12.4 -1.4 12.4 -1.6 12.7 -1.3 12.8 -0.8 13 -0.4 13.1 -0.1 13.2 0" stroke="#A2142F"/>
<path d="M65.5 1112.3l2.9 -0.2 4.5 -0.2 5.4 -0.6 6.1 -2.1 6.6 -4.1 7.1 -6.6 7.5 -8.7 8 -10.2 8.2 -11 8.6 -11 9 -10.6 9.2 -9.9 9.5 -9.2 9.7 -8.6 10 -8.2 10.2 -7.7 10.4 -7.1 10.7 -6.5 10.9 -5.6 11.1 -4.7 11.2 -3.7 11.5 -2.7 11.6 -2.1 11.9 -1.6 12 -1.4 12.1 -1.3 12.4 -1.5 12.4 -1.5 12.7 -1.3 12.8 -0.8 13 -0.4 13.1 -0.1 13.2 0" stroke="#0072BD"/>
<path d="M65.5 1111.1l2.9 -0.2 4.5 -0.1 5.4 -0.7 6.1 -2 6.6 -4.1 7.1 -6.5 7.5 -8.7 8 -10.1 8.2 -10.9 8.6 -11 9 -10.4 9.2 -9.9 9.5 -9.1 9.7 -8.5 10 -8.1 10.2 -7.7 10.4 -7.1 10.7 -6.4 10.9 -5.6 11.1 -4.6 11.2 -3.7 11.5 -2.7 11.6 -2.1 11.9 -1.6 12 -1.3 12.1 -1.3 12.4 -1.5 12.4 -1.5 12.7 -1.3 12.8 -0.8 13 -0.4 13.1 -0.1 13.2 0" stroke="#D95319"/>
<path d="M65.5 1110l2.9 -0.2 4.5 -0.2 5.4 -0.6 6.1 -2.1 6.6 -4 7.1 -6.5 7.5 -8.5 8 -10.1 8.2 -10.9 8.6 -10.8 9 -10.4 9.2 -9.7 9.5 -9.1 9.7 -8.5 10 -8 10.2 -7.6 10.4 -7.1 10.7 -6.4 10.9 -5.5 11.1 -4.6 11.2 -3.6 11.5 -2.7 11.6 -2.1 11.9 -1.5 12 -1.4 12.1 -1.3 12.4 -1.4 12.4 -1.6 12.7 -1.3 12.8 -0.7 13 -0.4 13.1 -0.1 13.2 0" stroke="#EDB120"/>
<path d="M65.5 1108.8l2.9 -0.2 4.5 -0.1 5.4 -0.7 6.1 -2 6.6 -4 7.1 -6.4 7.5 -8.5 8 -10 8.2 -10.8 8.6 -10.7 9 -10.4 9.2 -9.6 9.5 -9 9.7 -8.4 10 -8 10.2 -7.5 10.4 -7 10.7 -6.4 10.9 -5.5 11.1 -4.5 11.2 -3.6 11.5 -2.7 11.6 -2.1 11.9 -1.5 12 -1.3 12.1 -1.3 12.4 -1.5 12.4 -1.5 12.7 -1.3 12.8 -0.7 13 -0.4 13.1 -0.1 13.2 0" stroke="#7E2F8E"/>
<path d="M65.5 1107.6l2.9 -0.1 4.5 -0.2 5.4 -0.6 6.1 -2 6.6 -4 7.1 -6.4 7.5 -8.4 8 -10 8.2 -10.6 8.6 -10.7 9 -10.2 9.2 -9.6 9.5 -8.9 9.7 -8.4 10 -7.9 10.2 -7.5 10.4 -6.9 10.7 -6.3 10.9 -5.4 11.1 -4.6 11.2 -3.5 11.5 -2.7 11.6 -2 11.9 -1.6 12 -1.3 12.1 -1.3 12.4 -1.4 12.4 -1.5 12.7 -1.3 12.8 -0.7 13 -0.4 13.1 -0.1 13.2 0" stroke="#77AC30"/>
<path d="M65.5 1106.5l2.9 -0.2 4.5 -0.1 5.4 -0.7 6.1 -2 6.6 -3.9 7.1 -6.3 7.5 -8.4 8 -9.9 8.2 -10.5 8.6 -10.6 9 -10.2 9.2 -9.5 9.5 -8.8 9.7 -8.3 10 -7.9 10.2 -7.4 10.4 -6.9 10.7 -6.2 10.9 -5.4 11.1 -4.5 11.2 -3.5 11.5 -2.7 11.6 -2 11.9 -1.5 12 -1.3 12.1 -1.3 12.4 -1.4 12.4 -1.5 12.7 -1.3 12.8 -0.7 13 -0.4 13.1 -0.1 13.2 0" stroke="#4DBEEE"/>
<path d="M65.5 1105.3l2.9 -0.1 4.5 -0.2 5.4 -0.6 6.1 -2 6.6 -3.9 7.1 -6.3 7.5 -8.3 8 -9.8 8.2 -10.5 8.6 -10.5 9 -10 9.2 -9.5 9.5 -8.7 9.7 -8.3 10 -7.8 10.2 -7.3 10.4 -6.8 10.7 -6.2 10.9 -5.4 11.1 -4.4 11.2 -3.5 11.5 -2.7 11.6 -2 11.9 -1.5 12 -1.3 12.1 -1.3 12.4 -1.4 12.4 -1.4 12.7 -1.3 12.8 -0.8 13 -0.3 13.1 -0.1 13.2 0" stroke="#A2142F"/>
<path d="M65.5 1104.2l2.9 -0.2 4.5 -0.2 5.4 -0.6 6.1 -1.9 6.6 -3.9 7.1 -6.2 7.5 -8.3 8 -9.7 8.2 -10.4 8.6 -10.4 9 -10 9.2 -9.4 9.5 -8.7 9.7 -8.1 10 -7.7 10.2 -7.3 10.4 -6.8 10.7 -6.2 10.9 -5.3 11.1 -4.4 11.2 -3.5 11.5 -2.6 11.6 -2 11.9 -1.5 12 -1.2 12.1 -1.3 12.4 -1.4 12.4 -1.5 12.7 -1.2 12.8 -0.8 13 -0.3 13.1 -0.1 13.2 0" stroke="#0072BD"/>
<path d="M65.5 1103l2.9 -0.2 4.5 -0.1 5.4 -0.6 6.1 -2 6.6 -3.9 7.1 -6.1 7.5 -8.2 8 -9.6 8.2 -10.3 8.6 -10.3 9 -10 9.2 -9.2 9.5 -8.7 9.7 -8.1 10 -7.6 10.2 -7.3 10.4 -6.7 10.7 -6.1 10.9 -5.3 11.1 -4.3 11.2 -3.5 11.5 -2.6 11.6 -1.9 11.9 -1.5 12 -1.3 12.1 -1.2 12.4 -1.4 12.4 -1.5 12.7 -1.2 12.8 -0.8 13 -0.3 13.1 -0.1 13.2 0" stroke="#D95319"/>
<path d="M65.5 1101.8l2.9 -0.1 4.5 -0.2 5.4 -0.6 6.1 -1.9 6.6 -3.9 7.1 -6 7.5 -8.1 8 -9.6 8.2 -10.2 8.6 -10.3 9 -9.8 9.2 -9.2 9.5 -8.6 9.7 -8 10 -7.6 10.2 -7.2 10.4 -6.7 10.7 -6 10.9 -5.2 11.1 -4.4 11.2 -3.4 11.5 -2.6 11.6 -1.9 11.9 -1.5 12 -1.2 12.1 -1.3 12.4 -1.4 12.4 -1.4 12.7 -1.2 12.8 -0.8 13 -0.3 13.1 -0.1 13.2 0" stroke="#EDB120"/>
<path d="M65.5 1100.7l2.9 -0.2 4.5 -0.1 5.4 -0.6 6.1 -1.9 6.6 -3.9 7.1 -6 7.5 -8 8 -9.5 8.2 -10.1 8.6 -10.2 9 -9.8 9.2 -9.1 9.5 -8.5 9.7 -8 10 -7.5 10.2 -7.1 10.4 -6.6 10.7 -6 10.9 -5.2 11.1 -4.3 11.2 -3.4 11.5 -2.6 11.6 -1.9 11.9 -1.4 12 -1.3 12.1 -1.2 12.4 -1.4 12.4 -1.4 12.7 -1.2 12.8 -0.8 13 -0.3 13.1 -0.1 13.2 0" stroke="#7E2F8E"/>
<path d="M65.5 1099.5l2.9 -0.1 4.5 -0.2 5.4 -0.6 6.1 -1.9 6.6 -3.8 7.1 -5.9 7.5 -8 8 -9.4 8.2 -10.1 8.6 -10.1 9 -9.6 9.2 -9.1 9.5 -8.4 9.7 -7.9 10 -7.5 10.2 -7 10.4 -6.6 10.7 -5.9 10.9 -5.2 11.1 -4.2 11.2 -3.4 11.5 -2.6 11.6 -1.9 11.9 -1.4 12 -1.2 12.1 -1.3 12.4 -1.3 12.4 -1.4 12.7 -1.2 12.8 -0.8 13 -0.3 13.1 -0.1 13.2 0" stroke="#77AC30"/>
<path d="M65.5 1098.4l2.9 -0.2 4.5 -0.1 5.4 -0.6 6.1 -1.9 6.6 -3.8 7.1 -5.9 7.5 -7.9 8 -9.3 8.2 -10 8.6 -10 9 -9.6 9.2 -9 9.5 -8.3 9.7 -7.9 10 -7.4 10.2 -6.9 10.4 -6.6 10.7 -5.9 10.9 -5.1 11.1 -4.2 11.2 -3.3 11.5 -2.5 11.6 -1.9 11.9 -1.5 12 -1.2 12.1 -1.2 12.4 -1.4 12.4 -1.4 12.7 -1.2 12.8 -0.7 13 -0.3 13.1 -0.1 13.2 0" stroke="#4DBEEE"/>
<path d="M65.5 1097.2l2.9 -0.1 4.5 -0.2 5.4 -0.6 6.1 -1.8 6.6 -3.8 7.1 -5.9 7.5 -7.8 8 -9.2 8.2 -9.9 8.6 -9.9 9 -9.5 9.2 -8.9 9.5 -8.3 9.7 -7.8 10 -7.3 10.2 -7 10.4 -6.4 10.7 -5.9 10.9 -5 11.1 -4.2 11.2 -3.3 11.5 -2.5 11.6 -1.9 11.9 -1.4 12 -1.3 12.1 -1.2 12.4 -1.3 12.4 -1.4 12.7 -1.2 12.8 -0.7 13 -0.3 13.1 -0.1 13.2 0" stroke="#A2142F"/>
<path d="M65.5 1096.1l2.9 -0.2 4.5 -0.1 5.4 -0.6 6.1 -1.9 6.6 -3.7 7.1 -5.8 7.5 -7.8 8 -9.1 8.2 -9.8 8.6 -9.9 9 -9.4 9.2 -8.8 9.5 -8.2 9.7 -7.7 10 -7.3 10.2 -6.9 10.4 -6.4 10.7 -5.8 10.9 -5 11.1 -4.2 11.2 -3.2 11.5 -2.5 11.6 -1.9 11.9 -1.4 12 -1.2 12.1 -1.2 12.4 -1.3 12.4 -1.4 12.7 -1.2 12.8 -0.7 13 -0.3 13.1 -0.1 13.2 0" stroke="#0072BD"/>
<path d="M65.5 1094.9l2.9 -0.2 4.5 -0.1 5.4 -0.6 6.1 -1.8 6.6 -3.7 7.1 -5.8 7.5 -7.7 8 -9 8.2 -9.8 8.6 -9.7 9 -9.4 9.2 -8.7 9.5 -8.2 9.7 -7.6 10 -7.2 10.2 -6.8 10.4 -6.4 10.7 -5.7 10.9 -5 11.1 -4.1 11.2 -3.3 11.5 -2.4 11.6 -1.9 11.9 -1.4 12 -1.2 12.1 -1.1 12.4 -1.4 12.4 -1.3 12.7 -1.2 12.8 -0.7 13 -0.3 13.1 -0.1 13.2 0" stroke="#D95319"/>
<path d="M65.5 1093.7l2.9 -0.1 4.5 -0.2 5.4 -0.5 6.1 -1.8 6.6 -3.7 7.1 -5.7 7.5 -7.7 8 -8.9 8.2 -9.7 8.6 -9.7 9 -9.2 9.2 -8.7 9.5 -8.1 9.7 -7.5 10 -7.2 10.2 -6.7 10.4 -6.3 10.7 -5.7 10.9 -5 11.1 -4.1 11.2 -3.2 11.5 -2.4 11.6 -1.8 11.9 -1.4 12 -1.2 12.1 -1.2 12.4 -1.3 12.4 -1.3 12.7 -1.2 12.8 -0.7 13 -0.3 13.1 -0.1 13.2 0" stroke="#EDB120"/>
<path d="M65.5 1092.6l2.9 -0.2 4.5 -0.1 5.4 -0.6 6.1 -1.8 6.6 -3.6 7.1 -5.7 7.5 -7.5 8 -9 8.2 -9.5 8.6 -9.6 9 -9.2 9.2 -8.6 9.5 -8 9.7 -7.5 10 -7.1 10.2 -6.7 10.4 -6.2 10.7 -5.7 10.9 -4.8 11.1 -4.1 11.2 -3.2 11.5 -2.4 11.6 -1.8 11.9 -1.4 12 -1.2 12.1 -1.1 12.4 -1.3 12.4 -1.4 12.7 -1.1 12.8 -0.7 13 -0.3 13.1 -0.1 13.2 0" stroke="#7E2F8E"/>
<path d="M65.5 1091.4l2.9 -0.1 4.5 -0.2 5.4 -0.5 6.1 -1.8 6.6 -3.6 7.1 -5.6 7.5 -7.5 8 -8.9 8.2 -9.4 8.6 -9.5 9 -9.1 9.2 -8.6 9.5 -7.9 9.7 -7.4 10 -7.1 10.2 -6.6 10.4 -6.2 10.7 -5.6 10.9 -4.8 11.1 -4 11.2 -3.2 11.5 -2.4 11.6 -1.8 11.9 -1.4 12 -1.1 12.1 -1.2 12.4 -1.3 12.4 -1.3 12.7 -1.1 12.8 -0.7 13 -0.3 13.1 -0.1 13.2 0" stroke="#77AC30"/>
<path d="M65.5 1090.3l2.9 -0.2 4.5 -0.1 5.4 -0.6 6.1 -1.7 6.6 -3.6 7.1 -5.6 7.5 -7.4 8 -8.8 8.2 -9.4 8.6 -9.4 9 -9 9.2 -8.4 9.5 -7.9 9.7 -7.4 10 -6.9 10.2 -6.6 10.4 -6.2 10.7 -5.5 10.9 -4.8 11.1 -4 11.2 -3.1 11.5 -2.4 11.6 -1.8 11.9 -1.3 12 -1.2 12.1 -1.1 12.4 -1.3 12.4 -1.3 12.7 -1.1 12.8 -0.7 13 -0.3 13.1 -0.1 13.2 0" stroke="#4DBEEE"/>
<path d="M65.5 1089.1l2.9 -0.1 4.5 -0.2 5.4 -0.6 6.1 -1.7 6.6 -3.5 7.1 -5.5 7.5 -7.4 8 -8.7 8.2 -9.3 8.6 -9.3 9 -9 9.2 -8.3 9.5 -7.8 9.7 -7.3 10 -6.9 10.2 -6.5 10.4 -6.1 10.7 -5.5 10.9 -4.8 11.1 -3.9 11.2 -3.1 11.5 -2.4 11.6 -1.7 11.9 -1.4 12 -1.1 12.1 -1.2 12.4 -1.2 12.4 -1.3 12.7 -1.1 12.8 -0.7 13 -0.3 13.1 -0.1 13.2 0" stroke="#A2142F"/>
<path d="M65.5 1087.9l2.9 -0.1 4.5 -0.1 5.4 -0.6 6.1 -1.7 6.6 -3.5 7.1 -5.5 7.5 -7.3 8 -8.6 8.2 -9.2 8.6 -9.3 9 -8.8 9.2 -8.3 9.5 -7.7 9.7 -7.3 10 -6.8 10.2 -6.5 10.4 -6 10.7 -5.4 10.9 -4.8 11.1 -3.9 11.2 -3 11.5 -2.4 11.6 -1.7 11.9 -1.3 12 -1.2 12.1 -1.1 12.4 -1.2 12.4 -1.3 12.7 -1.1 12.8 -0.7 13 -0.3 13.1 -0.1 13.2 0" stroke="#0072BD"/>
<path d="M65.5 1086.8l2.9 -0.2 4.5 -0.1 5.4 -0.6 6.1 -1.7 6.6 -3.4 7.1 -5.4 7.5 -7.3 8 -8.5 8.2 -9.1 8.6 -9.2 9 -8.8 9.2 -8.2 9.5 -7.6 9.7 -7.2 10 -6.8 10.2 -6.4 10.4 -6 10.7 -5.4 10.9 -4.6 11.1 -3.9 11.2 -3 11.5 -2.4 11.6 -1.7 11.9 -1.3 12 -1.1 12.1 -1.1 12.4 -1.3 12.4 -1.3 12.7 -1.1 12.8 -0.6 13 -0.3 13.1 -0.1 13.2 0" stroke="#D95319"/>
<path d="M65.5 1085.6l2.9 -0.1 4.5 -0.1 5.4 -0.6 6.1 -1.7 6.6 -3.4 7.1 -5.4 7.5 -7.2 8 -8.4 8.2 -9.1 8.6 -9 9 -8.7 9.2 -8.2 9.5 -7.6 9.7 -7.1 10 -6.7 10.2 -6.3 10.4 -5.9 10.7 -5.4 10.9 -4.6 11.1 -3.8 11.2 -3.1 11.5 -2.3 11.6 -1.7 11.9 -1.3 12 -1.1 12.1 -1.1 12.4 -1.2 12.4 -1.3 12.7 -1.1 12.8 -0.6 13 -0.3 13.1 -0.1 13.2 0" stroke="#EDB120"/>
<path d="M65.5 1084.5l2.9 -0.2 4.5 -0.1 5.4 -0.6 6.1 -1.6 6.6 -3.4 7.1 -5.3 7.5 -7.1 8 -8.4 8.2 -9 8.6 -9 9 -8.6 9.2 -8.1 9.5 -7.5 9.7 -7 10 -6.7 10.2 -6.2 10.4 -5.9 10.7 -5.3 10.9 -4.6 11.1 -3.8 11.2 -3 11.5 -2.2 11.6 -1.7 11.9 -1.3 12 -1.1 12.1 -1.1 12.4 -1.2 12.4 -1.3 12.7 -1.1 12.8 -0.6 13 -0.3 13.1 -0.1 13.2 0" stroke="#7E2F8E"/>
<path d="M65.5 1083.3l2.9 -0.1 4.5 -0.2 5.4 -0.5 6.1 -1.7 6.6 -3.3 7.1 -5.3 7.5 -7 8 -8.3 8.2 -8.9 8.6 -8.9 9 -8.5 9.2 -8 9.5 -7.5 9.7 -6.9 10 -6.6 10.2 -6.3 10.4 -5.8 10.7 -5.2 10.9 -4.6 11.1 -3.7 11.2 -3 11.5 -2.2 11.6 -1.7 11.9 -1.3 12 -1.1 12.1 -1.1 12.4 -1.2 12.4 -1.2 12.7 -1.1 12.8 -0.6 13 -0.3 13.1 -0.1 13.2 0" stroke="#77AC30"/>
<path d="M65.5 1082.2l2.9 -0.2 4.5 -0.1 5.4 -0.6 6.1 -1.6 6.6 -3.3 7.1 -5.2 7.5 -7 8 -8.2 8.2 -8.8 8.6 -8.8 9 -8.5 9.2 -7.9 9.5 -7.4 9.7 -6.9 10 -6.5 10.2 -6.2 10.4 -5.7 10.7 -5.2 10.9 -4.5 11.1 -3.8 11.2 -2.9 11.5 -2.2 11.6 -1.7 11.9 -1.3 12 -1 12.1 -1.1 12.4 -1.2 12.4 -1.2 12.7 -1.1 12.8 -0.6 13 -0.3 13.1 -0.1 13.2 0" stroke="#4DBEEE"/>
<path d="M65.5 1081l2.9 -0.1 4.5 -0.2 5.4 -0.5 6.1 -1.6 6.6 -3.3 7.1 -5.2 7.5 -6.9 8 -8.1 8.2 -8.7 8.6 -8.8 9 -8.4 9.2 -7.8 9.5 -7.3 9.7 -6.8 10 -6.5 10.2 -6.1 10.4 -5.7 10.7 -5.2 10.9 -4.4 11.1 -3.7 11.2 -2.9 11.5 -2.2 11.6 -1.7 11.9 -1.2 12 -1.1 12.1 -1.1 12.4 -1.1 12.4 -1.3 12.7 -1 12.8 -0.6 13 -0.3 13.1 -0.1 13.2 0" stroke="#A2142F"/>
<path d="M65.5 1079.8l2.9 -0.1 4.5 -0.1 5.4 -0.6 6.1 -1.6 6.6 -3.2 7.1 -5.1 7.5 -6.9 8 -8 8.2 -8.7 8.6 -8.6 9 -8.3 9.2 -7.8 9.5 -7.2 9.7 -6.8 10 -6.4 10.2 -6 10.4 -5.7 10.7 -5.1 10.9 -4.4 11.1 -3.6 11.2 -2.9 11.5 -2.2 11.6 -1.6 11.9 -1.3 12 -1.1 12.1 -1 12.4 -1.2 12.4 -1.2 12.7 -1 12.8 -0.6 13 -0.3 13.1 -0.1 13.2 0" stroke="#0072BD"/>
<path d="M65.5 1078.7l2.9 -0.2 4.5 -0.1 5.4 -0.5 6.1 -1.6 6.6 -3.2 7.1 -5.1 7.5 -6.8 8 -7.9 8.2 -8.6 8.6 -8.6 9 -8.2 9.2 -7.7 9.5 -7.1 9.7 -6.7 10 -6.4 10.2 -6 10.4 -5.5 10.7 -5.1 10.9 -4.4 11.1 -3.6 11.2 -2.8 11.5 -2.2 11.6 -1.6 11.9 -1.3 12 -1 12.1 -1 12.4 -1.2 12.4 -1.2 12.7 -1 12.8 -0.6 13 -0.3 13.1 -0.1 13.2 0" stroke="#D95319"/>
<path d="M65.5 1077.5l2.9 -0.1 4.5 -0.1 5.4 -0.6 6.1 -1.5 6.6 -3.2 7.1 -5.1 7.5 -6.7 8 -7.9 8.2 -8.4 8.6 -8.5 9 -8.1 9.2 -7.6 9.5 -7.1 9.7 -6.7 10 -6.3 10.2 -5.9 10.4 -5.5 10.7 -5 10.9 -4.3 11.1 -3.6 11.2 -2.9 11.5 -2.1 11.6 -1.6 11.9 -1.2 12 -1.1 12.1 -1 12.4 -1.1 12.4 -1.2 12.7 -1 12.8 -0.6 13 -0.3 13.1 -0.1 13.2 0" stroke="#EDB120"/>
<path d="M65.5 1076.4l2.9 -0.2 4.5 -0.1 5.4 -0.5 6.1 -1.6 6.6 -3.1 7.1 -5 7.5 -6.6 8 -7.9 8.2 -8.3 8.6 -8.4 9 -8.1 9.2 -7.5 9.5 -7 9.7 -6.6 10 -6.2 10.2 -5.9 10.4 -5.5 10.7 -4.9 10.9 -4.3 11.1 -3.6 11.2 -2.8 11.5 -2.1 11.6 -1.6 11.9 -1.2 12 -1 12.1 -1 12.4 -1.2 12.4 -1.1 12.7 -1 12.8 -0.6 13 -0.3 13.1 -0.1 13.2 0" stroke="#7E2F8E"/>
<path d="M65.5 1075.2l2.9 -0.1 4.5 -0.1 5.4 -0.6 6.1 -1.5 6.6 -3.1 7.1 -5 7.5 -6.5 8 -7.8 8.2 -8.3 8.6 -8.3 9 -8 9.2 -7.4 9.5 -7 9.7 -6.5 10 -6.1 10.2 -5.8 10.4 -5.5 10.7 -4.9 10.9 -4.2 11.1 -3.5 11.2 -2.8 11.5 -2.1 11.6 -1.6 11.9 -1.2 12 -1 12.1 -1 12.4 -1.1 12.4 -1.2 12.7 -0.9 12.8 -0.7 13 -0.2 13.1 -0.1 13.2 0" stroke="#77AC30"/>
<path d="M65.5 1074.1l2.9 -0.2 4.5 -0.1 5.4 -0.5 6.1 -1.5 6.6 -3.1 7.1 -4.9 7.5 -6.5 8 -7.7 8.2 -8.2 8.6 -8.2 9 -7.9 9.2 -7.4 9.5 -6.9 9.7 -6.4 10 -6.1 10.2 -5.8 10.4 -5.3 10.7 -4.9 10.9 -4.2 11.1 -3.5 11.2 -2.7 11.5 -2.1 11.6 -1.5 11.9 -1.2 12 -1 12.1 -1 12.4 -1.1 12.4 -1.2 12.7 -1 12.8 -0.6 13 -0.2 13.1 -0.1 13.2 0" stroke="#4DBEEE"/>
<path d="M65.5 1072.9l2.9 -0.1 4.5 -0.2 5.4 -0.5 6.1 -1.5 6.6 -3 7.1 -4.9 7.5 -6.4 8 -7.6 8.2 -8.1 8.6 -8.2 9 -7.8 9.2 -7.3 9.5 -6.8 9.7 -6.4 10 -6 10.2 -5.7 10.4 -5.3 10.7 -4.8 10.9 -4.2 11.1 -3.4 11.2 -2.7 11.5 -2.1 11.6 -1.5 11.9 -1.2 12 -1 12.1 -1 12.4 -1.1 12.4 -1.1 12.7 -1 12.8 -0.6 13 -0.2 13.1 -0.1 13.2 0" stroke="#A2142F"/>
<path d="M65.5 1071.7l2.9 -0.1 4.5 -0.1 5.4 -0.5 6.1 -1.5 6.6 -3 7.1 -4.8 7.5 -6.4 8 -7.5 8.2 -8 8.6 -8.1 9 -7.7 9.2 -7.3 9.5 -6.7 9.7 -6.3 10 -6 10.2 -5.6 10.4 -5.3 10.7 -4.7 10.9 -4.1 11.1 -3.4 11.2 -2.7 11.5 -2.1 11.6 -1.5 11.9 -1.1 12 -1 12.1 -1 12.4 -1.1 12.4 -1.1 12.7 -1 12.8 -0.6 13 -0.2 13.1 -0.1 13.2 0" stroke="#0072BD"/>
<path d="M65.5 1070.6l2.9 -0.1 4.5 -0.2 5.4 -0.5 6.1 -1.4 6.6 -3 7.1 -4.8 7.5 -6.3 8 -7.4 8.2 -8 8.6 -7.9 9 -7.7 9.2 -7.1 9.5 -6.7 9.7 -6.3 10 -5.9 10.2 -5.5 10.4 -5.2 10.7 -4.7 10.9 -4.1 11.1 -3.4 11.2 -2.6 11.5 -2.1 11.6 -1.5 11.9 -1.1 12 -1 12.1 -0.9 12.4 -1.1 12.4 -1.1 12.7 -1 12.8 -0.6 13 -0.2 13.1 -0.1 13.2 0" stroke="#D95319"/>
<path d="M65.5 1069.4l2.9 -0.1 4.5 -0.1 5.4 -0.5 6.1 -1.5 6.6 -2.9 7.1 -4.7 7.5 -6.3 8 -7.3 8.2 -7.9 8.6 -7.9 9 -7.5 9.2 -7.1 9.5 -6.6 9.7 -6.2 10 -5.8 10.2 -5.6 10.4 -5.1 10.7 -4.7 10.9 -4 11.1 -3.3 11.2 -2.6 11.5 -2 11.6 -1.5 11.9 -1.2 12 -0.9 12.1 -1 12.4 -1.1 12.4 -1.1 12.7 -0.9 12.8 -0.6 13 -0.2 13.1 -0.1 13.2 0" stroke="#EDB120"/>
<path d="M65.5 1068.3l2.9 -0.2 4.5 -0.1 5.4 -0.5 6.1 -1.4 6.6 -2.9 7.1 -4.7 7.5 -6.1 8 -7.3 8.2 -7.8 8.6 -7.8 9 -7.5 9.2 -7 9.5 -6.5 9.7 -6.1 10 -5.8 10.2 -5.5 10.4 -5.1 10.7 -4.6 10.9 -4 11.1 -3.3 11.2 -2.6 11.5 -1.9 11.6 -1.5 11.9 -1.1 12 -1 12.1 -0.9 12.4 -1.1 12.4 -1.1 12.7 -0.9 12.8 -0.6 13 -0.2 13.1 -0.1 13.2 0" stroke="#7E2F8E"/>
<path d="M65.5 1067.1l2.9 -0.1 4.5 -0.1 5.4 -0.5 6.1 -1.4 6.6 -2.9 7.1 -4.6 7.5 -6.1 8 -7.2 8.2 -7.7 8.6 -7.8 9 -7.4 9.2 -6.9 9.5 -6.4 9.7 -6.1 10 -5.7 10.2 -5.4 10.4 -5 10.7 -4.6 10.9 -3.9 11.1 -3.3 11.2 -2.6 11.5 -1.9 11.6 -1.5 11.9 -1.1 12 -0.9 12.1 -1 12.4 -1 12.4 -1.1 12.7 -0.9 12.8 -0.6 13 -0.2 13.1 -0.1 13.2 0" stroke="#77AC30"/>
<path d="M65.5 1065.9l2.9 -0.1 4.5 -0.1 5.4 -0.5 6.1 -1.4 6.6 -2.8 7.1 -4.6 7.5 -6 8 -7.1 8.2 -7.7 8.6 -7.6 9 -7.3 9.2 -6.9 9.5 -6.4 9.7 -5.9 10 -5.7 10.2 -5.3 10.4 -5 10.7 -4.5 10.9 -3.9 11.1 -3.2 11.2 -2.6 11.5 -1.9 11.6 -1.5 11.9 -1.1 12 -0.9 12.1 -0.9 12.4 -1.1 12.4 -1 12.7 -0.9 12.8 -0.6 13 -0.2 13.1 -0.1 13.2 0" stroke="#4DBEEE"/>
<path d="M65.5 1064.8l2.9 -0.1 4.5 -0.1 5.4 -0.5 6.1 -1.4 6.6 -2.8 7.1 -4.5 7.5 -6 8 -7 8.2 -7.6 8.6 -7.5 9 -7.3 9.2 -6.8 9.5 -6.3 9.7 -5.9 10 -5.6 10.2 -5.3 10.4 -4.9 10.7 -4.4 10.9 -3.9 11.1 -3.2 11.2 -2.5 11.5 -1.9 11.6 -1.4 11.9 -1.1 12 -0.9 12.1 -1 12.4 -1 12.4 -1 12.7 -0.9 12.8 -0.6 13 -0.2 13.1 -0.1 13.2 0" stroke="#A2142F"/>
<path d="M65.5 1063.6l2.9 -0.1 4.5 -0.1 5.4 -0.5 6.1 -1.3 6.6 -2.9 7.1 -4.4 7.5 -5.9 8 -6.9 8.2 -7.5 8.6 -7.5 9 -7.1 9.2 -6.7 9.5 -6.3 9.7 -5.8 10 -5.6 10.2 -5.2 10.4 -4.9 10.7 -4.4 10.9 -3.8 11.1 -3.1 11.2 -2.5 11.5 -1.9 11.6 -1.4 11.9 -1.1 12 -0.9 12.1 -0.9 12.4 -1 12.4 -1.1 12.7 -0.8 12.8 -0.6 13 -0.2 13.1 -0.1 13.2 0" stroke="#0072BD"/>
<path d="M65.5 1062.5l2.9 -0.1 4.5 -0.2 5.4 -0.4 6.1 -1.4 6.6 -2.8 7.1 -4.3 7.5 -5.9 8 -6.9 8.2 -7.3 8.6 -7.4 9 -7.1 9.2 -6.6 9.5 -6.2 9.7 -5.8 10 -5.4 10.2 -5.2 10.4 -4.8 10.7 -4.4 10.9 -3.7 11.1 -3.2 11.2 -2.4 11.5 -1.9 11.6 -1.4 11.9 -1.1 12 -0.9 12.1 -0.9 12.4 -0.9 12.4 -1.1 12.7 -0.9 12.8 -0.5 13 -0.2 13.1 -0.1 13.2 0" stroke="#D95319"/>
<path d="M65.5 1061.3l2.9 -0.1 4.5 -0.1 5.4 -0.5 6.1 -1.3 6.6 -2.8 7.1 -4.3 7.5 -5.8 8 -6.8 8.2 -7.2 8.6 -7.4 9 -7 9.2 -6.5 9.5 -6.1 9.7 -5.7 10 -5.4 10.2 -5.1 10.4 -4.8 10.7 -4.3 10.9 -3.7 11.1 -3.1 11.2 -2.4 11.5 -1.9 11.6 -1.4 11.9 -1 12 -0.9 12.1 -0.9 12.4 -1 12.4 -1 12.7 -0.9 12.8 -0.5 13 -0.2 13.1 -0.1 13.2 0" stroke="#EDB120"/>
<path d="M65.5 1060.2l2.9 -0.2 4.5 -0.1 5.4 -0.4 6.1 -1.3 6.6 -2.8 7.1 -4.2 7.5 -5.8 8 -6.7 8.2 -7.2 8.6 -7.2 9 -6.9 9.2 -6.5 9.5 -6 9.7 -5.7 10 -5.3 10.2 -5.1 10.4 -4.7 10.7 -4.2 10.9 -3.7 11.1 -3 11.2 -2.5 11.5 -1.8 11.6 -1.3 11.9 -1.1 12 -0.9 12.1 -0.8 12.4 -1 12.4 -1 12.7 -0.9 12.8 -0.5 13 -0.2 13.1 -0.1 13.2 0" stroke="#7E2F8E"/>
<path d="M65.5 1059l2.9 -0.1 4.5 -0.1 5.4 -0.5 6.1 -1.3 6.6 -2.7 7.1 -4.2 7.5 -5.6 8 -6.7 8.2 -7.1 8.6 -7.1 9 -6.9 9.2 -6.4 9.5 -5.9 9.7 -5.6 10 -5.3 10.2 -5 10.4 -4.6 10.7 -4.2 10.9 -3.7 11.1 -3 11.2 -2.4 11.5 -1.8 11.6 -1.3 11.9 -1 12 -0.9 12.1 -0.9 12.4 -0.9 12.4 -1 12.7 -0.9 12.8 -0.5 13 -0.2 13.1 -0.1 13.2 0" stroke="#77AC30"/>
<path d="M65.5 1057.8l2.9 -0.1 4.5 -0.1 5.4 -0.4 6.1 -1.3 6.6 -2.7 7.1 -4.1 7.5 -5.6 8 -6.6 8.2 -7 8.6 -7.1 9 -6.7 9.2 -6.4 9.5 -5.8 9.7 -5.6 10 -5.2 10.2 -4.9 10.4 -4.6 10.7 -4.2 10.9 -3.6 11.1 -2.9 11.2 -2.4 11.5 -1.8 11.6 -1.3 11.9 -1 12 -0.9 12.1 -0.8 12.4 -1 12.4 -1 12.7 -0.8 12.8 -0.5 13 -0.2 13.1 -0.1 13.2 0" stroke="#4DBEEE"/>
<path d="M65.5 1056.7l2.9 -0.1 4.5 -0.1 5.4 -0.5 6.1 -1.3 6.6 -2.6 7.1 -4.1 7.5 -5.5 8 -6.5 8.2 -6.9 8.6 -7 9 -6.7 9.2 -6.2 9.5 -5.9 9.7 -5.4 10 -5.2 10.2 -4.8 10.4 -4.6 10.7 -4.1 10.9 -3.5 11.1 -3 11.2 -2.3 11.5 -1.8 11.6 -1.3 11.9 -1 12 -0.8 12.1 -0.9 12.4 -0.9 12.4 -1 12.7 -0.8 12.8 -0.5 13 -0.2 13.1 -0.1 13.2 0" stroke="#A2142F"/>
<path d="M65.5 1055.5l2.9 -0.1 4.5 -0.1 5.4 -0.4 6.1 -1.3 6.6 -2.6 7.1 -4.1 7.5 -5.4 8 -6.4 8.2 -6.9 8.6 -6.8 9 -6.6 9.2 -6.2 9.5 -5.8 9.7 -5.4 10 -5 10.2 -4.9 10.4 -4.4 10.7 -4.1 10.9 -3.5 11.1 -2.9 11.2 -2.3 11.5 -1.7 11.6 -1.3 11.9 -1 12 -0.9 12.1 -0.8 12.4 -0.9 12.4 -1 12.7 -0.8 12.8 -0.5 13 -0.2 13.1 -0.1 13.2 0" stroke="#0072BD"/>
<path d="M65.5 1054.4l2.9 -0.1 4.5 -0.1 5.4 -0.5 6.1 -1.2 6.6 -2.6 7.1 -4 7.5 -5.4 8 -6.3 8.2 -6.8 8.6 -6.8 9 -6.5 9.2 -6.1 9.5 -5.7 9.7 -5.3 10 -5 10.2 -4.8 10.4 -4.4 10.7 -4 10.9 -3.5 11.1 -2.9 11.2 -2.2 11.5 -1.7 11.6 -1.3 11.9 -1 12 -0.8 12.1 -0.9 12.4 -0.9 12.4 -0.9 12.7 -0.8 12.8 -0.5 13 -0.2 13.1 -0.1 13.2 0" stroke="#D95319"/>
<path d="M65.5 1053.2l2.9 -0.1 4.5 -0.1 5.4 -0.4 6.1 -1.3 6.6 -2.5 7.1 -4 7.5 -5.3 8 -6.2 8.2 -6.7 8.6 -6.7 9 -6.5 9.2 -6 9.5 -5.6 9.7 -5.2 10 -5 10.2 -4.7 10.4 -4.4 10.7 -3.9 10.9 -3.5 11.1 -2.8 11.2 -2.2 11.5 -1.7 11.6 -1.3 11.9 -1 12 -0.8 12.1 -0.8 12.4 -0.9 12.4 -0.9 12.7 -0.8 12.8 -0.5 13 -0.2 13.1 -0.1 13.2 0" stroke="#EDB120"/>
<path d="M65.5 1052l2.9 -0.1 4.5 -0.1 5.4 -0.4 6.1 -1.2 6.6 -2.5 7.1 -3.9 7.5 -5.3 8 -6.1 8.2 -6.6 8.6 -6.7 9 -6.3 9.2 -6 9.5 -5.5 9.7 -5.2 10 -4.9 10.2 -4.6 10.4 -4.3 10.7 -4 10.9 -3.3 11.1 -2.8 11.2 -2.2 11.5 -1.7 11.6 -1.3 11.9 -0.9 12 -0.8 12.1 -0.8 12.4 -0.9 12.4 -1 12.7 -0.7 12.8 -0.5 13 -0.2 13.1 -0.1 13.2 0" stroke="#7E2F8E"/>
<path d="M65.5 1050.9l2.9 -0.1 4.5 -0.1 5.4 -0.4 6.1 -1.2 6.6 -2.5 7.1 -3.9 7.5 -5.1 8 -6.1 8.2 -6.6 8.6 -6.5 9 -6.3 9.2 -5.8 9.5 -5.5 9.7 -5.1 10 -4.9 10.2 -4.6 10.4 -4.2 10.7 -3.9 10.9 -3.3 11.1 -2.8 11.2 -2.2 11.5 -1.6 11.6 -1.2 11.9 -1 12 -0.8 12.1 -0.8 12.4 -0.9 12.4 -0.9 12.7 -0.8 12.8 -0.4 13 -0.2 13.1 -0.1 13.2 0" stroke="#77AC30"/>
<path d="M65.5 1049.7l2.9 -0.1 4.5 -0.1 5.4 -0.4 6.1 -1.2 6.6 -2.4 7.1 -3.8 7.5 -5.1 8 -6 8.2 -6.5 8.6 -6.4 9 -6.2 9.2 -5.8 9.5 -5.4 9.7 -5.1 10 -4.8 10.2 -4.5 10.4 -4.2 10.7 -3.8 10.9 -3.3 11.1 -2.7 11.2 -2.2 11.5 -1.6 11.6 -1.2 11.9 -1 12 -0.7 12.1 -0.8 12.4 -0.9 12.4 -0.9 12.7 -0.8 12.8 -0.4 13 -0.2 13.1 -0.1 13.2 0" stroke="#4DBEEE"/>
<path d="M65.5 1048.6l2.9 -0.1 4.5 -0.1 5.4 -0.4 6.1 -1.2 6.6 -2.4 7.1 -3.8 7.5 -5 8 -5.9 8.2 -6.4 8.6 -6.4 9 -6.1 9.2 -5.7 9.5 -5.3 9.7 -5 10 -4.7 10.2 -4.5 10.4 -4.2 10.7 -3.7 10.9 -3.3 11.1 -2.7 11.2 -2.1 11.5 -1.6 11.6 -1.2 11.9 -0.9 12 -0.8 12.1 -0.8 12.4 -0.8 12.4 -0.9 12.7 -0.8 12.8 -0.4 13 -0.2 13.1 -0.1 13.2 0" stroke="#A2142F"/>
<path d="M65.5 1047.4l2.9 -0.1 4.5 -0.1 5.4 -0.4 6.1 -1.1 6.6 -2.4 7.1 -3.7 7.5 -5 8 -5.9 8.2 -6.2 8.6 -6.3 9 -6.1 9.2 -5.6 9.5 -5.3 9.7 -4.9 10 -4.6 10.2 -4.4 10.4 -4.1 10.7 -3.7 10.9 -3.2 11.1 -2.7 11.2 -2.1 11.5 -1.6 11.6 -1.2 11.9 -0.9 12 -0.7 12.1 -0.8 12.4 -0.9 12.4 -0.8 12.7 -0.8 12.8 -0.4 13 -0.2 13.1 -0.1 13.2 0" stroke="#0072BD"/>
<path d="M65.5 1046.3l2.9 -0.1 4.5 -0.1 5.4 -0.4 6.1 -1.2 6.6 -2.3 7.1 -3.7 7.5 -4.9 8 -5.8 8.2 -6.2 8.6 -6.2 9 -5.9 9.2 -5.6 9.5 -5.2 9.7 -4.8 10 -4.6 10.2 -4.4 10.4 -4 10.7 -3.7 10.9 -3.1 11.1 -2.6 11.2 -2.1 11.5 -1.6 11.6 -1.1 11.9 -0.9 12 -0.8 12.1 -0.8 12.4 -0.8 12.4 -0.9 12.7 -0.7 12.8 -0.4 13 -0.2 13.1 -0.1 13.2 0" stroke="#D95319"/>
<path d="M65.5 1045.1l2.9 -0.1 4.5 -0.1 5.4 -0.4 6.1 -1.1 6.6 -2.3 7.1 -3.6 7.5 -4.9 8 -5.7 8.2 -6.1 8.6 -6.1 9 -5.9 9.2 -5.5 9.5 -5.1 9.7 -4.8 10 -4.5 10.2 -4.3 10.4 -4 10.7 -3.6 10.9 -3.1 11.1 -2.6 11.2 -2 11.5 -1.6 11.6 -1.1 11.9 -0.9 12 -0.8 12.1 -0.7 12.4 -0.8 12.4 -0.9 12.7 -0.7 12.8 -0.4 13 -0.2 13.1 -0.1 13.2 0" stroke="#EDB120"/>
<path d="M65.5 1043.9l2.9 -0.1 4.5 0 5.4 -0.4 6.1 -1.1 6.6 -2.3 7.1 -3.6 7.5 -4.8 8 -5.6 8.2 -6 8.6 -6 9 -5.8 9.2 -5.4 9.5 -5.1 9.7 -4.7 10 -4.5 10.2 -4.2 10.4 -3.9 10.7 -3.6 10.9 -3.1 11.1 -2.5 11.2 -2 11.5 -1.6 11.6 -1.1 11.9 -0.9 12 -0.7 12.1 -0.7 12.4 -0.9 12.4 -0.8 12.7 -0.7 12.8 -0.5 13 -0.1 13.1 -0.1 13.2 0" stroke="#7E2F8E"/>
<path d="M65.5 1042.8l2.9 -0.1 4.5 -0.1 5.4 -0.4 6.1 -1.1 6.6 -2.2 7.1 -3.5 7.5 -4.7 8 -5.6 8.2 -5.9 8.6 -6 9 -5.7 9.2 -5.3 9.5 -5 9.7 -4.7 10 -4.4 10.2 -4.1 10.4 -3.9 10.7 -3.5 10.9 -3.1 11.1 -2.5 11.2 -1.9 11.5 -1.6 11.6 -1.1 11.9 -0.8 12 -0.8 12.1 -0.7 12.4 -0.8 12.4 -0.8 12.7 -0.7 12.8 -0.5 13 -0.1 13.1 -0.1 13.2 0" stroke="#77AC30"/>
<path d="M65.5 1041.6l2.9 -0.1 4.5 -0.1 5.4 -0.3 6.1 -1.1 6.6 -2.2 7.1 -3.5 7.5 -4.6 8 -5.5 8.2 -5.8 8.6 -5.9 9 -5.6 9.2 -5.3 9.5 -4.9 9.7 -4.6 10 -4.3 10.2 -4.2 10.4 -3.8 10.7 -3.4 10.9 -3 11.1 -2.5 11.2 -2 11.5 -1.4 11.6 -1.2 11.9 -0.8 12 -0.7 12.1 -0.7 12.4 -0.8 12.4 -0.8 12.7 -0.7 12.8 -0.5 13 -0.1 13.1 -0.1 13.2 0" stroke="#4DBEEE"/>
<path d="M65.5 1040.5l2.9 -0.1 4.5 -0.1 5.4 -0.4 6.1 -1 6.6 -2.2 7.1 -3.4 7.5 -4.6 8 -5.4 8.2 -5.8 8.6 -5.8 9 -5.5 9.2 -5.2 9.5 -4.8 9.7 -4.6 10 -4.2 10.2 -4.1 10.4 -3.7 10.7 -3.5 10.9 -2.9 11.1 -2.4 11.2 -2 11.5 -1.4 11.6 -1.1 11.9 -0.9 12 -0.7 12.1 -0.7 12.4 -0.7 12.4 -0.9 12.7 -0.6 12.8 -0.5 13 -0.1 13.1 -0.1 13.2 0" stroke="#A2142F"/>
<path d="M65.5 1039.3l2.9 -0.1 4.5 -0.1 5.4 -0.3 6.1 -1.1 6.6 -2.1 7.1 -3.4 7.5 -4.5 8 -5.3 8.2 -5.7 8.6 -5.7 9 -5.5 9.2 -5.1 9.5 -4.7 9.7 -4.5 10 -4.2 10.2 -4 10.4 -3.7 10.7 -3.4 10.9 -2.9 11.1 -2.4 11.2 -1.9 11.5 -1.4 11.6 -1.1 11.9 -0.8 12 -0.7 12.1 -0.7 12.4 -0.8 12.4 -0.8 12.7 -0.7 12.8 -0.4 13 -0.1 13.1 -0.1 13.2 0" stroke="#0072BD"/>
<path d="M65.5 1038.2l2.9 -0.1 4.5 -0.1 5.4 -0.4 6.1 -1 6.6 -2.1 7.1 -3.3 7.5 -4.5 8 -5.2 8.2 -5.6 8.6 -5.6 9 -5.4 9.2 -5.1 9.5 -4.6 9.7 -4.4 10 -4.2 10.2 -3.9 10.4 -3.7 10.7 -3.3 10.9 -2.9 11.1 -2.3 11.2 -1.9 11.5 -1.4 11.6 -1.1 11.9 -0.8 12 -0.7 12.1 -0.7 12.4 -0.7 12.4 -0.8 12.7 -0.7 12.8 -0.4 13 -0.1 13.1 -0.1 13.2 0" stroke="#D95319"/>
<path d="M65.5 1037l2.9 -0.1 4.5 -0.1 5.4 -0.3 6.1 -1 6.6 -2.1 7.1 -3.3 7.5 -4.4 8 -5.1 8.2 -5.5 8.6 -5.6 9 -5.3 9.2 -4.9 9.5 -4.7 9.7 -4.3 10 -4.1 10.2 -3.8 10.4 -3.7 10.7 -3.2 10.9 -2.8 11.1 -2.4 11.2 -1.8 11.5 -1.4 11.6 -1.1 11.9 -0.8 12 -0.6 12.1 -0.7 12.4 -0.7 12.4 -0.8 12.7 -0.7 12.8 -0.4 13 -0.1 13.1 -0.1 13.2 0" stroke="#EDB120"/>
<path d="M65.5 1035.8l2.9 -0.1 4.5 0 5.4 -0.4 6.1 -1 6.6 -2 7.1 -3.3 7.5 -4.3 8 -5 8.2 -5.5 8.6 -5.4 9 -5.2 9.2 -4.9 9.5 -4.6 9.7 -4.2 10 -4.1 10.2 -3.8 10.4 -3.5 10.7 -3.2 10.9 -2.8 11.1 -2.3 11.2 -1.8 11.5 -1.4 11.6 -1 11.9 -0.8 12 -0.7 12.1 -0.6 12.4 -0.8 12.4 -0.7 12.7 -0.7 12.8 -0.4 13 -0.1 13.1 -0.1 13.2 0" stroke="#7E2F8E"/>
<path d="M65.5 1034.7l2.9 -0.1 4.5 -0.1 5.4 -0.3 6.1 -1 6.6 -2 7.1 -3.2 7.5 -4.2 8 -5 8.2 -5.4 8.6 -5.4 9 -5.1 9.2 -4.8 9.5 -4.5 9.7 -4.2 10 -3.9 10.2 -3.8 10.4 -3.5 10.7 -3.2 10.9 -2.7 11.1 -2.3 11.2 -1.7 11.5 -1.4 11.6 -1 11.9 -0.8 12 -0.6 12.1 -0.7 12.4 -0.7 12.4 -0.8 12.7 -0.6 12.8 -0.4 13 -0.1 13.1 -0.1 13.2 0" stroke="#77AC30"/>
<path d="M65.5 1033.5l2.9 -0.1 4.5 0 5.4 -0.4 6.1 -0.9 6.6 -2 7.1 -3.2 7.5 -4.1 8 -4.9 8.2 -5.3 8.6 -5.3 9 -5 9.2 -4.8 9.5 -4.4 9.7 -4.1 10 -3.9 10.2 -3.7 10.4 -3.5 10.7 -3.1 10.9 -2.7 11.1 -2.2 11.2 -1.8 11.5 -1.3 11.6 -1 11.9 -0.7 12 -0.7 12.1 -0.6 12.4 -0.7 12.4 -0.8 12.7 -0.6 12.8 -0.4 13 -0.2 13.1 0 13.2 0" stroke="#4DBEEE"/>
<path d="M65.5 1032.4l2.9 -0.1 4.5 -0.1 5.4 -0.3 6.1 -1 6.6 -1.9 7.1 -3.1 7.5 -4.1 8 -4.9 8.2 -5.1 8.6 -5.2 9 -5 9.2 -4.7 9.5 -4.3 9.7 -4.1 10 -3.8 10.2 -3.6 10.4 -3.4 10.7 -3.1 10.9 -2.6 11.1 -2.2 11.2 -1.8 11.5 -1.3 11.6 -1 11.9 -0.7 12 -0.6 12.1 -0.7 12.4 -0.7 12.4 -0.7 12.7 -0.6 12.8 -0.4 13 -0.2 13.1 0 13.2 0" stroke="#A2142F"/>
<path d="M65.5 1031.2l2.9 -0.1 4.5 -0.1 5.4 -0.3 6.1 -0.9 6.6 -1.9 7.1 -3.1 7.5 -4 8 -4.8 8.2 -5.1 8.6 -5.1 9 -4.9 9.2 -4.6 9.5 -4.2 9.7 -4 10 -3.8 10.2 -3.6 10.4 -3.3 10.7 -3 10.9 -2.6 11.1 -2.2 11.2 -1.7 11.5 -1.3 11.6 -0.9 11.9 -0.8 12 -0.6 12.1 -0.6 12.4 -0.7 12.4 -0.7 12.7 -0.6 12.8 -0.4 13 -0.2 13.1 0 13.2 0" stroke="#0072BD"/>
<path d="M65.5 1030l2.9 0 4.5 -0.1 5.4 -0.3 6.1 -1 6.6 -1.8 7.1 -3 7.5 -4 8 -4.7 8.2 -5 8.6 -5 9 -4.8 9.2 -4.5 9.5 -4.2 9.7 -4 10 -3.7 10.2 -3.5 10.4 -3.3 10.7 -2.9 10.9 -2.6 11.1 -2.1 11.2 -1.7 11.5 -1.3 11.6 -0.9 11.9 -0.7 12 -0.6 12.1 -0.7 12.4 -0.6 12.4 -0.7 12.7 -0.6 12.8 -0.4 13 -0.2 13.1 0 13.2 0" stroke="#D95319"/>
<path d="M65.5 1028.9l2.9 -0.1 4.5 -0.1 5.4 -0.3 6.1 -0.9 6.6 -1.8 7.1 -3 7.5 -3.9 8 -4.6 8.2 -4.9 8.6 -4.9 9 -4.8 9.2 -4.4 9.5 -4.1 9.7 -3.9 10 -3.7 10.2 -3.4 10.4 -3.2 10.7 -2.9 10.9 -2.6 11.1 -2.1 11.2 -1.6 11.5 -1.3 11.6 -0.9 11.9 -0.7 12 -0.6 12.1 -0.6 12.4 -0.7 12.4 -0.7 12.7 -0.5 12.8 -0.4 13 -0.2 13.1 0 13.2 0" stroke="#EDB120"/>
<path d="M65.5 1027.7l2.9 0 4.5 -0.1 5.4 -0.3 6.1 -0.9 6.6 -1.8 7.1 -2.9 7.5 -3.9 8 -4.5 8.2 -4.8 8.6 -4.9 9 -4.6 9.2 -4.4 9.5 -4.1 9.7 -3.8 10 -3.5 10.2 -3.4 10.4 -3.2 10.7 -2.9 10.9 -2.4 11.1 -2.1 11.2 -1.6 11.5 -1.2 11.6 -1 11.9 -0.7 12 -0.6 12.1 -0.5 12.4 -0.7 12.4 -0.7 12.7 -0.6 12.8 -0.3 13 -0.2 13.1 0 13.2 0" stroke="#7E2F8E"/>
<path d="M65.5 1026.6l2.9 -0.1 4.5 -0.1 5.4 -0.3 6.1 -0.9 6.6 -1.7 7.1 -2.9 7.5 -3.8 8 -4.4 8.2 -4.8 8.6 -4.7 9 -4.6 9.2 -4.3 9.5 -4 9.7 -3.7 10 -3.5 10.2 -3.4 10.4 -3.1 10.7 -2.8 10.9 -2.4 11.1 -2 11.2 -1.6 11.5 -1.2 11.6 -0.9 11.9 -0.7 12 -0.6 12.1 -0.6 12.4 -0.6 12.4 -0.7 12.7 -0.6 12.8 -0.3 13 -0.2 13.1 0 13.2 0" stroke="#77AC30"/>
<path d="M65.5 1025.4l2.9 -0.1 4.5 0 5.4 -0.3 6.1 -0.9 6.6 -1.8 7.1 -2.7 7.5 -3.7 8 -4.4 8.2 -4.7 8.6 -4.7 9 -4.5 9.2 -4.2 9.5 -3.9 9.7 -3.6 10 -3.5 10.2 -3.3 10.4 -3 10.7 -2.8 10.9 -2.4 11.1 -2 11.2 -1.5 11.5 -1.2 11.6 -0.9 11.9 -0.7 12 -0.6 12.1 -0.5 12.4 -0.7 12.4 -0.6 12.7 -0.6 12.8 -0.3 13 -0.2 13.1 0 13.2 0" stroke="#4DBEEE"/>
<path d="M65.5 1024.3l2.9 -0.1 4.5 -0.1 5.4 -0.3 6.1 -0.8 6.6 -1.8 7.1 -2.7 7.5 -3.6 8 -4.3 8.2 -4.6 8.6 -4.6 9 -4.4 9.2 -4.1 9.5 -3.9 9.7 -3.6 10 -3.4 10.2 -3.2 10.4 -3 10.7 -2.7 10.9 -2.4 11.1 -1.9 11.2 -1.6 11.5 -1.1 11.6 -0.9 11.9 -0.7 12 -0.5 12.1 -0.6 12.4 -0.6 12.4 -0.6 12.7 -0.6 12.8 -0.3 13 -0.2 13.1 0 13.2 0" stroke="#A2142F"/>
<path d="M65.5 1023.1l2.9 -0.1 4.5 0 5.4 -0.3 6.1 -0.9 6.6 -1.7 7.1 -2.6 7.5 -3.6 8 -4.2 8.2 -4.5 8.6 -4.5 9 -4.4 9.2 -4 9.5 -3.8 9.7 -3.5 10 -3.4 10.2 -3.1 10.4 -3 10.7 -2.6 10.9 -2.4 11.1 -1.9 11.2 -1.5 11.5 -1.1 11.6 -0.9 11.9 -0.6 12 -0.6 12.1 -0.5 12.4 -0.6 12.4 -0.7 12.7 -0.5 12.8 -0.3 13 -0.2 13.1 0 13.2 0" stroke="#0072BD"/>
<path d="M65.5 1021.9l2.9 0 4.5 -0.1 5.4 -0.3 6.1 -0.8 6.6 -1.7 7.1 -2.6 7.5 -3.5 8 -4.1 8.2 -4.4 8.6 -4.5 9 -4.2 9.2 -4 9.5 -3.7 9.7 -3.5 10 -3.3 10.2 -3.1 10.4 -2.9 10.7 -2.6 10.9 -2.2 11.1 -1.9 11.2 -1.5 11.5 -1.1 11.6 -0.8 11.9 -0.7 12 -0.5 12.1 -0.6 12.4 -0.6 12.4 -0.6 12.7 -0.5 12.8 -0.3 13 -0.2 13.1 0 13.2 0" stroke="#D95319"/>
<path d="M65.5 1020.8l2.9 -0.1 4.5 -0.1 5.4 -0.2 6.1 -0.8 6.6 -1.7 7.1 -2.5 7.5 -3.5 8 -4 8.2 -4.4 8.6 -4.3 9 -4.2 9.2 -3.9 9.5 -3.6 9.7 -3.4 10 -3.3 10.2 -3 10.4 -2.8 10.7 -2.6 10.9 -2.2 11.1 -1.8 11.2 -1.5 11.5 -1.1 11.6 -0.8 11.9 -0.6 12 -0.6 12.1 -0.5 12.4 -0.6 12.4 -0.6 12.7 -0.5 12.8 -0.3 13 -0.2 13.1 0 13.2 0" stroke="#EDB120"/>
<path d="M65.5 1019.6l2.9 0 4.5 -0.1 5.4 -0.3 6.1 -0.8 6.6 -1.6 7.1 -2.5 7.5 -3.4 8 -3.9 8.2 -4.3 8.6 -4.3 9 -4 9.2 -3.9 9.5 -3.5 9.7 -3.4 10 -3.1 10.2 -3 10.4 -2.8 10.7 -2.5 10.9 -2.2 11.1 -1.8 11.2 -1.4 11.5 -1.1 11.6 -0.8 11.9 -0.6 12 -0.5 12.1 -0.5 12.4 -0.6 12.4 -0.6 12.7 -0.5 12.8 -0.3 13 -0.2 13.1 0 13.2 0" stroke="#7E2F8E"/>
<path d="M65.5 1018.5l2.9 -0.1 4.5 -0.1 5.4 -0.2 6.1 -0.8 6.6 -1.6 7.1 -2.4 7.5 -3.4 8 -3.8 8.2 -4.2 8.6 -4.2 9 -4 9.2 -3.8 9.5 -3.5 9.7 -3.2 10 -3.1 10.2 -2.9 10.4 -2.8 10.7 -2.4 10.9 -2.2 11.1 -1.7 11.2 -1.4 11.5 -1.1 11.6 -0.8 11.9 -0.6 12 -0.5 12.1 -0.5 12.4 -0.6 12.4 -0.5 12.7 -0.5 12.8 -0.3 13 -0.2 13.1 0 13.2 0" stroke="#77AC30"/>
<path d="M65.5 1017.3l2.9 -0.1 4.5 0 5.4 -0.3 6.1 -0.7 6.6 -1.6 7.1 -2.4 7.5 -3.2 8 -3.9 8.2 -4 8.6 -4.1 9 -4 9.2 -3.6 9.5 -3.5 9.7 -3.2 10 -3 10.2 -2.9 10.4 -2.6 10.7 -2.4 10.9 -2.1 11.1 -1.8 11.2 -1.3 11.5 -1.1 11.6 -0.7 11.9 -0.6 12 -0.5 12.1 -0.5 12.4 -0.6 12.4 -0.6 12.7 -0.4 12.8 -0.3 13 -0.2 13.1 0 13.2 0" stroke="#4DBEEE"/>
<path d="M65.5 1016.1l2.9 0 4.5 -0.1 5.4 -0.2 6.1 -0.8 6.6 -1.5 7.1 -2.4 7.5 -3.1 8 -3.8 8.2 -4 8.6 -4 9 -3.8 9.2 -3.6 9.5 -3.4 9.7 -3.1 10 -3 10.2 -2.8 10.4 -2.6 10.7 -2.4 10.9 -2 11.1 -1.7 11.2 -1.3 11.5 -1.1 11.6 -0.7 11.9 -0.6 12 -0.5 12.1 -0.5 12.4 -0.5 12.4 -0.6 12.7 -0.5 12.8 -0.2 13 -0.2 13.1 0 13.2 0" stroke="#A2142F"/>
<path d="M65.5 1015l2.9 -0.1 4.5 0 5.4 -0.3 6.1 -0.7 6.6 -1.5 7.1 -2.3 7.5 -3.1 8 -3.7 8.2 -3.9 8.6 -3.9 9 -3.8 9.2 -3.5 9.5 -3.3 9.7 -3.1 10 -2.9 10.2 -2.7 10.4 -2.6 10.7 -2.3 10.9 -2 11.1 -1.7 11.2 -1.3 11.5 -1 11.6 -0.7 11.9 -0.6 12 -0.4 12.1 -0.5 12.4 -0.5 12.4 -0.6 12.7 -0.5 12.8 -0.2 13 -0.2 13.1 0 13.2 0" stroke="#0072BD"/>
<path d="M65.5 1013.8l2.9 0 4.5 -0.1 5.4 -0.2 6.1 -0.7 6.6 -1.5 7.1 -2.3 7.5 -3 8 -3.6 8.2 -3.8 8.6 -3.9 9 -3.6 9.2 -3.5 9.5 -3.2 9.7 -3 10 -2.9 10.2 -2.6 10.4 -2.5 10.7 -2.3 10.9 -2 11.1 -1.6 11.2 -1.3 11.5 -0.9 11.6 -0.8 11.9 -0.5 12 -0.5 12.1 -0.5 12.4 -0.5 12.4 -0.5 12.7 -0.5 12.8 -0.3 13 -0.1 13.1 0 13.2 0" stroke="#D95319"/>
<path d="M65.5 1012.7l2.9 -0.1 4.5 0 5.4 -0.3 6.1 -0.7 6.6 -1.4 7.1 -2.2 7.5 -3 8 -3.5 8.2 -3.7 8.6 -3.8 9 -3.6 9.2 -3.4 9.5 -3.1 9.7 -3 10 -2.7 10.2 -2.7 10.4 -2.4 10.7 -2.2 10.9 -1.9 11.1 -1.6 11.2 -1.3 11.5 -0.9 11.6 -0.7 11.9 -0.6 12 -0.4 12.1 -0.5 12.4 -0.5 12.4 -0.5 12.7 -0.5 12.8 -0.3 13 -0.1 13.1 0 13.2 0" stroke="#EDB120"/>
<path d="M65.5 1011.5l2.9 0 4.5 -0.1 5.4 -0.2 6.1 -0.7 6.6 -1.4 7.1 -2.2 7.5 -2.9 8 -3.4 8.2 -3.7 8.6 -3.6 9 -3.6 9.2 -3.3 9.5 -3 9.7 -2.9 10 -2.7 10.2 -2.6 10.4 -2.4 10.7 -2.1 10.9 -1.9 11.1 -1.6 11.2 -1.2 11.5 -0.9 11.6 -0.7 11.9 -0.6 12 -0.4 12.1 -0.4 12.4 -0.5 12.4 -0.6 12.7 -0.4 12.8 -0.3 13 -0.1 13.1 0 13.2 0" stroke="#7E2F8E"/>
<path d="M65.5 1010.4l2.9 -0.1 4.5 -0.1 5.4 -0.2 6.1 -0.6 6.6 -1.4 7.1 -2.1 7.5 -2.9 8 -3.3 8.2 -3.6 8.6 -3.6 9 -3.4 9.2 -3.2 9.5 -3 9.7 -2.8 10 -2.7 10.2 -2.5 10.4 -2.4 10.7 -2.1 10.9 -1.8 11.1 -1.5 11.2 -1.2 11.5 -0.9 11.6 -0.7 11.9 -0.5 12 -0.5 12.1 -0.4 12.4 -0.5 12.4 -0.5 12.7 -0.4 12.8 -0.3 13 -0.1 13.1 0 13.2 0" stroke="#77AC30"/>
<path d="M65.5 1009.2l2.9 -0.1 4.5 0 5.4 -0.2 6.1 -0.7 6.6 -1.3 7.1 -2.1 7.5 -2.7 8 -3.3 8.2 -3.5 8.6 -3.5 9 -3.4 9.2 -3.1 9.5 -2.9 9.7 -2.8 10 -2.6 10.2 -2.4 10.4 -2.3 10.7 -2.1 10.9 -1.8 11.1 -1.5 11.2 -1.1 11.5 -0.9 11.6 -0.7 11.9 -0.5 12 -0.4 12.1 -0.4 12.4 -0.5 12.4 -0.5 12.7 -0.4 12.8 -0.3 13 -0.1 13.1 0 13.2 0" stroke="#4DBEEE"/>
<path d="M65.5 1008l2.9 0 4.5 -0.1 5.4 -0.2 6.1 -0.6 6.6 -1.3 7.1 -2 7.5 -2.7 8 -3.2 8.2 -3.4 8.6 -3.5 9 -3.2 9.2 -3.1 9.5 -2.9 9.7 -2.6 10 -2.6 10.2 -2.4 10.4 -2.2 10.7 -2 10.9 -1.8 11.1 -1.4 11.2 -1.1 11.5 -0.9 11.6 -0.6 11.9 -0.5 12 -0.5 12.1 -0.4 12.4 -0.4 12.4 -0.5 12.7 -0.4 12.8 -0.3 13 -0.1 13.1 0 13.2 0" stroke="#A2142F"/>
<path d="M65.5 1006.9l2.9 -0.1 4.5 0 5.4 -0.2 6.1 -0.6 6.6 -1.3 7.1 -2 7.5 -2.6 8 -3.1 8.2 -3.4 8.6 -3.3 9 -3.2 9.2 -3 9.5 -2.8 9.7 -2.6 10 -2.5 10.2 -2.3 10.4 -2.2 10.7 -1.9 10.9 -1.7 11.1 -1.4 11.2 -1.2 11.5 -0.8 11.6 -0.6 11.9 -0.5 12 -0.4 12.1 -0.4 12.4 -0.5 12.4 -0.4 12.7 -0.4 12.8 -0.3 13 -0.1 13.1 0 13.2 0" stroke="#0072BD"/>
<path d="M65.5 1005.7l2.9 0 4.5 -0.1 5.4 -0.2 6.1 -0.6 6.6 -1.2 7.1 -1.9 7.5 -2.6 8 -3 8.2 -3.3 8.6 -3.2 9 -3.1 9.2 -3 9.5 -2.7 9.7 -2.5 10 -2.4 10.2 -2.3 10.4 -2.1 10.7 -1.9 10.9 -1.7 11.1 -1.4 11.2 -1.1 11.5 -0.8 11.6 -0.6 11.9 -0.5 12 -0.4 12.1 -0.4 12.4 -0.4 12.4 -0.5 12.7 -0.3 12.8 -0.3 13 -0.1 13.1 0 13.2 0" stroke="#D95319"/>
<path d="M65.5 1004.6l2.9 -0.1 4.5 0 5.4 -0.2 6.1 -0.6 6.6 -1.2 7.1 -1.9 7.5 -2.5 8 -2.9 8.2 -3.2 8.6 -3.2 9 -3 9.2 -2.8 9.5 -2.7 9.7 -2.5 10 -2.3 10.2 -2.2 10.4 -2.1 10.7 -1.9 10.9 -1.6 11.1 -1.3 11.2 -1.1 11.5 -0.8 11.6 -0.6 11.9 -0.4 12 -0.4 12.1 -0.4 12.4 -0.4 12.4 -0.5 12.7 -0.4 12.8 -0.2 13 -0.1 13.1 0 13.2 0" stroke="#EDB120"/>
<path d="M65.5 1003.4l2.9 0 4.5 -0.1 5.4 -0.2 6.1 -0.5 6.6 -1.2 7.1 -1.8 7.5 -2.5 8 -2.8 8.2 -3.1 8.6 -3.1 9 -3 9.2 -2.7 9.5 -2.6 9.7 -2.4 10 -2.3 10.2 -2.2 10.4 -2 10.7 -1.8 10.9 -1.6 11.1 -1.3 11.2 -1 11.5 -0.8 11.6 -0.6 11.9 -0.4 12 -0.4 12.1 -0.3 12.4 -0.5 12.4 -0.4 12.7 -0.4 12.8 -0.2 13 -0.1 13.1 0 13.2 0" stroke="#7E2F8E"/>
<path d="M65.5 1002.2l2.9 0 4.5 0 5.4 -0.2 6.1 -0.6 6.6 -1.1 7.1 -1.8 7.5 -2.4 8 -2.8 8.2 -2.9 8.6 -3 9 -2.9 9.2 -2.7 9.5 -2.5 9.7 -2.4 10 -2.2 10.2 -2.1 10.4 -1.9 10.7 -1.8 10.9 -1.5 11.1 -1.3 11.2 -1 11.5 -0.8 11.6 -0.5 11.9 -0.5 12 -0.3 12.1 -0.4 12.4 -0.4 12.4 -0.4 12.7 -0.4 12.8 -0.2 13 -0.1 13.1 0 13.2 0" stroke="#77AC30"/>
<path d="M65.5 1001.1l2.9 -0.1 4.5 0 5.4 -0.2 6.1 -0.5 6.6 -1.1 7.1 -1.7 7.5 -2.3 8 -2.8 8.2 -2.9 8.6 -2.9 9 -2.8 9.2 -2.6 9.5 -2.4 9.7 -2.3 10 -2.2 10.2 -2 10.4 -1.9 10.7 -1.7 10.9 -1.5 11.1 -1.2 11.2 -1 11.5 -0.8 11.6 -0.5 11.9 -0.4 12 -0.4 12.1 -0.3 12.4 -0.4 12.4 -0.4 12.7 -0.4 12.8 -0.2 13 -0.1 13.1 0 13.2 0" stroke="#4DBEEE"/>
<path d="M65.5 999.9l2.9 0 4.5 -0.1 5.4 -0.1 6.1 -0.6 6.6 -1 7.1 -1.7 7.5 -2.2 8 -2.7 8.2 -2.8 8.6 -2.8 9 -2.7 9.2 -2.6 9.5 -2.3 9.7 -2.3 10 -2.1 10.2 -1.9 10.4 -1.9 10.7 -1.6 10.9 -1.5 11.1 -1.2 11.2 -0.9 11.5 -0.7 11.6 -0.6 11.9 -0.4 12 -0.3 12.1 -0.4 12.4 -0.4 12.4 -0.4 12.7 -0.3 12.8 -0.2 13 -0.1 13.1 0 13.2 0" stroke="#A2142F"/>
<path d="M65.5 998.8l2.9 -0.1 4.5 0 5.4 -0.2 6.1 -0.5 6.6 -1 7.1 -1.6 7.5 -2.2 8 -2.6 8.2 -2.7 8.6 -2.8 9 -2.6 9.2 -2.5 9.5 -2.3 9.7 -2.1 10 -2 10.2 -2 10.4 -1.7 10.7 -1.7 10.9 -1.4 11.1 -1.1 11.2 -0.9 11.5 -0.7 11.6 -0.6 11.9 -0.4 12 -0.3 12.1 -0.3 12.4 -0.4 12.4 -0.4 12.7 -0.3 12.8 -0.2 13 -0.1 13.1 0 13.2 0" stroke="#0072BD"/>
<path d="M65.5 997.6l2.9 0 4.5 -0.1 5.4 -0.1 6.1 -0.5 6.6 -1 7.1 -1.6 7.5 -2.1 8 -2.5 8.2 -2.6 8.6 -2.7 9 -2.6 9.2 -2.3 9.5 -2.3 9.7 -2.1 10 -1.9 10.2 -1.9 10.4 -1.7 10.7 -1.6 10.9 -1.3 11.1 -1.2 11.2 -0.9 11.5 -0.6 11.6 -0.5 11.9 -0.4 12 -0.3 12.1 -0.4 12.4 -0.3 12.4 -0.4 12.7 -0.3 12.8 -0.2 13 -0.1 13.1 0 13.2 0" stroke="#D95319"/>
<path d="M65.5 996.5l2.9 -0.1 4.5 0 5.4 -0.2 6.1 -0.5 6.6 -0.9 7.1 -1.6 7.5 -2 8 -2.4 8.2 -2.6 8.6 -2.5 9 -2.5 9.2 -2.3 9.5 -2.2 9.7 -2 10 -1.9 10.2 -1.8 10.4 -1.7 10.7 -1.5 10.9 -1.3 11.1 -1.1 11.2 -0.9 11.5 -0.6 11.6 -0.5 11.9 -0.4 12 -0.3 12.1 -0.3 12.4 -0.4 12.4 -0.3 12.7 -0.3 12.8 -0.2 13 -0.1 13.1 0 13.2 0" stroke="#EDB120"/>
<path d="M65.5 995.3l2.9 0 4.5 -0.1 5.4 -0.1 6.1 -0.5 6.6 -0.9 7.1 -1.5 7.5 -2 8 -2.3 8.2 -2.5 8.6 -2.5 9 -2.4 9.2 -2.2 9.5 -2.1 9.7 -1.9 10 -1.9 10.2 -1.7 10.4 -1.7 10.7 -1.4 10.9 -1.3 11.1 -1.1 11.2 -0.8 11.5 -0.6 11.6 -0.5 11.9 -0.3 12 -0.3 12.1 -0.4 12.4 -0.3 12.4 -0.3 12.7 -0.3 12.8 -0.2 13 -0.1 13.1 0 13.2 0" stroke="#7E2F8E"/>
<path d="M65.5 994.1l2.9 0 4.5 0 5.4 -0.2 6.1 -0.4 6.6 -0.9 7.1 -1.5 7.5 -1.9 8 -2.2 8.2 -2.4 8.6 -2.4 9 -2.3 9.2 -2.2 9.5 -2 9.7 -1.9 10 -1.8 10.2 -1.7 10.4 -1.5 10.7 -1.4 10.9 -1.3 11.1 -1 11.2 -0.8 11.5 -0.6 11.6 -0.5 11.9 -0.3 12 -0.3 12.1 -0.3 12.4 -0.3 12.4 -0.4 12.7 -0.2 12.8 -0.2 13 -0.1 13.1 0 13.2 0" stroke="#77AC30"/>
<path d="M65.5 993l2.9 -0.1 4.5 0 5.4 -0.1 6.1 -0.5 6.6 -0.8 7.1 -1.4 7.5 -1.9 8 -2.1 8.2 -2.3 8.6 -2.4 9 -2.2 9.2 -2.1 9.5 -1.9 9.7 -1.8 10 -1.8 10.2 -1.6 10.4 -1.5 10.7 -1.4 10.9 -1.2 11.1 -0.9 11.2 -0.8 11.5 -0.6 11.6 -0.4 11.9 -0.4 12 -0.3 12.1 -0.2 12.4 -0.4 12.4 -0.3 12.7 -0.3 12.8 -0.1 13 -0.1 13.1 0 13.2 0" stroke="#4DBEEE"/>
<path d="M65.5 991.8l2.9 0 4.5 0 5.4 -0.2 6.1 -0.4 6.6 -0.8 7.1 -1.4 7.5 -1.7 8 -2.1 8.2 -2.3 8.6 -2.2 9 -2.2 9.2 -2 9.5 -1.8 9.7 -1.8 10 -1.7 10.2 -1.5 10.4 -1.5 10.7 -1.3 10.9 -1.1 11.1 -1 11.2 -0.7 11.5 -0.6 11.6 -0.4 11.9 -0.3 12 -0.3 12.1 -0.3 12.4 -0.3 12.4 -0.3 12.7 -0.3 12.8 -0.1 13 -0.1 13.1 0 13.2 0" stroke="#A2142F"/>
<path d="M65.5 990.7l2.9 -0.1 4.5 0 5.4 -0.1 6.1 -0.4 6.6 -0.8 7.1 -1.3 7.5 -1.7 8 -2 8.2 -2.2 8.6 -2.2 9 -2 9.2 -2 9.5 -1.8 9.7 -1.7 10 -1.5 10.2 -1.6 10.4 -1.4 10.7 -1.2 10.9 -1.1 11.1 -0.9 11.2 -0.8 11.5 -0.5 11.6 -0.4 11.9 -0.3 12 -0.3 12.1 -0.2 12.4 -0.3 12.4 -0.3 12.7 -0.3 12.8 -0.1 13 -0.1 13.1 0 13.2 0" stroke="#0072BD"/>
<path d="M65.5 989.5l2.9 0 4.5 0 5.4 -0.2 6.1 -0.4 6.6 -0.8 7.1 -1.2 7.5 -1.6 8 -2 8.2 -2 8.6 -2.1 9 -2 9.2 -1.9 9.5 -1.7 9.7 -1.6 10 -1.5 10.2 -1.5 10.4 -1.3 10.7 -1.3 10.9 -1 11.1 -0.9 11.2 -0.7 11.5 -0.5 11.6 -0.4 11.9 -0.3 12 -0.2 12.1 -0.3 12.4 -0.3 12.4 -0.2 12.7 -0.3 12.8 -0.1 13 -0.1 13.1 0 13.2 0" stroke="#D95319"/>
<path d="M65.5 988.4l2.9 -0.1 4.5 0 5.4 -0.1 6.1 -0.4 6.6 -0.8 7.1 -1.1 7.5 -1.6 8 -1.9 8.2 -2 8.6 -2 9 -1.9 9.2 -1.7 9.5 -1.7 9.7 -1.6 10 -1.4 10.2 -1.4 10.4 -1.3 10.7 -1.2 10.9 -1 11.1 -0.8 11.2 -0.7 11.5 -0.5 11.6 -0.4 11.9 -0.3 12 -0.2 12.1 -0.2 12.4 -0.3 12.4 -0.3 12.7 -0.2 12.8 -0.1 13 -0.1 13.1 0 13.2 0" stroke="#EDB120"/>
<path d="M65.5 987.2l2.9 0 4.5 -0.1 5.4 -0.1 6.1 -0.3 6.6 -0.8 7.1 -1.1 7.5 -1.5 8 -1.8 8.2 -1.9 8.6 -1.9 9 -1.8 9.2 -1.7 9.5 -1.6 9.7 -1.5 10 -1.4 10.2 -1.4 10.4 -1.2 10.7 -1.1 10.9 -1 11.1 -0.8 11.2 -0.6 11.5 -0.5 11.6 -0.4 11.9 -0.2 12 -0.3 12.1 -0.2 12.4 -0.2 12.4 -0.3 12.7 -0.2 12.8 -0.1 13 -0.1 13.1 0 13.2 0" stroke="#7E2F8E"/>
<path d="M65.5 986l2.9 0 4.5 0 5.4 -0.1 6.1 -0.4 6.6 -0.7 7.1 -1.1 7.5 -1.4 8 -1.7 8.2 -1.8 8.6 -1.8 9 -1.8 9.2 -1.6 9.5 -1.6 9.7 -1.4 10 -1.3 10.2 -1.3 10.4 -1.2 10.7 -1.1 10.9 -0.9 11.1 -0.8 11.2 -0.6 11.5 -0.4 11.6 -0.4 11.9 -0.2 12 -0.2 12.1 -0.2 12.4 -0.3 12.4 -0.2 12.7 -0.2 12.8 -0.1 13 -0.1 13.1 0 13.2 0" stroke="#77AC30"/>
<path d="M65.5 984.9l2.9 0 4.5 -0.1 5.4 -0.1 6.1 -0.3 6.6 -0.7 7.1 -1 7.5 -1.4 8 -1.6 8.2 -1.8 8.6 -1.7 9 -1.7 9.2 -1.5 9.5 -1.5 9.7 -1.3 10 -1.3 10.2 -1.2 10.4 -1.2 10.7 -1 10.9 -0.9 11.1 -0.7 11.2 -0.6 11.5 -0.4 11.6 -0.3 11.9 -0.3 12 -0.2 12.1 -0.2 12.4 -0.2 12.4 -0.2 12.7 -0.2 12.8 -0.2 13 0 13.1 0 13.2 0" stroke="#4DBEEE"/>
<path d="M65.5 983.7l2.9 0 4.5 0 5.4 -0.1 6.1 -0.4 6.6 -0.6 7.1 -1 7.5 -1.3 8 -1.5 8.2 -1.7 8.6 -1.6 9 -1.6 9.2 -1.5 9.5 -1.4 9.7 -1.3 10 -1.2 10.2 -1.2 10.4 -1.1 10.7 -0.9 10.9 -0.9 11.1 -0.7 11.2 -0.5 11.5 -0.4 11.6 -0.3 11.9 -0.3 12 -0.2 12.1 -0.1 12.4 -0.3 12.4 -0.2 12.7 -0.1 12.8 -0.2 13 0 13.1 0 13.2 0" stroke="#A2142F"/>
<path d="M65.5 982.6l2.9 0 4.5 -0.1 5.4 -0.1 6.1 -0.3 6.6 -0.6 7.1 -0.9 7.5 -1.3 8 -1.5 8.2 -1.5 8.6 -1.6 9 -1.5 9.2 -1.4 9.5 -1.3 9.7 -1.3 10 -1.1 10.2 -1.1 10.4 -1 10.7 -1 10.9 -0.8 11.1 -0.6 11.2 -0.5 11.5 -0.4 11.6 -0.3 11.9 -0.2 12 -0.2 12.1 -0.2 12.4 -0.2 12.4 -0.2 12.7 -0.2 12.8 -0.1 13 0 13.1 0 13.2 0" stroke="#0072BD"/>
<path d="M65.5 981.4l2.9 0 4.5 0 5.4 -0.1 6.1 -0.3 6.6 -0.6 7.1 -0.9 7.5 -1.2 8 -1.4 8.2 -1.5 8.6 -1.4 9 -1.5 9.2 -1.3 9.5 -1.3 9.7 -1.1 10 -1.1 10.2 -1.1 10.4 -0.9 10.7 -0.9 10.9 -0.7 11.1 -0.7 11.2 -0.5 11.5 -0.3 11.6 -0.3 11.9 -0.2 12 -0.2 12.1 -0.1 12.4 -0.2 12.4 -0.2 12.7 -0.2 12.8 -0.1 13 0 13.1 0 13.2 0" stroke="#D95319"/>
<path d="M65.5 980.2l2.9 0 4.5 0 5.4 -0.1 6.1 -0.3 6.6 -0.5 7.1 -0.9 7.5 -1.1 8 -1.3 8.2 -1.4 8.6 -1.4 9 -1.3 9.2 -1.3 9.5 -1.2 9.7 -1.1 10 -1 10.2 -1 10.4 -0.9 10.7 -0.8 10.9 -0.7 11.1 -0.6 11.2 -0.5 11.5 -0.3 11.6 -0.3 11.9 -0.2 12 -0.1 12.1 -0.2 12.4 -0.2 12.4 -0.1 12.7 -0.2 12.8 -0.1 13 0 13.1 0 13.2 0" stroke="#EDB120"/>
<path d="M65.5 979.1l2.9 0 4.5 0 5.4 -0.1 6.1 -0.3 6.6 -0.5 7.1 -0.8 7.5 -1.1 8 -1.2 8.2 -1.3 8.6 -1.3 9 -1.3 9.2 -1.2 9.5 -1.1 9.7 -1 10 -1 10.2 -0.9 10.4 -0.9 10.7 -0.8 10.9 -0.6 11.1 -0.6 11.2 -0.4 11.5 -0.3 11.6 -0.3 11.9 -0.2 12 -0.1 12.1 -0.1 12.4 -0.2 12.4 -0.2 12.7 -0.1 12.8 -0.1 13 0 13.1 0 13.2 0" stroke="#7E2F8E"/>
<path d="M65.5 977.9l2.9 0 4.5 0 5.4 -0.1 6.1 -0.2 6.6 -0.5 7.1 -0.8 7.5 -1 8 -1.1 8.2 -1.2 8.6 -1.3 9 -1.2 9.2 -1.1 9.5 -1 9.7 -1 10 -0.9 10.2 -0.9 10.4 -0.8 10.7 -0.7 10.9 -0.6 11.1 -0.5 11.2 -0.4 11.5 -0.3 11.6 -0.3 11.9 -0.1 12 -0.2 12.1 -0.1 12.4 -0.1 12.4 -0.2 12.7 -0.1 12.8 -0.1 13 0 13.1 0 13.2 0" stroke="#77AC30"/>
<path d="M65.5 976.8l2.9 0 4.5 0 5.4 -0.1 6.1 -0.3 6.6 -0.4 7.1 -0.7 7.5 -1 8 -1 8.2 -1.2 8.6 -1.1 9 -1.1 9.2 -1.1 9.5 -0.9 9.7 -1 10 -0.8 10.2 -0.8 10.4 -0.7 10.7 -0.7 10.9 -0.6 11.1 -0.5 11.2 -0.4 11.5 -0.2 11.6 -0.2 11.9 -0.2 12 -0.1 12.1 -0.1 12.4 -0.2 12.4 -0.1 12.7 -0.1 12.8 -0.1 13 0 13.1 0 13.2 0" stroke="#4DBEEE"/>
<path d="M65.5 975.6l2.9 0 4.5 0 5.4 -0.1 6.1 -0.2 6.6 -0.4 7.1 -0.7 7.5 -0.8 8 -1 8.2 -1.1 8.6 -1.1 9 -1 9.2 -1 9.5 -0.9 9.7 -0.8 10 -0.8 10.2 -0.7 10.4 -0.7 10.7 -0.6 10.9 -0.6 11.1 -0.4 11.2 -0.4 11.5 -0.2 11.6 -0.2 11.9 -0.2 12 -0.1 12.1 -0.1 12.4 -0.1 12.4 -0.1 12.7 -0.1 12.8 -0.1 13 0 13.1 0 13.2 0" stroke="#A2142F"/>
<path d="M65.5 974.5l2.9 0 4.5 0 5.4 -0.1 6.1 -0.2 6.6 -0.4 7.1 -0.6 7.5 -0.8 8 -0.9 8.2 -1 8.6 -1 9 -1 9.2 -0.8 9.5 -0.9 9.7 -0.8 10 -0.7 10.2 -0.7 10.4 -0.6 10.7 -0.6 10.9 -0.5 11.1 -0.4 11.2 -0.3 11.5 -0.2 11.6 -0.2 11.9 -0.1 12 -0.1 12.1 -0.1 12.4 -0.1 12.4 -0.1 12.7 -0.1 12.8 -0.1 13 0 13.1 0 13.2 0" stroke="#0072BD"/>
<path d="M65.5 973.3l2.9 0 4.5 0 5.4 -0.1 6.1 -0.2 6.6 -0.3 7.1 -0.6 7.5 -0.7 8 -0.9 8.2 -0.9 8.6 -0.9 9 -0.8 9.2 -0.8 9.5 -0.8 9.7 -0.7 10 -0.7 10.2 -0.6 10.4 -0.6 10.7 -0.5 10.9 -0.4 11.1 -0.4 11.2 -0.3 11.5 -0.2 11.6 -0.2 11.9 -0.1 12 -0.1 12.1 -0.1 12.4 -0.1 12.4 -0.1 12.7 0 12.8 -0.1 13 0 13.1 0 13.2 0" stroke="#D95319"/>
<path d="M65.5 972.1l2.9 0 4.5 0 5.4 0 6.1 -0.2 6.6 -0.3 7.1 -0.5 7.5 -0.7 8 -0.8 8.2 -0.8 8.6 -0.8 9 -0.8 9.2 -0.7 9.5 -0.7 9.7 -0.6 10 -0.6 10.2 -0.6 10.4 -0.5 10.7 -0.5 10.9 -0.4 11.1 -0.3 11.2 -0.3 11.5 -0.2 11.6 -0.2 11.9 -0.1 12 0 12.1 -0.1 12.4 -0.1 12.4 -0.1 12.7 -0.1 12.8 0 13 0 13.1 0 13.2 0" stroke="#EDB120"/>
<path d="M65.5 971l2.9 0 4.5 0 5.4 -0.1 6.1 -0.1 6.6 -0.3 7.1 -0.5 7.5 -0.6 8 -0.7 8.2 -0.7 8.6 -0.7 9 -0.7 9.2 -0.7 9.5 -0.6 9.7 -0.6 10 -0.5 10.2 -0.5 10.4 -0.5 10.7 -0.4 10.9 -0.4 11.1 -0.3 11.2 -0.2 11.5 -0.2 11.6 -0.1 11.9 -0.1 12 -0.1 12.1 -0.1 12.4 0 12.4 -0.1 12.7 -0.1 12.8 0 13 0 13.1 0 13.2 0" stroke="#7E2F8E"/>
<path d="M65.5 969.8l2.9 0 4.5 0 5.4 0 6.1 -0.2 6.6 -0.2 7.1 -0.4 7.5 -0.6 8 -0.6 8.2 -0.6 8.6 -0.7 9 -0.6 9.2 -0.6 9.5 -0.5 9.7 -0.5 10 -0.5 10.2 -0.4 10.4 -0.5 10.7 -0.3 10.9 -0.3 11.1 -0.3 11.2 -0.2 11.5 -0.2 11.6 -0.1 11.9 -0.1 12 0 12.1 -0.1 12.4 -0.1 12.4 0 12.7 -0.1 12.8 0 13 0 13.1 0 13.2 0" stroke="#77AC30"/>
<path d="M65.5 968.7l2.9 0 4.5 0 5.4 -0.1 6.1 -0.1 6.6 -0.2 7.1 -0.4 7.5 -0.4 8 -0.6 8.2 -0.5 8.6 -0.6 9 -0.5 9.2 -0.5 9.5 -0.5 9.7 -0.5 10 -0.4 10.2 -0.4 10.4 -0.3 10.7 -0.3 10.9 -0.3 11.1 -0.2 11.2 -0.2 11.5 -0.2 11.6 -0.1 11.9 0 12 -0.1 12.1 0 12.4 -0.1 12.4 0 12.7 -0.1 12.8 0 13 0 13.1 0 13.2 0" stroke="#4DBEEE"/>
<path d="M65.5 967.5l2.9 0 4.5 0 5.4 0 6.1 -0.1 6.6 -0.2 7.1 -0.3 7.5 -0.4 8 -0.5 8.2 -0.4 8.6 -0.5 9 -0.5 9.2 -0.4 9.5 -0.4 9.7 -0.4 10 -0.3 10.2 -0.4 10.4 -0.3 10.7 -0.2 10.9 -0.3 11.1 -0.2 11.2 -0.1 11.5 -0.1 11.6 -0.1 11.9 -0.1 12 0 12.1 -0.1 12.4 0 12.4 -0.1 12.7 0 12.8 0 13 0 13.1 0 13.2 0" stroke="#A2142F"/>
<path d="M65.5 966.3l2.9 0.1 4.5 0 5.4 -0.1 6.1 -0.1 6.6 -0.1 7.1 -0.3 7.5 -0.3 8 -0.4 8.2 -0.4 8.6 -0.3 9 -0.4 9.2 -0.4 9.5 -0.3 9.7 -0.3 10 -0.3 10.2 -0.3 10.4 -0.2 10.7 -0.2 10.9 -0.2 11.1 -0.2 11.2 -0.1 11.5 -0.1 11.6 -0.1 11.9 0 12 -0.1 12.1 0 12.4 0 12.4 -0.1 12.7 0 12.8 0 13 0 13.1 0 13.2 0" stroke="#0072BD"/>
<path d="M65.5 965.2l2.9 0 4.5 0 5.4 0 6.1 -0.1 6.6 -0.1 7.1 -0.2 7.5 -0.3 8 -0.3 8.2 -0.3 8.6 -0.3 9 -0.3 9.2 -0.2 9.5 -0.3 9.7 -0.2 10 -0.3 10.2 -0.2 10.4 -0.2 10.7 -0.1 10.9 -0.2 11.1 -0.1 11.2 -0.1 11.5 -0.1 11.6 0 11.9 -0.1 12 0 12.1 0 12.4 -0.1 12.4 0 12.7 0 12.8 0 13 0 13.1 0 13.2 0" stroke="#D95319"/>
<path d="M65.5 964l2.9 0 4.5 0 5.4 0 6.1 0 6.6 -0.1 7.1 -0.2 7.5 -0.2 8 -0.2 8.2 -0.2 8.6 -0.2 9 -0.2 9.2 -0.2 9.5 -0.2 9.7 -0.2 10 -0.1 10.2 -0.2 10.4 -0.1 10.7 -0.1 10.9 -0.1 11.1 -0.1 11.2 -0.1 11.5 -0.1 11.6 0 11.9 0 12 0 12.1 -0.1 12.4 0 12.4 0 12.7 0 12.8 0 13 0 13.1 0 13.2 0" stroke="#EDB120"/>
<path d="M65.5 962.9l2.9 0 4.5 0 5.4 0 6.1 -0.1 6.6 0 7.1 -0.1 7.5 -0.1 8 -0.1 8.2 -0.2 8.6 -0.1 9 -0.1 9.2 -0.2 9.5 -0.1 9.7 -0.1 10 -0.1 10.2 -0.1 10.4 -0.1 10.7 0 10.9 -0.1 11.1 -0.1 11.2 0 11.5 0 11.6 -0.1 11.9 0 12 0 12.1 0 12.4 0 12.4 0 12.7 0 12.8 0 13 0 13.1 0 13.2 0" stroke="#7E2F8E"/>
<path d="M65.5 961.7l2.9 0 4.5 0 5.4 0 6.1 0 6.6 0 7.1 -0.1 7.5 0 8 0 8.2 -0.1 8.6 0 9 -0.1 9.2 0 9.5 -0.1 9.7 0 10 0 10.2 -0.1 10.4 0 10.7 0 10.9 0 11.1 -0.1 11.2 0 11.5 0 11.6 0 11.9 0 12 0 12.1 0 12.4 0 12.4 0 12.7 0 12.8 0 13 0 13.1 0 13.2 0" stroke="#77AC30"/>
<path d="M65.5 960.6l2.9 0 4.5 0 5.4 0 6.1 0 6.6 0 7.1 0 7.5 0 8 0.1 8.2 0 8.6 0.1 9 0 9.2 0 9.5 0.1 9.7 0 10 0 10.2 0 10.4 0.1 10.7 0 10.9 0 11.1 0 11.2 0 11.5 0 11.6 0.1 11.9 0 12 0 12.1 0 12.4 0 12.4 0 12.7 0 12.8 0 13 0 13.1 0 13.2 0" stroke="#4DBEEE"/>
<path d="M65.5 959.4l2.9 0 4.5 0 5.4 0 6.1 0 6.6 0.1 7.1 0.1 7.5 0.1 8 0.1 8.2 0.1 8.6 0.1 9 0.2 9.2 0.1 9.5 0.1 9.7 0.1 10 0.1 10.2 0.1 10.4 0 10.7 0.1 10.9 0.1 11.1 0 11.2 0.1 11.5 0 11.6 0 11.9 0 12 0 12.1 0 12.4 0.1 12.4 0 12.7 0 12.8 0 13 0 13.1 0 13.2 0" stroke="#A2142F"/>
<path d="M65.5 958.2l2.9 0 4.5 0 5.4 0.1 6.1 0 6.6 0.1 7.1 0.1 7.5 0.2 8 0.2 8.2 0.2 8.6 0.2 9 0.2 9.2 0.2 9.5 0.2 9.7 0.2 10 0.1 10.2 0.2 10.4 0.1 10.7 0.1 10.9 0.1 11.1 0.1 11.2 0.1 11.5 0 11.6 0.1 11.9 0 12 0 12.1 0 12.4 0 12.4 0.1 12.7 0 12.8 0 13 0 13.1 0 13.2 0" stroke="#0072BD"/>
<path d="M65.5 957.1l2.9 0 4.5 0 5.4 0 6.1 0.1 6.6 0.1 7.1 0.2 7.5 0.3 8 0.2 8.2 0.3 8.6 0.3 9 0.3 9.2 0.3 9.5 0.2 9.7 0.3 10 0.2 10.2 0.2 10.4 0.2 10.7 0.2 10.9 0.1 11.1 0.1 11.2 0.1 11.5 0.1 11.6 0 11.9 0.1 12 0 12.1 0 12.4 0 12.4 0 12.7 0.1 12.8 0 13 0 13.1 0 13.2 0" stroke="#D95319"/>
<path d="M65.5 955.9l2.9 0 4.5 0 5.4 0.1 6.1 0.1 6.6 0.1 7.1 0.3 7.5 0.3 8 0.4 8.2 0.3 8.6 0.4 9 0.4 9.2 0.3 9.5 0.4 9.7 0.3 10 0.3 10.2 0.2 10.4 0.3 10.7 0.2 10.9 0.2 11.1 0.1 11.2 0.1 11.5 0.1 11.6 0.1 11.9 0 12 0.1 12.1 0 12.4 0 12.4 0 12.7 0.1 12.8 0 13 0 13.1 0 13.2 0" stroke="#EDB120"/>
<path d="M65.5 954.8l2.9 -0.1 4.5 0 5.4 0.1 6.1 0.1 6.6 0.2 7.1 0.4 7.5 0.3 8 0.5 8.2 0.5 8.6 0.4 9 0.5 9.2 0.4 9.5 0.4 9.7 0.4 10 0.3 10.2 0.4 10.4 0.2 10.7 0.3 10.9 0.2 11.1 0.2 11.2 0.2 11.5 0.1 11.6 0.1 11.9 0 12 0.1 12.1 0 12.4 0 12.4 0 12.7 0.1 12.8 0 13 0 13.1 0 13.2 0" stroke="#7E2F8E"/>
<path d="M65.5 953.6l2.9 0 4.5 0 5.4 0 6.1 0.2 6.6 0.3 7.1 0.3 7.5 0.5 8 0.5 8.2 0.6 8.6 0.5 9 0.6 9.2 0.5 9.5 0.5 9.7 0.4 10 0.4 10.2 0.4 10.4 0.3 10.7 0.3 10.9 0.3 11.1 0.2 11.2 0.2 11.5 0.2 11.6 0 11.9 0.1 12 0 12.1 0.1 12.4 0 12.4 0 12.7 0.1 12.8 0 13 0 13.1 0 13.2 0" stroke="#77AC30"/>
<path d="M65.5 952.5l2.9 -0.1 4.5 0 5.4 0.1 6.1 0.2 6.6 0.3 7.1 0.4 7.5 0.5 8 0.6 8.2 0.7 8.6 0.6 9 0.7 9.2 0.5 9.5 0.6 9.7 0.5 10 0.5 10.2 0.4 10.4 0.4 10.7 0.4 10.9 0.3 11.1 0.3 11.2 0.2 11.5 0.1 11.6 0.1 11.9 0.1 12 0 12.1 0.1 12.4 0 12.4 0 12.7 0.1 12.8 0 13 0 13.1 0 13.2 0" stroke="#4DBEEE"/>
<path d="M65.5 951.3l2.9 0 4.5 0 5.4 0 6.1 0.2 6.6 0.4 7.1 0.5 7.5 0.6 8 0.7 8.2 0.7 8.6 0.7 9 0.7 9.2 0.7 9.5 0.6 9.7 0.6 10 0.6 10.2 0.5 10.4 0.4 10.7 0.4 10.9 0.4 11.1 0.3 11.2 0.2 11.5 0.2 11.6 0.1 11.9 0.1 12 0 12.1 0.1 12.4 0 12.4 0 12.7 0.1 12.8 0 13 0 13.1 0 13.2 0" stroke="#A2142F"/>
<path d="M65.5 950.1l2.9 0 4.5 0 5.4 0.1 6.1 0.2 6.6 0.4 7.1 0.6 7.5 0.6 8 0.8 8.2 0.8 8.6 0.8 9 0.8 9.2 0.8 9.5 0.7 9.7 0.6 10 0.6 10.2 0.6 10.4 0.5 10.7 0.5 10.9 0.4 11.1 0.3 11.2 0.3 11.5 0.2 11.6 0.1 11.9 0.1 12 0 12.1 0.1 12.4 0 12.4 0 12.7 0 12.8 0.1 13 0 13.1 0 13.2 0" stroke="#0072BD"/>
<path d="M65.5 949l2.9 -0.1 4.5 0 5.4 0.1 6.1 0.3 6.6 0.4 7.1 0.6 7.5 0.8 8 0.8 8.2 0.9 8.6 0.9 9 0.9 9.2 0.9 9.5 0.7 9.7 0.8 10 0.6 10.2 0.6 10.4 0.6 10.7 0.5 10.9 0.4 11.1 0.4 11.2 0.3 11.5 0.2 11.6 0.2 11.9 0.1 12 0 12.1 0.1 12.4 0 12.4 0 12.7 0 12.8 0.1 13 0 13.1 0 13.2 0" stroke="#D95319"/>
<path d="M65.5 947.8l2.9 0 4.5 0 5.4 0.1 6.1 0.3 6.6 0.4 7.1 0.7 7.5 0.8 8 1 8.2 1 8.6 1 9 0.9 9.2 0.9 9.5 0.9 9.7 0.8 10 0.7 10.2 0.7 10.4 0.6 10.7 0.6 10.9 0.4 11.1 0.4 11.2 0.4 11.5 0.2 11.6 0.2 11.9 0.1 12 0 12.1 0.1 12.4 0 12.4 0 12.7 0 12.8 0.1 13 0 13.1 0 13.2 0" stroke="#EDB120"/>
<path d="M65.5 946.7l2.9 -0.1 4.5 0 5.4 0.1 6.1 0.3 6.6 0.6 7.1 0.7 7.5 0.9 8 1 8.2 1.1 8.6 1.1 9 1 9.2 1 9.5 1 9.7 0.8 10 0.8 10.2 0.7 10.4 0.7 10.7 0.6 10.9 0.5 11.1 0.5 11.2 0.3 11.5 0.3 11.6 0.1 11.9 0.2 12 0 12.1 0.1 12.4 0 12.4 0 12.7 0 12.8 0.1 13 0 13.1 0 13.2 0" stroke="#7E2F8E"/>
<path d="M65.5 945.5l2.9 -0.1 4.5 0 5.4 0.2 6.1 0.3 6.6 0.6 7.1 0.8 7.5 1 8 1 8.2 1.2 8.6 1.2 9 1.1 9.2 1.1 9.5 1 9.7 0.9 10 0.9 10.2 0.8 10.4 0.7 10.7 0.7 10.9 0.5 11.1 0.5 11.2 0.4 11.5 0.2 11.6 0.2 11.9 0.2 12 0 12.1 0.1 12.4 0 12.4 0 12.7 0.1 12.8 0 13 0 13.1 0 13.2 0" stroke="#77AC30"/>
<path d="M65.5 944.3l2.9 0 4.5 0 5.4 0.1 6.1 0.4 6.6 0.6 7.1 0.9 7.5 1 8 1.2 8.2 1.2 8.6 1.3 9 1.2 9.2 1.2 9.5 1.1 9.7 1 10 0.9 10.2 0.8 10.4 0.8 10.7 0.7 10.9 0.6 11.1 0.5 11.2 0.4 11.5 0.3 11.6 0.2 11.9 0.2 12 0 12.1 0.1 12.4 0 12.4 0 12.7 0.1 12.8 0 13 0 13.1 0 13.2 0" stroke="#4DBEEE"/>
<path d="M65.5 943.2l2.9 -0.1 4.5 0 5.4 0.2 6.1 0.4 6.6 0.6 7.1 0.9 7.5 1.2 8 1.2 8.2 1.4 8.6 1.3 9 1.3 9.2 1.3 9.5 1.1 9.7 1.1 10 1 10.2 0.9 10.4 0.8 10.7 0.8 10.9 0.6 11.1 0.6 11.2 0.4 11.5 0.3 11.6 0.2 11.9 0.2 12 0 12.1 0.1 12.4 0 12.4 0 12.7 0.1 12.8 0 13 0 13.1 0 13.2 0" stroke="#A2142F"/>
<path d="M65.5 942l2.9 -0.1 4.5 0 5.4 0.2 6.1 0.4 6.6 0.8 7.1 0.9 7.5 1.2 8 1.4 8.2 1.4 8.6 1.4 9 1.4 9.2 1.4 9.5 1.2 9.7 1.1 10 1.1 10.2 1 10.4 0.8 10.7 0.8 10.9 0.7 11.1 0.6 11.2 0.4 11.5 0.4 11.6 0.2 11.9 0.2 12 0 12.1 0.1 12.4 0 12.4 0 12.7 0.1 12.8 0 13 0 13.1 0 13.2 0" stroke="#0072BD"/>
<path d="M65.5 940.9l2.9 -0.1 4.5 0 5.4 0.1 6.1 0.5 6.6 0.8 7.1 1 7.5 1.3 8 1.4 8.2 1.5 8.6 1.6 9 1.4 9.2 1.4 9.5 1.4 9.7 1.2 10 1.1 10.2 1 10.4 0.9 10.7 0.9 10.9 0.7 11.1 0.6 11.2 0.5 11.5 0.4 11.6 0.2 11.9 0.2 12 0 12.1 0.1 12.4 0 12.4 0 12.7 0.1 12.8 0 13 0 13.1 0 13.2 0" stroke="#D95319"/>
<path d="M65.5 939.7l2.9 -0.1 4.5 0 5.4 0.2 6.1 0.5 6.6 0.8 7.1 1.1 7.5 1.4 8 1.5 8.2 1.6 8.6 1.6 9 1.5 9.2 1.5 9.5 1.4 9.7 1.3 10 1.2 10.2 1.1 10.4 1 10.7 0.8 10.9 0.8 11.1 0.7 11.2 0.5 11.5 0.4 11.6 0.2 11.9 0.2 12 0 12.1 0.1 12.4 0 12.4 0 12.7 0.1 12.8 0 13 0 13.1 0 13.2 0" stroke="#EDB120"/>
<path d="M65.5 938.6l2.9 -0.2 4.5 0 5.4 0.2 6.1 0.6 6.6 0.8 7.1 1.2 7.5 1.4 8 1.6 8.2 1.7 8.6 1.7 9 1.6 9.2 1.6 9.5 1.5 9.7 1.4 10 1.2 10.2 1.1 10.4 1.1 10.7 0.9 10.9 0.8 11.1 0.7 11.2 0.5 11.5 0.4 11.6 0.3 11.9 0.2 12 0.1 12.1 0 12.4 0 12.4 0 12.7 0.1 12.8 0 13 0 13.1 0 13.2 0" stroke="#7E2F8E"/>
<path d="M65.5 937.4l2.9 -0.1 4.5 -0.1 5.4 0.3 6.1 0.5 6.6 0.9 7.1 1.3 7.5 1.5 8 1.7 8.2 1.7 8.6 1.8 9 1.8 9.2 1.6 9.5 1.6 9.7 1.4 10 1.3 10.2 1.2 10.4 1.1 10.7 1 10.9 0.8 11.1 0.7 11.2 0.6 11.5 0.4 11.6 0.3 11.9 0.2 12 0.1 12.1 0 12.4 0 12.4 0 12.7 0.1 12.8 0 13 0 13.1 0 13.2 0" stroke="#77AC30"/>
<path d="M65.5 936.2l2.9 -0.1 4.5 0 5.4 0.2 6.1 0.6 6.6 1 7.1 1.3 7.5 1.5 8 1.8 8.2 1.9 8.6 1.8 9 1.9 9.2 1.7 9.5 1.6 9.7 1.5 10 1.4 10.2 1.3 10.4 1.1 10.7 1 10.9 0.9 11.1 0.8 11.2 0.6 11.5 0.4 11.6 0.3 11.9 0.2 12 0.1 12.1 0 12.4 0 12.4 0.1 12.7 0 12.8 0 13 0 13.1 0 13.2 0" stroke="#4DBEEE"/>
<path d="M65.5 935.1l2.9 -0.2 4.5 0 5.4 0.3 6.1 0.6 6.6 1 7.1 1.4 7.5 1.6 8 1.8 8.2 2 8.6 2 9 1.9 9.2 1.8 9.5 1.7 9.7 1.6 10 1.4 10.2 1.3 10.4 1.2 10.7 1.1 10.9 0.9 11.1 0.8 11.2 0.6 11.5 0.5 11.6 0.3 11.9 0.2 12 0.1 12.1 0 12.4 0 12.4 0.1 12.7 0 12.8 0 13 0 13.1 0 13.2 0" stroke="#A2142F"/>
<path d="M65.5 933.9l2.9 -0.1 4.5 -0.1 5.4 0.3 6.1 0.7 6.6 1 7.1 1.4 7.5 1.8 8 1.9 8.2 2 8.6 2.1 9 2 9.2 1.9 9.5 1.8 9.7 1.6 10 1.5 10.2 1.4 10.4 1.2 10.7 1.1 10.9 1 11.1 0.8 11.2 0.7 11.5 0.5 11.6 0.3 11.9 0.2 12 0.1 12.1 0 12.4 0 12.4 0.1 12.7 0 12.8 0 13 0 13.1 0 13.2 0" stroke="#0072BD"/>
<path d="M65.5 932.8l2.9 -0.2 4.5 0 5.4 0.3 6.1 0.6 6.6 1.1 7.1 1.5 7.5 1.8 8 2 8.2 2.2 8.6 2.1 9 2.1 9.2 2 9.5 1.8 9.7 1.7 10 1.6 10.2 1.4 10.4 1.3 10.7 1.2 10.9 1 11.1 0.9 11.2 0.7 11.5 0.5 11.6 0.3 11.9 0.2 12 0.1 12.1 0 12.4 0.1 12.4 0 12.7 0 12.8 0 13 0 13.1 0 13.2 0" stroke="#D95319"/>
<path d="M65.5 931.6l2.9 -0.2 4.5 0 5.4 0.3 6.1 0.7 6.6 1.2 7.1 1.5 7.5 1.9 8 2.1 8.2 2.2 8.6 2.2 9 2.2 9.2 2.1 9.5 1.9 9.7 1.8 10 1.6 10.2 1.5 10.4 1.4 10.7 1.2 10.9 1 11.1 0.9 11.2 0.7 11.5 0.5 11.6 0.4 11.9 0.2 12 0.1 12.1 0 12.4 0.1 12.4 0 12.7 0 12.8 0 13 0 13.1 0 13.2 0" stroke="#EDB120"/>
<path d="M65.5 930.4l2.9 -0.1 4.5 -0.1 5.4 0.4 6.1 0.7 6.6 1.2 7.1 1.6 7.5 1.9 8 2.2 8.2 2.3 8.6 2.3 9 2.3 9.2 2.1 9.5 2.1 9.7 1.8 10 1.7 10.2 1.6 10.4 1.4 10.7 1.2 10.9 1.1 11.1 0.9 11.2 0.8 11.5 0.5 11.6 0.4 11.9 0.2 12 0.1 12.1 0 12.4 0.1 12.4 0 12.7 0 12.8 0 13 0 13.1 0 13.2 0" stroke="#7E2F8E"/>
<path d="M65.5 929.3l2.9 -0.2 4.5 0 5.4 0.3 6.1 0.8 6.6 1.2 7.1 1.7 7.5 2 8 2.3 8.2 2.3 8.6 2.4 9 2.4 9.2 2.2 9.5 2.1 9.7 1.9 10 1.8 10.2 1.6 10.4 1.5 10.7 1.3 10.9 1.1 11.1 1 11.2 0.7 11.5 0.6 11.6 0.4 11.9 0.2 12 0.1 12.1 0.1 12.4 0 12.4 0 12.7 0 12.8 0 13 0 13.1 0 13.2 0" stroke="#77AC30"/>
<path d="M65.5 928.1l2.9 -0.2 4.5 0 5.4 0.3 6.1 0.8 6.6 1.3 7.1 1.8 7.5 2.1 8 2.3 8.2 2.5 8.6 2.5 9 2.4 9.2 2.3 9.5 2.2 9.7 2 10 1.8 10.2 1.7 10.4 1.5 10.7 1.3 10.9 1.2 11.1 1 11.2 0.8 11.5 0.6 11.6 0.4 11.9 0.2 12 0.1 12.1 0.1 12.4 0 12.4 0 12.7 0 12.8 0 13 0 13.1 0 13.2 0" stroke="#4DBEEE"/>
<path d="M65.5 927l2.9 -0.2 4.5 -0.1 5.4 0.4 6.1 0.8 6.6 1.4 7.1 1.7 7.5 2.2 8 2.4 8.2 2.6 8.6 2.6 9 2.5 9.2 2.4 9.5 2.2 9.7 2.1 10 1.9 10.2 1.7 10.4 1.6 10.7 1.4 10.9 1.2 11.1 1 11.2 0.9 11.5 0.6 11.6 0.4 11.9 0.2 12 0.1 12.1 0.1 12.4 0 12.4 0 12.7 0 12.8 0 13 0 13.1 0 13.2 0" stroke="#A2142F"/>
<path d="M65.5 925.8l2.9 -0.2 4.5 0 5.4 0.3 6.1 0.9 6.6 1.4 7.1 1.8 7.5 2.3 8 2.5 8.2 2.6 8.6 2.7 9 2.6 9.2 2.5 9.5 2.3 9.7 2.1 10 2 10.2 1.8 10.4 1.6 10.7 1.4 10.9 1.3 11.1 1.1 11.2 0.8 11.5 0.6 11.6 0.5 11.9 0.2 12 0.1 12.1 0.1 12.4 0 12.4 0 12.7 0 12.8 0 13 0 13.1 0 13.2 0" stroke="#0072BD"/>
<path d="M65.5 924.7l2.9 -0.3 4.5 0 5.4 0.4 6.1 0.9 6.6 1.4 7.1 1.9 7.5 2.3 8 2.6 8.2 2.7 8.6 2.8 9 2.7 9.2 2.5 9.5 2.4 9.7 2.2 10 2.1 10.2 1.8 10.4 1.7 10.7 1.5 10.9 1.3 11.1 1.1 11.2 0.9 11.5 0.6 11.6 0.4 11.9 0.3 12 0.1 12.1 0.1 12.4 0 12.4 0 12.7 0 12.8 0 13 0 13.1 0 13.2 0" stroke="#D95319"/>
<path d="M65.5 923.5l2.9 -0.2 4.5 -0.1 5.4 0.4 6.1 0.9 6.6 1.5 7.1 2 7.5 2.4 8 2.6 8.2 2.9 8.6 2.8 9 2.8 9.2 2.6 9.5 2.5 9.7 2.3 10 2.1 10.2 1.9 10.4 1.7 10.7 1.5 10.9 1.4 11.1 1.1 11.2 0.9 11.5 0.7 11.6 0.4 11.9 0.3 12 0.1 12.1 0.1 12.4 0 12.4 0 12.7 0 12.8 0 13 0 13.1 0 13.2 0 66 0" stroke="#EDB120" stroke-width="2.5"/></g>
<line class="dsh" x1="346" y1="1192.3" x2="346" y2="962.1"/>
<g class="tl"><text x="58.5" y="890" text-anchor="end">45</text><text x="58.5" y="967.1" text-anchor="end">25</text><text x="58.5" y="1044.2" text-anchor="end">5</text><text x="58.5" y="1121.2" text-anchor="end">−15</text><text x="58.5" y="1198.3" text-anchor="end">−35</text><text x="65.5" y="1212.8" text-anchor="middle">0</text><text x="163.4" y="1212.8" text-anchor="middle">0.3</text><text x="261.2" y="1212.8" text-anchor="middle">0.6</text><text x="359.1" y="1212.8" text-anchor="middle">0.9</text><text x="457" y="1212.8" text-anchor="middle">1.2</text></g>
<text class="xl" x="261.2" y="1243.3" text-anchor="middle">Time (s)</text>
<text class="xl yl" transform="translate(18.0 1038.2) rotate(-90)" text-anchor="middle">Angle of roll (deg)</text>
<text class="pl" x="0.2" y="880.1">(c)</text>
<text class="cap" x="100.8" y="1278.4" textLength="84.7" lengthAdjust="spacingAndGlyphs">Response</text>
<text class="cap" x="190.2" y="1278.4" textLength="19.1" lengthAdjust="spacingAndGlyphs">of</text>
<text class="cap" x="212.7" y="1278.4" textLength="33.2" lengthAdjust="spacingAndGlyphs">roll</text>
<text class="cap" x="251.2" y="1278.4" textLength="70.1" lengthAdjust="spacingAndGlyphs">channel</text>
<text class="cap" x="325.9" y="1278.4" textLength="47" lengthAdjust="spacingAndGlyphs">when</text>
<text class="cap beta" transform="translate(382.5 1278.4) skewX(-14)" x="0" y="0">β</text>
<text class="cap" x="394.2" y="1278.4" textLength="14.4" lengthAdjust="spacingAndGlyphs">=</text>
<text class="cap" x="410.9" y="1278.4" font-style="italic">5</text>
</svg></body></html>
